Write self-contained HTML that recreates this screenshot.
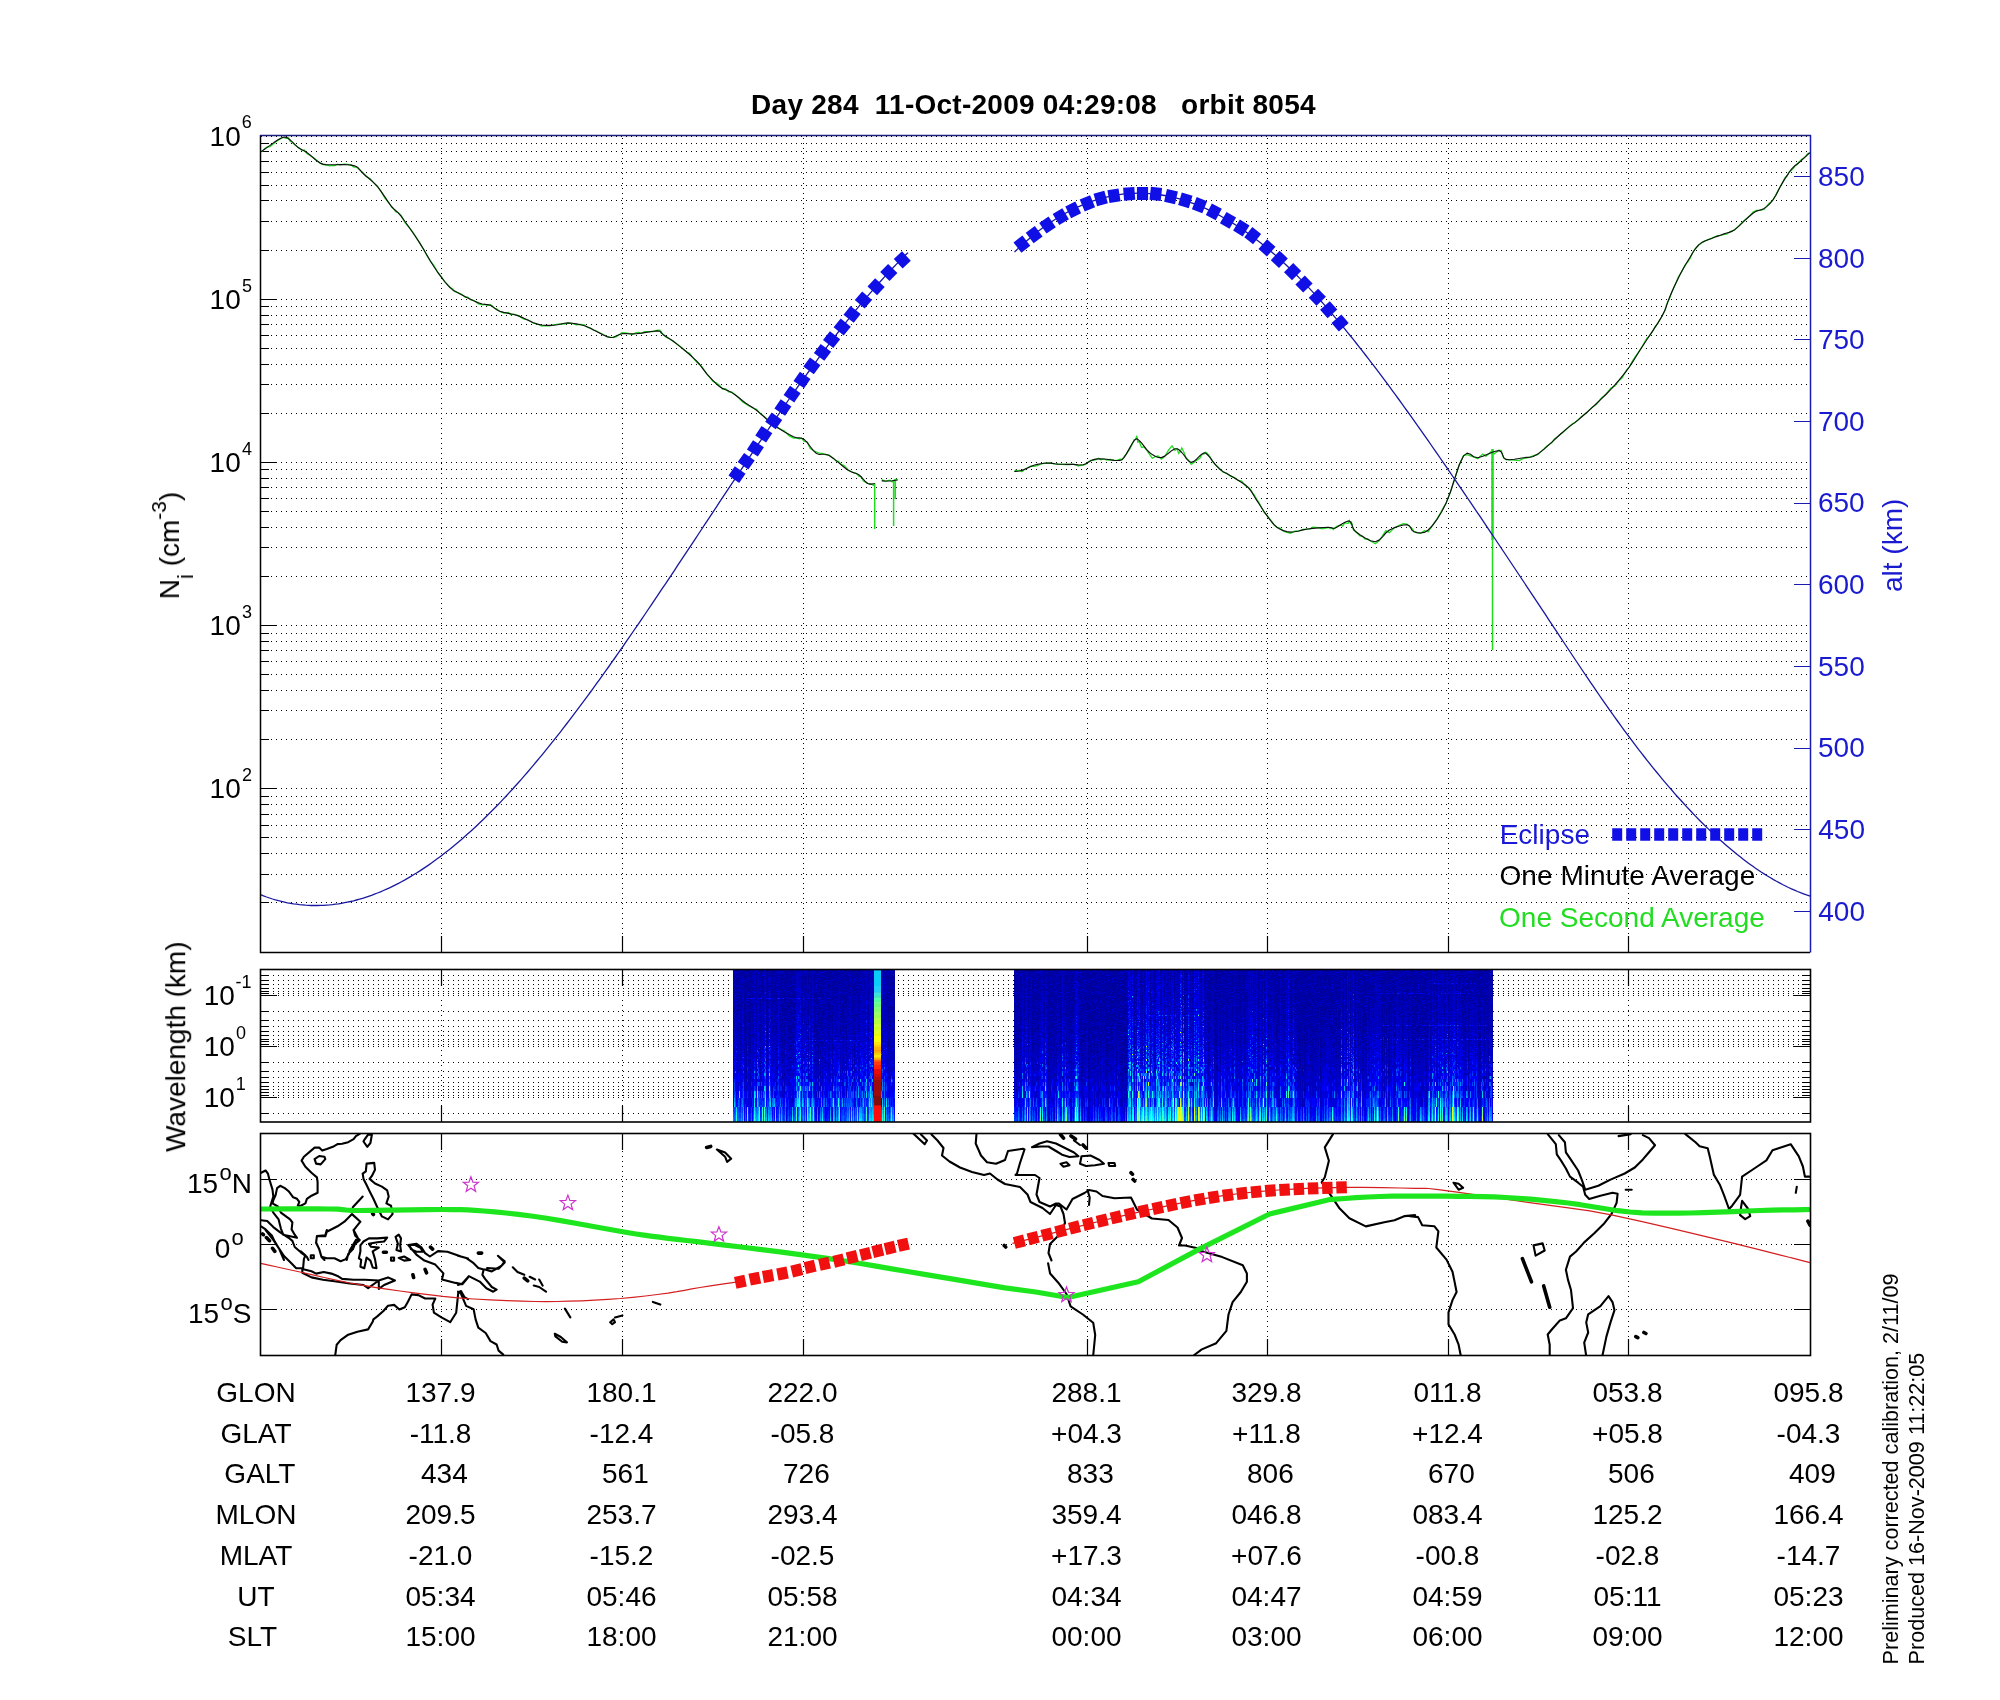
<!DOCTYPE html>
<html><head><meta charset="utf-8"><style>html,body{margin:0;padding:0;background:#fff;overflow:hidden}svg{display:block;will-change:transform}text{white-space:pre}</style></head>
<body><svg width="2000" height="1700" viewBox="0 0 2000 1700">
<rect width="2000" height="1700" fill="#fff"/>
<path d="M261 136.5H1810M261 143.5H1810M261 151.5H1810M261 161.5H1810M261 172.5H1810M261 185.5H1810M261 200.5H1810M261 221.5H1810M261 250.5H1810M261 299.5H1810M261 306.5H1810M261 315.5H1810M261 324.5H1810M261 335.5H1810M261 348.5H1810M261 364.5H1810M261 384.5H1810M261 413.5H1810M261 462.5H1810M261 469.5H1810M261 478.5H1810M261 487.5H1810M261 498.5H1810M261 511.5H1810M261 527.5H1810M261 547.5H1810M261 576.5H1810M261 625.5H1810M261 633.5H1810M261 641.5H1810M261 650.5H1810M261 661.5H1810M261 674.5H1810M261 690.5H1810M261 710.5H1810M261 739.5H1810M261 788.5H1810M261 796.5H1810M261 804.5H1810M261 814.5H1810M261 825.5H1810M261 837.5H1810M261 853.5H1810M261 874.5H1810M261 902.5H1810" stroke="#000" stroke-width="1" stroke-dasharray="1 4" fill="none"/>
<path d="M441.5 138V952M622.5 138V952M803.5 138V952M1087.5 138V952M1267.5 138V952M1448.5 138V952M1628.5 138V952" stroke="#000" stroke-width="1" stroke-dasharray="1 4" fill="none"/>
<path d="M261 902.5h8M261 874.5h8M261 853.5h8M261 837.5h8M261 825.5h8M261 814.5h8M261 804.5h8M261 796.5h8M261 788.5h16M261 739.5h8M261 710.5h8M261 690.5h8M261 674.5h8M261 661.5h8M261 650.5h8M261 641.5h8M261 633.5h8M261 625.5h16M261 576.5h8M261 547.5h8M261 527.5h8M261 511.5h8M261 498.5h8M261 487.5h8M261 478.5h8M261 469.5h8M261 462.5h16M261 413.5h8M261 384.5h8M261 364.5h8M261 348.5h8M261 335.5h8M261 324.5h8M261 315.5h8M261 306.5h8M261 299.5h16M261 250.5h8M261 221.5h8M261 200.5h8M261 185.5h8M261 172.5h8M261 161.5h8M261 151.5h8M261 143.5h8M261 135.5h16M441.5 952v-16M622.5 952v-16M803.5 952v-16M1087.5 952v-16M1267.5 952v-16M1448.5 952v-16M1628.5 952v-16" stroke="#000" stroke-width="1.2" fill="none"/>
<path d="M1810 911.5h-16M1810 829.5h-16M1810 748.5h-16M1810 666.5h-16M1810 584.5h-16M1810 503.5h-16M1810 421.5h-16M1810 339.5h-16M1810 258.5h-16M1810 176.5h-16" stroke="#1a1ab4" stroke-width="1.2" fill="none"/>
<polyline points="260.2,151.7 261.2,151.5 262.6,150.9 264.5,148.9 266.8,147 270,146.6 273.8,143.5 277.7,140.4 280.9,138.4 283.1,137.4 284.7,137.8 286.1,138.4 287.9,137.4 290.1,141.3 292.5,142.5 295,145 297.4,146.8 299.7,148.4 302,150.6 304.4,149.9 306.8,153.6 309.4,154.8 312.2,156.9 314.9,158.8 317.4,161.2 319.4,162.6 321,163.7 322.9,164.5 325.6,164.9 329.7,165.9 332.2,165.3 334.8,165.6 337.4,164.1 339.9,164.8 344.4,164.1 348,164.5 351,164.9 353.8,167.1 356.2,167 358.1,168.6 359.5,169.8 361.1,171.2 363.2,173 366.2,176.4 369.9,178.4 373.7,182.9 377.4,186.1 381,191.1 384.7,197.8 388.3,202 391.5,206.9 394,209.2 395.9,211.9 398,212.5 400.9,215.2 405,222.7 410,228.6 412.6,232 415.1,235.6 419.7,243.2 423.6,249.5 427,255.7 430.4,261.2 433.8,265.3 437.4,271.9 441.1,276.3 444.7,281.8 447.9,284.9 450.3,287.5 452.2,288.8 454.3,291.4 457.4,292.5 462.1,294.5 464.9,297.2 467.8,297.1 470.7,299.9 473.6,300.3 478.5,303.8 482.2,304.9 485.1,304.3 487.7,305.6 490.3,304.6 492.6,306.6 494.6,308.3 496.7,308.9 499.7,311.4 503.7,313.2 508.5,312.4 511,314.7 513.6,314.1 518.5,315.7 523.3,319 528.1,319.8 532.8,322.8 537.4,324 541.7,326.1 545.9,325.6 549.9,325.8 553.8,324.8 557.5,324.1 560.9,324.2 564.3,324 568,323.2 572.1,323.5 576.4,324.9 580.6,324.4 584.4,324.9 587.6,327.4 590.4,328.2 593.2,330 596.2,331 599.6,332.9 603.3,334.5 606.9,336.6 610.3,337.2 613.3,337.5 616.1,336.9 619,334.8 622,332.6 625.2,333 628.5,333.5 632.1,334.6 636.2,332.6 638.8,332.5 641.4,333.5 644.4,331.6 647.5,331.7 650.3,331.6 653.2,331.5 657.6,330.1 659.9,330.2 660.7,332.4 661.3,331.8 662.9,334.3 665.7,337 669.1,338.7 672.9,340.9 677,344.1 681.7,347.8 684.3,350 687,352.3 689.6,353.4 692.1,356.7 696.5,362 699.7,364.8 702.2,367.2 704.5,370.6 707,374.2 710,377.6 713.1,381.4 716.3,382.8 719.4,385.2 722.5,389.1 725.5,388.6 728.6,391.9 731.8,392.2 735.3,394.7 739,398 742.6,401.9 745.9,404 748.6,405.7 751,407 753.4,408.2 756.5,409.2 760.4,413.6 764.8,416.9 769.4,421.4 774.1,426 779,428.3 781.6,429.8 784.2,430.7 789.2,435.9 793.5,438 796.7,438.1 799.2,438.8 801.5,438.1 804.1,441.3 807.1,441.8 810.2,448.5 813.4,450.5 816.5,452 819.4,453.1 822.2,453.5 825.2,454.5 828.8,455 833.4,458.2 836,460.9 838.6,461.3 841.2,464.7 843.8,465.4 848.2,470 851.5,471.5 854.2,472.8 856.5,473.5 858.8,476.2 861.2,476.8 863.4,481.1 865.6,482.2 867.6,483.3 869.7,483.7 871.7,484.3 873.5,485.4 874.7,483.5" stroke="#22dd22" stroke-width="1.3" fill="none"/>
<polyline points="881.7,479.4 883.2,480.5 885.4,481.5 887.8,480.7 890,480.1 892.1,481.9 894.3,479.9 896.3,479.2 897.6,480" stroke="#22dd22" stroke-width="1.3" fill="none"/>
<polyline points="1014.4,471.6 1015.7,470.1 1017.5,471.1 1019.6,470.2 1022,471.6 1024.6,469.5 1027.6,467.7 1030.7,466.2 1033.9,466.4 1037.3,465.6 1040.8,464 1044.3,463.1 1047.5,463.1 1050.2,462.9 1052.5,463.7 1054.9,463.9 1057.7,464.1 1061.3,464.4 1065.3,464.5 1069.4,464.5 1073,464.1 1075.9,465 1078.4,466 1080.8,464.9 1083.2,465 1085.8,464.1 1088.3,461.7 1090.9,460.3 1093.4,460.3 1095.9,459.7 1098.3,458.3 1100.8,459.9 1103.6,459 1106.9,460 1110.6,459.5 1114.2,460.4 1117.2,460.4 1119.3,459.4 1120.8,459.2 1122.2,459.6 1124,456.8 1126.4,453.9 1129.2,449.9 1131.9,444.9 1134.2,439.6 1135.7,439.4 1136.8,435.8 1137.8,442.2 1139.3,441.5 1141.5,447.4 1144,446.8 1146.7,450.1 1149.5,454.4 1152.3,458.2 1155.2,456.6 1158.3,456 1161.4,459.2 1164.8,456.3 1168.5,450.2 1172,445.8 1175,450.3 1177.1,448.9 1178.7,453.4 1180.1,451.7 1181.8,448 1183.9,452.3 1186.2,458.3 1188.7,460.5 1191.2,464.3 1194,462.4 1197,460 1199.8,458.2 1202.2,454.1 1203.7,454 1204.7,453.4 1205.7,452.2 1207.3,453.4 1209.7,456.3 1212.6,461.6 1215.8,465.1 1219.2,468.2 1222.8,472 1226.7,473.4 1230.7,476.4 1234.5,477.7 1238.1,480.5 1241.7,481.2 1245.1,485.6 1248.1,487.3 1250.5,489.5 1252.6,493.1 1254.5,495.4 1256.6,499.2 1259,502.7 1261.6,507.7 1264.2,512.3 1266.8,515.1 1269.3,518.4 1271.7,521.3 1274.2,524.8 1277,527.6 1280.1,528.2 1283.4,531.2 1286.9,532.4 1290.6,533.2 1294.5,531.2 1298.7,531.2 1303,529.5 1307.6,529.1 1310.2,528.9 1312.8,527.2 1315.6,527.3 1318.4,527.6 1321.1,528.7 1323.8,528.7 1328,527.5 1330.6,528.6 1332,527.9 1333.2,529.6 1334.8,528 1337.2,526 1340,525.1 1342.7,525.9 1345,522.6 1346.7,523.4 1348.1,523.4 1349.3,520.6 1350.6,523.5 1351.6,522.4 1352.4,526.6 1353.6,530.3 1355.9,531.7 1359.9,536 1362.5,536.4 1365.1,539.1 1367.8,539 1370.5,541 1375.3,543.8 1379.1,540.8 1382.5,535.9 1385.8,530.6 1389.4,532.6 1393.8,528.3 1398.6,525.5 1403.3,523.6 1407,524.1 1409.3,526.3 1410.8,527.6 1412.1,528.8 1414.1,531.7 1417,532.7 1420.5,533.2 1424.3,530.6 1428.2,531.8 1432.4,525.3 1436.8,519.4 1441.4,511.2 1445.9,503.4 1450.4,492.1 1454.9,478.2 1459.3,464.6 1463.5,455.6 1467.1,454.7 1470.4,455.8 1473.7,456.9 1477.7,458.8 1480.3,456.2 1482.8,454.1 1485.8,456.1 1488.7,453.9 1491.5,451.2 1494.3,453.8 1498.8,450.3 1501.3,450.6 1502.6,455.3 1503.7,458.1 1505.9,459.6 1509.7,459.9 1514.3,460 1519.2,460.7 1523.6,458.4 1527,457.8 1530,457.2 1533.3,455.7 1537.7,454.7 1540.9,451.6 1544.1,448.7 1546.7,446.2 1549.3,444.3 1551.9,442.8 1554.5,438.7 1557.1,437.1 1559.6,434.7 1562.8,432.4 1565.9,429.8 1570,425.8 1572.7,423.6 1575.1,422.5 1578.2,419.8 1582.4,415.8 1587,412.6 1591.8,407.4 1596.5,404.3 1601.1,398.1 1605.8,394.6 1610.4,388.6 1614.7,385.9 1618.6,381.1 1622.3,377.5 1625.9,370.9 1629.3,366.8 1632.4,361.2 1635.3,356.7 1638.3,352.6 1642,346.8 1646.8,338.5 1649.6,335.7 1652.4,331.7 1655.1,326.6 1657.8,323.3 1662.1,316 1664.8,310.7 1666.4,305.3 1667.7,302.2 1669.4,298.8 1671.5,292.9 1673.8,287.8 1676.2,282.3 1678.5,276.8 1680.7,273.5 1682.9,269.4 1685.2,264.9 1687.6,262.1 1690.2,258.2 1692.9,252 1695.7,248.2 1698.6,245.2 1701.7,242.8 1704.8,241.2 1708.1,239.7 1711.3,238.7 1714.5,236.9 1717.8,235.7 1721,235.3 1724.1,234.3 1726.8,234.1 1729.2,232.3 1731.8,230.9 1735,229.8 1739.2,225.4 1744.1,220.6 1749.1,216.4 1753.3,211.9 1756.6,210.3 1759.3,210.3 1761.8,209.9 1764.2,209.2 1766.6,206.4 1768.9,203.5 1771.1,202.1 1773.3,199.4 1775.6,195.4 1777.8,191.1 1780.1,186.7 1782.4,183 1784.7,178.2 1787.1,176.1 1789.4,171.8 1791.5,170.2 1793.4,168.4 1795,165.5 1796.8,164.4 1798.8,162.2 1801.5,159.4 1804.8,157.3 1807.7,153.6 1809.8,152.8" stroke="#22dd22" stroke-width="1.3" fill="none"/>
<path d="M874.7 483V529M893.6 480V526M895.3 481V499M1492.5 449V650" stroke="#22dd22" stroke-width="1.5" fill="none"/>
<path d="M1492.5 449V540" stroke="#22dd22" stroke-width="2.4" fill="none"/>
<polyline points="260.2,152.4 261.2,151.6 262.6,150.6 264.5,149.2 266.8,147.6 270,145.4 273.8,142.6 277.7,140 280.9,138.2 283.1,137.3 284.7,137.1 286.1,137.4 287.9,138.2 290.1,139.8 292.5,142.2 295,144.7 297.4,146.9 299.7,148.4 302,149.7 304.4,150.9 306.8,152.4 309.4,154.5 312.2,156.9 314.9,159.2 317.4,161.1 319.4,162.4 321,163.4 322.9,164.1 325.6,164.6 329.7,164.8 334.8,164.7 339.9,164.5 344.4,164.6 348,164.8 351,165.1 353.8,165.6 356.2,166.5 358.1,167.8 359.5,169.3 361.1,171.2 363.2,173.5 366.2,176.2 369.9,179.2 373.7,182.6 377.4,186.5 381,191.3 384.7,196.7 388.3,202.1 391.5,206.5 394,209.2 395.9,210.8 398,212.6 400.9,215.9 405,221.5 410,228.5 415.1,236 419.7,242.9 423.6,249.2 427,255.2 430.4,261 433.8,266.5 437.4,271.8 441.1,276.9 444.7,281.5 447.9,285.3 450.3,287.8 452.2,289.4 454.3,290.7 457.4,292.4 462.1,295 467.8,297.9 473.6,300.8 478.5,302.9 482.2,304 485.1,304.4 487.7,304.6 490.3,305.3 492.6,306.6 494.6,308.1 496.7,309.7 499.7,311.2 503.7,312.4 508.5,313.4 513.6,314.5 518.5,315.9 523.3,317.9 528.1,320.2 532.8,322.5 537.4,324.1 541.7,325 545.9,325.4 549.9,325.4 553.8,325.3 557.5,324.8 560.9,324 564.3,323.2 568,322.9 572.1,323.2 576.4,323.9 580.6,324.8 584.4,325.8 587.6,327 590.4,328.3 593.2,329.7 596.2,331.2 599.6,332.9 603.3,334.9 606.9,336.6 610.3,337.5 613.3,337.2 616.1,336 619,334.7 622,333.8 625.2,333.6 628.5,333.8 632.1,333.9 636.2,333.8 641.4,333.1 647.5,332.1 653.2,331.2 657.6,330.9 659.9,331.2 660.7,331.9 661.3,332.9 662.9,334.4 665.7,336.2 669.1,338.4 672.9,341 677,344.1 681.7,347.9 687,352.3 692.1,356.8 696.5,360.9 699.7,364.5 702.2,367.8 704.5,370.9 707,374.1 710,377.4 713.1,380.7 716.3,383.9 719.4,386.5 722.5,388.4 725.5,389.7 728.6,390.9 731.8,392.6 735.3,395 739,397.8 742.6,400.7 745.9,403.2 748.6,405 751,406.5 753.4,408.1 756.5,410.3 760.4,413.6 764.8,417.5 769.4,421.6 774.1,425.3 779,428.6 784.2,431.8 789.2,434.6 793.5,436.8 796.7,437.8 799.2,437.9 801.5,438.2 804.1,439.4 807.1,442.4 810.2,446.5 813.4,450.6 816.5,453.5 819.4,454.5 822.2,454.3 825.2,454.2 828.8,455.3 833.4,458.4 838.6,462.6 843.8,467 848.2,470.3 851.5,472 854.2,472.9 856.5,473.5 858.8,474.7 861.2,476.8 863.4,479.4 865.6,481.8 867.6,483.5 869.7,484.1 871.7,484.1 873.5,483.7 874.7,483.5" stroke="#101010" stroke-width="1.15" fill="none" stroke-linejoin="round"/>
<polyline points="881.7,480.9 883.2,480.9 885.4,481 887.8,481 890,481 892.1,480.8 894.3,480.5 896.3,480.2 897.6,480" stroke="#101010" stroke-width="1.15" fill="none" stroke-linejoin="round"/>
<polyline points="1014.4,471.5 1015.7,471.4 1017.5,471.3 1019.6,471 1022,470.4 1024.6,469.3 1027.6,467.9 1030.7,466.5 1033.9,465.3 1037.3,464.4 1040.8,463.8 1044.3,463.3 1047.5,463 1050.2,463.1 1052.5,463.4 1054.9,463.8 1057.7,464.1 1061.3,464.2 1065.3,464.3 1069.4,464.3 1073,464.4 1075.9,464.6 1078.4,464.9 1080.8,465 1083.2,464.7 1085.8,463.7 1088.3,462.2 1090.9,460.7 1093.4,459.6 1095.9,459.1 1098.3,458.9 1100.8,458.9 1103.6,459 1106.9,459.3 1110.6,459.9 1114.2,460.4 1117.2,460.5 1119.3,460.4 1120.8,460.2 1122.2,459.4 1124,457.6 1126.4,453.9 1129.2,448.9 1131.9,444 1134.2,440.6 1135.7,439.1 1136.8,438.8 1137.8,439.4 1139.3,440.6 1141.5,442.9 1144,446.2 1146.7,449.7 1149.5,452.5 1152.3,454.6 1155.2,456.3 1158.3,457.5 1161.4,457.6 1164.8,456.1 1168.5,453.3 1172,450.4 1175,448.8 1177.1,448.7 1178.7,449.5 1180.1,450.8 1181.8,452.5 1183.9,455 1186.2,458.2 1188.7,461.1 1191.2,462.4 1194,461.4 1197,458.7 1199.8,455.8 1202.2,453.9 1203.7,453.1 1204.7,452.8 1205.7,453.2 1207.3,454.5 1209.7,457.2 1212.6,461.1 1215.8,465.2 1219.2,468.7 1222.8,471.4 1226.7,473.6 1230.7,475.8 1234.5,478 1238.1,480.3 1241.7,482.5 1245.1,484.8 1248.1,487.4 1250.5,490.3 1252.6,493.4 1254.5,496.7 1256.6,500.1 1259,503.8 1261.6,507.8 1264.2,511.8 1266.8,515.4 1269.3,518.8 1271.7,522 1274.2,524.9 1277,527.3 1280.1,529.2 1283.4,530.6 1286.9,531.6 1290.6,532.1 1294.5,531.8 1298.7,531 1303,529.9 1307.6,529 1312.8,528.4 1318.4,527.9 1323.8,527.5 1328,527.3 1330.6,527.5 1332,528 1333.2,528.4 1334.8,528.2 1337.2,527.1 1340,525.3 1342.7,523.5 1345,522.2 1346.7,521.5 1348.1,521.1 1349.3,521.1 1350.6,521.9 1351.6,523.7 1352.4,526.2 1353.6,529.1 1355.9,531.8 1359.9,534.8 1365.1,538.1 1370.5,540.7 1375.3,541.7 1379.1,540.1 1382.5,536.8 1385.8,533 1389.4,530 1393.8,527.9 1398.6,526.2 1403.3,525 1407,524.7 1409.3,525.8 1410.8,528 1412.1,530.4 1414.1,531.8 1417,532.6 1420.5,533 1424.3,532.4 1428.2,530 1432.4,525.6 1436.8,519.7 1441.4,512.3 1445.9,503.6 1450.4,492 1454.9,478 1459.3,464.8 1463.5,455.9 1467.1,453.1 1470.4,454.3 1473.7,456.7 1477.7,457.7 1482.8,456.2 1488.7,453.7 1494.3,451.5 1498.8,450.6 1501.3,451.9 1502.6,454.7 1503.7,457.6 1505.9,459.4 1509.7,459.8 1514.3,459.3 1519.2,458.5 1523.6,457.7 1527,457.4 1530,457.3 1533.3,456.5 1537.7,454.1 1544.1,449.1 1551.9,442.1 1559.6,435 1565.9,429.4 1570,426.1 1572.7,424.1 1575.1,422.4 1578.2,419.9 1582.4,416.3 1587,412.2 1591.8,407.9 1596.5,403.5 1601.1,399.1 1605.8,394.5 1610.4,389.8 1614.7,385.2 1618.6,380.7 1622.3,376.2 1625.9,371.7 1629.3,367 1632.4,362.4 1635.3,357.8 1638.3,352.8 1642,347 1646.8,339.7 1652.4,331.4 1657.8,323.1 1662.1,316 1664.8,310.6 1666.4,306.2 1667.7,302.1 1669.4,297.7 1671.5,292.7 1673.8,287.6 1676.2,282.5 1678.5,277.7 1680.7,273.3 1682.9,269.3 1685.2,265.3 1687.6,261.3 1690.2,257 1692.9,252.5 1695.7,248.3 1698.6,244.9 1701.7,242.6 1704.8,241 1708.1,239.7 1711.3,238.5 1714.5,237.2 1717.8,236.1 1721,235 1724.1,233.9 1726.8,233 1729.2,232.4 1731.8,231.4 1735,229.4 1739.2,225.9 1744.1,221.2 1749.1,216.5 1753.3,213 1756.6,211.1 1759.3,210.2 1761.8,209.6 1764.2,208.4 1766.6,206.6 1768.9,204.6 1771.1,202.2 1773.3,199.3 1775.6,195.7 1777.8,191.4 1780.1,187 1782.4,182.9 1784.7,179.1 1787.1,175.4 1789.4,172 1791.5,169.2 1793.4,167.2 1795,165.8 1796.8,164.5 1798.8,162.8 1801.5,160.3 1804.8,157.4 1807.7,154.7 1809.8,152.8" stroke="#101010" stroke-width="1.15" fill="none" stroke-linejoin="round"/>
<polyline points="260.5,894.7 263.5,895.9 266.5,897 269.5,898 272.5,899 275.5,899.9 278.5,900.7 281.5,901.4 284.5,902.1 287.5,902.8 290.5,903.3 293.5,903.8 296.5,904.2 299.5,904.6 302.5,904.9 305.5,905.2 308.5,905.3 311.5,905.5 314.5,905.5 317.5,905.5 320.5,905.4 323.5,905.3 326.5,905.1 329.5,904.9 332.5,904.6 335.5,904.2 338.5,903.8 341.5,903.3 344.5,902.7 347.5,902.1 350.5,901.5 353.5,900.8 356.5,900 359.5,899.2 362.5,898.3 365.5,897.3 368.5,896.3 371.5,895.3 374.5,894.1 377.5,893 380.5,891.8 383.5,890.5 386.5,889.2 389.5,887.8 392.5,886.3 395.5,884.8 398.5,883.3 401.5,881.7 404.5,880.1 407.5,878.4 410.5,876.6 413.5,874.8 416.5,873 419.5,871.1 422.5,869.1 425.5,867.1 428.5,865.1 431.5,863 434.5,860.8 437.5,858.6 440.5,856.4 443.5,854.1 446.5,851.8 449.5,849.4 452.5,847 455.5,844.5 458.5,842 461.5,839.4 464.5,836.8 467.5,834.1 470.5,831.4 473.5,828.7 476.5,825.9 479.5,823.1 482.5,820.2 485.5,817.3 488.5,814.3 491.5,811.3 494.5,808.3 497.5,805.2 500.5,802.1 503.5,798.9 506.5,795.7 509.5,792.4 512.5,789.2 515.5,785.8 518.5,782.5 521.5,779.1 524.5,775.6 527.5,772.2 530.5,768.7 533.5,765.1 536.5,761.5 539.5,757.9 542.5,754.3 545.5,750.6 548.5,746.9 551.5,743.2 554.5,739.4 557.5,735.6 560.5,731.8 563.5,727.9 566.5,724 569.5,720.1 572.5,716.2 575.5,712.2 578.5,708.2 581.5,704.2 584.5,700.1 587.5,696.1 590.5,692 593.5,687.9 596.5,683.7 599.5,679.6 602.5,675.4 605.5,671.2 608.5,667 611.5,662.7 614.5,658.5 617.5,654.2 620.5,649.9 623.5,645.6 626.5,641.2 629.5,636.9 632.5,632.5 635.5,628.2 638.5,623.8 641.5,619.4 644.5,615 647.5,610.5 650.5,606.1 653.5,601.6 656.5,597.2 659.5,592.7 662.5,588.2 665.5,583.8 668.5,579.3 671.5,574.8 674.5,570.3 677.5,565.7 680.5,561.2 683.5,556.7 686.5,552.2 689.5,547.6 692.5,543.1 695.5,538.6 698.5,534 701.5,529.5 704.5,524.9 707.5,520.4 710.5,515.8 713.5,511.3 716.5,506.8 719.5,502.2 722.5,497.7 725.5,493.2 728.5,488.6 731.5,484.1 734.5,479.6 737.5,475.1 740.5,470.6 743.5,466.1 746.5,461.6 749.5,457.1 752.5,452.6 755.5,448.2 758.5,443.7 761.5,439.3 764.5,434.9 767.5,430.5 770.5,426.1 773.5,421.7 776.5,417.3 779.5,413 782.5,408.6 785.5,404.3 788.5,400 791.5,395.7 794.5,391.5 797.5,387.2 800.5,383 803.5,378.8 806.5,374.7 809.5,370.5 812.5,366.4 815.5,362.3 818.5,358.2 821.5,354.2 824.5,350.2 827.5,346.2 830.5,342.2 833.5,338.3 836.5,334.4 839.5,330.5 842.5,326.7 845.5,322.9 848.5,319.1 851.5,315.4 854.5,311.7 857.5,308.1 860.5,304.4 863.5,300.9 866.5,297.3 869.5,293.8 872.5,290.3 875.5,286.9 878.5,283.5 881.5,280.2 884.5,276.9 887.5,273.6 890.5,270.4 893.5,267.2 896.5,264.1 899.5,261 902.5,258 905.5,255 908,252.6" stroke="#1818a0" stroke-width="1.3" fill="none"/>
<polyline points="1014.5,252 1017.5,249.1 1020.5,246.3 1023.5,243.6 1026.5,241 1029.5,238.4 1032.5,235.9 1035.5,233.5 1038.5,231.1 1041.5,228.8 1044.5,226.6 1047.5,224.5 1050.5,222.4 1053.5,220.5 1056.5,218.5 1059.5,216.7 1062.5,214.9 1065.5,213.2 1068.5,211.6 1071.5,210 1074.5,208.6 1077.5,207.1 1080.5,205.8 1083.5,204.5 1086.5,203.3 1089.5,202.2 1092.5,201.1 1095.5,200.1 1098.5,199.2 1101.5,198.3 1104.5,197.5 1107.5,196.8 1110.5,196.1 1113.5,195.6 1116.5,195 1119.5,194.6 1122.5,194.2 1125.5,193.9 1128.5,193.6 1131.5,193.4 1134.5,193.3 1137.5,193.2 1140.5,193.2 1143.5,193.3 1146.5,193.4 1149.5,193.6 1152.5,193.8 1155.5,194.1 1158.5,194.5 1161.5,195 1164.5,195.5 1167.5,196 1170.5,196.7 1173.5,197.4 1176.5,198.1 1179.5,198.9 1182.5,199.8 1185.5,200.7 1188.5,201.7 1191.5,202.8 1194.5,203.9 1197.5,205 1200.5,206.3 1203.5,207.6 1206.5,208.9 1209.5,210.3 1212.5,211.8 1215.5,213.3 1218.5,214.9 1221.5,216.5 1224.5,218.2 1227.5,219.9 1230.5,221.8 1233.5,223.6 1236.5,225.5 1239.5,227.5 1242.5,229.5 1245.5,231.6 1248.5,233.7 1251.5,235.9 1254.5,238.2 1257.5,240.5 1260.5,242.8 1263.5,245.2 1266.5,247.7 1269.5,250.2 1272.5,252.7 1275.5,255.3 1278.5,258 1281.5,260.7 1284.5,263.5 1287.5,266.3 1290.5,269.2 1293.5,272.1 1296.5,275 1299.5,278.1 1302.5,281.1 1305.5,284.2 1308.5,287.4 1311.5,290.6 1314.5,293.9 1317.5,297.2 1320.5,300.5 1323.5,303.9 1326.5,307.3 1329.5,310.8 1332.5,314.3 1335.5,317.8 1338.5,321.4 1341.5,325 1344.5,328.6 1347.5,332.3 1350.5,336 1353.5,339.7 1356.5,343.5 1359.5,347.3 1362.5,351.1 1365.5,355 1368.5,358.9 1371.5,362.8 1374.5,366.7 1377.5,370.7 1380.5,374.6 1383.5,378.6 1386.5,382.7 1389.5,386.7 1392.5,390.8 1395.5,394.9 1398.5,399 1401.5,403.2 1404.5,407.3 1407.5,411.5 1410.5,415.7 1413.5,419.9 1416.5,424.1 1419.5,428.4 1422.5,432.6 1425.5,436.9 1428.5,441.2 1431.5,445.5 1434.5,449.8 1437.5,454.2 1440.5,458.5 1443.5,462.9 1446.5,467.2 1449.5,471.6 1452.5,476 1455.5,480.4 1458.5,484.8 1461.5,489.2 1464.5,493.6 1467.5,498 1470.5,502.4 1473.5,506.9 1476.5,511.3 1479.5,515.7 1482.5,520.2 1485.5,524.6 1488.5,529.1 1491.5,533.6 1494.5,538 1497.5,542.5 1500.5,547 1503.5,551.5 1506.5,556 1509.5,560.5 1512.5,565 1515.5,569.5 1518.5,574 1521.5,578.5 1524.5,583 1527.5,587.6 1530.5,592.1 1533.5,596.6 1536.5,601.1 1539.5,605.7 1542.5,610.2 1545.5,614.7 1548.5,619.3 1551.5,623.8 1554.5,628.3 1557.5,632.9 1560.5,637.4 1563.5,642 1566.5,646.5 1569.5,651 1572.5,655.5 1575.5,660 1578.5,664.5 1581.5,669 1584.5,673.5 1587.5,677.9 1590.5,682.3 1593.5,686.7 1596.5,691.1 1599.5,695.5 1602.5,699.8 1605.5,704.1 1608.5,708.4 1611.5,712.6 1614.5,716.8 1617.5,721 1620.5,725.2 1623.5,729.3 1626.5,733.3 1629.5,737.4 1632.5,741.4 1635.5,745.3 1638.5,749.3 1641.5,753.1 1644.5,757 1647.5,760.8 1650.5,764.6 1653.5,768.3 1656.5,772 1659.5,775.7 1662.5,779.3 1665.5,782.8 1668.5,786.4 1671.5,789.8 1674.5,793.3 1677.5,796.7 1680.5,800 1683.5,803.3 1686.5,806.6 1689.5,809.8 1692.5,813 1695.5,816.1 1698.5,819.2 1701.5,822.2 1704.5,825.2 1707.5,828.1 1710.5,831 1713.5,833.9 1716.5,836.7 1719.5,839.4 1722.5,842.1 1725.5,844.7 1728.5,847.3 1731.5,849.8 1734.5,852.3 1737.5,854.8 1740.5,857.1 1743.5,859.4 1746.5,861.7 1749.5,863.9 1752.5,866.1 1755.5,868.2 1758.5,870.2 1761.5,872.2 1764.5,874.1 1767.5,876 1770.5,877.8 1773.5,879.6 1776.5,881.3 1779.5,882.9 1782.5,884.5 1785.5,886 1788.5,887.5 1791.5,888.9 1794.5,890.2 1797.5,891.5 1800.5,892.7 1803.5,893.8 1806.5,894.9 1809.5,895.9 1810,896.1" stroke="#1818a0" stroke-width="1.3" fill="none"/>
<path d="M728.5 475.5 734.8 466.3 745.5 473.7 739.2 482.9zM737.7 462 744.1 452.9 754.7 460.4 748.3 469.5zM746.9 449.5 753 440.2 763.9 447.3 757.8 456.6zM755.3 435.4 761.5 426 772.3 433.2 766.1 442.6zM765.2 421.7 771.7 412.6 782.2 420.1 775.7 429.2zM774.4 408.4 780.7 399.2 791.4 406.6 785.1 415.8zM783.6 395 790 385.8 800.6 393.2 794.2 402.4zM793.5 380.9 799.9 371.7 810.5 379.1 804.1 388.3zM803.3 366.4 810 357.4 820.5 365.2 813.8 374.2zM813.9 353 820.7 344 831.1 351.8 824.3 360.8zM823 340.1 829.9 331.3 840.2 339.3 833.3 348.1zM833.6 327.3 840.7 318.6 850.8 326.7 843.7 335.4zM843.5 314.7 850.5 305.9 860.7 313.9 853.7 322.7zM854.8 300.1 862.2 291.6 872 300.1 864.6 308.6zM867.5 286.4 875.1 278.2 884.7 287 877.1 295.2zM880.2 272 888.1 264 897.4 273 889.5 281zM893.8 259 902 251.3 910.8 260.8 902.6 268.5z" fill="#1010e6"/>
<path d="M1013.5 242.4 1022.4 235.5 1030.3 245.8 1021.4 252.7zM1025.8 232.7 1034.8 226 1042.6 236.5 1033.6 243.2zM1039.2 222.9 1048.5 216.6 1055.8 227.3 1046.5 233.6zM1052.7 213.9 1062.3 208.2 1068.9 219.3 1059.3 225zM1065.3 206.6 1075.3 201.6 1081.1 213.2 1071.1 218.2zM1079.7 199.4 1090.1 195.2 1095.1 207.2 1084.7 211.4zM1093.5 193.8 1104.3 190.7 1107.9 203.2 1097.1 206.3zM1107.4 190.2 1118.5 188.4 1120.6 201.2 1109.5 203zM1123.1 187.8 1134.3 186.9 1135.3 199.8 1124.1 200.7zM1136.9 187 1148.1 187 1148.1 200 1136.9 200zM1150.9 186.7 1162.1 187.9 1160.7 200.9 1149.5 199.7zM1167 189 1177.9 191.5 1175 204.2 1164.1 201.7zM1181.8 192.6 1192.5 195.8 1188.8 208.2 1178.1 205zM1196.7 197.1 1207.1 201.2 1202.3 213.3 1191.9 209.2zM1211.9 203.4 1221.8 208.7 1215.7 220.2 1205.8 214.9zM1226.5 212 1236.1 217.6 1229.5 228.8 1219.9 223.2zM1239.9 219.5 1249.5 225.4 1242.7 236.5 1233.1 230.6zM1252.3 227 1261.1 233.9 1253.1 244.2 1244.3 237.3zM1267.1 239.3 1275.5 246.8 1266.9 256.5 1258.5 249zM1279.6 250.7 1287.8 258.4 1279 267.9 1270.8 260.2zM1293.2 263.1 1301.2 271.1 1292 280.3 1284 272.3zM1304.8 275.5 1312.6 283.5 1303.2 292.5 1295.4 284.5zM1318.1 288.8 1325.9 296.8 1316.5 305.8 1308.7 297.8zM1329.8 301.2 1337.3 309.6 1327.6 318.2 1320.1 309.8zM1341.4 314.5 1348.7 323 1338.8 331.5 1331.5 323z" fill="#1010e6"/>
<path d="M1612.2 828.3 1622.2 828.3 1622.2 840.7 1612.2 840.7zM1626.2 828.3 1636.2 828.3 1636.2 840.7 1626.2 840.7zM1640.2 828.3 1650.2 828.3 1650.2 840.7 1640.2 840.7zM1654.2 828.3 1664.2 828.3 1664.2 840.7 1654.2 840.7zM1668.2 828.3 1678.2 828.3 1678.2 840.7 1668.2 840.7zM1682.2 828.3 1692.2 828.3 1692.2 840.7 1682.2 840.7zM1696.2 828.3 1706.2 828.3 1706.2 840.7 1696.2 840.7zM1710.2 828.3 1720.2 828.3 1720.2 840.7 1710.2 840.7zM1724.2 828.3 1734.2 828.3 1734.2 840.7 1724.2 840.7zM1738.2 828.3 1748.2 828.3 1748.2 840.7 1738.2 840.7zM1752.2 828.3 1762.2 828.3 1762.2 840.7 1752.2 840.7z" fill="#1010e6"/>
<path d="M260.5 135V952.5H1810" stroke="#000" stroke-width="1.5" fill="none"/>
<path d="M260 135.5H1811" stroke="#1c1c7c" stroke-width="1.6" fill="none"/>
<path d="M1810.5 135V952.5" stroke="#1a1ab4" stroke-width="1.5" fill="none"/>
<path d="M263 975.5H1810M263 980.5H1810M263 984.5H1810M263 988.5H1810M263 991.5H1810M263 993.5H1810M263 995.5H1810M263 1011.5H1810M263 1020.5H1810M263 1026.5H1810M263 1031.5H1810M263 1035.5H1810M263 1039.5H1810M263 1041.5H1810M263 1044.5H1810M263 1046.5H1810M263 1062.5H1810M263 1071.5H1810M263 1077.5H1810M263 1082.5H1810M263 1086.5H1810M263 1089.5H1810M263 1092.5H1810M263 1095.5H1810M263 1097.5H1810M263 1113.5H1810" stroke="#000" stroke-width="1" stroke-dasharray="1 4" fill="none"/>
<path d="M441.5 1000V1121M622.5 1000V1121M803.5 1000V1121M1087.5 1000V1121M1267.5 1000V1121M1448.5 1000V1121M1628.5 1000V1121" stroke="#000" stroke-width="1" stroke-dasharray="1 4" fill="none"/>
<path d="M261 975.5h8M1810 975.5h-8M261 980.5h8M1810 980.5h-8M261 984.5h8M1810 984.5h-8M261 988.5h8M1810 988.5h-8M261 991.5h8M1810 991.5h-8M261 993.5h8M1810 993.5h-8M261 995.5h16M1810 995.5h-16M261 1011.5h8M1810 1011.5h-8M261 1020.5h8M1810 1020.5h-8M261 1026.5h8M1810 1026.5h-8M261 1031.5h8M1810 1031.5h-8M261 1035.5h8M1810 1035.5h-8M261 1039.5h8M1810 1039.5h-8M261 1041.5h8M1810 1041.5h-8M261 1044.5h8M1810 1044.5h-8M261 1046.5h16M1810 1046.5h-16M261 1062.5h8M1810 1062.5h-8M261 1071.5h8M1810 1071.5h-8M261 1077.5h8M1810 1077.5h-8M261 1082.5h8M1810 1082.5h-8M261 1086.5h8M1810 1086.5h-8M261 1089.5h8M1810 1089.5h-8M261 1092.5h8M1810 1092.5h-8M261 1095.5h8M1810 1095.5h-8M261 1097.5h16M1810 1097.5h-16M261 1113.5h8M1810 1113.5h-8M441.5 970v16M441.5 1122v-16M622.5 970v16M622.5 1122v-16M803.5 970v16M803.5 1122v-16M1087.5 970v16M1087.5 1122v-16M1267.5 970v16M1267.5 1122v-16M1448.5 970v16M1448.5 1122v-16M1628.5 970v16M1628.5 1122v-16" stroke="#000" stroke-width="1.2" fill="none"/>
<defs><pattern id="sp" width="43" height="31" patternUnits="userSpaceOnUse"><rect width="43" height="31" fill="#00009f"/><path d="M6 0h1v1h-1zM11 0h1v1h-1zM16 0h1v1h-1zM21 0h1v1h-1zM23 0h1v1h-1zM25 0h1v1h-1zM26 0h1v1h-1zM0 1h1v1h-1zM1 1h1v1h-1zM2 1h1v1h-1zM5 1h1v1h-1zM14 1h1v1h-1zM16 1h1v1h-1zM19 1h1v1h-1zM23 1h1v1h-1zM24 1h1v1h-1zM25 1h1v1h-1zM27 1h1v1h-1zM35 1h1v1h-1zM39 1h1v1h-1zM41 1h1v1h-1zM7 2h1v1h-1zM8 2h1v1h-1zM9 2h1v1h-1zM12 2h1v1h-1zM13 2h1v1h-1zM22 2h1v1h-1zM24 2h1v1h-1zM27 2h1v1h-1zM32 2h1v1h-1zM34 2h1v1h-1zM4 3h1v1h-1zM11 3h1v1h-1zM31 3h1v1h-1zM8 4h1v1h-1zM15 4h1v1h-1zM24 4h1v1h-1zM25 4h1v1h-1zM31 4h1v1h-1zM34 4h1v1h-1zM35 4h1v1h-1zM37 4h1v1h-1zM38 4h1v1h-1zM39 4h1v1h-1zM3 5h1v1h-1zM7 5h1v1h-1zM10 5h1v1h-1zM12 5h1v1h-1zM22 5h1v1h-1zM30 5h1v1h-1zM31 5h1v1h-1zM34 5h1v1h-1zM12 6h1v1h-1zM18 6h1v1h-1zM25 6h1v1h-1zM33 6h1v1h-1zM1 7h1v1h-1zM7 7h1v1h-1zM18 7h1v1h-1zM21 7h1v1h-1zM28 7h1v1h-1zM33 7h1v1h-1zM36 7h1v1h-1zM41 7h1v1h-1zM3 8h1v1h-1zM9 8h1v1h-1zM12 8h1v1h-1zM15 8h1v1h-1zM17 8h1v1h-1zM18 8h1v1h-1zM20 8h1v1h-1zM21 8h1v1h-1zM25 8h1v1h-1zM32 8h1v1h-1zM34 8h1v1h-1zM2 9h1v1h-1zM6 9h1v1h-1zM9 9h1v1h-1zM11 9h1v1h-1zM12 9h1v1h-1zM19 9h1v1h-1zM21 9h1v1h-1zM22 9h1v1h-1zM26 9h1v1h-1zM30 9h1v1h-1zM38 9h1v1h-1zM6 10h1v1h-1zM7 10h1v1h-1zM9 10h1v1h-1zM13 10h1v1h-1zM19 10h1v1h-1zM20 10h1v1h-1zM21 10h1v1h-1zM25 10h1v1h-1zM28 10h1v1h-1zM32 10h1v1h-1zM40 10h1v1h-1zM2 11h1v1h-1zM4 11h1v1h-1zM6 11h1v1h-1zM15 11h1v1h-1zM22 11h1v1h-1zM23 11h1v1h-1zM26 11h1v1h-1zM31 11h1v1h-1zM32 11h1v1h-1zM36 11h1v1h-1zM38 11h1v1h-1zM40 11h1v1h-1zM1 12h1v1h-1zM2 12h1v1h-1zM4 12h1v1h-1zM8 12h1v1h-1zM10 12h1v1h-1zM16 12h1v1h-1zM28 12h1v1h-1zM30 12h1v1h-1zM34 12h1v1h-1zM35 12h1v1h-1zM37 12h1v1h-1zM41 12h1v1h-1zM0 13h1v1h-1zM1 13h1v1h-1zM4 13h1v1h-1zM22 13h1v1h-1zM23 13h1v1h-1zM24 13h1v1h-1zM28 13h1v1h-1zM31 13h1v1h-1zM32 13h1v1h-1zM33 13h1v1h-1zM42 13h1v1h-1zM3 14h1v1h-1zM5 14h1v1h-1zM10 14h1v1h-1zM21 14h1v1h-1zM24 14h1v1h-1zM26 14h1v1h-1zM2 15h1v1h-1zM5 15h1v1h-1zM6 15h1v1h-1zM7 15h1v1h-1zM10 15h1v1h-1zM18 15h1v1h-1zM21 15h1v1h-1zM24 15h1v1h-1zM42 15h1v1h-1zM0 16h1v1h-1zM9 16h1v1h-1zM25 16h1v1h-1zM27 16h1v1h-1zM33 16h1v1h-1zM1 17h1v1h-1zM5 17h1v1h-1zM18 17h1v1h-1zM19 17h1v1h-1zM20 17h1v1h-1zM23 17h1v1h-1zM24 17h1v1h-1zM29 17h1v1h-1zM41 17h1v1h-1zM42 17h1v1h-1zM0 18h1v1h-1zM1 18h1v1h-1zM2 18h1v1h-1zM4 18h1v1h-1zM14 18h1v1h-1zM15 18h1v1h-1zM16 18h1v1h-1zM22 18h1v1h-1zM26 18h1v1h-1zM33 18h1v1h-1zM37 18h1v1h-1zM9 19h1v1h-1zM13 19h1v1h-1zM15 19h1v1h-1zM21 19h1v1h-1zM24 19h1v1h-1zM27 19h1v1h-1zM32 19h1v1h-1zM37 19h1v1h-1zM42 19h1v1h-1zM7 20h1v1h-1zM8 20h1v1h-1zM18 20h1v1h-1zM29 20h1v1h-1zM30 20h1v1h-1zM32 20h1v1h-1zM36 20h1v1h-1zM37 20h1v1h-1zM41 20h1v1h-1zM2 21h1v1h-1zM3 21h1v1h-1zM9 21h1v1h-1zM13 21h1v1h-1zM14 21h1v1h-1zM26 21h1v1h-1zM29 21h1v1h-1zM35 21h1v1h-1zM37 21h1v1h-1zM40 21h1v1h-1zM9 22h1v1h-1zM11 22h1v1h-1zM20 22h1v1h-1zM26 22h1v1h-1zM27 22h1v1h-1zM29 22h1v1h-1zM2 23h1v1h-1zM3 23h1v1h-1zM4 23h1v1h-1zM7 23h1v1h-1zM8 23h1v1h-1zM12 23h1v1h-1zM14 23h1v1h-1zM20 23h1v1h-1zM21 23h1v1h-1zM23 23h1v1h-1zM24 23h1v1h-1zM29 23h1v1h-1zM32 23h1v1h-1zM36 23h1v1h-1zM41 23h1v1h-1zM3 24h1v1h-1zM5 24h1v1h-1zM9 24h1v1h-1zM10 24h1v1h-1zM16 24h1v1h-1zM27 24h1v1h-1zM35 24h1v1h-1zM38 24h1v1h-1zM42 24h1v1h-1zM7 25h1v1h-1zM8 25h1v1h-1zM12 25h1v1h-1zM14 25h1v1h-1zM19 25h1v1h-1zM22 25h1v1h-1zM25 25h1v1h-1zM30 25h1v1h-1zM32 25h1v1h-1zM34 25h1v1h-1zM8 26h1v1h-1zM9 26h1v1h-1zM22 26h1v1h-1zM26 26h1v1h-1zM28 26h1v1h-1zM29 26h1v1h-1zM30 26h1v1h-1zM34 26h1v1h-1zM36 26h1v1h-1zM40 26h1v1h-1zM42 26h1v1h-1zM10 27h1v1h-1zM14 27h1v1h-1zM18 27h1v1h-1zM32 27h1v1h-1zM34 27h1v1h-1zM38 27h1v1h-1zM41 27h1v1h-1zM9 28h1v1h-1zM22 28h1v1h-1zM25 28h1v1h-1zM26 28h1v1h-1zM27 28h1v1h-1zM29 28h1v1h-1zM35 28h1v1h-1zM1 29h1v1h-1zM5 29h1v1h-1zM7 29h1v1h-1zM9 29h1v1h-1zM11 29h1v1h-1zM16 29h1v1h-1zM24 29h1v1h-1zM40 29h1v1h-1zM2 30h1v1h-1zM6 30h1v1h-1zM9 30h1v1h-1zM11 30h1v1h-1zM12 30h1v1h-1zM14 30h1v1h-1zM15 30h1v1h-1zM21 30h1v1h-1zM22 30h1v1h-1zM23 30h1v1h-1zM24 30h1v1h-1zM33 30h1v1h-1zM40 30h1v1h-1z" fill="#0000bf"/><path d="M17 0h1v1h-1zM28 0h1v1h-1zM29 0h1v1h-1zM36 0h1v1h-1zM17 2h1v1h-1zM28 4h1v1h-1zM33 4h1v1h-1zM1 5h1v1h-1zM39 5h1v1h-1zM37 7h1v1h-1zM5 8h1v1h-1zM3 9h1v1h-1zM14 9h1v1h-1zM25 9h1v1h-1zM33 9h1v1h-1zM8 10h1v1h-1zM30 10h1v1h-1zM3 11h1v1h-1zM5 11h1v1h-1zM15 12h1v1h-1zM27 12h1v1h-1zM38 13h1v1h-1zM31 14h1v1h-1zM33 14h1v1h-1zM18 16h1v1h-1zM21 16h1v1h-1zM39 16h1v1h-1zM4 17h1v1h-1zM37 17h1v1h-1zM17 18h1v1h-1zM11 19h1v1h-1zM33 19h1v1h-1zM23 20h1v1h-1zM42 20h1v1h-1zM24 22h1v1h-1zM18 23h1v1h-1zM42 23h1v1h-1zM2 24h1v1h-1zM21 25h1v1h-1zM42 25h1v1h-1zM23 26h1v1h-1zM42 27h1v1h-1zM2 28h1v1h-1zM7 28h1v1h-1zM4 29h1v1h-1zM10 29h1v1h-1zM20 29h1v1h-1zM37 30h1v1h-1zM42 30h1v1h-1z" fill="#0000df"/></pattern></defs><g shape-rendering="crispEdges"><rect x="733" y="970" width="162" height="152" fill="url(#sp)"/><rect x="1014" y="970" width="479" height="152" fill="url(#sp)"/>
<g transform="translate(0.5 0)">
<path stroke="#0000bf" d="M733 1054v1m0 2v1m0 2v12m0 4v7m0 3v7M734 981v1m0 12v1m0 1v1m0 3v1m0 2v4m0 4v1m0 2v3m0 1v1m0 2v2m0 1v1m0 1v1m0 1v7m0 1v7m0 1v1m0 1v4m0 1v1m0 1v1m0 2v1M735 982v1m0 4v1m0 1v3m0 3v1m0 3v2m0 3v1m0 1v1m0 5v4m0 1v3m0 1v2m0 1v9m0 2v1m0 1v1m0 1v1m0 2v2m0 1v3m0 1v1m0 2v1m0 1v1m0 1v1m0 4v1M736 986v1m0 7v1m0 2v2m0 5v1m0 1v3m0 2v2m0 2v6m0 1v12m0 1v5m0 1v1m0 1v2m0 1v1m0 1v2m0 2v1m0 4v1m0 1v2m0 1v2M737 1022v1m0 11v1m0 1v2m0 1v1m0 1v3m0 2v1m0 2v16m0 2v6m0 6v3M738 1011v1m0 2v1m0 1v1m0 2v1m0 2v1m0 1v1m0 1v1m0 5v2m0 3v8m0 2v10m0 1v4m0 5v6m0 9v2M739 974v1m0 8v1m0 7v4m0 3v1m0 1v1m0 6v1m0 3v1m0 2v3m0 1v3m0 1v1m0 2v1m0 1v15m0 1v6m0 1v2m0 2v1m0 1v1m0 16v3M740 1036v1m0 7v2m0 5v1m0 5v1m0 1v2m0 1v5m0 2v4m0 9v1M741 1004v1m0 9v1m0 4v1m0 4v2m0 2v2m0 2v4m0 2v1m0 1v3m0 1v4m0 2v1m0 1v1m0 1v1m0 1v1m0 1v3m0 1v2m0 5v2m0 2v3M742 975v2m0 1v2m0 1v1m0 4v2m0 2v4m0 1v1m0 1v1m0 1v2m0 3v2m0 1v5m0 1v3m0 1v2m0 1v3m0 2v1m0 1v4m0 1v1m0 1v2m0 1v2m0 4v3m0 2v2m0 2v1m0 3v1M743 976v1m0 2v1m0 4v1m0 1v4m0 1v3m0 1v9m0 2v5m0 1v5m0 2v6m0 2v4m0 5v1m0 2v2m0 1v1m0 2v2m0 5v1m0 2v2M744 1035v1m0 1v1m0 3v2m0 1v2m0 1v2m0 1v1m0 2v1m0 1v1m0 1v15m0 1v18M745 1017v1m0 8v1m0 4v1m0 5v3m0 2v1m0 1v1m0 2v7m0 1v6m0 1v14m0 6v4M746 1056v3m0 2v1m0 5v2m0 3v4m0 3v3m0 4v5M747 974v1m0 2v3m0 2v3m0 2v4m0 2v2m0 1v1m0 1v5m0 2v6m0 1v8m0 1v2m0 2v6m0 1v5m0 2v1m0 1v2m0 1v1m0 3v1m0 1v2m0 2v2m0 9v2m0 9v1m0 5v2M748 1027v1m0 2v3m0 3v1m0 2v1m0 1v1m0 1v1m0 2v3m0 1v7m0 2v8m0 2v2m0 2v3m0 3v7M749 1036v1m0 7v1m0 11v3m0 2v4m0 2v9m0 3v7m0 5v4M750 1053v6m0 6v4m0 2v5m0 3v19M751 986v1m0 2v1m0 5v1m0 5v1m0 4v2m0 2v2m0 6v3m0 1v18m0 2v2m0 3v4m0 1v2m0 2v2m0 40v9M752 1017v1m0 10v1m0 4v1m0 6v1m0 1v1m0 2v1m0 1v12m0 2v3m0 1v4m0 2v2m0 6v3M753 1043v1m0 2v2m0 3v3m0 1v13m0 1v2m0 2v3m0 10v5M754 970v2m0 1v5m0 1v2m0 1v3m0 1v2m0 1v1m0 1v1m0 1v2m0 1v2m0 1v12m0 1v2m0 1v2m0 2v3m0 1v2m0 1v1m0 1v1m0 2v1m0 1v6m0 2v1m0 10v2m0 2v1M755 1001v2m0 2v1m0 2v1m0 3v2m0 1v8m0 1v1m0 1v14m0 1v8m0 1v1m0 2v3m0 1v1m0 4v3m0 8v2m0 7v2M756 1034v1m0 2v1m0 1v1m0 1v3m0 2v8m0 4v1m0 2v1m0 2v18M757 970v1m0 1v1m0 3v1m0 1v5m0 1v7m0 3v10m0 1v1m0 1v1m0 1v5m0 1v5m0 1v1m0 1v1m0 1v1m0 1v1m0 1v1m0 3v1m0 13v1m0 13v1M758 970v1m0 1v1m0 2v2m0 1v5m0 1v2m0 3v3m0 1v1m0 3v1m0 1v1m0 1v6m0 2v5m0 1v6m0 2v2m0 1v1m0 1v4m0 3v1m0 1v2m0 1v1m0 2v1m0 1v1m0 1v1m0 1v2M759 986v1m0 13v2m0 3v1m0 1v1m0 3v1m0 2v1m0 1v1m0 1v5m0 2v4m0 1v5m0 1v5m0 1v2m0 1v1m0 1v1m0 1v2m0 1v2m0 1v1m0 3v6m0 4v4M760 1054v1m0 2v1m0 1v2m0 3v1m0 2v2m0 7v15M761 983v2m0 4v1m0 1v1m0 3v1m0 3v1m0 1v1m0 1v2m0 1v9m0 2v1m0 1v6m0 2v7m0 1v6m0 1v4m0 1v2m0 1v3m0 2v1m0 5v1M762 993v1m0 1v1m0 1v1m0 3v2m0 2v1m0 1v3m0 1v8m0 1v14m0 1v2m0 1v12m0 2v2m0 3v1M763 1035v1m0 5v2m0 1v5m0 3v3m0 1v9m0 2v12m0 7v5M764 971v1m0 1v2m0 2v1m0 3v6m0 1v1m0 1v5m0 1v4m0 1v6m0 1v9m0 1v4m0 1v1m0 1v1m0 2v2m0 1v3m0 3v1m0 7v1M765 970v2m0 1v1m0 3v3m0 4v1m0 1v3m0 2v1m0 4v5m0 2v1m0 2v2m0 1v1m0 10v1m0 1v1M766 1029v1m0 8v2m0 3v1m0 3v1m0 2v9m0 2v18m0 7v5M767 1038v2m0 3v1m0 1v2m0 1v2m0 1v4m0 2v1m0 1v12m0 2v4M768 984v1m0 3v2m0 4v2m0 5v1m0 2v1m0 3v1m0 1v1m0 3v5m0 1v1m0 1v2m0 1v2m0 1v2m0 1v1m0 1v7m0 1v3m0 1v2m0 3v1m0 2v1m0 1v1m0 2v3m0 1v2m0 22v1M769 970v6m0 3v2m0 1v4m0 1v4m0 3v4m0 2v1m0 2v1m0 3v1m0 1v1m0 8v2m0 1v1m0 4v1m0 5v1m0 6v1M770 976v6m0 1v3m0 1v2m0 1v8m0 1v1m0 1v3m0 1v7m0 1v2m0 1v4m0 1v2m0 1v1m0 1v2m0 3v1m0 1v1m0 2v2m0 6v2m0 8v1M771 1031v1m0 2v1m0 8v1m0 2v1m0 1v1m0 3v1m0 2v7m0 2v9m0 3v15m0 7v6M772 1025v1m0 1v1m0 4v1m0 1v2m0 1v13m0 1v1m0 1v14m0 2v2m0 15v5M773 996v1m0 8v1m0 1v1m0 1v2m0 1v5m0 2v1m0 1v1m0 1v2m0 1v1m0 1v1m0 1v5m0 1v3m0 1v7m0 1v2m0 1v13m0 3v2m0 10v1M774 999v1m0 2v1m0 3v2m0 1v1m0 3v1m0 1v6m0 1v3m0 2v1m0 1v2m0 1v7m0 1v13m0 1v1m0 1v2m0 1v2m0 4v1m0 5v2m0 6v2M775 1021v1m0 8v1m0 2v1m0 1v3m0 2v2m0 1v1m0 1v4m0 3v2m0 1v9m0 1v6m0 2v6M776 1036v2m0 1v1m0 1v1m0 1v1m0 8v1m0 2v12m0 2v10m0 3v7M777 1000v1m0 12v1m0 7v1m0 3v5m0 4v12m0 1v5m0 1v2m0 1v2m0 1v5m0 1v8M778 970v4m0 2v1m0 1v8m0 1v1m0 1v2m0 1v1m0 1v4m0 2v6m0 1v1m0 1v3m0 1v2m0 1v1m0 2v2m0 1v1m0 4v1m0 3v3m0 1v1m0 2v1m0 6v1m0 18v1M779 1010v1m0 4v1m0 3v1m0 10v1m0 1v3m0 1v1m0 2v1m0 2v4m0 1v2m0 1v17m0 2v4m0 6v2M780 1009v1m0 1v2m0 4v1m0 10v2m0 1v4m0 2v2m0 1v1m0 2v1m0 1v2m0 1v2m0 1v10m0 1v2m0 1v2m0 9v2m0 1v1m0 11v2M781 1004v1m0 5v1m0 1v5m0 8v3m0 2v4m0 2v2m0 1v1m0 1v17m0 4v3m0 6v2M782 1050v2m0 11v1m0 1v11m0 3v1m0 2v8m0 1v7M783 1016v2m0 2v1m0 3v2m0 3v2m0 2v6m0 1v2m0 1v4m0 1v1m0 2v5m0 1v10m0 2v3m0 4v3M784 1045v1m0 1v1m0 5v2m0 2v10m0 1v5m0 3v17M785 1004v1m0 8v1m0 3v1m0 3v1m0 3v1m0 1v6m0 1v1m0 1v9m0 1v3m0 1v1m0 3v3m0 1v1m0 5v3m0 9v3M786 994v1m0 12v1m0 4v2m0 2v1m0 4v4m0 1v5m0 1v9m0 1v5m0 1v5m0 1v3m0 1v1m0 6v2m0 2v4m0 3v3M787 1029v1m0 5v3m0 1v1m0 1v2m0 4v4m0 2v5m0 3v15m0 3v3M788 1015v1m0 23v2m0 1v1m0 1v3m0 3v3m0 1v3m0 2v8m0 2v7m0 3v7M789 1066v1m0 6v6m0 1v2m0 8v1m0 7v9M790 1040v1m0 3v1m0 5v3m0 1v3m0 1v1m0 3v7m0 4v6m0 19v1M791 1018v1m0 16v2m0 1v1m0 1v2m0 2v1m0 2v2m0 3v1m0 1v4m0 1v8m0 2v7m0 6v3M792 1020v3m0 4v1m0 3v1m0 1v1m0 1v1m0 3v1m0 3v2m0 1v3m0 1v15m0 6v5m0 22v5M793 1057v1m0 9v15m0 2v17M794 1001v1m0 21v1m0 1v1m0 2v4m0 2v3m0 1v1m0 1v1m0 1v2m0 1v6m0 1v3m0 2v8m0 4v2M795 1021v1m0 2v1m0 1v1m0 5v5m0 2v1m0 1v8m0 2v3m0 1v10m0 2v2m0 22v2M796 972v1m0 1v6m0 1v6m0 1v1m0 2v7m0 1v1m0 1v3m0 1v1m0 2v1m0 1v3m0 1v2m0 1v1m0 1v1m0 1v1m0 1v2m0 3v1m0 2v1m0 2v1M797 970v1m0 1v2m0 1v2m0 2v1m0 1v5m0 1v4m0 1v3m0 1v1m0 2v2m0 2v3m0 1v1m0 1v1m0 1v1m0 3v2m0 1v3m0 2v1m0 1v1m0 5v1m0 4v1m0 1v1m0 16v1m0 20v3M798 970v5m0 1v11m0 3v1m0 1v4m0 1v1m0 2v1m0 1v6m0 1v2m0 2v1m0 7v2m0 5v1M799 970v1m0 1v1m0 1v3m0 1v10m0 1v2m0 1v2m0 2v2m0 2v5m0 1v4m0 2v7m0 1v3m0 5v1m0 2v2m0 1v1m0 2v1m0 5v1m0 2v1m0 3v1M800 970v4m0 3v12m0 2v1m0 1v5m0 1v1m0 1v2m0 1v2m0 2v2m0 4v1m0 1v1m0 2v1m0 9v3m0 1v1m0 1v1m0 5v1m0 12v1M801 1001v1m0 16v1m0 2v1m0 1v3m0 1v2m0 3v2m0 2v2m0 1v1m0 1v2m0 1v1m0 2v10m0 1v11m0 13v4M802 991v1m0 13v1m0 1v1m0 4v1m0 3v1m0 1v2m0 3v3m0 1v3m0 1v2m0 1v1m0 1v10m0 1v2m0 1v1m0 2v5m0 1v2m0 1v3m0 2v2m0 7v3M803 972v1m0 1v3m0 1v5m0 1v2m0 1v1m0 2v8m0 2v17m0 1v1m0 3v1m0 1v1m0 1v1m0 1v1m0 1v1m0 3v1m0 1v2m0 11v1m0 2v1m0 5v1M804 972v1m0 18v1m0 1v1m0 1v9m0 1v1m0 1v1m0 2v2m0 1v2m0 1v6m0 1v8m0 1v5m0 1v3m0 3v1m0 1v2m0 5v1m0 3v2M805 973v1m0 6v1m0 3v1m0 1v1m0 2v5m0 1v3m0 1v2m0 1v1m0 1v1m0 1v3m0 1v16m0 1v1m0 1v4m0 1v3m0 2v2m0 4v1m0 6v1M806 973v1m0 10v1m0 1v1m0 6v1m0 1v1m0 4v2m0 3v2m0 1v1m0 1v1m0 1v12m0 1v8m0 2v5m0 2v1m0 1v3m0 2v3m0 1v1m0 1v3m0 1v2M807 972v1m0 1v1m0 1v4m0 2v4m0 1v1m0 1v1m0 1v2m0 1v2m0 1v8m0 1v2m0 2v7m0 2v2m0 1v1m0 1v1m0 3v1m0 4v2m0 1v2m0 3v1m0 13v1M808 1008v1m0 6v2m0 6v1m0 2v2m0 1v2m0 1v1m0 1v1m0 2v1m0 2v5m0 1v15m0 1v9m0 2v6M809 970v2m0 2v1m0 2v2m0 1v5m0 1v5m0 2v3m0 3v7m0 1v1m0 1v1m0 1v5m0 11v1m0 16v1m0 1v1M810 995v1m0 3v1m0 1v3m0 1v1m0 1v1m0 1v2m0 2v3m0 1v1m0 1v4m0 1v12m0 2v2m0 2v3m0 1v3m0 1v1m0 1v6m0 3v1m0 17v3M811 1033v1m0 7v1m0 1v2m0 2v12m0 2v1m0 2v18M812 970v4m0 1v2m0 1v2m0 1v17m0 1v4m0 3v4m0 1v2m0 2v3m0 3v3m0 1v3m0 2v2m0 5v1m0 12v1M813 989v2m0 8v1m0 3v1m0 2v2m0 1v1m0 1v1m0 2v3m0 4v2m0 1v1m0 1v1m0 2v5m0 1v3m0 1v2m0 1v3m0 1v4m0 8v3m0 15v2M814 1037v2m0 1v1m0 2v2m0 3v9m0 4v18m0 3v8M815 1056v3m0 2v3m0 3v24m0 7v8M816 1028v1m0 14v1m0 6v1m0 2v1m0 1v6m0 1v2m0 1v13m0 1v3m0 9v6M817 1018v1m0 1v1m0 3v7m0 1v1m0 3v1m0 1v1m0 2v2m0 1v1m0 1v1m0 1v16m0 3v4M818 1067v6m0 1v2m0 1v14m0 2v5M819 977v1m0 11v1m0 4v1m0 2v1m0 3v1m0 3v1m0 4v2m0 1v3m0 1v1m0 1v2m0 2v1m0 3v9m0 2v2m0 1v2m0 1v5m0 2v3m0 3v1M820 1046v1m0 1v2m0 2v1m0 1v1m0 1v1m0 1v7m0 1v5m0 2v6m0 3v9M821 997v1m0 4v1m0 4v1m0 3v2m0 5v4m0 1v5m0 2v5m0 1v3m0 2v5m0 1v3m0 1v6m0 1v1m0 2v8M822 1024v1m0 2v1m0 2v1m0 4v1m0 2v2m0 5v1m0 1v1m0 1v5m0 1v2m0 2v8m0 4v11m0 4v2m0 3v5M823 1007v3m0 8v1m0 3v1m0 1v4m0 1v1m0 1v4m0 1v4m0 1v6m0 1v1m0 1v6m0 1v7m0 1v2m0 2v2M824 980v1m0 12v2m0 1v1m0 4v3m0 3v1m0 1v1m0 6v2m0 1v1m0 1v2m0 1v2m0 1v13m0 1v6m0 1v8m0 2v6m0 1v2M825 1071v2m0 3v6m0 3v6m0 7v5m0 4v4M826 1006v2m0 2v3m0 1v2m0 2v1m0 2v6m0 1v7m0 1v1m0 1v1m0 3v8m0 1v1m0 1v1m0 3v1m0 3v3m0 1v2m0 2v2m0 5v3M827 1021v1m0 5v2m0 4v1m0 5v1m0 2v2m0 2v4m0 1v11m0 2v12m0 3v3m0 4v3M828 1030v1m0 6v1m0 1v2m0 2v3m0 4v5m0 1v8m0 1v11m0 3v3M829 1064v3m0 4v8m0 3v9m0 7v12M830 988v1m0 3v2m0 1v1m0 2v1m0 4v1m0 8v1m0 6v1m0 3v2m0 1v1m0 1v6m0 1v3m0 1v1m0 1v6m0 1v4m0 1v1m0 1v2m0 2v2m0 1v2m0 9v3M831 970v1m0 7v1m0 3v2m0 4v3m0 3v2m0 2v4m0 2v4m0 1v1m0 3v3m0 4v1m0 1v9m0 1v1m0 1v4m0 1v4m0 1v1m0 2v2m0 1v1m0 3v1m0 3v1m0 5v2m0 3v2M832 1037v1m0 4v2m0 5v2m0 1v2m0 1v2m0 1v5m0 1v7m0 2v6m0 3v6M833 975v1m0 7v1m0 2v1m0 6v2m0 1v1m0 1v2m0 2v2m0 1v3m0 1v1m0 1v2m0 2v1m0 1v2m0 2v13m0 1v1m0 3v1m0 1v1m0 1v2m0 1v4m0 1v1m0 3v1m0 2v2m0 1v3m0 1v2m0 4v2M834 985v2m0 2v1m0 1v2m0 1v2m0 4v2m0 1v3m0 1v4m0 2v2m0 1v9m0 1v4m0 1v3m0 1v1m0 2v2m0 1v1m0 4v4M835 1031v1m0 6v1m0 2v8m0 1v17m0 2v13M836 994v2m0 2v2m0 1v3m0 1v1m0 1v1m0 1v1m0 1v3m0 1v1m0 2v2m0 1v7m0 3v4m0 1v2m0 1v1m0 1v2m0 2v2m0 1v1m0 1v6m0 2v1m0 2v1m0 11v3M837 983v1m0 5v1m0 5v3m0 1v1m0 1v2m0 1v2m0 6v1m0 1v1m0 1v1m0 1v11m0 1v5m0 1v4m0 1v1m0 1v2m0 3v1m0 2v1m0 2v2m0 1v2m0 3v2M838 984v1m0 1v1m0 5v3m0 2v1m0 2v2m0 2v4m0 1v9m0 2v2m0 1v3m0 1v8m0 2v3m0 1v2m0 2v1m0 1v2m0 2v1m0 3v4M839 972v1m0 4v3m0 4v2m0 1v4m0 1v8m0 1v10m0 1v12m0 1v2m0 1v5m0 1v3m0 3v3m0 4v1M840 1035v2m0 1v2m0 1v1m0 2v2m0 1v1m0 2v29m0 3v1M841 988v4m0 3v2m0 2v2m0 1v1m0 1v1m0 1v2m0 3v2m0 1v2m0 2v3m0 1v5m0 1v5m0 1v3m0 1v2m0 1v1m0 1v4m0 1v2m0 1v1m0 1v1m0 1v1M842 1019v1m0 8v1m0 4v4m0 2v2m0 1v10m0 1v20m0 6v1m0 2v4M843 1022v1m0 1v1m0 17v2m0 1v6m0 1v3m0 1v9m0 2v2m0 4v3M844 1010v1m0 3v1m0 1v1m0 6v1m0 1v2m0 2v1m0 1v3m0 4v14m0 1v4m0 1v1m0 2v3m0 3v2M845 978v1m0 1v3m0 2v1m0 1v1m0 1v2m0 1v2m0 1v2m0 2v2m0 1v1m0 1v9m0 1v13m0 4v2m0 1v1m0 1v1m0 1v3m0 2v3m0 3v1m0 5v2m0 5v2m0 5v2M846 1042v1m0 1v1m0 3v1m0 4v2m0 1v11m0 1v11m0 3v2m0 2v12M847 972v2m0 1v1m0 4v1m0 3v2m0 3v2m0 2v1m0 2v3m0 2v4m0 3v2m0 1v5m0 1v2m0 1v6m0 1v2m0 1v2m0 2v6m0 2v2m0 1v1m0 1v2m0 1v2m0 4v3m0 2v1M848 982v1m0 7v1m0 1v1m0 2v1m0 1v1m0 1v1m0 1v1m0 1v1m0 1v2m0 3v4m0 2v4m0 1v2m0 2v6m0 1v3m0 1v2m0 1v1m0 1v9m0 1v2m0 2v2m0 1v1m0 5v1M849 974v1m0 1v1m0 1v2m0 1v1m0 4v2m0 1v3m0 1v2m0 1v2m0 3v1m0 1v1m0 1v10m0 1v1m0 1v14m0 1v2m0 2v3m0 3v2m0 3v2m0 1v1m0 1v2m0 1v1m0 12v1M850 975v1m0 2v1m0 3v1m0 8v1m0 2v1m0 2v5m0 1v4m0 2v1m0 1v5m0 1v2m0 1v3m0 1v11m0 1v4m0 1v1m0 1v2m0 4v1m0 2v2m0 1v1m0 2v1M851 970v1m0 7v1m0 1v1m0 3v1m0 1v9m0 1v13m0 1v2m0 1v5m0 1v16m0 1v1m0 2v1m0 4v1m0 1v1m0 3v1M852 1007v1m0 5v2m0 3v4m0 1v4m0 4v2m0 3v4m0 1v3m0 1v13m0 1v12m0 2v3m0 6v5M853 974v1m0 3v1m0 1v1m0 2v1m0 3v4m0 2v1m0 1v1m0 1v7m0 2v2m0 1v2m0 1v3m0 1v9m0 1v3m0 1v2m0 1v2m0 1v3m0 1v1m0 2v2m0 2v4m0 13v1m0 6v2M854 1036v1m0 11v1m0 3v3m0 3v4m0 2v1m0 2v2m0 2v2m0 3v6M855 982v1m0 3v1m0 5v1m0 2v2m0 5v1m0 2v5m0 2v4m0 1v8m0 1v1m0 1v13m0 2v1m0 1v1m0 1v2m0 1v1m0 1v1m0 1v2M856 971v1m0 8v1m0 2v2m0 1v2m0 5v9m0 1v4m0 1v6m0 2v18m0 3v1m0 2v2m0 4v2m0 2v2m0 2v1m0 2v2M857 984v1m0 1v1m0 12v1m0 1v1m0 2v1m0 1v2m0 1v2m0 1v3m0 1v3m0 1v1m0 1v6m0 1v3m0 1v5m0 1v3m0 1v2m0 1v5m0 1v1m0 1v2m0 2v1m0 20v3M858 1004v1m0 14v1m0 1v1m0 1v1m0 3v1m0 4v8m0 2v2m0 1v19m0 1v2m0 2v2m0 2v1m0 2v3M859 1018v1m0 5v1m0 7v1m0 1v1m0 1v1m0 2v1m0 1v5m0 1v1m0 1v5m0 2v9m0 6v2m0 3v3m0 3v4m0 12v2M860 974v2m0 4v1m0 3v1m0 6v2m0 2v5m0 2v1m0 1v19m0 1v4m0 1v3m0 1v1m0 2v7m0 2v2m0 1v1m0 12v1m0 5v2M861 970v1m0 5v1m0 3v1m0 5v1m0 7v2m0 5v1m0 1v6m0 2v1m0 2v1m0 1v2m0 1v8m0 1v5m0 1v2m0 4v1m0 1v2m0 5v1m0 1v4m0 1v1m0 5v2M862 971v1m0 6v1m0 1v2m0 2v1m0 1v4m0 1v1m0 1v11m0 1v2m0 1v1m0 1v7m0 1v7m0 1v4m0 1v1m0 2v1m0 1v1m0 4v2m0 5v1M863 983v1m0 2v1m0 1v2m0 1v2m0 3v1m0 1v2m0 2v4m0 1v1m0 2v1m0 3v4m0 1v10m0 1v8m0 1v6m0 1v5m0 7v6m0 9v3M864 970v1m0 2v1m0 8v1m0 5v1m0 1v3m0 2v3m0 1v7m0 2v2m0 1v1m0 1v6m0 1v1m0 1v3m0 1v13m0 1v2m0 1v1m0 1v3m0 3v1m0 2v2m0 1v1M865 986v1m0 1v1m0 4v2m0 1v1m0 3v2m0 1v1m0 3v13m0 1v2m0 3v7m0 2v12m0 2v6m0 9v1M866 970v18m0 1v11m0 4v1m0 2v2m0 2v6m0 1v2m0 5v2m0 1v2m0 7v1m0 11v1M867 1036v1m0 6v2m0 1v1m0 5v4m0 1v2m0 2v8m0 2v11M868 1024v1m0 9v1m0 1v1m0 4v4m0 1v16m0 2v3m0 2v2m0 5v3M869 970v2m0 1v4m0 2v9m0 2v2m0 1v3m0 1v5m0 2v3m0 3v1m0 1v6m0 1v1m0 2v2m0 1v1m0 1v3m0 1v1m0 2v1m0 5v2M870 970v1m0 1v2m0 1v3m0 1v2m0 1v1m0 1v3m0 1v8m0 1v10m0 1v1m0 1v6m0 2v1m0 4v1m0 1v1m0 4v1m0 5v1M871 970v4m0 1v1m0 1v8m0 1v5m0 1v1m0 2v3m0 3v2m0 3v2m0 1v1m0 2v2m0 2v1m0 2v1m0 3v1m0 7v1m0 19v1M872 971v1m0 1v7m0 1v3m0 1v10m0 1v1m0 1v1m0 1v2m0 1v2m0 1v1m0 1v3m0 1v3m0 1v3m0 3v1m0 2v3m0 3v3m0 5v1m0 12v1m0 1v1M873 975v1m0 6v1m0 4v1m0 5v2m0 1v1m0 1v1m0 2v1m0 1v1m0 2v2m0 1v11m0 1v2m0 1v2m0 1v2m0 1v4m0 1v5m0 1v1m0 3v3m0 2v1m0 1v2m0 1v1m0 1v1m0 11v2M881 972v1m0 2v1m0 1v2m0 3v2m0 1v1m0 1v6m0 2v2m0 1v5m0 1v9m0 1v4m0 1v1m0 1v4m0 1v3m0 1v1m0 2v1m0 2v2m0 1v1m0 1v1m0 4v2m0 2v2m0 4v1m0 14v2M882 973v1m0 1v1m0 2v4m0 1v1m0 3v3m0 1v6m0 1v1m0 1v11m0 2v9m0 1v4m0 1v1m0 2v1m0 1v1m0 1v3m0 2v4m0 4v1M883 1036v1m0 3v3m0 1v1m0 2v1m0 1v4m0 2v6m0 1v24M884 971v1m0 6v1m0 1v3m0 1v4m0 1v5m0 1v1m0 2v1m0 1v1m0 1v1m0 2v14m0 1v2m0 1v5m0 1v5m0 3v2m0 1v3m0 2v1m0 4v1m0 3v1M885 1058v3m0 10v10m0 1v4m0 5v7M886 982v2m0 1v2m0 1v1m0 2v2m0 6v1m0 1v1m0 4v5m0 1v10m0 1v2m0 1v3m0 1v2m0 1v1m0 3v2m0 2v3m0 1v1m0 4v1m0 1v1m0 2v1m0 2v3m0 1v2m0 5v2M887 1023v1m0 9v3m0 1v7m0 3v1m0 1v9m0 1v8m0 2v4m0 6v6M888 1031v1m0 5v1m0 4v1m0 6v4m0 1v10m0 1v8m0 3v3M889 1029v1m0 3v1m0 10v5m0 1v1m0 1v27m0 3v12M890 999v1m0 3v1m0 4v1m0 4v3m0 3v1m0 4v1m0 2v1m0 2v3m0 2v1m0 2v3m0 1v3m0 1v1m0 1v14m0 3v2m0 2v3m0 1v5M891 1003v1m0 3v2m0 6v1m0 3v1m0 2v3m0 1v5m0 1v2m0 1v5m0 1v3m0 1v4m0 1v6m0 1v4m0 1v7m0 17v3M892 1021v4m0 1v1m0 4v5m0 1v6m0 1v6m0 1v10m0 1v2m0 3v4M893 1014v1m0 27v1m0 1v1m0 1v2m0 1v1m0 1v10m0 1v3m0 2v6m0 3v6M894 1013v1m0 14v1m0 3v1m0 2v1m0 1v2m0 1v2m0 1v8m0 1v4m0 2v13m0 5v3M1014 1029v1m0 10v1m0 3v17m0 1v2m0 1v4m0 2v5m0 3v3m0 4v5M1015 1039v1m0 8v1m0 1v1m0 3v1m0 2v4m0 1v7m0 2v6m0 2v7m0 12v9M1016 1045v1m0 5v1m0 9v1m0 3v2m0 2v2m0 2v9m0 9v7M1017 1020v1m0 6v1m0 13v1m0 2v1m0 2v35m0 9v2M1018 1001v1m0 20v1m0 3v1m0 5v1m0 4v1m0 5v1m0 2v2m0 2v1m0 2v1m0 1v4m0 2v1m0 2v7m0 2v6m0 7v2m0 10v1M1019 1035v2m0 2v1m0 2v3m0 1v36m0 4v5M1020 1036v1m0 13v1m0 2v2m0 4v5m0 1v2m0 2v17M1021 1055v1m0 1v4m0 1v2m0 1v21M1022 970v1m0 2v1m0 1v3m0 1v5m0 2v10m0 2v2m0 1v6m0 1v6m0 1v7m0 2v1m0 4v3m0 3v1m0 5v1m0 12v1m0 2v1M1023 1046v1m0 4v6m0 1v33m0 16v1M1024 1020v1m0 1v2m0 8v1m0 1v3m0 1v8m0 1v4m0 1v2m0 1v6m0 1v2m0 1v14m0 12v7M1025 971v1m0 2v3m0 4v4m0 3v17m0 1v10m0 1v7m0 2v2m0 3v3m0 3v1m0 3v1m0 4v1m0 7v1M1026 972v1m0 3v2m0 3v5m0 1v16m0 1v1m0 1v9m0 1v6m0 1v3m0 3v2m0 3v1m0 3v3m0 1v1m0 3v1m0 2v3m0 10v2m0 5v2m0 8v1M1027 971v3m0 1v6m0 2v4m0 1v2m0 2v1m0 1v5m0 1v3m0 1v1m0 1v5m0 1v3m0 1v4m0 3v1m0 1v2m0 1v4m0 2v3m0 1v1m0 2v1m0 4v3m0 3v2m0 2v1M1028 1012v1m0 15v1m0 7v1m0 2v2m0 2v1m0 2v3m0 1v1m0 1v10m0 2v1m0 2v19M1029 978v1m0 2v1m0 2v1m0 6v1m0 4v4m0 3v1m0 1v2m0 2v5m0 1v4m0 2v5m0 1v4m0 1v1m0 1v13m0 6v2M1030 973v2m0 2v1m0 1v1m0 1v1m0 7v1m0 1v3m0 1v3m0 1v6m0 2v21m0 1v3m0 1v3m0 1v2m0 3v1m0 1v1m0 1v1m0 2v2m0 2v1m0 2v2M1031 1062v2m0 1v4m0 4v6m0 6v13M1032 1053v2m0 1v2m0 3v4m0 2v19M1033 1017v1m0 9v1m0 10v1m0 6v2m0 1v1m0 1v2m0 1v12m0 2v4m0 2v1m0 4v3m0 1v9M1034 1003v1m0 20v1m0 1v2m0 4v1m0 3v2m0 1v1m0 1v2m0 1v4m0 1v16m0 2v6m0 6v7M1035 1019v1m0 6v1m0 4v2m0 2v3m0 2v1m0 1v6m0 1v2m0 2v3m0 1v10m0 2v4m0 3v3M1036 1016v1m0 1v1m0 2v1m0 1v2m0 1v1m0 2v2m0 1v10m0 3v14m0 6v6m0 5v6m0 9v7M1037 1019v1m0 1v1m0 12v5m0 3v3m0 1v4m0 2v10m0 2v5m0 2v8M1038 1040v1m0 6v1m0 1v1m0 1v3m0 1v1m0 1v14m0 5v10M1039 1013v1m0 4v1m0 2v2m0 2v1m0 1v1m0 1v12m0 1v3m0 1v7m0 1v2m0 3v2m0 3v3M1040 970v1m0 4v1m0 4v1m0 1v1m0 1v1m0 2v2m0 3v2m0 2v2m0 2v5m0 2v4m0 1v1m0 1v2m0 1v3m0 1v6m0 1v5m0 2v5m0 1v5m0 1v1m0 6v3m0 5v1m0 13v3M1041 979v1m0 9v1m0 5v1m0 3v2m0 1v2m0 1v1m0 1v4m0 2v1m0 1v1m0 2v2m0 1v6m0 1v4m0 1v5m0 2v2m0 1v3m0 2v3m0 5v2m0 3v1m0 7v2M1042 970v7m0 1v5m0 1v1m0 2v2m0 1v3m0 1v4m0 1v6m0 3v1m0 1v4m0 1v2m0 2v3m0 3v1m0 1v2m0 3v3m0 1v2m0 3v1M1043 1023v1m0 1v1m0 2v2m0 6v1m0 2v6m0 1v16m0 3v4m0 4v6M1044 1015v1m0 2v1m0 7v1m0 1v3m0 5v1m0 1v7m0 1v2m0 1v4m0 1v19m0 9v3M1045 970v7m0 1v18m0 1v2m0 1v2m0 1v4m0 1v1m0 1v3m0 1v1m0 1v1m0 5v2m0 6v2m0 4v1m0 21v1M1046 970v1m0 1v1m0 5v1m0 2v1m0 3v1m0 1v1m0 3v10m0 1v1m0 1v1m0 1v1m0 1v5m0 1v7m0 1v2m0 1v6m0 1v2m0 4v1m0 9v1m0 3v1m0 9v2M1047 1046v7m0 1v2m0 2v1m0 3v3m0 2v25M1048 1074v2m0 6v22m0 3v15M1049 1022v1m0 5v1m0 11v1m0 4v1m0 3v5m0 1v1m0 1v6m0 1v27M1050 1047v1m0 2v1m0 1v1m0 5v40M1051 1026v1m0 2v2m0 4v1m0 1v1m0 5v2m0 3v4m0 2v4m0 1v6m0 2v6m0 3v4m0 27v10M1052 1028v2m0 3v1m0 3v2m0 2v1m0 3v1m0 2v1m0 2v28m0 19v2M1053 1036v1m0 6v1m0 4v1m0 1v1m0 3v8m0 2v1m0 2v2m0 2v2m0 3v10m0 5v16M1054 1048v1m0 2v3m0 2v1m0 4v1m0 3v6m0 5v15m0 16v13M1055 1022v1m0 4v2m0 2v1m0 1v2m0 1v3m0 1v11m0 2v6m0 2v6m0 4v3m0 12v1M1056 1030v1m0 4v1m0 3v1m0 1v1m0 4v1m0 6v1m0 1v1m0 2v1m0 2v1m0 2v18m0 4v3M1057 986v1m0 10v1m0 3v4m0 1v4m0 1v5m0 1v17m0 1v4m0 1v4m0 1v2m0 1v4m0 2v2m0 2v1m0 5v1M1058 996v2m0 7v1m0 1v1m0 1v1m0 2v1m0 1v2m0 3v1m0 1v1m0 1v2m0 1v5m0 1v3m0 1v9m0 1v4m0 2v4m0 1v2m0 2v1M1059 1025v2m0 3v1m0 2v1m0 8v2m0 1v1m0 1v2m0 1v1m0 2v9m0 3v6m0 2v4m0 2v3m0 4v5M1060 1045v1m0 1v1m0 1v1m0 1v1m0 2v1m0 2v1m0 1v2m0 1v11m0 3v10M1061 1049v1m0 3v1m0 1v3m0 3v10m0 2v6M1062 970v13m0 1v2m0 1v6m0 1v8m0 1v3m0 1v4m0 2v5m0 1v2m0 2v1m0 2v1m0 5v1m0 2v1m0 4v2m0 34v3M1063 1047v1m0 1v1m0 5v4m0 3v8m0 1v2m0 2v11m0 5v4M1064 1008v2m0 5v4m0 2v6m0 2v5m0 1v2m0 1v2m0 1v4m0 1v1m0 1v2m0 1v1m0 1v1m0 1v4m0 6v3m0 11v3M1065 971v1m0 1v3m0 2v3m0 1v1m0 1v1m0 1v1m0 1v3m0 1v3m0 1v5m0 1v5m0 1v1m0 1v6m0 1v9m0 2v2m0 1v1m0 5v1m0 1v3m0 6v1m0 8v1M1066 992v1m0 29v1m0 4v1m0 2v1m0 1v1m0 1v1m0 1v1m0 2v2m0 1v3m0 1v1m0 2v7m0 1v2m0 2v4m0 2v2m0 7v3m0 7v5M1067 981v1m0 7v2m0 1v2m0 2v1m0 2v1m0 1v2m0 1v1m0 2v1m0 2v1m0 1v1m0 2v3m0 1v3m0 1v15m0 1v4m0 1v5m0 1v3m0 3v1m0 2v2m0 1v2m0 1v4M1068 1006v1m0 3v1m0 4v1m0 1v1m0 5v1m0 1v1m0 1v2m0 1v2m0 1v3m0 1v1m0 2v3m0 1v3m0 1v4m0 1v1m0 1v1m0 1v7m0 3v1m0 8v3M1069 1024v1m0 10v1m0 1v3m0 3v2m0 1v1m0 1v1m0 1v5m0 1v11m0 4v8m0 3v9M1070 1037v2m0 3v1m0 1v1m0 7v1m0 1v3m0 1v4m0 2v3m0 2v10m0 3v9m0 7v5m0 4v1M1071 1076v6m0 4v5m0 7v16M1072 1021v1m0 2v5m0 1v1m0 4v4m0 1v1m0 1v2m0 1v1m0 2v1m0 1v6m0 2v3m0 1v7m0 2v2m0 3v3m0 3v4M1073 1048v1m0 3v1m0 1v3m0 1v4m0 3v2m0 2v4m0 3v4m0 2v4m0 5v11M1074 991v1m0 3v1m0 1v1m0 1v1m0 6v1m0 1v1m0 3v2m0 1v1m0 1v1m0 1v1m0 1v13m0 2v2m0 1v2m0 1v1m0 2v1m0 1v2m0 1v1m0 1v2m0 7v3m0 1v2M1075 970v1m0 2v3m0 1v2m0 2v2m0 1v5m0 1v3m0 1v3m0 2v4m0 1v7m0 1v3m0 1v2m0 1v3m0 1v2m0 1v3m0 3v3m0 3v1m0 3v4m0 3v1M1076 970v1m0 3v7m0 2v1m0 1v4m0 1v1m0 2v1m0 2v2m0 1v5m0 7v3m0 4v1m0 11v1m0 2v1m0 11v1M1077 970v1m0 1v1m0 1v3m0 1v3m0 1v9m0 1v11m0 4v1m0 1v1m0 5v2m0 4v1m0 5v1m0 1v1m0 3v1m0 1v1m0 1v1m0 5v1m0 6v1m0 8v2M1078 983v5m0 1v2m0 1v1m0 1v7m0 1v1m0 1v13m0 2v4m0 1v2m0 1v1m0 1v4m0 1v3m0 2v3m0 1v1m0 9v2m0 9v1M1079 1073v3m0 3v19M1080 1040v1m0 4v1m0 4v1m0 1v1m0 1v1m0 1v6m0 2v1m0 2v15m0 9v3M1081 1069v2m0 5v6m0 3v22M1082 1082v26M1083 1044v1m0 11v3m0 5v12m0 3v21M1084 1039v1m0 5v1m0 6v2m0 1v2m0 2v5m0 1v13m0 1v7M1085 1031v1m0 3v1m0 3v1m0 2v1m0 2v1m0 1v5m0 4v2m0 1v3m0 2v10m0 2v6m0 4v7M1086 1016v1m0 2v1m0 10v1m0 2v1m0 1v3m0 1v3m0 1v2m0 1v15m0 1v7m0 2v2m0 3v3M1087 1015v1m0 5v1m0 5v1m0 1v3m0 2v1m0 1v2m0 1v2m0 1v1m0 1v7m0 1v2m0 2v6m0 3v2m0 9v3m0 28v10M1088 1079v3m0 4v33M1089 1074v2m0 3v3m0 9v10m0 6v7M1090 1037v1m0 1v1m0 2v1m0 5v1m0 4v1m0 2v2m0 1v20m0 7v5m0 7v4M1091 1058v1m0 8v28M1092 1033v1m0 8v1m0 2v4m0 4v1m0 1v1m0 1v1m0 1v3m0 2v3m0 2v9m0 4v4M1093 1048v1m0 1v1m0 5v2m0 3v1m0 2v1m0 2v4m0 5v10M1094 1056v2m0 4v2m0 5v16m0 1v4m0 1v16M1095 1031v2m0 1v1m0 2v1m0 1v1m0 2v6m0 1v6m0 1v17m0 6v3m0 4v5M1096 1024v1m0 9v1m0 2v1m0 2v2m0 4v1m0 1v1m0 1v1m0 2v1m0 2v5m0 8v13m0 9v7M1097 1065v2m0 9v38M1098 1065v2m0 1v14m0 4v21M1099 1022v1m0 1v1m0 1v1m0 3v1m0 5v4m0 1v4m0 2v12m0 2v4m0 2v6m0 13v5M1100 1061v1m0 4v1m0 10v17m0 4v7M1101 1005v1m0 16v1m0 12v1m0 4v2m0 1v1m0 4v5m0 1v2m0 1v1m0 1v8m0 2v2m0 5v3m0 19v9M1102 1012v1m0 5v1m0 3v1m0 5v1m0 3v1m0 2v1m0 1v1m0 2v3m0 1v9m0 1v5m0 6v4m0 2v2m0 6v3m0 9v7M1103 1061v1m0 11v19m0 6v17M1104 1024v1m0 6v2m0 6v1m0 1v1m0 1v4m0 1v2m0 1v10m0 1v18m0 2v3M1105 1036v1m0 6v2m0 1v1m0 1v1m0 2v2m0 2v6m0 1v9m0 2v9M1106 1076v6m0 4v17M1107 1054v3m0 1v1m0 5v1m0 4v29M1108 1061v1m0 7v2m0 2v3m0 1v30M1109 1025v1m0 6v1m0 2v2m0 1v3m0 1v3m0 1v1m0 1v2m0 1v3m0 1v16m0 15v5M1110 1035v1m0 2v1m0 3v3m0 7v1m0 1v4m0 1v8m0 1v1m0 2v5m0 6v1m0 8v4M1111 1041v1m0 15v2m0 3v5m0 2v22M1112 1042v2m0 6v1m0 1v1m0 3v1m0 2v26m0 6v2M1113 1053v1m0 2v2m0 4v5m0 3v35M1114 995v1m0 15v1m0 6v1m0 4v4m0 3v16m0 1v8m0 1v5m0 3v5m0 2v2M1115 1026v2m0 4v2m0 2v3m0 2v2m0 1v2m0 2v4m0 1v5m0 1v2m0 1v16m0 1v3m0 4v5M1116 1063v1m0 3v2m0 2v2m0 7v16m0 2v15M1117 1036v3m0 2v1m0 3v1m0 3v10m0 3v2m0 1v6m0 20v7M1118 1012v1m0 6v1m0 1v1m0 6v1m0 2v2m0 1v1m0 1v1m0 1v2m0 1v4m0 1v6m0 1v1m0 1v5m0 1v3m0 7v8m0 7v5M1119 1050v1m0 1v3m0 1v2m0 3v1m0 3v4m0 4v9m0 4v3M1120 1056v1m0 2v2m0 6v6m0 3v14m0 1v1m0 6v9M1121 1079v30M1122 1087v19M1123 1032v1m0 3v1m0 3v1m0 4v1m0 1v1m0 1v1m0 1v1m0 1v11m0 1v16m0 1v4M1124 1073v30m0 4v8M1125 1048v1m0 7v1m0 2v2m0 1v2m0 1v2m0 2v2m0 2v9m0 4v10M1126 1079v7m0 5v11m0 5v3M1127 990v1m0 9v1m0 10v1m0 2v2m0 4v4m0 2v1m0 1v4m0 1v5m0 2v2m0 1v3m0 1v6m0 1v6m0 2v2m0 1v4M1128 970v2m0 2v3m0 1v3m0 6v2m0 3v2m0 4v2m0 21v1m0 1v1M1129 970v2m0 1v4m0 1v3m0 7v1m0 1v2m0 1v2m0 1v1m0 1v1m0 3v1m0 5v1m0 9v1m0 15v1m0 3v1M1130 971v5m0 6v1m0 1v1m0 1v1m0 1v2m0 9v1m0 3v1m0 4v1m0 40v1M1131 1049v1m0 1v3m0 2v1m0 1v18m0 2v1m0 3v4M1132 971v3m0 4v1m0 3v1m0 2v1m0 1v1m0 3v1m0 6v1m0 6v2M1133 971v2m0 2v3m0 1v2m0 1v2m0 1v9m0 3v3m0 1v6m0 1v2m0 1v4m0 1v7m0 1v1m0 2v1m0 4v1m0 2v1m0 1v1M1134 1024v2m0 22v2m0 2v3m0 1v13m0 2v1m0 7v12M1135 972v1m0 1v11m0 1v6m0 1v4m0 1v2m0 1v3m0 1v2m0 1v3m0 1v1m0 2v2m0 1v1m0 3v1m0 4v1m0 3v1m0 5v1m0 4v1m0 3v3m0 10v2M1136 985v1m0 1v1m0 5v1m0 3v2m0 1v2m0 1v5m0 1v3m0 1v3m0 1v2m0 2v12m0 1v2m0 1v4m0 1v1m0 4v1m0 2v2m0 1v1m0 2v2m0 4v2m0 5v2M1137 971v1m0 5v1m0 1v1m0 1v1m0 5v2m0 10v1M1138 972v2m0 2v1m0 2v1m0 2v1m0 1v1m0 1v3m0 1v1m0 2v1m0 2v1m0 3v1m0 2v1m0 1v1m0 14v1m0 1v1M1139 972v2m0 1v2m0 1v5m0 4v1m0 2v2m0 5v1m0 13v1m0 10v1M1140 983v1m0 2v1m0 3v1m0 6v1m0 2v6m0 1v7m0 1v4m0 1v1m0 1v2m0 1v3m0 1v2m0 1v3m0 2v2m0 1v1m0 1v2m0 1v1m0 3v5m0 5v2m0 1v2m0 1v2M1141 983v1m0 5v1m0 4v1m0 4v4m0 3v6m0 1v2m0 1v7m0 1v5m0 1v4m0 1v2m0 3v1m0 2v1m0 3v1m0 6v2m0 3v2M1142 994v1m0 1v1m0 6v1m0 6v3m0 2v8m0 1v1m0 1v2m0 1v10m0 1v10m0 1v8m0 5v1m0 11v1m0 2v3M1143 970v2m0 2v2m0 1v10m0 3v1m0 1v4m0 1v1m0 3v1m0 1v2m0 14v1m0 14v1M1144 973v1m0 8v1m0 6v1m0 2v1m0 1v1m0 1v5m0 1v1m0 1v7m0 1v3m0 1v7m0 1v5m0 1v7m0 1v2m0 6v2m0 2v5m0 10v2M1145 970v5m0 1v19m0 1v3m0 2v4m0 1v1m0 2v1m0 2v1m0 2v4m0 1v2m0 1v1m0 2v2m0 3v1m0 2v1M1146 970v2M1147 987v1m0 4v1m0 4v1m0 10v2m0 2v8m0 1v1m0 1v3m0 1v11m0 1v2m0 1v1m0 2v2m0 4v2m0 1v2m0 2v3m0 3v1M1148 970v2m0 3v1m0 1v4m0 6v1m0 4v2m0 1v2m0 16v1M1149 970v2m0 3v2m0 1v5m0 1v4m0 1v2m0 2v3m0 4v2m0 11v1m0 4v1m0 1v1M1150 1012v1m0 3v1m0 10v1m0 1v2m0 1v1m0 1v9m0 1v11m0 1v11m0 2v7M1151 970v4m0 1v10m0 1v5m0 2v2m0 2v4m0 1v9m0 4v1m0 1v2m0 7v1m0 1v1m0 1v1m0 5v2M1152 972v8m0 1v9m0 7v2m0 1v2m0 3v3m0 4v3m0 39v1M1153 978v1m0 6v1m0 4v1m0 1v1m0 1v1m0 2v3m0 1v6m0 1v2m0 1v1m0 1v2m0 1v9m0 1v6m0 1v2m0 1v2m0 2v3m0 1v3m0 1v1m0 1v1m0 2v2m0 2v1M1154 994v1m0 9v1m0 1v1m0 4v2m0 1v1m0 1v2m0 1v1m0 1v1m0 2v1m0 1v3m0 2v4m0 1v1m0 1v7m0 1v5m0 1v3m0 1v6m0 2v1m0 2v6m0 3v3M1155 1034v1m0 7v1m0 4v4m0 2v2m0 1v3m0 5v1m0 1v13M1156 971v9m0 3v3m0 1v1m0 2v6m0 4v1m0 3v1m0 1v1m0 4v1m0 2v1m0 5v3m0 3v1M1157 970v8m0 1v3m0 1v1m0 1v6m0 4v2m0 1v1m0 1v2m0 1v1m0 2v1m0 6v2m0 2v1m0 1v2m0 4v2m0 34v1M1158 970v1m0 2v2m0 4v2m0 1v3m0 4v1m0 7v1m0 6v1m0 5v1m0 9v1m0 1v1m0 11v1M1159 971v1m0 3v1m0 2v1m0 2v1m0 1v2m0 2v1m0 2v2m0 4v1m0 1v1m0 3v1m0 13v2M1160 985v1m0 3v1m0 1v2m0 1v2m0 1v2m0 5v11m0 2v21m0 4v4m0 1v1m0 1v1m0 2v1m0 3v2m0 4v2M1161 1002v1m0 3v2m0 3v1m0 3v1m0 1v1m0 1v2m0 2v1m0 1v2m0 1v13m0 1v2m0 1v6m0 5v2m0 1v2m0 3v1m0 6v2m0 6v3M1162 970v4m0 1v2m0 1v1m0 1v1m0 1v1m0 1v1m0 6v1m0 3v1m0 7v1M1163 971v10m0 2v1m0 1v1m0 2v5m0 1v1m0 2v7m0 1v9m0 1v2m0 5v1m0 17v1M1164 998v2m0 8v1m0 2v1m0 2v1m0 5v6m0 1v2m0 1v1m0 1v5m0 1v9m0 1v3m0 3v2m0 1v2m0 2v3M1165 970v19m0 1v1m0 1v2m0 2v2m0 3v2m0 2v1m0 2v1m0 3v1m0 8v1m0 5v1m0 26v1M1166 970v5m0 1v2m0 1v2m0 1v2m0 1v2m0 1v3m0 1v3m0 1v5m0 2v1m0 1v3m0 12v1m0 4v2m0 2v1m0 15v1m0 1v1M1167 978v2m0 10v1m0 12v2m0 2v2m0 3v2m0 2v15m0 1v3m0 1v1m0 1v2m0 1v4m0 1v5m0 1v3m0 1v1m0 1v1m0 3v2m0 5v2M1168 977v1m0 4v1m0 2v2m0 2v1m0 1v1m0 3v8m0 1v2m0 2v2m0 1v4m0 1v2m0 1v12m0 1v2m0 1v1m0 2v1m0 1v4m0 1v1m0 2v2m0 1v1m0 1v3m0 1v1m0 3v3M1169 970v4m0 1v2m0 2v2m0 2v4m0 1v1m0 1v1m0 1v1m0 1v5m0 2v3m0 1v4m0 1v2m0 3v1m0 1v4m0 1v2m0 3v3m0 4v2m0 2v3m0 2v1M1170 970v1m0 1v1m0 1v1m0 9v1m0 1v1m0 2v3m0 2v1m0 1v8m0 2v4m0 1v4m0 1v16m0 2v1m0 1v1m0 1v5m0 1v1m0 4v2m0 6v1m0 3v1m0 2v1M1171 971v3m0 1v1m0 1v3m0 1v1m0 1v1m0 2v1m0 1v1m0 2v1m0 2v1m0 1v2m0 1v1m0 1v3m0 10v1m0 1v1m0 3v1M1172 970v3m0 2v1m0 1v4m0 1v1m0 2v1m0 3v1m0 1v1m0 2v2m0 1v1M1173 971v1m0 1v2m0 1v1m0 1v2m0 2v1m0 1v2m0 1v4m0 5v1m0 10v1m0 1v1m0 3v1M1174 997v1m0 2v1m0 8v1m0 6v1m0 1v4m0 1v4m0 2v4m0 1v5m0 1v5m0 1v2m0 1v2m0 3v5m0 6v4m0 4v3M1175 970v3m0 2v3m0 1v3m0 1v6m0 1v1m0 1v1m0 1v3m0 1v2m0 3v5m0 5v1m0 6v1m0 13v1M1176 971v2m0 2v4m0 3v2m0 1v9m0 2v1m0 2v5m0 1v9m0 1v4m0 1v2m0 3v1m0 11v1m0 3v1M1177 975v1m0 9v2m0 5v1m0 3v2m0 4v2m0 2v3m0 1v3m0 1v7m0 1v5m0 1v1m0 1v1m0 1v5m0 2v2m0 1v1m0 1v2m0 6v1m0 4v1m0 7v2M1178 970v2m0 1v1m0 1v3m0 1v1m0 1v3m0 2v2m0 2v3m0 1v9m0 2v3m0 1v2m0 1v1m0 1v7m0 2v2m0 2v1m0 1v1m0 16v1m0 3v1m0 3v1m0 14v2M1179 974v1m0 2v1m0 3v2m0 1v1m0 1v1m0 1v1m0 1v1m0 2v2m0 1v3m0 1v2m0 1v2m0 2v4m0 2v3m0 1v9m0 1v3m0 2v3m0 5v1m0 2v2m0 1v2m0 8v1m0 4v1M1180 971v2m0 24v1M1181 973v2m0 2v1m0 4v1M1182 994v1m0 11v1m0 9v2m0 1v1m0 1v3m0 3v1m0 1v2m0 1v7m0 1v6m0 1v10m0 2v8m0 9v3M1183 971v2m0 4v2m0 3v1m0 8v1m0 16v1M1184 1026v1m0 9v1m0 2v1m0 2v3m0 2v10m0 2v6m0 2v9m0 3v3M1185 998v1m0 7v1m0 7v1m0 1v1m0 2v4m0 4v2m0 1v5m0 1v7m0 1v7m0 1v3m0 4v2M1186 970v1m0 14v1m0 5v1m0 1v1m0 2v1m0 1v1m0 4v5m0 1v3m0 2v1m0 2v1m0 1v12m0 1v1m0 1v1m0 1v2m0 1v2m0 1v3m0 1v1m0 5v2m0 5v3m0 11v3M1187 1013v1m0 21v2m0 3v2m0 2v2m0 1v6m0 1v13m0 2v2m0 5v10M1188 971v1m0 1v2m0 2v1m0 2v1m0 4v1m0 4v1m0 2v1m0 5v1m0 8v1M1189 970v1m0 2v13m0 2v1m0 3v1m0 1v19m0 3v1m0 1v3m0 1v1m0 1v1m0 2v1m0 5v1m0 5v1m0 2v1m0 3v1M1190 986v1m0 4v1m0 4v2m0 1v1m0 3v1m0 1v2m0 1v3m0 3v1m0 1v1m0 1v1m0 1v7m0 2v6m0 1v2m0 1v1m0 1v1m0 1v2m0 14v2m0 10v2m0 9v4M1191 970v1m0 1v10m0 1v5m0 1v3m0 1v3m0 2v3m0 1v1m0 3v4m0 1v4m0 2v1m0 1v1m0 1v1m0 2v2m0 2v4m0 21v1M1192 982v1m0 2v2m0 2v4m0 2v1m0 4v1m0 4v3m0 1v6m0 1v3m0 1v5m0 3v11m0 3v1m0 1v5m0 15v1m0 17v3M1193 1047v1m0 1v1m0 5v2m0 1v11m0 1v12m0 4v12M1194 971v1m0 4v2m0 8v1m0 1v1m0 4v1m0 2v1m0 8v1m0 5v1m0 23v1M1195 981v1m0 4v1m0 2v2m0 1v1m0 4v5m0 1v3m0 1v1m0 1v1m0 2v1m0 2v2m0 2v9m0 1v2m0 1v3m0 2v1m0 1v1m0 1v4m0 1v3m0 16v2M1196 970v2m0 1v5m0 1v1m0 1v1m0 1v1m0 2v2m0 2v3m0 1v1m0 6v1m0 1v2m0 3v1M1197 989v1m0 9v2m0 2v1m0 1v1m0 1v3m0 1v3m0 1v2m0 2v1m0 1v4m0 1v5m0 2v4m0 1v12m0 1v1m0 5v1m0 6v1m0 4v2m0 2v3M1198 970v1m0 3v1m0 1v1m0 6v1m0 2v1m0 3v1m0 7v1m0 2v1m0 6v1M1199 971v4m0 3v1m0 1v1m0 1v5m0 1v3m0 1v1m0 1v1m0 1v1m0 1v1m0 1v2m0 1v3m0 1v7m0 1v7m0 2v1m0 1v1m0 2v1m0 1v4m0 4v3m0 1v2m0 1v1m0 4v4M1200 972v1m0 10v4m0 1v11m0 1v12m0 1v1m0 2v10m0 1v1m0 3v1m0 1v3m0 1v3m0 1v1m0 2v3m0 3v1m0 4v1m0 1v1M1201 971v1m0 3v1m0 1v2m0 2v5m0 2v1m0 2v1m0 1v2m0 1v2m0 1v5m0 2v9m0 1v2m0 1v1m0 1v4m0 2v5m0 3v1m0 1v1m0 1v2m0 2v2m0 4v2m0 5v2m0 1v2M1202 971v1m0 2v2m0 2v4m0 1v1m0 1v2m0 2v2m0 1v2m0 2v2m0 2v2m0 1v1m0 4v1m0 7v1m0 5v1m0 2v1m0 2v1M1203 971v3m0 1v2m0 2v1m0 1v2m0 4v2m0 1v1m0 2v1m0 1v1m0 2v1m0 5v1m0 3v1m0 12v2m0 9v1M1204 985v1m0 4v4m0 1v1m0 1v1m0 1v2m0 4v2m0 2v1m0 2v4m0 2v1m0 3v12m0 1v4m0 1v3m0 1v7m0 1v1m0 2v1m0 1v1m0 15v1m0 2v3M1205 1003v1m0 14v1m0 1v1m0 2v3m0 2v2m0 3v10m0 1v3m0 1v2m0 1v5m0 1v1m0 1v5m0 1v1m0 1v4m0 5v3M1206 976v1m0 1v1m0 2v2m0 3v1m0 1v1m0 2v3m0 1v2m0 1v6m0 1v3m0 1v2m0 1v1m0 1v11m0 1v2m0 1v2m0 1v2m0 1v3m0 2v1m0 2v2m0 3v1m0 1v1m0 10v3m0 7v2M1207 1029v1m0 14v1m0 1v1m0 1v2m0 1v1m0 2v8m0 2v3m0 2v2m0 2v7m0 6v1M1208 1061v1m0 3v8m0 3v6m0 4v3m0 2v13M1209 1002v1m0 14v1m0 4v2m0 2v1m0 2v1m0 1v3m0 1v5m0 1v6m0 3v6m0 1v10m0 2v4m0 3v3M1210 992v1m0 14v3m0 4v2m0 1v1m0 1v3m0 4v1m0 2v3m0 1v5m0 1v6m0 1v4m0 1v1m0 2v1m0 2v4m0 1v1m0 1v1m0 11v3M1211 971v1m0 3v1m0 1v1m0 1v1m0 2v4m0 2v2m0 1v11m0 1v2m0 1v14m0 1v2m0 1v1m0 2v3m0 1v2m0 1v1m0 1v3m0 2v1m0 1v1m0 4v1m0 3v1m0 2v1m0 9v1M1212 975v1m0 5v1m0 5v1m0 1v1m0 2v1m0 1v1m0 1v2m0 1v1m0 3v3m0 1v1m0 1v3m0 1v4m0 1v2m0 1v5m0 1v6m0 2v7m0 1v2m0 2v2m0 3v1m0 1v1m0 4v2m0 8v2M1213 970v1m0 2v7m0 1v1m0 3v3m0 1v4m0 1v3m0 1v1m0 1v8m0 1v1m0 1v3m0 1v3m0 1v8m0 4v1m0 5v1m0 1v5m0 1v1m0 3v1m0 2v2m0 4v1M1214 1069v4m0 3v3m0 1v16m0 2v9M1215 1046v1m0 3v1m0 2v1m0 3v4m0 1v10m0 1v13m0 5v7M1216 1061v1m0 9v41M1217 1062v2m0 9v3m0 3v19M1218 973v1m0 14v1m0 1v1m0 2v1m0 3v1m0 1v4m0 1v2m0 1v1m0 1v6m0 1v6m0 1v3m0 1v6m0 2v4m0 1v7m0 3v1m0 1v3m0 2v2m0 6v1m0 3v2M1219 1053v2m0 4v2m0 3v5m0 2v7m0 1v12M1220 1064v7m0 2v18m0 7v1M1221 971v1m0 5v2m0 3v1m0 2v1m0 1v2m0 2v1m0 1v8m0 2v2m0 1v19m0 1v3m0 1v1m0 1v2m0 1v3m0 4v4m0 1v1m0 3v3m0 1v1M1222 994v1m0 18v1m0 1v2m0 1v1m0 1v1m0 1v1m0 7v1m0 1v2m0 1v1m0 1v4m0 2v11m0 3v2m0 2v1m0 2v1M1223 1037v1m0 3v1m0 6v2m0 2v1m0 2v1m0 2v1m0 1v13m0 3v3m0 3v5M1224 972v1m0 14v1m0 5v2m0 1v3m0 3v2m0 2v6m0 2v8m0 1v1m0 2v10m0 1v3m0 1v4m0 1v4m0 8v3m0 1v2M1225 1008v1m0 1v1m0 2v1m0 6v1m0 1v2m0 1v4m0 2v5m0 1v5m0 1v3m0 1v11m0 1v2m0 1v5m0 2v4M1226 1022v1m0 2v1m0 5v1m0 1v1m0 1v2m0 1v8m0 1v3m0 1v8m0 3v2m0 3v3m0 6v3m0 7v5M1227 1043v1m0 12v1m0 2v2m0 1v2m0 3v2m0 2v5m0 3v10M1228 992v1m0 6v1m0 12v1m0 6v3m0 3v1m0 4v5m0 1v5m0 1v2m0 1v14m0 2v1m0 3v5m0 1v1m0 1v2M1229 979v2m0 6v1m0 4v1m0 3v2m0 2v1m0 1v1m0 4v1m0 3v1m0 1v1m0 2v6m0 3v10m0 1v1m0 1v3m0 1v3m0 2v2m0 2v1m0 4v1m0 5v3m0 2v2m0 2v2M1230 971v1m0 10v1m0 1v1m0 2v1m0 2v1m0 5v1m0 2v1m0 4v11m0 1v3m0 2v18m0 1v5m0 1v1m0 2v1m0 6v1m0 4v1M1231 982v1m0 6v1m0 6v1m0 2v3m0 3v3m0 6v3m0 3v19m0 1v2m0 1v4m0 1v1m0 1v1m0 2v1m0 1v2m0 1v1m0 3v2m0 15v1M1232 1022v1m0 2v1m0 13v1m0 3v1m0 2v2m0 1v4m0 1v2m0 1v8m0 2v2m0 4v9m0 4v5M1233 973v1m0 1v1m0 7v1m0 3v6m0 8v1m0 1v3m0 1v1m0 1v4m0 1v13m0 1v7m0 2v5m0 1v2m0 2v1m0 2v1m0 1v3m0 18v9M1234 970v2m0 1v2m0 2v3m0 4v1m0 1v6m0 1v4m0 1v18m0 1v6m0 1v1m0 1v3m0 1v1m0 3v2m0 1v1m0 4v1m0 2v1m0 12v1M1235 1021v1m0 3v7m0 4v3m0 3v2m0 1v1m0 1v6m0 1v1m0 1v10m0 3v6M1236 1035v1m0 1v1m0 3v1m0 2v1m0 1v1m0 1v1m0 1v2m0 1v1m0 2v9m0 2v12m0 12v2m0 5v1M1237 1045v1m0 1v1m0 1v1m0 5v4m0 5v3m0 2v10m0 3v14m0 2v9M1238 986v1m0 4v1m0 6v1m0 6v2m0 2v2m0 4v2m0 1v2m0 1v13m0 1v11m0 1v1m0 1v1m0 1v1m0 2v1m0 1v6m0 2v1m0 4v2m0 2v5m0 4v4M1239 1053v2m0 7v2m0 1v2m0 2v4m0 3v6m0 4v5m0 7v9M1240 1022v1m0 2v1m0 3v2m0 2v1m0 3v1m0 1v1m0 7v2m0 2v2m0 2v1m0 1v5m0 1v6m0 2v2m0 3v6M1241 1069v38M1242 993v1m0 1v1m0 1v2m0 2v2m0 1v5m0 1v8m0 1v2m0 1v3m0 1v2m0 1v5m0 1v5m0 1v4m0 1v3m0 2v1m0 3v1m0 3v2m0 1v3M1243 991v1m0 3v1m0 1v1m0 5v1m0 3v1m0 2v1m0 5v5m0 4v1m0 2v5m0 1v15m0 1v1m0 1v1m0 3v3m0 3v2m0 5v2M1244 1045v1m0 2v1m0 2v1m0 3v1m0 3v2m0 1v17m0 3v9M1245 1011v1m0 16v2m0 3v2m0 1v1m0 1v1m0 1v2m0 1v6m0 2v13m0 1v4m0 4v2m0 4v2M1246 983v1m0 11v1m0 6v1m0 1v1m0 3v8m0 2v10m0 1v12m0 1v4m0 1v2m0 3v3m0 1v1m0 2v2m0 1v2m0 5v2M1247 1013v1m0 2v1m0 12v1m0 1v3m0 3v9m0 1v5m0 2v2m0 1v1m0 1v2m0 1v2m0 1v4m0 2v2M1248 971v5m0 1v2m0 1v3m0 1v12m0 1v2m0 1v8m0 1v3m0 1v8m0 1v2m0 1v1m0 1v1m0 2v1m0 2v2m0 1v1m0 1v2m0 1v2m0 1v1m0 12v1m0 21v3M1249 973v1m0 2v1m0 6v1m0 5v1m0 1v1m0 5v8m0 1v1m0 2v1m0 2v1m0 1v6m0 1v2m0 1v2m0 2v10m0 1v1m0 1v3m0 1v1m0 1v2m0 1v1m0 1v1m0 2v1m0 3v2M1250 970v3m0 1v4m0 1v6m0 1v7m0 1v2m0 1v1m0 1v4m0 1v6m0 1v1m0 2v1m0 11v1m0 3v2m0 2v1M1251 1002v2m0 2v1m0 1v1m0 1v3m0 2v1m0 1v2m0 1v2m0 2v9m0 1v12m0 3v1m0 1v4m0 2v1m0 6v1m0 14v3M1252 970v1m0 1v3m0 1v5m0 1v9m0 1v4m0 1v2m0 1v2m0 1v3m0 1v1m0 1v2m0 1v3m0 2v1m0 1v1m0 1v1m0 21v1m0 14v1M1253 1028v1m0 7v1m0 2v2m0 5v1m0 1v1m0 1v2m0 1v8m0 1v7m0 2v8m0 3v1m0 3v2M1254 974v2m0 1v5m0 3v3m0 2v1m0 1v1m0 1v2m0 1v2m0 1v1m0 2v20m0 2v1m0 1v5m0 2v2m0 2v1m0 1v1m0 1v1m0 5v5m0 1v3M1255 1032v1m0 3v1m0 2v1m0 2v3m0 1v4m0 1v10m0 1v11m0 3v6M1256 970v7m0 1v3m0 2v1m0 1v9m0 1v1m0 2v8m0 1v2m0 2v1m0 1v1m0 1v1m0 2v1m0 10v2m0 3v2m0 8v1M1257 1021v2m0 8v5m0 3v3m0 1v9m0 1v8m0 1v3m0 2v2m0 7v3m0 7v4M1258 1044v1m0 3v2m0 1v2m0 2v2m0 2v27M1259 993v1m0 7v1m0 6v1m0 2v1m0 1v6m0 1v1m0 1v1m0 1v1m0 2v1m0 1v4m0 1v1m0 1v12m0 1v1m0 1v2m0 1v1m0 2v2m0 5v3m0 2v2m0 2v3M1260 971v4m0 1v4m0 1v5m0 1v4m0 2v11m0 1v2m0 3v1m0 2v7m0 3v1m0 1v1m0 4v1m0 2v1m0 12v1m0 10v1M1261 1009v1m0 2v1m0 6v1m0 1v3m0 2v3m0 1v2m0 1v3m0 2v1m0 1v3m0 1v4m0 1v2m0 1v5m0 4v1m0 14v2M1262 1017v1m0 1v2m0 1v1m0 1v1m0 1v1m0 1v2m0 1v1m0 2v4m0 3v2m0 1v2m0 1v11m0 1v6M1263 971v3m0 1v9m0 1v2m0 3v1m0 2v1m0 5v2m0 3v1m0 3v2m0 7v1m0 5v1m0 12v1m0 11v1m0 13v2M1264 994v1m0 3v2m0 5v2m0 1v3m0 1v2m0 1v2m0 1v3m0 2v1m0 2v1m0 1v2m0 1v3m0 1v2m0 1v1m0 1v9m0 1v4m0 1v4m0 5v1m0 4v4M1265 974v1m0 3v2m0 7v1m0 2v4m0 5v1m0 1v8m0 1v5m0 1v1m0 1v1m0 1v4m0 1v4m0 1v3m0 1v1m0 2v10m0 1v1m0 1v1M1266 971v3m0 2v3m0 1v2m0 2v1m0 3v1m0 2v1m0 2v1m0 10v1m0 1v2m0 2v1m0 39v1M1267 976v1m0 9v1m0 23v1m0 1v3m0 1v1m0 4v3m0 2v1m0 1v1m0 2v3m0 2v5m0 1v14m0 1v1m0 1v2m0 1v9m0 5v3m0 7v3M1268 1046v1m0 2v1m0 5v6m0 2v1m0 1v2m0 3v12m0 1v15M1269 976v1m0 14v1m0 1v3m0 5v1m0 2v3m0 2v4m0 2v24m0 1v1m0 3v2m0 1v4m0 1v1m0 3v2m0 1v2m0 1v3m0 2v6M1270 998v1m0 2v3m0 6v1m0 2v3m0 1v4m0 1v1m0 1v1m0 3v23m0 1v1m0 1v2m0 2v4m0 5v3M1271 1019v1m0 12v2m0 3v1m0 2v1m0 1v1m0 1v3m0 1v1m0 1v1m0 2v20m0 3v9M1272 977v1m0 3v1m0 5v3m0 1v4m0 2v1m0 2v2m0 1v8m0 1v11m0 1v4m0 2v1m0 6v3m0 1v1m0 1v2m0 1v1m0 1v1m0 1v3m0 5v1m0 8v2M1273 978v1m0 8v1m0 5v2m0 1v2m0 1v2m0 7v1m0 2v3m0 1v5m0 1v10m0 2v6m0 1v5m0 2v1m0 3v1m0 4v1m0 4v3M1274 994v1m0 24v2m0 1v1m0 3v2m0 1v1m0 1v1m0 3v1m0 1v15m0 1v2m0 1v9m0 4v2M1275 979v1m0 2v1m0 9v1m0 5v1m0 1v2m0 2v4m0 1v22m0 1v8m0 1v2m0 2v1m0 1v6m0 2v1m0 1v2m0 6v2m0 4v2m0 3v3M1276 1041v1m0 2v4m0 2v1m0 1v4m0 1v19m0 10v9M1277 1049v2m0 8v3m0 2v1m0 2v2m0 3v1m0 3v3m0 3v4m0 5v7M1278 1019v1m0 6v2m0 1v1m0 3v1m0 1v1m0 3v1m0 1v1m0 2v6m0 1v3m0 1v7m0 2v1m0 2v4m0 8v12m0 7v9M1279 1054v1m0 3v3m0 1v3m0 4v24m0 5v9M1280 972v1m0 4v1m0 2v8m0 1v1m0 1v3m0 2v3m0 1v4m0 1v9m0 1v1m0 1v9m0 1v3m0 2v1m0 1v2m0 2v1m0 1v1m0 1v1m0 1v1m0 1v1m0 3v4m0 1v1m0 1v2m0 2v3M1281 1030v1m0 4v1m0 1v2m0 2v1m0 3v1m0 2v2m0 1v2m0 1v10m0 3v2m0 2v8m0 3v4m0 5v15M1282 1010v1m0 7v1m0 3v1m0 1v1m0 1v3m0 1v11m0 1v1m0 1v2m0 2v2m0 1v5m0 1v2m0 3v3m0 4v4M1283 1044v1m0 14v2m0 3v1m0 4v10m0 3v4M1284 1020v1m0 8v1m0 3v1m0 3v1m0 1v4m0 1v2m0 1v3m0 1v4m0 2v2m0 2v3m0 1v2m0 2v7m0 3v3M1285 1017v1m0 1v1m0 1v1m0 2v1m0 1v3m0 1v2m0 1v1m0 1v8m0 1v3m0 1v8m0 1v7M1286 971v1m0 1v7m0 2v8m0 1v5m0 1v9m0 1v4m0 1v1m0 1v1m0 1v4m0 1v6m0 2v2m0 2v1m0 5v1m0 2v2m0 6v2m0 15v2M1287 1048v6m0 1v1m0 1v5m0 3v6m0 2v3m0 3v12M1288 972v8m0 3v3m0 3v3m0 1v2m0 1v2m0 1v2m0 3v2m0 1v1m0 5v1m0 1v1m0 1v1m0 3v1m0 10v1m0 10v1M1289 975v1m0 7v1m0 2v2m0 3v3m0 1v2m0 1v2m0 1v4m0 2v6m0 1v7m0 1v3m0 2v4m0 1v3m0 1v3m0 1v4m0 2v2m0 11v2m0 4v2M1290 992v1m0 8v1m0 3v1m0 4v1m0 3v1m0 1v1m0 2v1m0 1v1m0 1v3m0 1v4m0 5v8m0 1v6m0 1v4m0 3v2m0 3v1M1291 1008v1m0 3v1m0 6v1m0 2v1m0 2v2m0 1v3m0 2v2m0 2v3m0 2v1m0 1v6m0 1v10m0 3v5m0 4v9M1292 973v1m0 9v1m0 7v2m0 3v1m0 2v1m0 1v4m0 2v3m0 2v5m0 1v6m0 1v2m0 1v1m0 1v9m0 2v1m0 5v3m0 1v1m0 2v1m0 1v1m0 2v2m0 1v2M1293 970v8m0 1v1m0 1v16m0 1v1m0 1v2m0 1v5m0 1v2m0 1v1m0 5v1m0 4v2m0 8v1m0 5v1M1294 971v1m0 20v1m0 12v1m0 2v2m0 2v1m0 4v5m0 1v12m0 1v11m0 1v4m0 2v2m0 1v4m0 1v2m0 1v2m0 15v3M1295 1006v1m0 6v3m0 1v2m0 2v1m0 3v2m0 1v1m0 1v4m0 1v2m0 1v2m0 1v4m0 1v2m0 1v10m0 3v5m0 4v2m0 3v4m0 2v8M1296 991v1m0 8v1m0 7v1m0 1v1m0 1v2m0 1v4m0 1v1m0 1v4m0 3v2m0 1v1m0 1v1m0 1v7m0 1v2m0 3v7m0 3v6m0 2v2m0 2v2m0 3v6M1297 1045v1m0 1v2m0 1v3m0 2v9m0 1v11m0 3v12m0 7v2M1298 1044v1m0 5v1m0 6v2m0 2v3m0 1v2m0 2v2m0 5v15M1299 1067v2m0 2v2m0 6v15m0 4v9M1300 1056v1m0 12v13m0 4v21M1301 1015v1m0 1v1m0 1v1m0 1v1m0 3v4m0 1v1m0 2v6m0 1v9m0 2v5m0 1v2m0 12v2m0 3v3M1302 1052v1m0 11v1m0 11v3m0 5v23M1303 1004v1m0 8v1m0 6v1m0 1v1m0 1v1m0 1v2m0 2v2m0 2v5m0 1v1m0 2v2m0 1v9m0 1v1m0 1v3m0 1v2m0 3v2m0 2v8M1304 1057v1m0 4v2m0 3v2m0 2v15m0 5v5m0 2v9M1305 1046v2m0 8v1m0 1v1m0 1v1m0 3v32M1306 1030v1m0 7v1m0 9v2m0 3v11m0 1v14m0 3v5M1307 1047v1m0 2v1m0 2v1m0 2v23m0 3v16M1308 1008v1m0 7v1m0 5v2m0 2v4m0 1v2m0 1v7m0 2v3m0 1v9m0 1v1m0 6v7m0 5v3m0 3v4M1309 1037v1m0 2v4m0 1v3m0 2v26m0 3v15M1310 1050v1m0 3v1m0 6v4m0 2v31m0 9v3M1311 1043v1m0 1v1m0 1v1m0 1v1m0 3v2m0 2v7m0 1v2m0 2v10m0 3v4M1312 1048v1m0 9v1m0 2v4m0 6v25M1313 1071v5m0 1v21M1314 1035v1m0 6v2m0 2v2m0 10v18m0 3v9M1315 1064v3m0 2v2m0 1v7m0 3v16M1316 1037v1m0 3v1m0 1v1m0 1v1m0 3v2m0 1v1m0 1v2m0 1v1m0 1v2m0 1v5m0 2v13m0 4v5M1317 1017v3m0 2v2m0 1v1m0 3v3m0 1v3m0 3v6m0 1v2m0 1v2m0 1v2m0 1v2m0 1v7m0 2v6M1318 1025v1m0 2v1m0 4v1m0 6v1m0 5v2m0 2v1m0 1v2m0 3v4m0 1v2m0 1v11m0 3v12M1319 981v1m0 1v1m0 2v1m0 4v1m0 5v1m0 7v2m0 1v1m0 1v2m0 2v1m0 1v3m0 3v1m0 1v1m0 2v4m0 3v9m0 1v1m0 2v2m0 1v2m0 1v2m0 2v8M1320 1079v5m0 2v22M1321 1061v4m0 2v4m0 2v16m0 2v15M1322 1031v2m0 2v2m0 2v2m0 2v1m0 2v1m0 2v6m0 1v13m0 2v2m0 3v3M1323 1040v1m0 7v1m0 4v1m0 1v2m0 1v1m0 5v3m0 2v25m0 4v9M1324 1026v1m0 1v1m0 1v2m0 1v1m0 1v2m0 1v4m0 4v3m0 1v2m0 3v4m0 2v5m0 1v2M1325 1056v1m0 4v1m0 5v2m0 4v9m0 4v21M1326 984v1m0 1v2m0 4v1m0 3v2m0 6v1m0 1v1m0 5v1m0 1v3m0 1v2m0 2v1m0 1v1m0 2v1m0 1v10m0 1v2m0 1v1m0 1v7m0 3v2m0 1v6m0 5v2m0 20v1M1327 1017v1m0 11v2m0 3v1m0 1v2m0 2v1m0 2v2m0 1v1m0 1v6m0 1v12m0 2v11m0 2v1M1328 1009v1m0 5v1m0 4v1m0 1v1m0 2v1m0 1v10m0 1v3m0 1v6m0 1v2m0 1v1m0 1v4m0 1v8m0 4v2m0 3v6M1329 1038v1m0 7v1m0 3v2m0 2v7m0 3v26m0 1v7M1330 1019v1m0 3v1m0 7v1m0 3v1m0 2v1m0 1v9m0 1v1m0 1v3m0 1v1m0 1v13m0 2v3m0 3v1m0 2v7m0 2v11M1331 1041v1m0 4v1m0 1v2m0 9v2m0 1v3m0 4v2m0 2v3m0 3v13m0 6v2M1332 1022v3m0 1v1m0 3v1m0 3v1m0 2v7m0 3v1m0 1v1m0 1v13m0 1v2m0 6v9M1333 1049v2m0 3v1m0 2v12m0 2v29M1334 1016v1m0 3v2m0 4v1m0 5v1m0 6v1m0 2v1m0 2v1m0 2v3m0 2v1m0 1v14m0 2v2m0 3v3M1335 1011v1m0 16v1m0 1v1m0 1v3m0 3v3m0 4v2m0 1v21m0 2v8m0 3v9M1336 1050v1m0 2v1m0 5v2m0 6v2m0 2v27M1337 1005v1m0 2v1m0 2v1m0 1v4m0 1v6m0 1v2m0 2v1m0 2v1m0 2v5m0 2v1m0 1v10m0 1v5m0 1v6m0 15v9M1338 1035v1m0 10v1m0 2v3m0 3v1m0 2v3m0 1v2m0 1v14m0 3v4M1339 1030v1m0 3v1m0 5v2m0 1v1m0 5v2m0 1v1m0 2v31M1340 1005v1m0 2v1m0 9v1m0 9v2m0 1v2m0 3v1m0 1v1m0 1v3m0 1v1m0 1v3m0 1v1m0 1v17m0 2v2m0 3v6M1341 970v11m0 2v4m0 1v1m0 1v5m0 1v3m0 1v1m0 1v2m0 2v3m0 2v1m0 5v1m0 1v1m0 1v2m0 3v1M1342 1016v1m0 10v2m0 1v1m0 1v1m0 1v1m0 1v10m0 1v5m0 1v12m0 4v7M1343 1032v1m0 5v1m0 3v3m0 2v4m0 1v4m0 1v10m0 2v13m0 9v2M1344 970v2m0 2v1m0 3v2m0 1v2m0 2v6m0 3v6m0 1v2m0 1v17m0 1v1m0 2v1m0 1v1m0 2v1m0 1v1m0 1v1m0 2v1m0 1v1m0 2v3m0 2v1m0 10v1M1345 1022v2m0 4v2m0 1v1m0 1v3m0 2v3m0 1v3m0 1v3m0 1v2m0 1v6m0 2v3m0 1v14M1346 1027v2m0 2v2m0 1v4m0 4v5m0 3v6m0 1v1m0 4v5m0 2v2m0 15v5M1347 970v2m0 1v2m0 5v2m0 3v1m0 1v3m0 1v2m0 2v2m0 1v2m0 5v1m0 7v1m0 2v1m0 7v1m0 1v1M1348 970v2m0 3v2m0 4v1m0 2v1m0 2v1m0 4v2m0 1v1m0 2v3m0 1v1m0 1v2m0 1v1m0 1v1m0 1v3m0 1v1m0 1v3m0 1v3m0 1v9m0 1v1m0 2v5m0 2v3m0 4v1m0 3v2m0 4v2m0 7v1M1349 970v1m0 2v2m0 1v2m0 1v1m0 1v3m0 1v1m0 1v3m0 1v4m0 1v3m0 1v1m0 9v2m0 5v1m0 4v2m0 26v1M1350 1028v1m0 5v1m0 1v4m0 1v1m0 7v5m0 1v10m0 4v7m0 6v4M1351 970v1m0 1v8m0 1v3m0 1v1m0 1v2m0 1v7m0 1v3m0 2v1m0 1v6m0 3v1m0 2v1m0 1v2m0 3v1m0 9v1M1352 972v9m0 1v2m0 1v2m0 2v3m0 1v1m0 1v17m0 1v11m0 3v3m0 1v3m0 1v1m0 3v3m0 9v1m0 5v1M1353 970v11m0 1v1m0 1v1m0 1v3m0 3v2m0 4v1m0 3v1m0 5v1m0 1v2m0 4v1m0 8v1m0 3v1m0 2v1m0 16v1M1354 1053v1m0 1v2m0 2v3m0 1v2m0 2v6m0 3v6M1355 1052v2m0 2v1m0 1v3m0 4v19m0 2v5M1356 973v1m0 12v1m0 2v1m0 2v2m0 1v3m0 3v1m0 4v1m0 1v1m0 1v11m0 1v3m0 1v2m0 1v6m0 1v1m0 3v2m0 4v2m0 1v1m0 4v1m0 1v1m0 2v2M1357 977v1m0 1v1m0 10v1m0 1v1m0 5v7m0 2v1m0 1v3m0 4v3m0 1v2m0 1v2m0 1v6m0 1v1m0 1v5m0 1v2m0 1v2m0 5v3m0 2v2m0 3v1M1358 1049v1m0 1v1m0 2v1m0 7v5m0 2v10m0 3v16M1359 976v1m0 9v2m0 3v1m0 3v1m0 2v6m0 1v1m0 2v1m0 1v9m0 1v1m0 1v8m0 2v6m0 1v1m0 3v3m0 2v2m0 6v2m0 1v1m0 1v3m0 12v2M1360 998v1m0 9v1m0 1v1m0 3v1m0 1v1m0 12v1m0 2v1m0 1v1m0 2v6m0 2v6m0 2v14m0 2v4m0 6v3M1361 980v4m0 1v1m0 2v1m0 4v4m0 2v1m0 1v1m0 2v1m0 1v2m0 1v6m0 1v4m0 1v3m0 1v3m0 1v3m0 1v9m0 1v3m0 1v2m0 2v1m0 4v1m0 2v2m0 4v2m0 2v2M1362 1056v1m0 4v1m0 2v1m0 1v1m0 6v3m0 2v13m0 7v9M1363 1043v1m0 7v1m0 1v1m0 2v6m0 2v3m0 2v2m0 2v12m0 1v5M1364 1034v2m0 3v1m0 3v5m0 1v8m0 1v21m0 7v2m0 3v7M1365 1051v1m0 1v1m0 1v1m0 2v3m0 1v3m0 2v4m0 2v20m0 5v13M1366 1046v1m0 4v1m0 3v2m0 7v3m0 2v2m0 2v13M1367 971v3m0 2v1m0 5v1m0 5v2m0 2v3m0 1v5m0 1v3m0 1v3m0 2v17m0 1v4m0 1v3m0 1v2m0 1v5m0 4v4m0 4v1m0 27v5M1368 1013v1m0 8v3m0 1v1m0 2v2m0 1v11m0 1v4m0 1v2m0 2v3m0 1v4m0 3v1m0 2v4m0 2v3M1369 1018v2m0 2v2m0 1v1m0 1v2m0 1v1m0 1v1m0 1v1m0 1v2m0 1v1m0 1v9m0 1v3m0 1v14m0 2v2m0 6v3M1370 975v2m0 3v1m0 2v1m0 6v1m0 2v1m0 2v2m0 1v2m0 1v3m0 1v4m0 1v3m0 1v2m0 1v18m0 2v2m0 1v2m0 2v1m0 1v3m0 5v3m0 4v1m0 2v2m0 2v1M1371 1053v1m0 4v7m0 4v2m0 2v7m0 2v9m0 16v7M1372 978v1m0 2v1m0 2v1m0 6v1m0 5v2m0 2v1m0 7v2m0 1v2m0 1v1m0 1v12m0 1v1m0 1v1m0 2v1m0 1v1m0 1v3m0 7v6m0 2v1m0 1v2m0 1v2m0 1v2m0 6v2m0 1v2M1373 1015v1m0 12v2m0 7v3m0 1v1m0 1v4m0 1v5m0 1v1m0 2v5m0 2v10M1374 977v1m0 2v2m0 1v1m0 5v2m0 2v1m0 1v1m0 2v2m0 1v1m0 1v6m0 1v7m0 1v3m0 1v11m0 2v4m0 1v3m0 1v3m0 1v1m0 6v1M1375 970v1m0 1v1m0 23v1m0 5v1m0 1v1m0 1v1m0 3v1m0 1v1m0 2v1m0 1v1m0 1v1m0 2v2m0 1v2m0 1v6m0 1v1m0 1v4m0 1v2m0 4v2m0 1v3m0 1v1m0 2v3m0 3v1m0 6v2M1376 973v1m0 2v1m0 2v1m0 1v1m0 1v1m0 1v3m0 1v4m0 2v6m0 1v2m0 1v10m0 1v1m0 1v5m0 1v10m0 1v1m0 1v2m0 2v1m0 1v1m0 3v2m0 1v1m0 8v3m0 24v5M1377 985v1m0 1v1m0 2v4m0 2v1m0 2v12m0 2v21m0 1v2m0 1v13m0 6v1m0 7v4M1378 971v1m0 2v1m0 4v2m0 1v1m0 3v1m0 3v2m0 1v12m0 1v1m0 1v19m0 2v4m0 2v4m0 7v1m0 1v1m0 2v1m0 6v1M1379 1054v1m0 6v1m0 2v1m0 4v4m0 3v3m0 3v1m0 3v5m0 7v1M1380 976v1m0 2v1m0 5v2m0 1v4m0 2v4m0 1v11m0 1v17m0 1v4m0 1v5m0 1v1m0 1v1m0 2v3m0 2v1m0 1v2m0 28v1M1381 1019v1m0 5v1m0 5v1m0 1v2m0 1v1m0 1v1m0 2v1m0 1v6m0 1v1m0 1v15m0 2v4m0 3v3m0 12v1M1382 1064v1m0 2v4m0 1v26M1383 987v1m0 13v1m0 2v1m0 2v6m0 2v4m0 1v1m0 2v2m0 1v1m0 1v3m0 1v1m0 3v1m0 1v1m0 2v1m0 1v4m0 2v3m0 2v1m0 1v1m0 1v3M1384 1049v1m0 1v1m0 4v18m0 2v9m0 1v11M1385 977v1m0 4v1m0 6v2m0 2v2m0 2v1m0 3v9m0 1v4m0 1v4m0 1v1m0 1v4m0 1v1m0 1v4m0 1v1m0 1v3m0 1v3m0 8v1m0 3v2m0 3v2m0 1v1M1386 1028v1m0 7v1m0 3v1m0 2v2m0 3v2m0 1v2m0 2v1m0 1v2m0 2v25m0 12v9M1387 971v1m0 3v3m0 1v1m0 1v2m0 2v1m0 1v2m0 1v1m0 1v27m0 1v1m0 1v1m0 1v1m0 1v6m0 1v6m0 5v1m0 5v3M1388 1052v1m0 5v1m0 3v2m0 3v2m0 7v9m0 6v15M1389 1055v1m0 8v3m0 1v3m0 2v25M1390 995v1m0 27v1m0 3v3m0 3v8m0 1v1m0 1v3m0 1v1m0 1v7m0 1v8m0 3v13M1391 1058v1m0 17v22M1392 983v1m0 1v1m0 5v1m0 1v1m0 6v1m0 2v4m0 1v1m0 1v1m0 2v8m0 1v3m0 1v7m0 1v2m0 1v2m0 2v1m0 1v2m0 4v1m0 1v2m0 1v1m0 1v2m0 7v3M1393 1051v1m0 7v2m0 18v7m0 5v8M1394 1057v1m0 1v3m0 3v4m0 3v26M1395 1036v1m0 8v1m0 2v1m0 1v3m0 2v3m0 1v14m0 3v3m0 3v2m0 2v5m0 16v9M1396 977v1m0 4v1m0 3v1m0 3v1m0 3v1m0 2v7m0 2v2m0 1v7m0 1v8m0 1v14m0 1v1m0 1v3m0 1v1m0 5v1m0 1v2m0 8v3M1397 971v1m0 5v3m0 1v1m0 4v3m0 5v20m0 5v6m0 1v2m0 1v1m0 1v1m0 1v1m0 1v4m0 1v1m0 1v2m0 2v1m0 3v2m0 2v1m0 3v1m0 2v1M1398 977v1m0 2v1m0 1v1m0 5v1m0 3v1m0 4v1m0 2v2m0 3v2m0 1v3m0 1v2m0 1v9m0 2v1m0 1v5m0 1v3m0 1v1m0 2v2m0 1v2m0 1v1m0 3v1m0 2v1m0 3v4M1399 1009v1m0 7v1m0 8v1m0 2v2m0 2v2m0 1v3m0 1v2m0 1v4m0 2v5m0 1v2m0 1v3m0 3v15m0 3v2m0 2v5M1400 987v2m0 3v1m0 3v2m0 3v1m0 1v1m0 2v1m0 1v1m0 1v1m0 4v1m0 2v7m0 1v3m0 2v7m0 1v5m0 2v1m0 1v2m0 2v1m0 1v1m0 9v1m0 4v2M1401 996v1m0 8v1m0 1v1m0 3v1m0 1v1m0 1v4m0 1v2m0 1v3m0 1v11m0 1v2m0 2v7m0 1v2m0 1v2m0 1v2m0 2v1m0 2v3m0 2v2m0 5v6M1402 1037v1m0 2v1m0 5v2m0 1v12m0 1v2m0 1v14m0 3v3m0 1v12M1403 1039v1m0 4v1m0 4v1m0 1v4m0 1v1m0 4v21m0 9v7M1404 976v1m0 3v2m0 7v1m0 5v2m0 1v2m0 1v2m0 2v5m0 1v4m0 1v9m0 1v7m0 1v5m0 1v8m0 1v2m0 3v2m0 2v1M1405 1035v1m0 7v1m0 5v1m0 1v1m0 3v3m0 5v19M1406 986v1m0 8v1m0 6v7m0 1v6m0 2v3m0 1v3m0 1v3m0 1v5m0 1v5m0 2v4m0 2v6m0 1v2m0 13v2M1407 1010v1m0 6v1m0 1v3m0 4v1m0 1v1m0 2v1m0 1v1m0 3v1m0 4v4m0 2v4m0 2v7m0 1v7m0 7v2m0 1v6M1408 1061v1m0 7v4m0 3v23m0 8v11M1409 1045v2m0 2v1m0 2v1m0 1v10m0 1v4m0 2v5m0 3v7M1410 975v1m0 3v1m0 6v1m0 2v1m0 1v2m0 1v1m0 3v1m0 1v3m0 1v1m0 1v4m0 1v3m0 2v9m0 1v13m0 1v3m0 1v3m0 2v2m0 1v1m0 2v1M1411 1057v1m0 6v1m0 2v6m0 6v22M1412 1079v28M1413 1057v4m0 3v1m0 2v2m0 2v31m0 5v13M1414 1028v1m0 1v2m0 2v1m0 5v2m0 1v2m0 1v2m0 1v3m0 1v2m0 1v5m0 1v3m0 2v9m0 3v3m0 9v1M1415 1061v1m0 5v2m0 2v5m0 6v14m0 2v12M1416 1032v2m0 3v2m0 4v1m0 2v1m0 1v1m0 1v1m0 2v3m0 3v2m0 1v7m0 2v2m0 6v1M1417 1043v1m0 6v2m0 1v1m0 2v2m0 1v5m0 1v6m0 2v1m0 2v5m0 1v9M1418 1046v1m0 3v1m0 7v3m0 3v11m0 1v6m0 9v6m0 10v3M1419 1037v1m0 4v1m0 4v1m0 1v1m0 2v2m0 3v2m0 5v34M1420 1025v1m0 6v1m0 2v1m0 1v1m0 1v2m0 1v6m0 3v31m0 4v3m0 2v10M1421 1046v1m0 2v1m0 7v1m0 1v3m0 2v12m0 3v28M1422 1044v2m0 2v1m0 1v1m0 1v1m0 2v1m0 1v1m0 1v6m0 2v8m0 4v12m0 7v7M1423 1028v4m0 1v1m0 1v2m0 5v25m0 2v2m0 11v7M1424 995v1m0 14v1m0 9v1m0 3v1m0 9v1m0 2v2m0 1v1m0 1v2m0 4v1m0 1v3m0 2v16m0 5v3m0 7v6M1425 1059v2m0 3v3m0 2v2m0 2v6m0 3v17M1426 1057v1m0 13v5m0 3v12m0 4v12M1427 1024v1m0 1v1m0 3v1m0 2v1m0 7v1m0 3v4m0 2v8m0 2v18m0 3v3m0 1v5M1428 1013v1m0 3v2m0 1v2m0 6v1m0 1v3m0 1v3m0 1v1m0 1v1m0 1v4m0 1v9m0 2v3m0 3v7M1429 970v1m0 1v3m0 2v2m0 1v3m0 1v7m0 1v1m0 1v1m0 1v3m0 1v7m0 1v14m0 1v1m0 4v1m0 1v1m0 1v1m0 8v1m0 3v1m0 10v1M1430 1041v3m0 1v1m0 3v1m0 1v1m0 3v2m0 4v1m0 2v1m0 2v4m0 2v13m0 5v4M1431 1009v1m0 20v3m0 1v4m0 3v6m0 1v4m0 1v6m0 3v12m0 5v7M1432 970v4m0 1v10m0 1v2m0 2v3m0 1v6m0 1v3m0 2v5m0 1v6m0 1v1m0 1v4m0 1v2m0 1v2m0 1v4m0 16v1M1433 972v1m0 2v1m0 8v1m0 1v2m0 1v1m0 1v2m0 2v1m0 2v2m0 1v3m0 1v1m0 3v9m0 1v2m0 1v3m0 1v5m0 2v1m0 1v1m0 1v2m0 2v3m0 3v1m0 3v3m0 1v1M1434 1010v1m0 4v1m0 3v3m0 4v4m0 1v1m0 2v5m0 3v1m0 2v7m0 1v1m0 1v3m0 3v4m0 4v2M1435 970v3m0 1v1m0 1v7m0 1v1m0 1v7m0 1v14m0 1v1m0 1v1m0 1v1m0 1v1m0 1v1m0 1v4m0 1v1m0 1v1m0 2v1m0 2v1m0 4v1M1436 1009v1m0 6v1m0 9v3m0 2v10m0 1v9m0 1v7m0 3v2m0 1v6m0 2v3m0 6v4M1437 1057v1m0 1v10m0 2v2m0 3v11m0 4v3M1438 970v1m0 2v3m0 1v2m0 1v3m0 1v11m0 3v1m0 2v5m0 1v10m0 1v5m0 3v3m0 6v1m0 2v3m0 2v2m0 6v1m0 13v2M1439 1054v1m0 10v2m0 4v8m0 3v11m0 5v2m0 7v7M1440 974v1m0 1v1m0 2v1m0 6v1m0 4v1m0 3v4m0 1v5m0 1v8m0 1v10m0 1v7m0 1v3m0 1v1m0 1v1m0 2v1m0 1v3m0 1v1m0 5v1m0 1v1m0 13v2M1441 994v1m0 2v1m0 3v1m0 1v1m0 1v1m0 5v2m0 2v1m0 1v1m0 2v3m0 1v2m0 1v7m0 1v4m0 2v1m0 1v3m0 1v1m0 1v7m0 6v2m0 1v2m0 12v7M1442 970v1m0 3v14m0 1v1m0 2v9m0 1v7m0 1v2m0 1v2m0 1v1m0 2v2m0 2v1m0 9v1m0 8v1M1443 970v1m0 1v2m0 2v1m0 2v1m0 2v1m0 5v2m0 4v3m0 2v1m0 6v1m0 1v1m0 1v3m0 1v7m0 2v2m0 1v6m0 1v4m0 1v1m0 2v2m0 3v3m0 5v1m0 4v2m0 30v1M1444 1018v1m0 1v1m0 2v2m0 1v1m0 5v1m0 2v2m0 1v1m0 2v2m0 1v1m0 1v1m0 1v4m0 1v3m0 1v5m0 2v9m0 6v3M1445 977v1m0 4v1m0 2v1m0 2v2m0 1v1m0 2v3m0 1v2m0 2v1m0 1v1m0 1v4m0 1v1m0 1v1m0 2v3m0 1v1m0 1v9m0 1v2m0 2v1m0 1v1m0 4v1m0 1v2m0 2v1m0 2v1m0 8v2m0 8v2M1446 971v1m0 1v1m0 1v1m0 1v2m0 2v6m0 2v3m0 1v3m0 1v1m0 1v2m0 3v6m0 1v1m0 1v5m0 1v3m0 1v2m0 1v2m0 4v1m0 1v3m0 1v1m0 2v1m0 5v1m0 4v1m0 6v2M1447 970v1m0 1v9m0 1v1m0 1v6m0 1v2m0 1v7m0 1v4m0 3v1m0 3v1m0 1v2m0 1v1m0 1v1m0 5v1m0 1v3m0 20v1M1448 1050v1m0 7v1m0 2v1m0 3v21m0 5v5M1449 979v1m0 12v1m0 1v1m0 4v1m0 3v1m0 1v4m0 1v1m0 1v5m0 2v6m0 1v13m0 1v1m0 1v1m0 1v1m0 1v2m0 3v1m0 2v5m0 10v2M1450 970v1m0 3v1m0 2v1m0 2v2m0 2v1m0 1v3m0 1v4m0 1v2m0 1v1m0 1v1m0 1v3m0 1v2m0 1v2m0 1v2m0 1v7m0 1v1m0 2v2m0 2v2m0 2v3m0 1v3m0 8v2m0 6v1M1451 1001v1m0 9v1m0 7v1m0 3v1m0 5v4m0 1v2m0 2v3m0 1v1m0 2v3m0 1v4m0 1v4m0 4v2m0 1v4m0 22v1M1452 972v1m0 6v2m0 1v1m0 1v2m0 3v6m0 1v3m0 2v5m0 1v2m0 2v11m0 1v1m0 1v2m0 1v2m0 1v2m0 1v3m0 4v2m0 2v1m0 4v2m0 6v1M1453 970v2m0 1v3m0 1v2m0 1v3m0 1v6m0 1v4m0 3v5m0 1v4m0 1v1m0 1v7m0 1v1m0 3v1m0 2v2m0 3v2m0 4v1m0 10v1m0 7v1M1454 971v1m0 2v5m0 1v2m0 1v8m0 1v1m0 1v4m0 1v1m0 1v11m0 1v2m0 1v2m0 1v2m0 2v1m0 6v1m0 6v1m0 2v1m0 3v1M1455 976v1m0 5v1m0 5v1m0 6v1m0 2v5m0 1v1m0 1v8m0 1v5m0 1v4m0 2v12m0 1v3m0 1v1m0 3v2m0 2v1m0 11v1m0 2v2M1456 1005v1m0 9v2m0 1v1m0 7v1m0 4v2m0 2v3m0 1v1m0 1v3m0 1v10m0 1v15m0 5v2M1457 970v10m0 1v2m0 1v9m0 1v2m0 2v4m0 2v1m0 1v1m0 1v1m0 2v2m0 1v3m0 4v1m0 2v1m0 14v2M1458 970v4m0 2v2m0 3v1m0 2v2m0 1v3m0 1v2m0 1v6m0 2v7m0 1v3m0 1v9m0 1v1m0 1v3m0 1v1m0 2v1m0 2v1m0 3v1m0 2v1m0 4v1m0 3v1M1459 1006v1m0 19v1m0 3v1m0 2v12m0 1v1m0 2v2m0 1v3m0 1v1m0 1v3m0 1v3m0 2v6m0 3v3m0 19v9M1460 974v1m0 3v1m0 4v2m0 1v2m0 3v2m0 1v2m0 2v3m0 2v6m0 1v13m0 1v1m0 1v6m0 1v11m0 2v2m0 3v1m0 2v1M1461 1018v1m0 1v1m0 1v1m0 1v1m0 2v2m0 2v1m0 3v1m0 2v1m0 2v6m0 1v1m0 1v6m0 1v2m0 2v8m0 2v2m0 3v1m0 2v3M1462 996v1m0 2v1m0 5v1m0 1v1m0 11v2m0 1v2m0 1v1m0 1v1m0 1v3m0 1v1m0 1v4m0 3v2m0 1v1m0 1v3m0 6v5m0 6v2M1463 1050v1m0 4v3m0 1v17m0 3v11m0 1v7M1464 1026v1m0 7v1m0 3v1m0 1v1m0 1v3m0 2v4m0 2v14m0 2v8M1465 1052v1m0 11v5m0 2v2m0 3v3m0 3v4m0 3v18M1466 996v2m0 1v1m0 6v3m0 5v1m0 4v1m0 3v2m0 1v2m0 1v1m0 2v1m0 1v4m0 2v2m0 1v9m0 1v5m0 1v3m0 3v1m0 1v2m0 4v2m0 11v5M1467 973v1m0 3v1m0 1v1m0 3v1m0 1v1m0 3v3m0 1v2m0 1v1m0 2v14m0 1v4m0 1v6m0 2v1m0 1v4m0 1v4m0 2v1m0 4v1m0 4v2m0 1v1m0 2v1m0 7v1M1468 1046v1m0 17v1m0 4v4m0 1v2m0 3v16M1469 977v1m0 8v1m0 2v2m0 3v1m0 1v1m0 8v3m0 2v3m0 4v3m0 1v4m0 2v5m0 1v9m0 1v4m0 1v1m0 1v1m0 2v3m0 1v1m0 1v3m0 2v3m0 2v4M1470 972v1m0 2v1m0 4v1m0 1v1m0 1v1m0 4v2m0 3v1m0 4v1m0 2v1m0 1v5m0 2v6m0 2v3m0 1v2m0 1v7m0 1v5m0 2v1m0 1v4m0 2v1m0 1v2m0 2v1m0 3v2m0 3v1M1471 1076v7m0 3v8m0 4v6M1472 971v2m0 3v1m0 12v1m0 1v2m0 1v1m0 1v4m0 1v2m0 1v21m0 1v6m0 4v2m0 2v1m0 1v1m0 1v5m0 2v1m0 3v1m0 2v1M1473 1005v1m0 1v1m0 6v1m0 2v1m0 4v5m0 3v2m0 1v6m0 1v3m0 1v1m0 1v2m0 1v1m0 1v2m0 2v3m0 1v12M1474 973v1m0 10v1m0 2v2m0 4v1m0 2v1m0 2v1m0 4v1m0 1v2m0 1v5m0 3v12m0 1v4m0 1v4m0 1v4m0 1v1m0 1v1m0 2v2m0 1v4m0 8v2m0 6v3M1475 1052v1m0 2v1m0 6v2m0 1v2m0 4v33M1476 972v1m0 4v1m0 4v1m0 7v1m0 2v1m0 2v1m0 1v8m0 1v2m0 1v17m0 1v6m0 2v6m0 1v2m0 2v1m0 3v1m0 1v1m0 1v1m0 2v1M1477 1001v1m0 2v2m0 4v1m0 1v1m0 3v2m0 2v2m0 1v2m0 1v3m0 1v5m0 1v3m0 1v3m0 1v1m0 1v6m0 1v3m0 2v1m0 5v1m0 2v2m0 4v3M1478 1030v1m0 17v1m0 1v1m0 1v1m0 2v1m0 2v1m0 3v2m0 1v31m0 2v9M1479 1050v1m0 3v1m0 6v1m0 5v2m0 2v9m0 6v5M1480 1062v2m0 3v2m0 4v40M1481 995v1m0 1v2m0 1v1m0 1v2m0 4v3m0 3v1m0 2v4m0 1v3m0 1v12m0 2v3m0 2v3m0 1v1m0 1v3m0 1v2m0 1v1m0 12v2M1482 993v1m0 4v1m0 2v1m0 1v3m0 1v4m0 1v2m0 2v2m0 1v3m0 1v14m0 1v2m0 1v5m0 1v1m0 1v2m0 5v1m0 4v1m0 14v3M1483 1033v1m0 3v1m0 7v1m0 4v2m0 2v1m0 1v1m0 1v6m0 1v4m0 2v11m0 4v4M1484 1057v1m0 1v2m0 3v9m0 6v19m0 9v1M1485 977v2m0 3v2m0 3v2m0 5v1m0 1v2m0 1v2m0 2v6m0 1v8m0 1v3m0 1v2m0 1v5m0 1v2m0 1v1m0 1v2m0 2v4m0 1v1m0 1v2m0 1v1m0 1v1m0 5v2m0 1v2m0 12v3M1486 1020v2m0 4v2m0 2v2m0 2v24m0 1v3m0 2v3m0 4v8M1487 1010v1m0 4v1m0 2v2m0 1v3m0 1v22m0 1v3m0 1v1m0 1v1m0 1v2m0 3v1m0 3v2M1488 1057v2m0 5v3m0 2v2m0 3v16m0 1v12M1489 972v1m0 6v1m0 1v1m0 1v6m0 1v2m0 2v2m0 1v4m0 1v3m0 1v6m0 1v4m0 1v2m0 1v9m0 1v2m0 2v1m0 1v2m0 1v1m0 1v1m0 5v8m0 11v2m0 4v3M1490 974v2m0 1v1m0 4v1m0 1v2m0 1v2m0 1v5m0 1v1m0 1v4m0 1v2m0 1v3m0 1v1m0 1v14m0 1v11m0 1v1m0 1v1m0 1v1m0 1v2m0 2v1m0 8v6M1491 981v1m0 1v3m0 3v1m0 4v4m0 2v4m0 1v1m0 1v2m0 1v7m0 3v2m0 1v4m0 1v12m0 1v2m0 1v4m0 4v1m0 11v1M1492 1035v1m0 13v2m0 2v1m0 1v1m0 1v1m0 1v3m0 1v1m0 2v13m0 3v6"/>
<path stroke="#0000df" d="M733 1072v1m0 10v3m0 7v14M734 1043v1m0 6v1m0 1v1m0 1v1m0 2v4m0 4v6m0 2v6M735 1020v1m0 2v1m0 16v2m0 2v1m0 3v1m0 1v2m0 1v1m0 4v3m0 1v2m0 3v2m0 4v2m0 7v9M736 1040v1m0 1v1m0 2v1m0 4v1m0 3v3m0 1v1m0 5v15m0 3v18M737 1045v1m0 27v6m0 3v4M738 1036v1m0 20v1m0 4v5m0 17v7M739 1042v1m0 6v1m0 2v2m0 1v1m0 1v14m0 8v3M740 1061v1m0 5v2m0 4v9m0 1v3m0 12v5M741 1043v1m0 7v1m0 1v1m0 1v1m0 1v1m0 3v1m0 2v1m0 2v2m0 10v7M742 998v1m0 13v1m0 3v1m0 2v1m0 3v2m0 1v1m0 4v1m0 1v1m0 2v1m0 2v4m0 3v2m0 2v2m0 2v1m0 3v3m0 4v2m0 2v7m0 3v3M743 1004v2m0 11v2m0 7v1m0 4v5m0 1v2m0 2v1m0 2v1m0 2v4m0 2v1m0 5v3M744 1072v1m0 25v6m0 3v6M745 1054v1m0 6v1m0 14v6m0 4v12M746 998v1m0 83v4m0 5v17M747 1003v1m0 7v1m0 19v1m0 8v1m0 2v1m0 1v1m0 1v1m0 4v1m0 3v1m0 2v2m0 1v2m0 7v2m0 4v2m0 5v7M748 998v1m0 58v2m0 8v2m0 2v2m0 3v3m0 7v21M749 1076v3m0 7v5m0 4v19M750 1098v9M751 1040v1m0 3v3m0 4v1m0 2v2m0 2v1m0 3v4m0 1v6m0 3v3M752 1059v2m0 3v1m0 4v2m0 2v3m0 6v16m0 9v5M753 998v1m0 69v1m0 2v2m0 3v6m0 9v16M754 992v1m0 18v1m0 5v2m0 6v1m0 3v2m0 1v1m0 6v2m0 2v9m0 2v1m0 2v2m0 2v1m0 5v2M755 1040v1m0 8v1m0 1v2m0 3v1m0 1v4m0 5v2m0 6v7m0 2v2m0 12v2M756 1062v2m0 18v2m0 2v5M757 975v1m0 15v1m0 12v1m0 1v1m0 1v1m0 5v1m0 5v1m0 1v1m0 1v1m0 1v1m0 3v2m0 2v2m0 3v1m0 1v1m0 2v3m0 2v1m0 2v2m0 1v1m0 13v2M758 1007v1m0 13v2m0 2v1m0 1v1m0 4v2m0 5v1m0 2v1m0 3v1m0 1v1m0 2v1m0 2v1m0 1v11m0 19v5M759 1041v1m0 2v1m0 1v1m0 4v1m0 2v1m0 1v1m0 1v1m0 6v2m0 6v1m0 5v3M760 1091v7M761 1034v1m0 6v1m0 4v1m0 2v1m0 3v2m0 1v3m0 3v1m0 2v4m0 2v4m0 1v5M762 1050v1m0 3v1m0 1v1m0 2v2m0 1v1m0 1v5m0 2v2m0 6v3m0 4v5M763 1055v1m0 9v2m0 12v7M764 1007v1m0 14v1m0 1v1m0 1v2m0 6v3m0 1v1m0 1v5m0 4v1m0 5v2m0 2v3m0 7v2M765 972v1m0 1v2m0 4v4m0 10v2m0 5v1m0 2v1m0 3v1m0 2v3m0 2v2m0 5v1m0 5v1m0 5v3m0 2v2m0 12v1M766 1079v7m0 5v1M767 1071v2m0 4v12m0 2v5M768 1030v1m0 1v1m0 7v1m0 3v1m0 3v2m0 1v2m0 1v1m0 1v2m0 3v1m0 2v1m0 2v1m0 3v1m0 7v2m0 6v4M769 976v3m0 2v1m0 4v1m0 4v2m0 6v1m0 1v2m0 1v1m0 1v1m0 1v1m0 3v4m0 1v1m0 2v1m0 2v1m0 1v1m0 1v1m0 3v1m0 2v1m0 5v1m0 1v1m0 2v1m0 1v2m0 15v1M770 1012v1m0 2v1m0 7v1m0 1v1m0 2v3m0 3v2m0 2v6m0 3v1m0 1v1m0 1v3m0 5v3m0 3v2m0 6v6M771 1073v1m0 17v4m0 9v3M772 998v1m0 53v1m0 14v2m0 2v2m0 6v3m0 9v3M773 998v1m0 48v1m0 2v1m0 13v3m0 2v1m0 1v2m0 3v3m0 1v6M774 1053v1m0 1v1m0 2v1m0 2v4m0 1v5m0 2v6m0 2v1m0 9v7M775 1049v1m0 21v2m0 6v3m0 9v4M776 1079v3m0 7v2m0 16v1M777 1046v1m0 5v1m0 2v1m0 2v1m0 5v1m0 8v6m0 3v2M778 991v1m0 1v1m0 5v1m0 6v1m0 1v1m0 3v1m0 4v2m0 2v1m0 1v4m0 1v3m0 5v2m0 1v4m0 1v1m0 1v1m0 1v1m0 5v1m0 2v4m0 4v2m0 6v1M779 1067v2m0 7v3m0 2v1m0 4v5M780 1042v1m0 7v1m0 13v1m0 4v7m0 2v1m0 1v4m0 9v5M781 1035v1m0 22v4m0 5v4m0 8v6M782 998v1m0 81v2m0 8v1M783 1050v1m0 5v1m0 10v2m0 3v4m0 3v3m0 4v3m0 2v16M784 1093v5M785 1045v1m0 3v1m0 2v2m0 5v5m0 5v7m0 3v3M786 1047v1m0 5v1m0 3v1m0 1v2m0 1v3m0 2v2m0 4v3m0 3v7m0 21v15M787 1076v3m0 3v4m0 12v7M788 1053v1m0 13v2m0 7v3m0 12v7M789 1091v7m0 9v2M790 1043v1m0 15v2m0 10v2m0 9v16m0 1v8M791 1067v2m0 7v3m0 6v6m0 7v7M792 1069v2m0 5v6m0 4v12m0 5v4M793 1101v7M794 998v1m0 40v1m0 11v1m0 3v2m0 8v4m0 2v5m0 6v1M795 1049v1m0 15v2m0 4v11m0 11v5M796 973v1m0 15v2m0 9v1m0 3v1m0 1v2m0 1v1m0 3v1m0 2v1m0 1v1m0 1v1m0 1v1m0 2v1m0 3v2m0 1v2m0 1v1m0 1v3m0 6v1m0 3v2m0 6v1m0 3v2M797 977v2m0 1v1m0 5v1m0 4v1m0 3v1m0 1v2m0 3v1m0 3v1m0 1v1m0 1v1m0 1v3m0 6v1m0 2v1m0 1v1m0 2v2m0 9v2m0 2v1m0 1v1m0 4v1m0 1v1m0 3v1M798 987v3m0 1v1m0 4v1m0 2v1m0 1v1m0 6v1m0 2v2m0 1v1m0 1v1m0 1v1m0 4v3m0 5v2m0 1v4m0 1v1m0 1v1m0 1v4m0 2v1m0 1v2m0 3v1m0 5v1M799 991v1m0 3v1m0 3v1m0 5v1m0 4v2m0 7v1m0 4v4m0 7v2m0 2v1m0 1v1m0 5v1m0 6v1m0 10v2M800 975v1m0 13v2m0 1v1m0 5v1m0 4v1m0 3v1m0 3v1m0 1v1m0 1v1m0 1v2m0 2v6m0 12v1m0 3v1m0 3v2m0 2v2m0 4v1m0 9v2M801 1043v1m0 1v1m0 23v13m0 9v5M802 1046v1m0 4v2m0 8v1m0 3v2m0 2v4m0 6v3M803 999v1m0 17v1m0 1v2m0 4v1m0 1v1m0 1v1m0 1v2m0 2v1m0 2v2m0 1v4m0 1v1m0 1v1m0 1v2m0 2v4m0 6v3m0 4v2M804 1031v1m0 5v1m0 3v3m0 1v1m0 3v1m0 1v1m0 2v3m0 2v2m0 3v1m0 2v2m0 2v2m0 6v3M805 1009v1m0 16v1m0 6v1m0 3v1m0 3v3m0 2v2m0 2v1m0 2v2m0 1v1m0 4v1m0 2v3m0 6v3m0 6v4M806 998v1m0 34v2m0 6v1m0 5v2m0 3v1m0 9v5m0 2v4m0 3v2M807 986v1m0 3v1m0 14v1m0 3v1m0 7v2m0 2v1m0 3v3m0 1v1m0 1v2m0 2v1m0 2v1m0 3v1m0 2v2m0 3v2m0 1v1m0 3v1m0 6v1m0 4v2M808 1061v1m0 9v2m0 6v3m0 9v6M809 972v1m0 6v1m0 5v1m0 5v2m0 3v2m0 10v1m0 1v1m0 5v1m0 1v2m0 1v5m0 3v1m0 1v1m0 2v1m0 1v2m0 1v1m0 3v1m0 3v3m0 23v6m0 12v1M810 1037v1m0 7v1m0 3v1m0 1v1m0 6v1m0 3v3m0 2v2m0 2v5M811 1082v16M812 1003v3m0 4v1m0 2v2m0 3v2m0 8v2m0 2v2m0 1v2m0 2v1m0 1v2m0 1v1m0 3v2m0 2v3m0 16v2M813 1025v1m0 1v2m0 9v1m0 2v1m0 3v1m0 4v4m0 1v3m0 3v1m0 2v7m0 2v3m0 2v3M814 1058v1m0 31v8M815 1091v2m0 13v5M816 1078v1m0 3v4m0 11v5m0 5v8M817 998v1m0 65v3m0 4v8m0 3v9m0 7v1M818 1107v14M819 1012v1m0 24v1m0 5v1m0 5v2m0 4v2m0 1v1m0 2v1m0 2v3m0 2v7m0 3v3m0 4v5m0 7v9M820 998v1m0 80v3M821 998v1m0 40v1m0 6v1m0 3v1m0 6v1m0 1v2m0 8v4m0 3v10M822 1040v1m0 13v1m0 14v2m0 11v4m0 2v3m0 5v2M823 998v1m0 48v1m0 8v1m0 7v1m0 2v2m0 2v8m0 3v1M824 1056v2m0 6v1m0 2v4m0 2v3m0 6v1M825 1091v7m0 5v4m0 4v11M826 998v1m0 36v1m0 5v1m0 8v1m0 1v1m0 1v3m0 2v2m0 3v1m0 2v2m0 13v3m0 1v11M827 1082v4m0 3v6m0 3v3M828 1076v3m0 3v4M829 1091v7m0 12v12M830 1034v1m0 5v1m0 6v1m0 6v1m0 3v1m0 2v1m0 2v6m0 1v2m0 3v6m0 4v5M831 1002v1m0 28v1m0 1v1m0 4v1m0 4v1m0 1v2m0 2v1m0 1v3m0 1v3m0 8v1M832 1063v1m0 7v2m0 6v3m0 6v10m0 9v13M833 1016v1m0 19v2m0 2v1m0 1v1m0 2v1m0 4v1m0 2v2m0 1v1m0 3v1m0 8v2m0 2v3m0 3v3M834 1030v1m0 3v1m0 2v1m0 4v4m0 4v2m0 1v4m0 1v3m0 1v2m0 1v2m0 2v7M835 1067v2m0 13v4m0 5v7m0 9v1M836 1038v1m0 1v1m0 2v2m0 2v1m0 1v1m0 6v2m0 1v2m0 3v5m0 2v2M837 1029v1m0 12v1m0 2v2m0 2v2m0 2v1m0 5v3m0 2v2m0 1v6M838 1022v1m0 12v1m0 4v1m0 2v2m0 1v1m0 3v1m0 2v2m0 4v1m0 1v1m0 14v1M839 1011v1m0 12v1m0 2v1m0 5v1m0 3v3m0 4v1m0 1v1m0 1v2m0 2v2m0 2v2m0 18v3M840 1079v3m0 1v3m0 5v6m0 1v2m0 7v5M841 1009v1m0 17v1m0 9v1m0 4v1m0 4v1m0 2v1m0 1v1m0 1v1m0 1v9m0 2v2m0 4v6m0 3v4M842 1052v1m0 23v3m0 1v2m0 4v11M843 1055v1m0 9v2m0 2v2m0 5v5m0 1v13m0 3v5M844 1052v1m0 6v2m0 3v3m0 2v7m0 10v1m0 4v4M845 1013v1m0 13v1m0 1v2m0 2v1m0 7v2m0 3v3m0 1v2m0 1v2m0 3v4m0 5v2m0 7v3M846 1079v3m0 2v2M847 1006v2m0 2v1m0 5v1m0 2v1m0 6v1m0 5v2m0 6v1m0 5v1m0 2v1m0 2v3m0 4v2m0 1v3m0 2v2m0 13v4M848 1008v1m0 26v1m0 2v1m0 1v1m0 12v2m0 2v1m0 1v3m0 3v4M849 998v1m0 18v1m0 14v1m0 2v2m0 3v3m0 3v1m0 8v1m0 1v2m0 11v6m0 3v3M850 988v1m0 30v1m0 15v1m0 6v1m0 3v3m0 1v2m0 2v1m0 1v2m0 1v2m0 4v2m0 2v2m0 5v3M851 1012v1m0 5v1m0 16v1m0 1v2m0 2v3m0 1v1m0 1v1m0 1v1m0 1v4m0 1v1m0 1v1m0 5v1m0 2v2M852 1044v1m0 13v1m0 12v2m0 3v3m0 8v4M853 1011v1m0 3v1m0 9v1m0 3v1m0 2v1m0 2v1m0 3v1m0 1v1m0 3v2m0 5v2m0 1v3m0 1v2m0 4v2m0 6v3M854 1065v2m0 6v3m0 6v25M855 1016v1m0 8v1m0 15v2m0 1v1m0 4v1m0 3v1m0 2v5m0 1v3m0 4v4m0 13v4M856 1034v3m0 1v2m0 3v2m0 7v1m0 2v1m0 3v5m0 3v6m0 3v3M857 1021v1m0 10v1m0 5v1m0 3v1m0 2v1m0 5v1m0 4v2m0 4v5m0 4v5m0 10v2M858 1064v1m0 2v2m0 2v2m0 1v2m0 3v3M859 1030v1m0 9v1m0 5v1m0 7v2m0 9v6m0 2v3m0 3v3m0 18v7M860 1023v1m0 4v1m0 3v1m0 1v1m0 8v1m0 3v1m0 1v2m0 1v1m0 2v6m0 3v1m0 17v4M861 1015v1m0 11v1m0 5v1m0 2v4m0 1v1m0 2v5m0 1v1m0 6v1m0 3v1m0 5v1m0 1v2m0 15v5M862 1009v1m0 7v1m0 7v1m0 4v1m0 1v2m0 1v1m0 1v4m0 2v2m0 1v2m0 1v6m0 1v2m0 11v2m0 15v5M863 1038v1m0 6v1m0 6v3m0 1v2m0 6v1m0 2v2m0 2v2m0 3v6M864 1021v1m0 3v1m0 13v1m0 2v1m0 1v1m0 3v2m0 2v2m0 2v1m0 1v2m0 1v6m0 4v5M865 1033v2m0 12v2m0 6v2m0 1v3m0 1v2m0 1v11m0 15v7M866 988v1m0 11v3m0 2v2m0 2v1m0 7v1m0 5v1m0 6v1m0 3v1m0 1v1m0 1v4m0 2v2m0 1v1m0 2v1m0 1v2m0 2v2m0 1v3M867 1059v2m0 21v16M868 1062v2m0 3v2m0 4v3m0 6v4M869 996v1m0 5v2m0 3v3m0 1v1m0 6v1m0 1v2m0 2v1m0 10v1m0 3v1m0 3v1m0 1v5m0 2v1m0 2v4m0 14v3M870 983v1m0 12v1m0 10v1m0 1v1m0 6v2m0 2v1m0 1v1m0 1v1m0 2v3m0 1v1m0 1v1m0 3v2m0 1v1m0 2v1m0 1v1m0 2v1m0 1v1m0 4v3m0 3v1m0 5v4M871 976v1m0 8v1m0 5v1m0 2v1m0 3v3m0 2v1m0 1v1m0 2v1m0 1v2m0 2v2m0 1v2m0 1v2m0 2v2m0 4v1m0 4v2m0 2v2m0 3v1m0 1v1m0 1v2m0 5v1m0 1v1m0 9v2M872 997v1m0 1v1m0 2v1m0 2v1m0 1v1m0 3v1m0 3v1m0 3v3m0 1v2m0 4v2m0 5v3m0 1v7m0 1v3m0 2v1m0 1v2m0 1v1m0 10v2m0 15v5M873 1020v1m0 5v1m0 7v1m0 5v1m0 1v3m0 3v2m0 1v1m0 2v1m0 3v3m0 6v2m0 4v1m0 2v1m0 9v12M881 993v1m0 24v1m0 1v1m0 4v1m0 3v1m0 2v1m0 1v2m0 4v1m0 2v3m0 2v2m0 3v1m0 1v1m0 1v2m0 2v3m0 1v2m0 6v6m0 19v6M882 1011v1m0 15v1m0 2v1m0 1v1m0 1v1m0 3v2m0 5v3m0 1v4m0 1v2m0 1v2m0 2v3m0 1v2M884 1022v1m0 11v3m0 2v1m0 4v1m0 1v3m0 3v1m0 2v2m0 1v4m0 9v2M885 1081v1m0 4v5m0 7v5m0 4v3M886 1025v1m0 3v1m0 2v1m0 1v3m0 2v1m0 4v1m0 1v2m0 1v1m0 1v1m0 1v1m0 2v2m0 3v1m0 2v4m0 3v2m0 6v3M887 1073v6m0 6v13M888 1073v3m0 3v2m0 1v16M889 1079v3m0 12v11M890 1062v3m0 2v2m0 3v1m0 5v4m0 4v4M891 1040v1m0 8v1m0 6v1m0 4v1m0 7v7m0 13v5m0 4v2M892 1050v1m0 13v3m0 4v8m0 3v11M893 1065v2m0 6v3m0 6v18M894 1079v9m0 10v3M1014 1069v2m0 11v4m0 5v2m0 5v9M1015 1069v2m0 6v2m0 12v7M1017 1082v9m0 2v5M1018 1051v1m0 10v2m0 7v2m0 6v5m0 4v3m0 8v8M1019 1091v1m0 6v6M1020 1086v2m0 3v23M1021 1086v7m0 5v7m0 2v1M1022 996v1m0 3v1m0 6v1m0 6v1m0 7v2m0 2v3m0 4v2m0 1v2m0 1v2m0 5v6m0 4v1m0 1v4m0 2v1m0 4v2m0 8v1M1023 1091v14m0 3v14M1024 1054v1m0 6v1m0 2v1m0 14v3m0 4v5M1025 1005v1m0 10v1m0 7v2m0 3v2m0 3v3m0 1v2m0 2v1m0 1v2m0 1v2m0 1v3m0 2v2M1026 1003v1m0 11v1m0 6v1m0 3v1m0 1v1m0 2v3m0 2v2m0 3v1m0 1v3m0 1v2m0 3v9m0 12v1m0 2v3m0 1v2M1027 999v1m0 5v1m0 9v1m0 4v3m0 9v2m0 3v1m0 2v1m0 1v1m0 2v1m0 3v1m0 1v1m0 2v1m0 2v1m0 9v2M1028 1098v4m0 5v6M1029 1026v1m0 4v1m0 1v1m0 13v1m0 3v2m0 2v3m0 1v5m0 3v2m0 4v6M1030 1005v1m0 26v1m0 3v1m0 2v2m0 4v1m0 1v2m0 2v2m0 1v2m0 2v4m0 3v2m0 9v2m0 1v4M1031 1098v15M1032 1086v20M1033 1065v2m0 4v2m0 1v2m0 5v1M1034 1065v2m0 9v3m0 12v14M1035 1048v1m0 2v1m0 15v2m0 10v7m0 5v6M1036 1042v1m0 16v5m0 7v5m0 10v5m0 16v9M1037 1051v1m0 17v2m0 8v3m0 4v5M1038 1071v5m0 10v3m0 2v13m0 3v10M1039 1041v1m0 3v1m0 7v1m0 2v3m0 3v2m0 3v4m0 5v6m0 4v1m0 11v9M1040 1005v1m0 21v1m0 5v1m0 6v1m0 5v1m0 1v3m0 2v1m0 5v2m0 2v1m0 1v2m0 4v2M1041 1032v1m0 5v2m0 6v2m0 3v5m0 3v2m0 1v5m0 19v5M1042 993v1m0 4v1m0 6v3m0 1v1m0 4v1m0 2v2m0 4v2m0 1v1m0 2v3m0 3v1m0 3v1m0 2v3m0 1v3m0 1v1m0 3v2m0 6v2m0 3v4m0 8v3M1043 1062v3m0 4v4m0 6v3m0 4v12M1044 1073v7m0 5v1M1045 999v1m0 2v1m0 4v1m0 1v1m0 3v1m0 1v1m0 1v5m0 2v3m0 2v1m0 2v1m0 1v2m0 1v3m0 7v1m0 5v2m0 18v3M1046 1021v1m0 9v1m0 2v4m0 2v8m0 2v2m0 3v1m0 2v3M1047 1092v13M1048 1104v3M1049 1063v1m0 27v30M1050 1098v5M1051 1058v1m0 14v3m0 4v2m0 9v1m0 6v6m0 13v5M1052 1047v1m0 38v5m0 9v7M1053 1069v2m0 2v3m0 10v5m0 16v3M1054 1071v2m0 18v14m0 15v2M1055 1052v1m0 6v2m0 6v4m0 3v12m0 1v4M1056 1089v17m0 1v1M1057 1034v1m0 12v1m0 4v2m0 2v2m0 3v3m0 1v8m0 6v7M1058 1035v1m0 9v1m0 5v1m0 4v1m0 2v2m0 1v8m0 1v5M1059 1051v1m0 10v3m0 6v2m0 4v2m0 3v4m0 12v2M1060 1073v3m0 15v1m0 6v2M1061 1071v2m0 9v16M1062 986v1m0 6v1m0 8v1m0 3v1m0 4v2m0 5v1m0 3v1m0 1v2m0 1v5m0 1v2m0 1v2m0 1v1m0 2v1m0 3v1m0 1v5m0 12v2M1063 1070v1m0 15v5m0 4v12M1064 1047v1m0 2v1m0 1v1m0 1v1m0 4v6m0 3v3m0 2v2m0 7v4M1065 1007v1m0 1v1m0 6v1m0 9v2m0 2v1m0 2v4m0 1v1m0 6v2m0 3v2m0 3v1m0 6v2m0 9v3M1066 1056v1m0 2v2m0 4v2m0 2v7m0 3v7m0 12v6M1067 1038v1m0 4v1m0 5v1m0 3v2m0 2v2m0 2v1m0 7v2m0 2v3M1068 1052v1m0 1v1m0 1v1m0 7v3m0 1v1m0 2v5M1069 1067v4M1070 1079v3m0 9v7m0 5v4m0 1v14M1071 1091v7m0 16v8M1072 1056v2m0 3v1m0 7v2m0 2v3m0 3v3m0 4v7M1073 1073v3m0 4v2m0 4v5m0 11v16M1074 1035v1m0 2v1m0 2v1m0 1v2m0 1v1m0 2v1m0 1v1m0 2v7m0 6v2m0 4v6M1075 997v2m0 4v1m0 7v1m0 3v1m0 2v1m0 3v1m0 2v1m0 3v2m0 5v2m0 1v3m0 4v3m0 1v3m0 4v1m0 6v1m0 8v1m0 5v7M1076 971v3m0 7v2m0 1v1m0 6v2m0 1v2m0 8v7m0 3v2m0 1v1m0 2v1m0 1v1m0 2v1m0 2v1m0 2v1m0 2v1m0 1v1m0 2v1m0 2v1m0 1v1m0 7v1m0 5v1m0 3v2M1077 991v1m0 11v4m0 1v1m0 1v5m0 2v4m0 1v4m0 2v1m0 1v2m0 2v1m0 1v1m0 3v3m0 2v1m0 1v3m0 1v5m0 2v1m0 3v2M1078 1017v2m0 7v1m0 1v1m0 4v1m0 3v2m0 3v1m0 2v2m0 1v2m0 2v1m0 2v3m0 1v3m0 14v6M1079 1107v11M1080 1082v9m0 3v4M1081 1107v1M1082 1108v12M1083 1100v7M1084 1078v1m0 12v23M1085 1054v1m0 19v2m0 6v4m0 7v5M1086 1031v1m0 29v1m0 7v2m0 2v3m0 10v1m0 4v7M1087 1055v1m0 8v1m0 2v2m0 2v5m0 6v4m0 5v7m0 19v5M1088 1119v3M1089 1101v6m0 7v8M1090 1079v7m0 5v7m0 4v6M1091 1095v7m0 5v13M1092 1078v4m0 9v18M1093 1086v5M1094 1085v1m0 4v1m0 16v8M1095 1055v1m0 17v6m0 3v4m0 12v3M1096 1064v1m0 2v2m0 13v5M1097 1114v8M1099 1059v2m0 4v2m0 6v9m0 9v5m0 11v9M1100 1094v4m0 7v2M1101 1047v1m0 23v5m0 3v3M1102 1053v1m0 5v6m0 4v2m0 2v6m0 3v4M1103 1092v6m0 17v7M1104 1080v2m0 3v4m0 2v7m0 9v5M1105 1071v2m0 9v16M1106 1103v4M1107 1098v9M1108 1107v10M1109 1071v14m0 6v7M1110 1076v6m0 1v3m0 9v3M1112 1085v1m0 7v5M1113 1105v8M1114 1055v1m0 6v2m0 5v2m0 5v10m0 12v9M1115 1058v1m0 2v1m0 16v1m0 3v4m0 5v6m0 1v7M1116 1096v2m0 15v9M1117 1047v1m0 13v1m0 2v1m0 6v5m0 3v9M1118 1060v1m0 3v3m0 2v2m0 8v3M1119 1071v1m0 10v4m0 3v14M1120 1090v1m0 1v6M1121 1109v13M1122 1106v8M1123 1081v1m0 4v5m0 7v1m0 8v1M1124 1103v4m0 8v7M1125 1096v10M1126 1102v5m0 3v12M1127 1042v1m0 10v1m0 6v1m0 3v1m0 6v2m0 3v2m0 4v4m0 5v5M1128 972v2m0 3v1m0 3v4m0 1v1m0 2v1m0 5v1m0 1v1m0 2v1m0 1v1m0 2v3m0 1v2m0 2v2m0 2v4m0 3v1m0 2v1m0 14v1m0 1v1M1129 972v1m0 4v1m0 4v4m0 1v1m0 1v1m0 2v1m0 4v1m0 1v1m0 1v1m0 1v4m0 2v2m0 9v1m0 4v1m0 1v1m0 2v1m0 1v1m0 20v1m0 3v1M1130 970v1m0 5v4m0 1v1m0 1v1m0 1v1m0 1v1m0 2v1m0 1v1m0 1v3m0 5v1m0 1v1m0 2v1m0 2v1m0 1v1m0 1v2m0 2v1m0 2v1m0 2v1m0 4v1m0 13v1M1131 1079v3m0 9v7M1132 974v3m0 2v1m0 1v1m0 2v1m0 1v1m0 2v2m0 1v4m0 3v5m0 4v3m0 1v5m0 1v1m0 2v1m0 14v1m0 9v1M1133 996v1m0 3v1m0 9v1m0 4v1m0 7v1m0 2v1m0 1v2m0 1v1m0 1v2m0 1v1m0 3v1m0 1v5m0 3v2m0 1v1m0 2v1m0 1v1m0 5v3m0 6v3M1134 1072v7m0 12v2m0 14v1M1135 992v1m0 4v1m0 2v1m0 6v1m0 3v1m0 1v2m0 2v1m0 1v2m0 2v1m0 2v1m0 1v2m0 3v3m0 2v1m0 1v2m0 1v1m0 5v1m0 2v1m0 2v1m0 1v1m0 6v1M1136 1019v1m0 13v1m0 2v1m0 4v1m0 2v3m0 1v2m0 2v1m0 2v1m0 3v2m0 3v1m0 11v3m0 3v4M1137 972v5m0 5v2m0 2v1m0 2v3m0 1v3m0 2v1m0 1v1m0 2v1m0 2v1m0 2v1m0 1v1m0 1v2m0 2v2m0 1v1m0 1v4m0 1v3m0 3v1m0 24v1m0 8v2M1138 970v1m0 3v1m0 2v2m0 1v2m0 3v1m0 5v2m0 1v2m0 1v2m0 2v2m0 4v1m0 1v1m0 1v4m0 2v1m0 6v1m0 2v3m0 3v2m0 11v1m0 1v1m0 13v3M1139 970v2m0 2v1m0 8v1m0 1v2m0 1v2m0 2v3m0 1v1m0 1v3m0 1v1m0 1v6m0 8v1m0 1v1m0 2v1m0 1v4m0 3v1m0 6v1m0 6v1m0 5v1m0 12v2m0 2v2M1140 1019v1m0 8v1m0 6v2m0 2v1m0 1v1m0 2v1m0 1v1m0 1v1m0 5v5m0 8v2m0 4v6m0 7v5M1141 1015v1m0 13v1m0 4v1m0 2v1m0 1v1m0 1v2m0 1v3m0 1v2m0 1v3m0 2v3m0 3v3m0 6v2m0 6v3M1142 1039v1m0 10v1m0 8v2m0 1v2m0 1v2m0 10v2M1143 973v1m0 2v1m0 10v1m0 1v1m0 1v1m0 4v1m0 1v3m0 1v1m0 2v4m0 2v1m0 1v2m0 1v1m0 4v1m0 1v4m0 2v3m0 3v1m0 2v1m0 4v3m0 4v1m0 3v1m0 36v7M1144 1029v1m0 7v1m0 2v1m0 1v3m0 3v2m0 6v2m0 1v6m0 2v2m0 2v2m0 3v6M1145 995v1m0 3v2m0 6v2m0 1v1m0 2v2m0 7v1m0 1v1m0 3v3m0 1v1m0 2v4m0 1v1m0 1v2m0 1v8m0 1v1m0 1v2m0 3v1m0 2v1m0 6v2m0 6v3M1146 973v5m0 1v7m0 1v4m0 2v1m0 3v8m0 12v2m0 10v1m0 10v1M1147 1026v1m0 11v1m0 2v1m0 1v2m0 2v3m0 3v1m0 3v1m0 3v3m0 1v2m0 2v4m0 18v7M1148 973v2m0 1v1m0 4v3m0 2v1m0 3v1m0 3v1m0 3v3m0 4v1m0 3v1m0 1v2m0 5v3m0 5v1m0 2v1m0 11v1m0 12v1m0 10v2M1149 972v3m0 2v1m0 5v1m0 4v1m0 2v2m0 4v3m0 2v6m0 1v1m0 4v1m0 2v1m0 1v1m0 3v4m0 4v2m0 1v1m0 1v1m0 8v1M1150 1043v1m0 11v1m0 11v2m0 7v3M1151 985v1m0 5v1m0 3v2m0 4v1m0 9v4m0 4v7m0 3v1m0 1v2m0 7v2m0 2v3m0 2v1m0 3v1m0 4v1M1152 970v2m0 8v1m0 9v1m0 2v4m0 2v1m0 2v2m0 5v1m0 1v1m0 5v2m0 1v1m0 3v2m0 1v1m0 3v1m0 6v1m0 2v1m0 13v1M1153 1025v1m0 6v1m0 2v1m0 2v2m0 3v1m0 3v1m0 1v1m0 1v1m0 3v2m0 1v4m0 2v1m0 4v1m0 1v5M1154 1035v1m0 15v1m0 10v2m0 1v2m0 31v4M1155 1061v3m0 15v12M1156 970v1m0 9v2m0 4v1m0 9v3m0 2v2m0 4v2m0 6v1m0 1v1m0 1v1m0 4v1m0 2v1m0 2v1m0 1v2m0 1v1m0 1v1m0 5v1m0 1v1m0 7v1m0 1v1m0 11v2M1157 978v1m0 3v1m0 1v1m0 6v4m0 2v1m0 1v1m0 2v1m0 1v2m0 1v2m0 1v1m0 1v1m0 2v2m0 4v3m0 3v1m0 1v3m0 3v1m0 2v1m0 1v2m0 4v1m0 4v1M1158 971v2m0 2v3m0 7v1m0 2v1m0 1v2m0 1v1m0 1v1m0 3v5m0 1v5m0 8v2m0 1v1m0 1v2m0 4v1m0 2v1m0 2v1m0 1v1m0 2v1m0 3v1m0 3v1m0 1v1m0 7v1M1159 972v3m0 1v2m0 1v2m0 1v1m0 2v2m0 1v2m0 2v1m0 6v2m0 3v5m0 1v1m0 2v1m0 6v1m0 3v2m0 1v1m0 1v1m0 11v2m0 9v1M1160 1038v4m0 4v1m0 3v2m0 1v2m0 3v1m0 6v4m0 2v5m0 6v1M1161 1044v1m0 6v5m0 5v3m0 3v2m0 4v3m0 10v5M1162 974v1m0 2v1m0 1v1m0 1v1m0 1v1m0 2v5m0 2v2m0 1v5m0 1v1m0 1v7m0 2v2m0 3v1m0 8v1m0 3v1m0 1v1m0 3v1m0 4v1m0 8v1M1163 981v2m0 1v1m0 2v1m0 5v1m0 1v2m0 17v1m0 3v4m0 3v1m0 1v7m0 1v1m0 1v1m0 4v1m0 4v1m0 2v3m0 2v1M1164 1047v1m0 3v3m0 2v1m0 2v2m0 4v8m0 3v10M1165 989v1m0 1v1m0 2v1m0 3v3m0 5v2m0 2v2m0 1v2m0 1v1m0 1v3m0 1v3m0 1v1m0 4v2m0 1v1m0 2v1m0 4v1m0 3v4m0 8v1m0 2v1M1166 975v1m0 5v1m0 5v1m0 7v1m0 6v1m0 1v1m0 3v2m0 1v4m0 1v1m0 2v1m0 3v2m0 2v1m0 2v2m0 1v2m0 6v1m0 1v2m0 9v1m0 3v1M1167 1035v1m0 1v1m0 2v1m0 4v1m0 9v1m0 1v1m0 1v3m0 5v2m0 4v2m0 1v3M1168 1034v1m0 1v2m0 1v1m0 4v1m0 7v1m0 12v2m0 6v6M1169 977v1m0 11v1m0 1v1m0 1v1m0 5v1m0 9v1m0 2v2m0 2v1m0 4v1m0 2v3m0 5v2m0 7v2m0 1v1m0 6v1m0 4v1m0 5v3m0 14v3M1170 1032v2m0 1v1m0 7v1m0 1v3m0 3v1m0 1v1m0 1v2m0 1v1m0 6v2M1171 970v1m0 3v1m0 1v1m0 3v1m0 1v1m0 1v2m0 1v1m0 4v2m0 1v1m0 2v1m0 1v1m0 3v8m0 7v1m0 2v2m0 4v1m0 2v1m0 6v1m0 2v2m0 7v1m0 13v1M1172 973v2m0 6v1m0 1v2m0 2v2m0 1v1m0 1v1m0 5v7m0 2v4m0 1v3m0 2v1m0 2v2m0 1v2m0 2v2m0 1v1m0 2v3m0 1v3M1173 970v1m0 4v1m0 1v1m0 2v2m0 9v1m0 3v1m0 1v1m0 2v2m0 3v2m0 3v3m0 2v3m0 1v3m0 1v2m0 2v1m0 3v1M1174 1045v1m0 2v1m0 2v3m0 5v6m0 6v2m0 6v3m0 4v5m0 7v1M1175 973v2m0 3v1m0 3v1m0 8v1m0 1v1m0 6v3m0 5v2m0 2v1m0 4v3m0 1v2m0 1v1m0 1v1m0 2v1m0 3v1m0 2v1m0 5v2m0 3v3m0 1v1M1176 995v1m0 2v1m0 15v1m0 4v1m0 2v1m0 1v1m0 1v8m0 1v2m0 1v3m0 3v1m0 1v4m0 2v2m0 1v1m0 2v3m0 3v1m0 2v2M1177 1031v1m0 5v2m0 2v1m0 1v1m0 2v6m0 1v3m0 13v2m0 2v1M1178 989v1m0 13v2m0 3v1m0 2v1m0 1v1m0 8v1m0 3v1m0 1v1m0 1v4m0 3v1m0 1v3m0 2v2m0 2v1m0 2v1m0 3v1m0 1v2m0 8v2m0 10v3M1179 1030v2m0 3v5m0 1v2m0 6v2m0 4v1m0 2v1m0 3v2m0 1v2m0 2v2m0 27v5M1180 970v1m0 5v1m0 1v3m0 1v1m0 3v1m0 13v1m0 5v2m0 14v1m0 1v1m0 10v1M1181 970v3m0 5v1m0 1v2m0 8v3m0 1v1m0 2v1m0 2v4m0 5v1m0 2v1m0 6v1m0 8v1m0 13v1m0 3v1M1182 1046v1m0 10v2m0 10v7m0 3v3m0 4v12M1183 970v1m0 3v1m0 4v2m0 2v1m0 1v2m0 2v1m0 4v1m0 2v2m0 4v2m0 9v1m0 5v1m0 2v1m0 8v1m0 8v2m0 2v1M1184 1058v1m0 6v2m0 9v3M1185 1055v4m0 2v4m0 4v2m0 2v3m0 3v3m0 9v6M1186 1031v1m0 1v1m0 1v1m0 2v1m0 2v1m0 3v1m0 1v1m0 1v1m0 1v1m0 2v2m0 2v1m0 3v5m0 2v2M1187 1015v1m0 51v2m0 2v5M1188 972v1m0 6v1m0 1v1m0 2v1m0 2v3m0 1v2m0 1v1m0 3v1m0 5v1m0 5v2m0 2v1m0 5v1m0 7v1m0 8v1m0 1v1m0 3v1M1189 991v1m0 1v1m0 19v2m0 2v1m0 3v1m0 4v1m0 1v5m0 2v4m0 1v1m0 6v1m0 1v2m0 1v2m0 1v1m0 9v2M1190 1035v1m0 2v1m0 3v1m0 2v5m0 1v3m0 1v2m0 1v1m0 2v1m0 2v3M1191 982v1m0 5v1m0 3v1m0 3v1m0 4v1m0 1v3m0 9v2m0 1v1m0 1v1m0 5v2m0 4v1m0 1v5m0 2v1m0 2v1m0 2v1m0 9v2m0 2v3m0 1v2m0 15v4M1192 1026v2m0 11v3m0 1v1m0 5v2m0 1v5m0 2v1m0 2v2m0 1v2m0 2v4m0 3v2m0 7v1M1193 1082v4m0 12v3m0 6v5M1194 970v1m0 1v4m0 4v2m0 1v3m0 1v1m0 6v2m0 2v1m0 3v2m0 4v1m0 5v1m0 4v2m0 4v1m0 5v1m0 6v1M1195 1010v1m0 3v1m0 2v2m0 12v1m0 3v2m0 3v1m0 8v3m0 3v2m0 4v1m0 2v1m0 4v2m0 5v3M1196 972v1m0 5v1m0 1v1m0 3v2m0 7v1m0 1v2m0 1v3m0 1v1m0 2v3m0 3v1m0 2v2m0 1v1m0 2v1m0 3v1M1197 1018v1m0 18v1m0 12v1m0 1v4m0 2v1m0 3v2m0 1v4M1198 971v2m0 5v5m0 1v1m0 2v2m0 2v2m0 1v4m0 1v2m0 2v4m0 3v1m0 1v1m0 4v3m0 7v1m0 4v1m0 4v1m0 24v2M1199 991v1m0 10v1m0 11v1m0 7v2m0 3v2m0 1v1m0 4v4m0 3v1m0 2v1m0 1v4m0 5v1m0 1v3m0 4v2m0 4v5m0 22v6M1200 1026v1m0 1v3m0 1v1m0 3v1m0 3v1m0 2v1m0 7v1m0 1v1m0 7v2m0 1v1m0 17v4M1201 1018v1m0 1v1m0 4v2m0 5v2m0 2v1m0 1v1m0 2v2m0 2v3m0 3v2m0 1v1m0 9v1m0 8v6m0 3v3M1202 970v1m0 1v2m0 3v1m0 4v1m0 5v1m0 2v1m0 2v2m0 2v2m0 2v1m0 2v1m0 1v1m0 1v2m0 2v1m0 1v1m0 3v1m0 4v1m0 2v1m0 4v1m0 1v2m0 3v1m0 2v1m0 1v1m0 9v1m0 18v3M1203 978v1m0 6v2m0 5v1m0 1v1m0 4v1m0 1v3m0 1v1m0 1v1m0 1v1m0 3v2m0 2v1m0 6v2m0 3v1m0 5v1m0 19v1M1204 1019v1m0 14v1m0 4v1m0 3v1m0 7v1m0 1v1m0 2v1m0 2v3m0 3v2m0 2v2m0 3v2M1205 1056v1m0 7v1m0 1v1m0 4v5m0 3v10M1206 1025v1m0 2v1m0 2v1m0 2v1m0 3v2m0 2v1m0 2v3m0 1v1m0 1v1m0 3v6m0 6v4m0 15v5M1207 1071v2m0 7v4m0 3v4M1208 1082v4m0 3v2m0 13v5M1209 1040v1m0 7v1m0 18v2m0 4v3m0 3v2m0 1v9M1210 1024v2m0 12v1m0 6v1m0 4v1m0 1v2m0 1v2m0 4v1m0 1v1m0 1v2m0 12v3m0 4v12M1211 1005v1m0 14v1m0 2v1m0 6v1m0 2v1m0 1v1m0 4v1m0 1v1m0 1v1m0 1v2m0 1v1m0 1v1m0 4v1m0 4v1m0 4v1m0 2v2M1212 1026v1m0 6v2m0 7v1m0 2v1m0 3v1m0 3v1m0 1v1m0 1v1m0 3v7m0 3v8M1213 993v1m0 24v1m0 9v3m0 1v4m0 2v1m0 5v1m0 2v2m0 1v2m0 2v1m0 1v1m0 12v1m0 6v3M1214 1096v2m0 9v9M1215 1072v1m0 13v5m0 7v14M1216 1112v10M1217 1098v9M1218 1026v1m0 6v2m0 4v1m0 11v1m0 3v1m0 5v3m0 2v3m0 2v1m0 4v1m0 2v3M1219 1078v1m0 12v7M1220 1091v7m0 1v8M1221 1025v1m0 3v1m0 1v1m0 6v4m0 4v1m0 2v2m0 3v1m0 2v2m0 8v2M1222 1041v2m0 11v3m0 2v2m0 1v2m0 1v2m0 2v1m0 1v2m0 3v6M1223 1073v3m0 3v3m0 5v11M1224 1005v1m0 18v2m0 10v1m0 3v1m0 4v1m0 4v5m0 1v2m0 6v5m0 4v2M1225 1058v1m0 2v1m0 5v2m0 4v6m0 3v4m0 12v4m0 5v4M1226 1046v1m0 3v1m0 8v3m0 2v3m0 3v6m0 3v7m0 5v6M1227 1076v3m0 10v6m0 3v19M1228 1059v2m0 1v3m0 5v1m0 1v1m0 2v1m0 3v7m0 5v7M1229 1024v1m0 10v1m0 1v1m0 3v1m0 3v1m0 3v2m0 2v3m0 1v4m0 4v2m0 2v2m0 2v10m0 15v6M1230 1020v1m0 18v1m0 7v2m0 1v2m0 1v1m0 1v1m0 1v4m0 1v2m0 1v2m0 6v9m0 16v7M1231 1039v1m0 2v1m0 4v1m0 3v2m0 1v1m0 4v3m0 2v12m0 4v2M1232 1056v1m0 12v3m0 10v4M1233 1027v1m0 7v2m0 5v1m0 2v2m0 1v2m0 1v1m0 3v2m0 1v3m0 1v1m0 1v7M1234 1016v1m0 6v1m0 1v1m0 3v1m0 6v1m0 2v3m0 1v2m0 1v1m0 1v2m0 1v2m0 2v1m0 3v2m0 3v2m0 20v5M1235 1041v1m0 11v1m0 1v1m0 10v3m0 6v4m0 3v9M1236 1079v12m0 2v5m0 1v13M1237 1096v2M1238 1034v1m0 11v1m0 1v1m0 1v1m0 1v2m0 1v1m0 9v4m0 2v2m0 5v1m0 28v1M1239 1091v7m0 9v11M1240 1069v2m0 2v3m0 10v14M1242 1018v1m0 6v1m0 14v1m0 8v2m0 1v3m0 1v1m0 1v1m0 6v2m0 6v6M1243 1023v1m0 25v1m0 1v1m0 1v3m0 3v3m0 2v3m0 4v2m0 9v1m0 3v3M1244 1079v3m0 9v2m0 5v9M1245 1050v1m0 13v1m0 4v4m0 2v2m0 4v2m0 3v19M1246 1046v1m0 2v2m0 4v1m0 1v2m0 5v1m0 2v2m0 2v2m0 3v3m0 7v1M1247 1035v2m0 15v2m0 2v1m0 1v1m0 2v1m0 2v1m0 4v2m0 2v3m0 6v16M1248 1008v1m0 3v1m0 8v1m0 2v1m0 1v1m0 1v2m0 1v2m0 2v1m0 4v1m0 5v3m0 3v1m0 2v2m0 2v2m0 1v3m0 4v2M1249 1020v1m0 2v1m0 3v1m0 10v1m0 1v1m0 3v1m0 1v1m0 2v1m0 3v1m0 4v1m0 6v2m0 2v2m0 5v3m0 7v5m0 7v1M1250 973v1m0 19v1m0 2v1m0 1v1m0 4v1m0 6v1m0 1v2m0 1v3m0 2v4m0 1v1m0 1v1m0 1v1m0 2v1m0 2v1m0 1v1m0 1v1m0 5v2m0 7v1m0 3v1m0 5v1m0 8v2M1251 1033v1m0 13v2m0 1v1m0 5v1m0 2v5m0 1v4m0 2v2m0 18v2M1252 975v1m0 5v1m0 9v1m0 4v1m0 2v1m0 6v1m0 1v1m0 6v2m0 1v1m0 3v1m0 1v2m0 1v3m0 1v2m0 1v1m0 3v1m0 1v1m0 1v1m0 1v1m0 1v3m0 1v4m0 2v1m0 16v3M1253 1069v2m0 8v3m0 1v3m0 2v7M1254 1023v2m0 1v1m0 5v2m0 2v2m0 1v1m0 1v1m0 1v5m0 5v1m0 3v1m0 1v3m0 5v2M1255 1073v3m0 6v9m0 7v9M1256 982v1m0 11v1m0 1v1m0 12v2m0 1v1m0 3v2m0 1v5m0 1v1m0 2v1m0 2v3m0 2v1m0 1v3m0 6v3m0 1v1m0 3v1m0 2v1m0 12v5M1257 1061v1m0 3v2m0 2v7m0 6v4m0 4v1M1258 1086v5M1259 1025v1m0 22v1m0 1v1m0 2v1m0 1v2m0 2v3m0 5v2m0 2v2m0 6v7M1260 980v1m0 5v1m0 5v1m0 11v1m0 2v3m0 1v1m0 8v3m0 1v1m0 3v2m0 1v1m0 2v4m0 2v2m0 5v1m0 3v2m0 1v1m0 1v1m0 1v1m0 2v1M1261 1037v1m0 1v1m0 8v1m0 2v1m0 5v4m0 4v11m0 2v1m0 7v5M1262 1058v1m0 6v24M1263 974v1m0 9v1m0 2v3m0 1v2m0 1v3m0 1v1m0 2v1m0 1v1m0 3v1m0 2v6m0 3v1m0 1v2m0 1v3m0 1v2m0 2v4m0 2v3m0 1v1m0 2v1m0 4v1m0 8v2M1264 1025v1m0 8v1m0 4v1m0 9v1m0 4v1m0 4v5m0 1v4m0 7v3m0 7v5M1265 1024v1m0 10v2m0 10v1m0 1v1m0 1v8m0 2v3m0 1v2m0 12v7m0 12v9M1266 974v1m0 4v1m0 2v2m0 1v3m0 1v2m0 1v2m0 2v3m0 3v1m0 1v1m0 1v1m0 3v1m0 1v3m0 1v3m0 3v2m0 1v1m0 5v1m0 5v1m0 2v1m0 2v1m0 2v1m0 5v1m0 11v3M1267 1058v1m0 2v1m0 9v5m0 6v4m0 3v7m0 11v3M1268 1098v3M1269 1039v1m0 1v3m0 2v1m0 4v1m0 1v3m0 5v1m0 11v6m0 3v9M1270 1021v1m0 29v1m0 4v1m0 5v3m0 5v1m0 2v3M1271 1073v3m0 9v2M1272 1023v1m0 4v2m0 1v6m0 5v1m0 2v1m0 1v1m0 5v3m0 9v2m0 2v2m0 5v6M1273 1032v1m0 6v1m0 5v2m0 1v2m0 2v4m0 1v4m0 3v12M1274 1052v1m0 2v1m0 11v2m0 2v2m0 6v3m0 4v3m0 2v7M1275 1031v1m0 8v1m0 2v1m0 2v1m0 6v2m0 4v2m0 1v3m0 4v2m0 15v3m0 2v3M1276 1076v10m0 9v3M1277 1073v3m0 3v3m0 4v5m0 7v9M1278 1062v2m0 1v2m0 4v5m0 15v7M1279 1067v2m0 24v5M1280 1004v1m0 11v1m0 9v1m0 3v2m0 1v1m0 2v2m0 3v1m0 1v1m0 1v1m0 1v2m0 5v1m0 1v1m0 19v3m0 19v9M1281 1064v1m0 4v2m0 8v3m0 4v5m0 15v1M1282 1043v1m0 3v1m0 2v1m0 5v1m0 2v3m0 3v4m0 10v3m0 4v4M1283 1079v3m0 4v11m0 1v14M1284 1050v1m0 8v2m0 3v1m0 2v2m0 7v3m0 7v11M1285 1047v1m0 8v1m0 7v7m0 2v3m0 6v4m0 5v2M1286 970v1m0 19v1m0 5v1m0 9v1m0 6v1m0 1v1m0 11v2m0 3v1m0 1v4m0 3v1m0 2v1m0 1v1m0 1v1m0 3v1m0 4v1m0 1v3m0 7v2M1287 1076v3m0 28v3M1288 970v2m0 8v1m0 1v1m0 4v2m0 3v1m0 2v1m0 5v1m0 1v1m0 2v1m0 1v2m0 6v1m0 1v2m0 4v1m0 2v2m0 1v2m0 2v2m0 5v2m0 3v1m0 1v1m0 3v1M1289 1021v1m0 4v1m0 8v1m0 3v1m0 4v2m0 2v6m0 4v1m0 2v3M1290 1031v1m0 24v3m0 2v1m0 5v15m0 4v5m0 7v4M1291 1061v3m0 5v4m0 25v9M1292 1024v1m0 2v1m0 11v2m0 2v4m0 3v1m0 2v1m0 1v1m0 2v1m0 2v1m0 9v1M1293 978v1m0 1v1m0 16v1m0 1v1m0 2v1m0 5v1m0 4v5m0 7v8m0 1v1m0 1v2m0 2v1m0 3v1m0 3v1m0 5v2m0 2v1m0 2v3M1294 1022v1m0 12v1m0 11v1m0 5v1m0 2v1m0 4v1m0 2v1m0 2v2m0 4v6m0 6v1M1295 1059v2m0 8v2m0 2v3m0 4v2m0 8v4m0 4v22M1296 1043v1m0 2v3m0 7v3m0 6v2m0 19v5M1297 1076v3m0 12v7m0 2v7M1298 1091v11m0 5v5M1299 1094v4m0 9v10M1301 1050v1m0 5v1m0 2v12m0 2v3m0 3v3m0 4v5m0 7v1M1302 1107v9M1303 1045v1m0 9v1m0 1v1m0 3v1m0 2v3m0 12v3m0 4v5m0 7v9M1304 1096v2M1305 1096v2m0 9v12M1306 1079v3m0 5v7M1307 1079v3m0 25v9M1308 1046v1m0 9v1m0 2v3m0 9v5m0 3v3M1309 1049v1m0 26v3m0 15v4M1310 1098v9m0 3v12M1311 1079v3m0 9v4m0 3v8m0 1v1M1312 1096v2M1313 1098v18M1314 1076v3m0 9v10m0 9v6M1315 1098v20M1316 1067v2m0 29v6M1317 1051v1m0 2v1m0 2v1m0 18v6m0 9v7M1318 1061v1m0 14v3m0 12v7M1319 1025v1m0 17v1m0 1v2m0 5v1m0 2v1m0 9v11m0 3v9M1320 1084v2m0 22v13M1321 1089v2m0 15v11M1322 1069v2m0 2v3m0 3v8m0 4v16M1323 1094v4m0 9v4M1324 1066v1m0 2v13m0 9v7M1325 1107v5M1326 1039v1m0 2v1m0 1v1m0 7v3m0 12v2m0 2v8m0 3v5m0 5v6M1327 1080v2m0 1v3m0 5v7M1328 1041v1m0 6v1m0 2v1m0 1v1m0 4v1m0 10v2m0 2v3m0 6v2m0 14v1M1329 1090v1m0 7v7M1330 1051v1m0 3v1m0 1v1m0 18v3m0 1v2m0 7v2m0 11v5M1331 1092v6m0 2v7M1332 1050v1m0 13v1m0 2v3m0 1v2m0 13v5m0 7v9M1333 1100v7M1334 1054v1m0 14v2m0 2v3m0 6v4m0 12v9M1335 1069v2m0 8v3m0 9v3m0 4v9M1336 1098v6m0 3v1M1337 1043v1m0 10v1m0 5v1m0 8v13M1338 1079v3m0 4v12M1339 1045v1m0 40v21M1340 1073v3m0 6v9M1341 981v2m0 4v1m0 1v1m0 5v1m0 5v1m0 2v2m0 4v1m0 1v3m0 1v1m0 3v1m0 2v2m0 2v2m0 1v1m0 7v1m0 6v1M1342 1052v1m0 12v4m0 7v1m0 14v2M1343 1082v9m0 2v14M1344 992v1m0 10v1m0 17v1m0 1v1m0 2v1m0 1v2m0 1v1m0 1v1m0 2v1m0 1v1m0 1v1m0 5v1m0 2v2m0 1v2m0 3v1m0 4v7m0 2v1m0 4v3M1345 1052v1m0 6v2m0 3v1m0 17v9M1346 1056v1m0 1v4m0 5v2m0 2v11M1347 972v1m0 3v1m0 1v2m0 3v2m0 1v1m0 3v1m0 3v1m0 2v1m0 3v3m0 2v2m0 2v1m0 1v1m0 1v1m0 2v1m0 1v1m0 2v2m0 1v1m0 2v1m0 1v2m0 1v1m0 1v2m0 1v2m0 4v3m0 10v1m0 11v2M1348 1014v1m0 1v1m0 3v1m0 3v1m0 9v1m0 1v2m0 5v2m0 4v3m0 2v1m0 3v3m0 8v2m0 1v3m0 1v2m0 4v3M1349 972v1m0 2v1m0 2v1m0 1v1m0 5v1m0 3v1m0 4v1m0 3v1m0 1v1m0 1v5m0 1v1m0 5v1m0 2v1m0 1v2m0 2v1m0 2v2m0 1v2m0 1v1m0 6v1m0 14v1M1350 1065v2m0 9v6m0 9v1m0 6v8M1351 980v1m0 5v1m0 2v1m0 7v1m0 3v2m0 8v3m0 1v2m0 4v3m0 1v3m0 1v1m0 1v3m0 3v3m0 2v1m0 3v1m0 5v1m0 1v1m0 3v1m0 12v2M1352 1012v1m0 11v1m0 1v1m0 7v1m0 1v2m0 4v3m0 1v4m0 3v2m0 4v2m0 4v2M1353 983v1m0 1v1m0 3v3m0 3v3m0 2v2m0 1v1m0 1v1m0 3v1m0 5v1m0 1v5m0 2v1m0 1v1m0 10v1m0 4v1m0 9v2M1354 1082v1m0 3v1m0 4v5m0 2v7M1355 1084v2m0 5v7m0 9v2M1356 1000v1m0 24v1m0 2v1m0 6v1m0 1v3m0 2v4m0 2v1m0 2v2m0 2v1m0 5v1m0 5v2m0 2v2m0 6v2M1357 1015v1m0 3v1m0 14v1m0 5v1m0 2v1m0 2v5m0 3v2m0 2v3m0 1v5m0 4v2M1358 1098v8M1359 1021v1m0 8v2m0 6v1m0 1v3m0 3v2m0 2v3m0 1v2m0 2v1m0 1v1m0 4v2m0 11v1m0 7v3M1360 1051v2m0 14v2m0 4v6m0 3v2m0 7v7m0 9v9M1361 1015v1m0 4v1m0 3v1m0 3v1m0 3v1m0 9v1m0 3v1m0 2v2m0 1v3m0 2v1m0 3v2m0 1v1m0 2v2m0 2v2M1362 1091v6M1363 1071v2m0 12v1m0 5v16M1364 1079v7m0 2v3m0 16v9M1365 1093v5m0 13v11M1366 1071v2m0 13v8M1367 1028v1m0 8v1m0 2v1m0 5v4m0 6v1m0 2v2m0 1v2m0 5v1m0 3v3m0 3v7M1368 1052v1m0 3v1m0 5v2m0 1v2m0 4v2m0 6v3m0 4v11M1369 1054v1m0 14v2m0 2v4m0 9v5M1370 1017v1m0 19v1m0 2v1m0 3v1m0 1v1m0 3v5m0 4v3m0 1v1m0 3v2m0 1v3m0 6v3m0 4v5M1371 1080v2m0 9v3m0 4v9m0 7v8M1372 1029v1m0 3v2m0 1v1m0 1v1m0 5v5m0 6v1m0 5v1m0 5v2m0 6v1m0 2v1M1373 1062v2m0 10v17M1374 1021v1m0 12v1m0 4v1m0 3v1m0 5v4m0 1v1m0 2v7m0 3v5m0 7v2M1375 1041v1m0 2v1m0 1v2m0 2v1m0 3v1m0 1v2m0 3v3m0 1v2m0 2v2m0 2v3m0 10v5M1376 988v1m0 28v1m0 21v1m0 2v1m0 1v2m0 3v1m0 1v1m0 1v2m0 2v2m0 3v2m0 1v2m0 2v2m0 5v1M1377 1034v1m0 2v1m0 13v2m0 1v1m0 3v3m0 1v2m0 5v4M1378 1005v1m0 21v2m0 4v2m0 5v6m0 3v1m0 4v4m0 1v2m0 3v1M1379 1083v3m0 5v6m0 2v10M1380 1028v1m0 4v1m0 7v1m0 2v1m0 3v1m0 2v1m0 3v1m0 1v1m0 1v6m0 2v4m0 2v1m0 9v3m0 12v9M1381 1042v1m0 24v2m0 10v7m0 6v7m0 8v3M1382 993v1m0 31v1m0 81v5M1383 1040v1m0 1v1m0 4v2m0 3v2m0 1v1m0 1v1m0 3v8m0 2v6m0 2v3m0 4v5m0 7v5M1384 1074v2m0 9v1m0 11v1M1385 1015v1m0 4v1m0 1v1m0 6v1m0 4v1m0 1v1m0 3v1m0 3v2m0 1v2m0 4v2m0 3v1m0 4v1m0 12v6m0 4v5M1386 993v1m0 97v7m0 9v14M1387 1019v1m0 1v1m0 1v1m0 1v1m0 6v1m0 7v2m0 3v1m0 1v3m0 3v1m0 1v9m0 7v2m0 3v3M1388 993v1m0 91v2m0 19v1M1389 993v1m0 104v2M1390 1047v1m0 18v3m0 13v4M1391 1098v11M1392 1033v1m0 2v1m0 3v1m0 1v1m0 2v2m0 3v1m0 2v1m0 1v1m0 2v6m0 4v3M1393 1039v1m0 59v11M1394 1098v18M1395 1025v1m0 47v3m0 3v3m0 2v2m0 12v2m0 16v6M1396 1016v1m0 23v1m0 5v1m0 1v5m0 4v1m0 3v1m0 6v1m0 10v3M1397 1014v5m0 6v1m0 2v1m0 1v1m0 1v1m0 1v1m0 6v1m0 2v1m0 3v2m0 2v2m0 5v2m0 1v5m0 12v12M1398 1024v1m0 2v1m0 5v1m0 3v1m0 1v2m0 2v1m0 2v1m0 1v3m0 2v1m0 1v2m0 7v3m0 6v5m0 1v3M1399 993v1m0 45v1m0 17v1m0 3v3m0 15v3m0 2v2m0 12v3M1400 1030v1m0 13v2m0 1v1m0 2v2m0 1v1m0 1v5m0 1v3m0 1v2m0 9v3m0 3v1M1401 1038v1m0 3v1m0 7v1m0 2v1m0 2v1m0 2v2m0 1v2m0 3v2m0 4v3M1402 1079v3m0 3v1M1403 1086v4m0 8v9M1404 1033v1m0 14v1m0 3v2m0 2v2m0 1v2m0 1v2m0 7v5m0 10v5M1405 1082v9m0 7v9M1406 1035v1m0 5v2m0 4v2m0 6v1m0 2v9m0 2v2m0 11v2m0 2v1M1407 1052v2m0 7v1m0 7v7m0 2v1m0 6v1m0 21v4M1408 1099v8m0 11v4M1409 1025v1m0 43v2m0 5v3m0 7v5M1410 1043v1m0 3v2m0 2v1m0 1v2m0 1v3m0 2v4m0 6v5m0 3v2m0 5v5M1411 993v1m0 45v1m0 61v12M1413 1102v5m0 13v2M1414 1052v1m0 12v2m0 15v4m0 6v6m0 9v1M1415 1096v2m0 12v12M1416 1057v1m0 3v1m0 7v2m0 2v6m0 1v8m0 3v7M1417 1071v2m0 1v2m0 5v1m0 9v12m0 4v4M1418 993v1m0 81v1m0 6v2m0 13v10m0 3v12M1419 1098v6M1420 1089v2m0 10v6M1421 993v1m0 82v3M1422 1075v1m0 15v5m0 9v2M1423 1067v2m0 4v9m0 7v9M1424 1039v1m0 31v1m0 1v3m0 3v3m0 10v10M1425 1025v1m0 73v8M1426 1025v1m0 81v11M1427 993v1m0 65v2m0 18v1m0 5v1m0 5v3m0 4v9M1428 1056v2m0 4v2m0 7v2m0 3v3m0 3v9M1429 1022v1m0 1v1m0 1v2m0 3v1m0 3v3m0 1v2m0 2v2m0 1v2m0 4v1m0 1v2m0 1v2m0 6v1m0 5v2m0 6v3M1430 1065v2m0 4v2m0 13v5m0 4v3m0 9v3M1431 1059v3m0 12v5m0 12v7M1432 993v1m0 6v1m0 4v1m0 5v1m0 8v1m0 7v1m0 2v1m0 5v2m0 2v2m0 3v4m0 1v1m0 2v1m0 4v5m0 1v3m0 1v2m0 8v3M1433 983v1m0 9v1m0 27v1m0 9v2m0 1v1m0 1v1m0 3v1m0 3v1m0 3v1m0 1v1m0 3v1m0 1v1m0 1v3m0 1v5M1434 1032v1m0 10v1m0 8v1m0 6v2m0 4v4m0 2v5m0 3v3M1435 993v1m0 14v1m0 5v1m0 1v1m0 6v1m0 1v1m0 2v1m0 1v2m0 1v1m0 1v2m0 1v1m0 1v5m0 1v1m0 2v1m0 3v1m0 2v1m0 5v1m0 2v2m0 24v7M1436 983v1m0 57v1m0 9v1m0 7v3m0 2v1m0 6v2m0 3v6m0 4v5M1437 1039v1m0 47v4m0 3v8M1438 996v2m0 1v2m0 5v1m0 10v1m0 5v1m0 5v6m0 2v1m0 9v2m0 1v1m0 3v1m0 9v1m0 11v3M1439 1093v5m0 2v7m0 7v8M1440 983v1m0 49v1m0 3v1m0 3v2m0 1v1m0 3v1m0 1v2m0 1v1m0 4v3m0 3v1m0 2v2m0 4v6M1441 983v1m0 55v2m0 1v1m0 13v6m0 2v1m0 8v3m0 10v1M1442 990v2m0 17v1m0 2v1m0 2v1m0 1v2m0 2v2m0 3v6m0 2v5m0 1v2m0 1v1m0 3v2m0 2v1m0 3v1m0 2v3m0 1v2m0 12v3M1443 983v1m0 9v1m0 31v1m0 6v1m0 4v1m0 2v1m0 2v3m0 3v2m0 1v2m0 1v2m0 1v1m0 2v4m0 14v2m0 11v6M1444 983v1m0 63v1m0 8v1m0 16v3m0 6v4M1445 1000v1m0 11v1m0 2v1m0 3v1m0 1v1m0 9v1m0 2v2m0 1v1m0 2v3m0 4v1m0 5v2m0 2v4m0 2v2m0 2v4m0 8v3M1446 998v1m0 2v1m0 1v1m0 6v1m0 1v1m0 5v1m0 9v1m0 1v1m0 6v1m0 2v1m0 1v2m0 1v2m0 3v2m0 2v2m0 1v1m0 4v2m0 12v3M1447 981v1m0 1v1m0 6v1m0 2v1m0 12v3m0 1v3m0 1v1m0 2v1m0 1v1m0 1v1m0 1v2m0 2v1m0 3v1m0 3v1m0 1v2m0 1v1m0 3v4m0 2v1m0 3v1m0 2v2M1448 993v1m0 92v5m0 5v2m0 9v10M1449 993v1m0 47v1m0 3v1m0 2v2m0 2v1m0 8v1m0 2v5m0 13v4M1450 1011v1m0 10v1m0 1v1m0 3v2m0 2v2m0 3v1m0 3v1m0 1v4m0 1v1m0 3v2m0 1v2m0 2v8m0 4v5M1451 993v1m0 64v4m0 9v11m0 10v6M1452 1027v1m0 5v1m0 3v1m0 1v2m0 2v2m0 1v2m0 1v1m0 4v1m0 1v1m0 7v1m0 6v2m0 13v4M1453 979v1m0 15v2m0 6v1m0 4v1m0 1v1m0 9v3m0 1v2m0 2v1m0 1v1m0 2v1m0 2v1m0 3v1m0 1v3m0 1v2m0 1v1m0 5v1m0 2v1m0 8v2M1454 991v1m0 1v1m0 4v1m0 1v1m0 11v1m0 5v1m0 2v1m0 2v1m0 1v3m0 5v1m0 3v1m0 4v1m0 1v7m0 1v1m0 1v3m0 3v1M1455 1025v1m0 17v1m0 1v2m0 3v2m0 3v6m0 8v2m0 2v6m0 19v4M1456 1038v1m0 34v2m0 3v4m0 4v5M1457 980v1m0 2v1m0 9v1m0 8v1m0 2v1m0 3v1m0 3v1m0 4v3m0 1v1m0 4v1m0 1v3m0 2v3m0 1v1m0 2v1m0 1v1m0 2v3m0 4v2m0 1v2m0 4v2m0 1v2m0 6v3M1458 1000v1m0 12v1m0 9v1m0 5v1m0 2v1m0 1v2m0 1v3m0 1v1m0 2v1m0 1v1m0 2v1m0 3v5m0 1v2m0 1v7M1459 1061v1m0 3v2m0 15v4m0 5v1M1460 1023v1m0 20v2m0 2v1m0 1v1m0 1v1m0 3v1m0 1v3m0 1v3m0 6v2M1461 1047v1m0 8v1m0 2v2m0 8v2m0 2v3m0 1v2m0 7v1m0 11v9M1462 993v1m0 46v1m0 5v1m0 3v4m0 8v5m0 2v2m0 2v6m0 19v9M1463 993v1m0 96v1m0 16v11M1464 993v1m0 73v2m0 8v16M1465 1025v1m0 81v11M1466 1038v1m0 13v1m0 9v3m0 1v1m0 2v4m0 2v1M1467 997v1m0 20v1m0 6v2m0 6v1m0 4v1m0 2v1m0 1v2m0 1v1m0 2v1m0 4v1m0 14v2m0 2v3M1468 1039v1m0 55v3m0 9v12M1469 1049v1m0 1v2m0 3v1m0 1v1m0 3v2m0 3v2m0 22v7M1470 983v1m0 49v1m0 8v1m0 4v2m0 1v1m0 6v1m0 4v2m0 1v1m0 1v6m0 6v4M1471 1083v3m0 8v4m0 6v13M1472 1032v4m0 2v1m0 2v1m0 1v1m0 5v1m0 2v2m0 2v1m0 8v3m0 1v2m0 15v5M1473 1050v1m0 2v2m0 16v5m0 3v1m0 2v16M1474 983v1m0 45v1m0 4v1m0 9v1m0 3v2m0 7v7m0 5v2M1475 1025v1m0 13v1m0 64v13M1476 1009v1m0 17v1m0 6v2m0 6v1m0 3v1m0 2v2m0 1v1m0 1v1m0 1v2m0 3v1m0 2v1m0 4v2M1477 1043v1m0 1v1m0 10v1m0 2v3m0 7v4m0 9v10M1478 1096v2M1479 1039v1m0 40v6m0 5v2m0 5v17M1480 1113v9M1481 1025v1m0 12v1m0 4v2m0 12v1m0 4v7m0 7v6M1482 1022v1m0 14v1m0 2v1m0 7v1m0 2v4m0 2v4m0 1v2m0 1v4M1483 1090v5M1484 1039v1m0 33v3m0 22v6m0 4v14M1485 1018v1m0 3v1m0 8v1m0 2v1m0 1v1m0 3v1m0 6v1m0 2v1m0 3v3m0 1v1m0 27v5M1486 1025v1m0 32v1m0 3v2m0 3v4m0 8v7m0 5v7M1487 1047v1m0 3v1m0 1v1m0 1v1m0 2v3m0 1v3m0 2v12m0 12v1M1488 1090v1m0 12v4M1489 1012v1m0 17v1m0 2v1m0 5v1m0 1v1m0 1v3m0 11v1m0 3v1m0 24v4m0 1v7M1490 1038v1m0 3v1m0 1v1m0 2v2m0 1v7m0 10v2m0 4v3m0 3v2M1491 1022v1m0 4v1m0 15v1m0 4v4m0 2v2m0 1v5m0 5v4m0 2v3m0 6v3M1492 1064v1m0 14v3m0 6v15m0 4v11"/>
<path stroke="#003fff" d="M733 1107v5M734 1082v13m0 12v7M735 1092v10m0 5v2M736 1051v1M737 1109v7M738 1098v2m0 7v6M739 1098v8m0 4v8M740 1112v6M741 1098v6M742 1107v6M743 1057v1m0 7v2m0 4v2m0 9v3m0 1v5m0 7v7M745 1108v6M747 1049v1m0 47v1M748 1114v7M750 1121v1M751 1107v6M752 1106v1M753 1108v6M754 1076v2m0 8v4M756 1107v1M757 1050v2m0 7v2m0 4v4m0 13v4M758 1052v1m0 16v2m0 20v7M759 1082v4m0 5v3M760 1105v2m0 11v4M761 1082v4m0 5v4m0 10v2m0 2v8M762 1101v6M763 1091v1m0 19v6M764 1048v1m0 8v1m0 9v2m0 3v1m0 25v1M765 1026v1m0 25v1m0 2v1m0 9v2m0 18v1M767 1100v6m0 15v1M768 1070v1m0 31v5M769 1029v1m0 27v1m0 3v1m0 5v2m0 2v2m0 3v3M770 1064v1m0 22v4M773 1088v7m0 14v7M774 1090v1M775 1103v4M777 1118v4M778 1061v1m0 9v2m0 12v6m0 23v8M780 1114v7M782 1104v3m0 2v6M783 1120v2M784 1115v6M785 1090v1M787 1119v3M788 1110v6M790 1115v6M794 1102v5m0 3v7M795 1107v7M796 1043v1m0 4v1m0 44v5M797 1069v2m0 15v5M798 1059v2m0 3v1m0 42v2M799 1038v1m0 14v1m0 5v2m0 8v2m0 5v3m0 3v4M800 1073v3m0 8v2M801 1086v2m0 33v1M802 1087v4m0 17v7M803 1079v3m0 4v5M804 1114v8M805 1076v6m0 16v2M806 1067v2m0 17v2m0 5v5m0 1v8M807 1030v1m0 42v2m0 4v1M808 1090v1M809 1026v1m0 28v1m0 11v2m0 3v1M810 1090v1M811 1098v1m0 9v6M812 1040v1m0 4v1m0 5v1m0 7v2m0 8v2M814 1100v5m0 7v6M817 1092v6M818 1106v1M819 1082v4M820 1107v1M821 1097v1m0 13v7M823 1098v2m0 13v7M824 1118v4M826 1098v4M828 1097v1m0 21v3M831 1091v6m0 2v8M834 1105v2M836 1086v2m0 3v3m0 12v1M837 1098v7m0 4v8M838 1079v1m0 6v5M839 1071v5M841 1089v2m0 3v4m0 1v8m0 6v8M842 1110v6M843 1109v6M844 1082v1m0 15v5m0 12v7M845 1064v1m0 6v2m0 9v4m0 10v2m0 14v9M846 1098v5m0 8v6M847 1098v8M848 1076v6m0 1v3m0 12v5m0 4v4M849 1059v2m0 30v14M850 1071v2m0 13v5m0 7v2m0 21v1M851 1065v2m0 6v3m0 6v4m0 5v1m0 6v4M852 1092v6m0 5v4m0 4v7M853 1069v2m0 6v2m0 10v3M854 1117v5M855 1065v2m0 24v7m0 9v1M856 1080v2m0 4v5m0 16v8M857 1076v3m0 26v2M858 1113v7M860 1090v1m0 7v8M861 1091v7M862 1065v2m0 31v2M863 1107v1M864 1091v2m0 21v8M865 1098v3m0 6v7M866 1021v1m0 11v1m0 21v1m0 8v1m0 41v1M867 1120v2M868 1091v2m0 5v5m0 11v6M869 1054v1m0 7v2m0 12v3m0 8v4M870 1065v2m0 9v3M871 1038v1m0 11v1m0 14v2m0 2v2m0 2v3m0 3v3M872 1073v3M873 1061v1M881 1107v3M882 1071v1M884 1076v3m0 7v1M886 1086v5M887 1115v6M888 1098v2m0 8v6M889 1119v3M890 1106v2M892 1080v2m0 24v2M894 1097v1M1014 1115v7M1015 1119v3M1016 1117v5M1017 1121v1M1018 1095v3m0 9v4M1019 1114v7M1022 1076v1m0 30v4M1024 1105v5M1025 1058v1m0 12v2M1026 1064v1M1027 1073v3m0 15v2m0 9v5M1029 1088v3m0 8v8M1030 1107v1M1032 1110v6M1033 1098v3m0 19v2M1034 1111v7M1035 1089v2M1036 1098v7M1037 1107v8M1039 1112v7M1040 1064v1m0 26v6M1041 1119v3M1042 1076v3M1043 1082v1m0 19v5m0 12v3M1044 1112v7M1045 1044v1m0 16v1m0 3v4m0 2v2M1050 1115v6M1052 1112v7M1055 1101v12M1057 1098v5M1058 1090v1m0 13v4M1059 1110v7M1062 1045v1m0 8v1m0 42v1M1064 1101v11M1065 1043v1m0 35v3M1067 1086v5m0 7v7m0 2v8M1068 1105v9M1069 1079v3m0 10v6m0 9v2M1072 1103v4m0 11v4M1074 1089v2m0 16v5M1075 1086v5m0 5v2M1076 1016v1m0 18v1m0 12v1m0 22v2m0 21v4M1077 1064v1m0 11v3M1078 1062v2m0 2v1m0 6v3m0 9v1m0 4v1m0 4v3M1080 1100v6M1083 1114v6M1085 1103v4m0 10v5M1086 1082v4m0 34v2M1087 1100v7M1093 1112v6M1095 1111v7M1096 1112v6M1098 1109v5M1100 1119v3M1104 1105v2M1105 1110v6M1106 1112v5M1107 1121v1M1109 1120v2M1111 1109v6M1112 1112v6M1114 1087v4m0 30v1M1115 1107v6M1117 1098v5M1118 1108v7M1119 1114v6M1125 1112v6M1127 1089v2M1128 991v1m0 9v1m0 10v1m0 16v1m0 1v2m0 5v1m0 4v1m0 2v1m0 7v1m0 22v2m0 3v2M1129 1007v1m0 7v1m0 21v1m0 2v1m0 3v1m0 11v1m0 12v2m0 6v2M1130 1000v1m0 18v1m0 11v1m0 10v1m0 5v1m0 2v2m0 2v3m0 11v2m0 8v3m0 9v4M1131 1114v6M1132 997v1m0 9v1m0 22v1m0 7v1m0 1v1m0 11v2m0 4v1m0 3v2m0 18v8M1133 1048v2m0 12v2m0 5v1m0 14v5m0 2v2m0 8v6M1134 1104v3M1135 1082v4m0 12v8m0 1v1M1136 1107v6M1137 1034v1m0 1v1m0 3v1m0 12v2m0 38v5M1138 1018v1m0 21v1m0 2v1m0 1v1m0 9v1m0 5v1m0 28v1M1139 1037v1m0 3v1m0 7v1m0 1v1m0 19v5m0 6v4M1140 1047v1m0 46v4M1141 1076v1m0 14v3M1143 1020v1m0 15v1m0 9v2m0 3v1m0 10v2m0 7v2M1144 1088v10m0 7v2M1145 1044v1m0 17v2m0 1v2m0 15v7M1146 986v1m0 19v1m0 3v1m0 2v1m0 11v1m0 10v1m0 1v2m0 9v1m0 2v1m0 8v1m0 5v2m0 7v6M1147 1079v3m0 16v3M1148 991v1m0 9v1m0 23v1m0 7v2m0 2v1m0 5v2m0 1v1m0 4v1m0 5v1m0 1v2m0 3v1m0 8v3m0 22v9M1149 1040v1m0 1v1m0 3v1m0 7v1m0 4v1m0 11v2M1150 1095v3M1151 1055v1m0 1v1m0 11v2m0 2v3m0 10v11M1152 1004v1m0 23v1m0 3v1m0 19v2m0 3v1m0 1v2m0 3v1m0 4v2M1153 1082v4M1154 1091v4M1156 1036v1m0 10v1m0 2v2m0 2v1m0 1v1m0 2v6M1157 1044v1m0 4v1m0 3v2m0 12v2m0 10v5M1158 1013v1m0 16v1m0 7v1m0 12v1m0 1v1m0 7v1m0 14v3M1159 1028v1m0 16v1m0 4v1m0 6v1m0 3v1m0 2v1m0 6v1m0 7v3m0 9v4M1160 1059v2m0 20v1m0 16v5M1161 1095v3m0 5v4M1162 1030v1m0 3v1m0 1v1m0 3v1m0 4v1m0 8v2m0 2v1m0 1v1m0 4v2m0 2v2m0 11v4M1163 1061v3m0 3v2m0 4v3m0 7v3M1164 1097v8M1165 1044v1m0 7v2m0 10v3M1166 1037v1m0 2v1m0 7v1m0 1v1m0 8v2m0 1v2m0 3v4m0 11v4M1167 1082v9m0 4v3m0 6v3m0 6v8M1169 1045v2m0 24v2m0 13v5m0 3v4M1170 1062v2m0 24v10m0 3v6M1171 1017v1m0 27v1m0 5v2m0 2v1m0 2v1m0 8v2m0 38v9M1172 1025v1m0 17v1m0 11v1m0 8v1M1173 1030v1m0 9v1m0 4v1m0 3v1m0 1v1m0 12v1m0 14v3m0 4v1M1174 1107v5M1175 1045v1m0 8v3m0 4v1m0 5v4m0 23v4M1176 1073v3m0 3v6m0 7v6M1177 1100v7M1178 1059v2m0 5v1m0 6v3m0 10v2m0 11v8M1179 1048v1m0 5v1m0 4v2m0 27v3M1180 987v1m0 1v1m0 2v1m0 6v1m0 15v1m0 1v1m0 1v1m0 11v1m0 1v1m0 2v1m0 1v1m0 4v1m0 20v1M1181 975v1m0 30v1m0 6v1m0 11v1m0 3v2m0 2v1m0 3v1m0 1v1m0 5v1m0 3v1m0 1v1m0 6v1m0 2v1m0 2v3M1182 1098v7M1183 1002v1m0 4v1m0 10v1m0 15v2m0 3v1m0 3v1m0 2v2m0 3v1m0 6v1m0 8v2m0 10v3M1184 1088v6m0 6v6m0 5v6M1185 1067v2m0 7v1m0 21v5m0 8v6M1186 1082v2m0 4v9m0 7v3M1187 1091v2m0 6v6m0 2v4M1188 997v1m0 4v1m0 18v1m0 5v1m0 6v1m0 7v1m0 9v1m0 16v2M1189 1074v2m0 7v3m0 5v7m0 9v1M1190 1076v3m0 7v2m0 16v3m0 3v7M1191 1045v1m0 3v2m0 18v2M1192 1067v2m0 4v3m0 10v4m0 1v7m0 4v5m0 6v7M1194 991v1m0 23v1m0 8v1m0 3v1m0 1v1m0 1v1m0 7v1m0 5v1m0 18v2M1195 1067v2m0 17v5m0 7v5M1196 989v1m0 36v1m0 3v1m0 5v1m0 4v1m0 3v1m0 5v1m0 5v1m0 4v2m0 4v1m0 7v3m0 3v3M1197 1089v2m0 7v7m0 10v7M1198 977v1m0 7v1m0 53v2m0 6v1m0 13v1m0 5v2m0 7v3M1199 1096v2M1200 1067v2m0 29v4M1202 1020v1m0 5v1m0 18v1m0 1v1m0 7v1m0 11v2m0 2v2m0 9v4M1203 1015v1m0 2v1m0 12v1m0 6v1m0 3v2m0 2v1m0 1v2m0 6v1m0 1v1m0 8v2m0 5v2M1204 1079v2m0 5v5m0 3v4M1206 1041v1m0 22v1m0 26v2M1209 1107v4M1210 1069v2M1212 1086v1m0 4v5m0 2v4M1213 1079v3m0 2v2m0 25v9M1217 1111v6M1218 1106v4M1219 1121v1M1220 1107v4M1221 1076v3m0 3v4m0 5v7M1223 1118v4M1224 1079v3m0 25v4M1225 1091v3M1226 1106v1m0 5v7M1230 1069v2m0 21v6M1231 1049v1m0 36v4m0 1v5m0 7v4M1234 1031v1m0 29v1m0 11v3m0 18v4m0 3v6M1235 1096v2m0 9v2M1241 1121v1M1242 1082v2m0 2v5m0 5v2m0 1v8m0 12v3M1243 1111v8M1244 1108v6M1245 1117v5M1246 1091v1m0 10v5m0 12v3M1247 1098v5M1248 1053v1m0 17v2m0 4v2M1249 1054v1m0 18v3M1250 1040v1m0 6v1m0 4v1m0 6v2m0 6v2m0 10v6M1251 1069v2M1252 1062v2m0 18v4m0 12v4m0 5v2M1253 1112v6M1254 1091v5m0 7v4m0 4v8M1255 1107v3M1256 1024v1m0 12v1m0 5v1m0 6v1m0 3v1m0 14v2M1257 1092v6M1258 1117v5M1260 1072v1m0 13v5m0 11v5M1261 1105v2M1262 1098v1M1263 970v1m0 75v1m0 4v1m0 4v1m0 4v1m0 2v1m0 6v2m0 6v3m0 4v6M1264 1092v6M1265 1087v11m0 9v2M1266 1019v1m0 35v1M1269 1104v3M1270 1107v5M1271 1100v6M1272 1075v1m0 6v4m0 1v4m0 16v3M1273 1091v6M1274 1107v3M1275 1067v2m0 4v3m0 31v9M1277 1107v1M1278 1114v7M1280 1068v1m0 17v1M1281 1113v7M1282 1098v3m0 8v7M1284 1098v1m0 14v6M1286 1064v1m0 17v2m0 4v3m0 27v4M1288 1029v1m0 9v1m0 13v1m0 4v1m0 2v3m0 5v2m0 2v3m0 6v3m0 13v6M1289 1080v2m0 29v9M1290 1082v4m0 21v6M1291 1107v7M1292 1057v1m0 28v4m0 15v2M1293 1051v1m0 13v1m0 5v2m0 9v2m0 2v5M1294 1089v7m0 11v1M1296 1069v2m0 20v7M1297 1107v4M1300 1116v5M1301 1111v8M1303 1107v1M1304 1120v2M1306 1106v1m0 2v7M1308 1090v1m0 16v6M1309 1114v7M1316 1091v5M1317 1103v4M1318 1109v7M1319 1098v4m0 5v7M1322 1118v4M1324 1106v8M1326 1111v8M1327 1098v7m0 2v2M1328 1118v4M1329 1107v5M1330 1107v5M1331 1120v2M1333 1107v3M1335 1116v6M1337 1116v6M1338 1120v2M1341 1042v1m0 12v1m0 3v2m0 15v3m0 11v1M1342 1105v2m0 5v7M1344 1082v4m0 11v1M1345 1091v4m0 17v6M1346 1082v3m0 28v6M1347 1040v1m0 9v1m0 25v3m0 11v1M1348 1091v2M1349 1014v1m0 4v1m0 18v1m0 13v1m0 15v1m0 7v10M1350 1116v6M1351 1048v1m0 18v2m0 7v3m0 7v12M1352 1055v1m0 2v1m0 2v4m0 8v2m0 4v3m0 2v2m0 20v1M1353 999v1m0 14v1m0 36v1m0 4v1m0 2v1m0 47v11M1354 1115v6M1356 1069v2M1357 1110v8M1359 1107v2M1363 1111v6M1366 1106v1M1367 1107v5M1368 1076v3M1369 1085v1m0 31v5M1370 1082v1m0 15v1M1372 1087v4m0 2v13m0 1v6M1374 1056v1m0 8v2m0 29v2M1375 1082v4m0 16v5m0 3v7M1376 1095v6M1377 1098v7M1378 1069v2m0 34v2M1380 1107v4M1383 1069v2m0 40v8M1384 1105v2m0 1v6M1385 1065v4m0 24v5m0 21v3M1387 1039v1m0 27v2m0 18v11M1388 1115v5M1389 1121v1M1390 1096v4m0 18v4M1392 1075v1M1396 1042v1m0 28v2m0 1v2m0 7v3m0 19v2m0 13v2M1397 1039v1m0 72v9M1398 1069v2m0 17v6M1399 1118v4M1400 1073v3m0 15v7M1401 1091v9m0 13v8M1402 1116v6M1403 1110v6M1405 1107v6M1406 1091v7M1409 1095v3m0 3v6m0 2v6M1410 1067v2M1416 1103v9M1419 1117v5M1421 1107v2M1422 1115v6M1423 1107v3M1424 1117v5M1425 1120v2M1427 1115v7M1431 1102v5M1432 1056v2m0 6v1m0 25v1M1433 1069v2m0 2v3m0 5v1m0 4v2m0 10v3m0 6v9M1434 1107v1M1435 1039v1m0 10v1m0 1v1m0 18v2m0 27v7M1436 1091v6m0 24v1M1437 1110v5M1438 1061v1m0 20v4m0 12v3M1440 1062v2m0 27v5M1441 1076v3m0 18v1M1442 1079v1m0 11v3M1443 1071v2m0 3v3m0 10v2m0 7v3M1444 1101v6M1445 1091v3M1446 1039v1m0 29v4m0 6v3m0 20v5M1447 1036v1m0 12v1m0 14v3m0 2v2m0 8v1M1449 1073v3m0 15v6m0 1v6M1450 1025v1m0 56v3m0 1v9M1451 1107v5M1452 1052v2M1453 1064v1m0 11v3m0 1v2M1454 1039v1m0 14v1m0 7v3m0 4v2m0 2v6m0 7v5m0 13v3M1455 1039v1m0 21v1M1456 1091v2m0 16v7M1457 1044v2m0 18v1m0 17v4M1458 1079v3m0 23v2M1459 1112v7M1460 1091v3M1461 1091v5m0 25v1M1462 1082v4m0 10v2M1464 1106v1m0 12v3M1467 1039v1M1469 1098v3M1472 1073v3m0 6v3m0 22v5M1473 1101v6M1474 1079v3m0 31v8M1476 1074v2m0 10v12m0 11v9M1478 1115v6M1481 1082v2m0 2v3m0 27v6M1482 1071v2m0 6v2m0 9v1m0 14v2M1483 1082v4m0 20v1m0 12v3M1485 1069v2m0 20v7m0 8v1m0 6v9M1486 1098v2m0 16v6M1487 1102v5M1488 1121v1M1489 1059v2m0 15v3M1490 1091v7M1491 1086v12m0 2v7"/>
<path stroke="#005fff" d="M733 1112v5M734 1095v3m0 16v7M735 1071v1m0 30v5m0 2v6M737 1116v5M738 1100v6m0 7v6M739 1106v1m0 11v4M740 1118v4M741 1104v9M742 1098v2m0 13v7M743 1085v1m0 5v7m0 7v2M745 1114v6M748 1121v1M751 1113v6M753 1114v5M754 1078v1m0 11v1M756 1108v5M757 1071v2m0 3v3m0 28v1M758 1073v3m0 6v4m0 12v2M759 1094v4M761 1095v3m0 19v5M763 1092v5m0 20v5M764 1062v2m0 27v4m0 4v7M765 1058v1m0 10v4m0 3v3m0 28v2M766 1107v2M767 1106v1M769 1038v1m0 10v1m0 32v2m0 23v3M770 1091v5m0 11v2M771 1107v4M772 1098v5M773 1095v4m0 17v6M778 1076v3M780 1098v6m0 17v1M782 1115v5M784 1121v1M785 1098v4m0 5v5M788 1116v5M790 1121v1M794 1117v5M795 1114v5M796 1082v4M797 1061v1m0 17v3M798 1040v1m0 28v1m0 21v7m0 11v8M799 1040v1m0 14v1M800 1064v1m0 26v11M801 1088v3M802 1091v1m0 23v6M803 1062v2m0 9v3m0 31v3M805 1044v1m0 55v7M806 1088v3M807 1062v2m0 11v1m0 4v2m0 4v5M808 1107v1M809 1082v4m0 12v7M810 1082v2M811 1099v5m0 10v5M812 1062v2m0 22v2m0 3v6m0 10v2M813 1098v3M814 1105v2m0 11v4M817 1107v3M819 1059v2m0 30v3M820 1108v5M821 1086v5m0 27v4M823 1100v6m0 14v2M824 1098v7M826 1102v5M830 1091v1M831 1079v3m0 15v1M832 1098v5M834 1107v2M836 1088v3m0 3v4m0 9v4M837 1105v2m0 10v5M838 1071v2m0 7v2M839 1091v1m0 6v1M841 1121v1M842 1116v6M843 1115v5M844 1083v3m0 17v4M845 1121v1M846 1103v4m0 10v4M847 1073v3m0 15v3m0 12v7M848 1103v4m0 4v6M849 1105v2M850 1040v1m0 59v7M851 1092v6m0 4v5M852 1079v3m0 36v4M853 1092v6M855 1108v7M856 1091v10m0 14v7M857 1082v4M858 1120v2M860 1069v2m0 35v1M862 1082v4m0 14v13M863 1108v6M864 1093v5M865 1076v3m0 3v4m0 15v6m0 7v7M866 1067v2m0 17v1M868 1093v5m0 5v4m0 13v2M869 1061v1m0 20v1m0 8v7M870 1047v1m0 14v1m0 10v3M871 1082v3m0 1v1M873 1098v5M881 1110v7M882 1069v2m0 1v1m0 6v3M883 1107v3M884 1067v2m0 13v4m0 1v12M886 1107v3M887 1121v1M888 1100v5m0 9v5M890 1108v5M892 1108v6M893 1107v3M1018 1111v6M1019 1121v1M1022 1077v2m0 32v7M1024 1110v5M1026 1065v2M1027 1044v1m0 37v4m0 7v5M1030 1098v2m0 8v7M1032 1116v4M1033 1101v6M1034 1118v4M1036 1105v2M1037 1115v5M1039 1119v3M1040 1097v1M1041 1091v3M1042 1051v2m0 12v2M1043 1083v3M1044 1119v3M1046 1067v1m0 30v6m0 3v4M1050 1121v1M1052 1119v3M1055 1113v6M1057 1086v5m0 12v4M1058 1108v6M1059 1117v5M1062 1059v2m0 6v2m0 2v2m0 13v1M1064 1112v7M1065 1086v5M1067 1105v2m0 8v6M1068 1114v6M1069 1109v5M1074 1082v1m0 29v7M1075 1069v2m0 27v2M1076 1047v1m0 7v1m0 5v1m0 3v4m0 4v3M1077 1098v6M1078 1098v7m0 2v6M1080 1106v2M1083 1120v2M1093 1118v4M1095 1118v4M1096 1118v4M1098 1114v5M1105 1116v6M1106 1117v5M1109 1098v1M1111 1115v5M1112 1118v4M1115 1113v6M1117 1103v4M1118 1115v6M1119 1120v2M1125 1118v4M1128 1048v1m0 13v1m0 2v2m0 6v3m0 8v4M1129 1029v1m0 12v1m0 9v1m0 2v1m0 3v2m0 3v1M1130 1027v1m0 17v1m0 15v1m0 2v1m0 30v3M1131 1120v2M1132 1022v1m0 8v1m0 23v1m0 9v4m0 2v2m0 17v1M1133 1070v1m0 8v2m0 8v2m0 2v5M1135 1071v5m0 3v3m0 4v5m0 15v1m0 1v7M1136 1058v1m0 54v7M1137 1030v1m0 15v1m0 24v2m0 3v3M1138 1026v1m0 3v1m0 22v1m0 2v1m0 10v1m0 11v3M1139 1021v1m0 26v1m0 7v1m0 7v1m0 2v2M1140 1069v2m0 8v3m0 25v3M1141 1077v2m0 15v4M1142 1073v3M1143 1053v1m0 7v1m0 11v3M1144 1073v1m0 33v3M1145 1089v2M1146 1023v1m0 4v1m0 6v1m0 1v1m0 7v1m0 2v1m0 8v1M1147 1101v6M1148 1048v1m0 18v1M1149 1015v1m0 44v2m0 5v4m0 8v3m0 9v5M1151 1067v2m0 28v5M1152 1042v1m0 55v7M1153 1091v5M1154 1095v3m0 9v6M1156 1038v1m0 5v1m0 13v1m0 17v3m0 19v7M1157 1065v2m0 2v2m0 2v3m0 8v2m0 5v5M1158 1011v1m0 37v1m0 6v1m0 8v1M1159 1021v1m0 45v2m0 3v1m0 9v2m0 11v3M1160 1103v4M1161 1107v1M1162 1015v1m0 19v1m0 21v1M1163 1069v2m0 8v1m0 11v7M1164 1105v2M1165 1015v1m0 25v1M1166 1015v1m0 6v1m0 19v1m0 6v1m0 6v1m0 4v1m0 9v1m0 14v5m0 16v2M1167 1121v1M1169 1076v3m0 19v4M1171 1035v1m0 35v2m0 3v10m0 12v2m0 16v6M1172 1032v1m0 8v1m0 25v2M1173 1042v1m0 7v1m0 7v3m0 6v2m0 18v7M1174 1112v6M1175 1028v1m0 8v1m0 12v1m0 35v3M1176 1085v1M1177 1086v5M1178 1088v3M1179 1073v3M1180 984v1m0 17v1m0 5v1m0 9v1m0 10v1m0 15v1m0 2v1m0 18v4m0 2v3M1181 1027v1m0 4v1m0 1v1m0 19v1m0 12v2m0 2v1m0 4v3m0 12v7M1182 1105v2M1183 1021v1m0 2v1m0 2v1m0 5v1m0 3v2m0 1v1m0 21v2m0 1v1M1184 1094v4m0 8v1m0 10v5M1185 1077v2m0 24v4m0 10v5M1186 1084v2m0 11v1M1187 1093v5m0 7v2m0 4v5M1188 996v1m0 9v1m0 8v1m0 22v1m0 6v1m0 3v1m0 6v1M1189 1061v1m0 17v3m0 26v7M1190 1088v3m0 26v5M1191 1067v2m0 7v3m0 7v5M1192 1090v1m0 29v2M1194 1016v1m0 20v1m0 7v1m0 4v1m0 2v1m0 3v1m0 1v3m0 5v4M1195 1091v6m0 6v4M1196 1031v1m0 29v1m0 3v2m0 18v3M1197 1105v2M1198 1014v1m0 18v1m0 4v1m0 6v1m0 2v1m0 7v1m0 12v2m0 27v8M1200 1102v10M1201 1058v1m0 32v1M1202 1064v1M1203 1012v1m0 26v1m0 25v2m0 4v2m0 3v1m0 9v5M1204 1064v1m0 2v2m0 12v1M1206 1093v5M1207 1107v5M1209 1111v6M1210 1098v7m0 2v4M1212 1087v4m0 5v2m0 4v5M1213 1057v1m0 4v2m0 56v2M1217 1117v4M1218 1110v7M1220 1111v4M1221 1086v5M1224 1111v7M1225 1094v4M1226 1119v3M1228 1098v5m0 4v5M1229 1107v1M1230 1107v4M1231 1090v1m0 5v2M1232 1098v3M1233 1107v6M1234 1067v2m0 7v1M1235 1109v6M1242 1084v2M1243 1119v3M1244 1114v5M1246 1092v6M1247 1103v4M1248 1049v1m0 32v15M1249 1057v1m0 33v5m0 11v5M1250 1048v1m0 8v1m0 27v3m0 3v1m0 6v5M1251 1082v4M1252 1011v1m0 33v1m0 25v2m0 13v5m0 11v5m0 2v8M1253 1118v4M1254 1073v3m0 20v2m0 21v3M1255 1110v6M1256 1057v1M1257 1107v5M1260 1082v4m0 5v5M1262 1099v6M1263 1018v1m0 39v1m0 33v6m0 9v3M1265 1073v3m0 33v7M1266 1056v1m0 1v1m0 14v3m0 3v3M1270 1091v4m0 17v6M1271 1106v1M1272 1110v7M1273 1082v4m0 11v1m0 9v1M1274 1110v6M1275 1116v6M1277 1108v5M1278 1121v1M1280 1087v8m0 12v7M1281 1120v2M1282 1101v6m0 9v6M1284 1099v5m0 15v3M1286 1073v1m0 10v2M1288 1036v1m0 42v1m0 5v1m0 18v6M1289 1064v1m0 21v2m0 32v2M1290 1091v6m0 16v6M1291 1114v5M1292 1090v4M1293 1066v1m0 17v2m0 12v2M1294 1079v3m0 14v7m0 5v6M1295 1067v2M1297 1111v5M1300 1121v1M1301 1119v3M1303 1108v6M1306 1116v5M1308 1113v6M1309 1121v1M1316 1096v2m0 9v4M1318 1116v5M1319 1102v5m0 7v6M1324 1114v5M1326 1119v3M1327 1105v2m0 2v6M1329 1112v5M1330 1112v5M1333 1110v5M1334 1091v1M1341 1050v1m0 47v8m0 1v1M1342 1119v3M1344 1061v1m0 7v2m0 8v3m0 16v1M1345 1095v3m0 20v4M1346 1085v1m0 33v3M1347 1047v1m0 11v3m0 3v2M1348 1093v5M1349 1042v1m0 3v1m0 24v5M1351 1057v1m0 15v3M1352 1069v2m0 4v1m0 15v2M1353 994v1m0 39v1m0 6v1m0 18v1m0 1v1m0 1v1m0 2v2m0 29v5m0 15v4M1354 1121v1M1356 1086v5M1357 1098v3m0 17v4M1359 1071v2m0 36v7M1361 1107v2M1363 1117v4M1367 1112v7M1370 1083v3m0 5v4m0 4v7m0 1v6M1372 1106v1m0 6v7M1374 1098v6M1375 1117v5M1376 1101v6M1377 1091v4m0 10v2M1380 1111v8M1383 1119v3M1384 1114v4M1388 1120v2M1390 1100v6M1392 1107v2M1396 1069v2M1397 1073v3m0 22v2m0 21v1M1398 1094v4M1399 1091v3M1401 1100v6m0 15v1M1403 1116v5M1404 1091v6M1405 1113v5M1409 1115v6M1410 1098v6m0 3v1M1416 1112v6M1421 1109v5M1422 1121v1M1423 1110v6M1429 1082v3M1431 1107v6M1432 1082v2m0 7v6M1433 1088v3m0 10v6m0 9v6M1434 1098v6m0 4v6M1436 1097v1M1437 1115v5M1438 1101v6M1440 1082v3m0 11v2M1441 1098v6m0 3v6M1442 1053v1m0 17v1m0 8v2m0 12v4M1443 1057v1m0 43v6M1445 1082v4m0 8v4M1446 1064v1m0 2v1m0 23v2M1447 1076v3m0 1v2m0 16v1m0 8v1M1449 1097v1m0 6v5M1450 1085v1m0 9v9M1451 1112v6M1452 1076v3M1453 1039v1M1454 1025v1m0 65v4M1455 1086v4m0 17v6M1456 1093v5m0 18v6M1457 1025v1m0 65v2M1458 1086v8M1459 1119v3M1460 1067v2m0 25v4M1461 1096v2M1462 1079v3M1467 1091v5M1469 1101v13M1470 1091v1M1472 1085v1m0 26v7M1474 1082v4m0 35v1M1476 1118v4M1477 1098v2M1478 1121v1M1481 1084v2m0 3v2M1482 1081v1M1486 1100v6M1487 1107v6M1489 1056v1m0 25v3m0 13v5M1490 1082v3m0 22v4M1491 1107v6"/>
<path stroke="#007fff" d="M733 1117v4M734 1121v1M735 1072v1m0 42v6M737 1121v1M738 1106v1m0 12v3M741 1113v5M742 1100v6m0 14v2M745 1120v2M751 1119v3M753 1119v3M755 1107v4M756 1113v4M757 1108v6M758 1100v6M763 1097v1M764 1095v3m0 8v1M765 1047v1m0 3v1m0 7v2m0 3v1m0 44v8M766 1109v4M768 1107v3M769 1033v1m0 35v2m0 8v1m0 4v2m0 12v3m0 9v7M770 1096v2m0 11v6M771 1111v4M772 1103v4M773 1099v6M774 1098v1M779 1107v3M780 1104v3M781 1107v6M782 1120v2M785 1102v5m0 5v5M788 1121v1M795 1098v5m0 16v3M796 1057v1m0 40v3M798 1070v1m0 46v5M799 1071v2m0 13v4M800 1034v1m0 23v1m0 20v3m0 20v5M802 1092v6m0 23v1M803 1098v5m0 7v6M805 1086v4m0 17v5M806 1073v3m0 3v3M807 1091v6M808 1098v1m0 9v5M809 1105v3M810 1084v2M811 1104v3m0 12v3M812 1088v3m0 6v1m0 11v7M813 1101v5M817 1110v4M819 1094v4M820 1113v4M821 1098v5M822 1107v1M823 1106v1M824 1105v2M830 1092v6m0 9v3M832 1103v4M833 1086v3M834 1109v6M836 1111v6M838 1107v3M839 1092v6m0 1v6M842 1098v2M843 1120v2M846 1121v1M847 1071v2m0 21v4m0 15v6M848 1117v5M849 1107v2M851 1071v1M853 1107v4M855 1115v6M856 1101v6M858 1086v2M859 1107v1M860 1107v1M861 1107v2M862 1091v6m0 16v6M863 1114v6M865 1086v2m0 33v1M866 1087v4M869 1083v3M870 1063v1m0 34v3M871 1076v3m0 6v1m0 1v7m0 13v5M872 1065v2m0 24v4m0 3v7M873 1103v5M881 1054v1m0 36v3m0 23v5M882 1082v9M883 1110v4M884 1099v7M886 1110v5M888 1105v2m0 12v3M890 1113v5M891 1079v1M892 1114v5M893 1110v5M1018 1117v5M1022 1073v3m0 42v4M1024 1115v5M1025 1062v2m0 18v2m0 2v3m0 18v3M1027 1064v1m0 11v1M1029 1107v6M1030 1100v6m0 9v6M1032 1120v2M1037 1120v2M1041 1094v4M1042 1064v1m0 26v1m0 6v3M1045 1076v3m0 3v4M1046 1068v1m0 35v3m0 4v6M1055 1119v3M1058 1114v6M1062 1056v1m0 16v3m0 6v4m0 1v4M1064 1119v3M1067 1121v1M1068 1120v2M1069 1114v5M1074 1083v3m0 33v3M1075 1058v1m0 41v7M1076 1043v1m0 38v4M1077 1082v7m0 15v3M1078 1105v2m0 6v6M1080 1108v4M1098 1119v3M1109 1099v5M1111 1120v2M1115 1119v3M1118 1121v1M1128 1063v1m0 7v2m0 6v3m0 6v3m0 16v4M1129 1024v1m0 16v1m0 6v1m0 5v1m0 27v1m0 8v2M1130 1046v1m0 35v4M1132 1045v1m0 3v1m0 1v1m0 17v2M1133 1067v2m0 12v1M1135 1050v1m0 3v1m0 60v7M1136 1120v2M1137 1047v2M1138 1049v1m0 1v1m0 13v2m0 1v1M1139 1053v2m0 6v1M1140 1110v5M1143 1098v2M1144 1074v2m0 34v6M1145 1073v3M1146 1041v1m0 5v1m0 6v3m0 7v1m0 8v3M1147 1107v1M1148 1042v1m0 9v1m0 3v1m0 11v1m0 7v3m0 7v4m0 17v5M1149 1050v1m0 35v5m0 5v6M1151 1064v1m0 37v5M1152 1051v1m0 53v2M1153 1096v3M1154 1113v5M1156 1091v6m0 8v8M1157 1056v2m0 38v2M1158 1066v1m0 4v2m0 6v3m0 4v5m0 16v3M1159 1015v1m0 24v1m0 43v2M1160 1091v3M1161 1108v6M1162 1047v1m0 8v1m0 4v4m0 2v2m0 2v2M1163 1064v1m0 6v2m0 7v2M1164 1107v4M1165 1073v3M1166 1052v1m0 19v3m0 16v6m0 1v3m0 8v7M1168 1067v2m0 13v1m0 8v5M1169 1102v5M1170 1071v2M1171 1086v5m0 9v7M1172 1044v1m0 1v1m0 2v1m0 3v1m0 5v2m0 10v5m0 6v4M1173 1034v1m0 41v1m0 17v4M1174 1118v4M1175 1089v2M1180 998v1m0 45v1m0 7v3m0 3v3m0 10v2M1181 1011v1m0 8v1m0 5v1m0 17v1m0 8v1m0 2v1m0 5v2m0 8v4m0 10v3M1183 995v1m0 29v2m0 17v1m0 14v2m0 5v1M1187 1116v4M1188 1050v1m0 4v1m0 26v9M1189 1056v1m0 5v3m0 50v6M1190 1079v2M1194 1043v1m0 5v1m0 5v1m0 2v1m0 23v9M1195 1097v1m0 9v4M1196 1010v1m0 45v1m0 1v3m0 18v3m0 6v3m0 7v8m0 1v1M1198 1051v1m0 13v2m0 12v3m0 24v1M1199 1079v3M1200 1112v6M1201 1086v5m0 1v6M1202 1091v1m0 6v2m0 7v6M1203 1041v1m0 9v1m0 12v1m0 4v2m0 6v2m0 12v7M1207 1098v4m0 10v4M1209 1117v5M1210 1105v2m0 4v6M1212 1107v4M1213 1091v1M1217 1121v1M1218 1117v5M1220 1115v4M1222 1107v4M1224 1118v4M1228 1103v4m0 5v5M1229 1108v6M1230 1111v6M1232 1101v5M1233 1113v6M1234 1077v2M1235 1115v5M1240 1107v3M1242 1061v1m0 17v3M1244 1119v3M1247 1107v3M1248 1067v2m0 28v1M1249 1096v2m0 14v6M1250 1088v3m0 1v6m0 5v4M1251 1107v1M1252 1035v1m0 19v1m0 13v2m0 46v5M1254 1076v3m0 3v2M1255 1116v4M1256 1098v6M1257 1112v5M1260 1079v3m0 14v2M1262 1105v4M1263 1067v2m0 7v1m0 33v8M1264 1107v1M1265 1116v5M1266 1048v1m0 10v2m0 1v2m0 3v2m0 7v1m0 9v5M1270 1095v3m0 20v4M1272 1098v1m0 18v5M1273 1098v1m0 9v6M1274 1116v5M1275 1098v3M1277 1113v4M1280 1095v3m0 16v6M1284 1104v3M1285 1107v3M1286 1074v2M1288 1059v2m0 6v2m0 11v2m0 28v7M1289 1088v3M1290 1097v1m0 21v3M1291 1119v3M1292 1094v4m0 9v4M1293 1038v1m0 37v1m0 23v7M1294 1103v4m0 7v5M1297 1116v4M1303 1114v5M1306 1121v1M1308 1119v3M1316 1111v4M1318 1121v1M1319 1120v2M1324 1119v3M1327 1115v5M1329 1117v4M1330 1117v5M1333 1115v4M1334 1092v5M1341 1029v1m0 18v1m0 15v1m0 6v2m0 33v1m0 1v8M1344 1099v7m0 1v4M1347 1032v1m0 19v1m0 3v1m0 10v2m0 22v5M1348 1098v6M1349 1051v1m0 9v1M1351 1053v1m0 7v1M1352 1093v5M1353 1057v1m0 5v1m0 1v1m0 5v2m0 9v2m0 7v2m0 10v4M1356 1098v4m0 5v5M1357 1082v4m0 15v6M1359 1116v5M1361 1091v5m0 13v6M1363 1121v1M1367 1119v3M1368 1107v2M1370 1095v3m0 8v1m0 6v5M1372 1120v2M1373 1098v5M1374 1086v3m0 15v3M1376 1107v4M1377 1095v3M1378 1076v2m0 13v5M1380 1119v3M1384 1118v4M1385 1098v1M1390 1106v1M1392 1109v6M1396 1086v5M1397 1100v7M1399 1094v4M1401 1106v1M1403 1121v1M1404 1097v1M1405 1118v4M1409 1121v1M1410 1104v3m0 1v6M1416 1118v4M1420 1107v4M1421 1114v4M1423 1116v5M1428 1091v5m0 2v4M1429 1085v1m0 12v2M1431 1113v5M1432 1076v3m0 5v2m0 11v1M1434 1104v3m0 7v5M1435 1047v1M1437 1120v2M1440 1085v1M1441 1104v3m0 6v5M1442 1072v1M1445 1086v3M1446 1068v1m0 24v5M1447 1034v1m0 64v8m0 1v7M1449 1109v6M1450 1104v3M1451 1118v4M1452 1079v7m0 5v4M1453 1071v2M1454 1095v3M1455 1079v2m0 9v1m0 22v6M1457 1079v3m0 11v8M1458 1082v4m0 8v4M1460 1082v3m0 22v3M1462 1107v1M1466 1091v5M1467 1096v2m0 9v6M1469 1114v5M1470 1092v6M1472 1119v3M1477 1100v6M1486 1106v1M1487 1113v5M1489 1085v1m0 17v9M1490 1085v1m0 25v6M1491 1113v6"/>
<path stroke="#009fff" d="M733 1121v1M734 1098v4M735 1121v1M741 1118v4M742 1106v1M743 1107v4M754 1071v2M755 1091v4m0 16v4M756 1117v4M757 1062v2m0 22v4m0 24v6M758 1106v5M764 1073v3M765 1031v1m0 41v3m0 41v5M766 1113v4M768 1110v5M769 1080v2m0 19v6m0 10v5M770 1115v5M771 1115v3M773 1105v2M774 1099v5M779 1110v4M781 1113v4M785 1117v5M792 1107v4M795 1103v4M796 1079v3m0 4v5m0 10v6M798 1053v1M799 1052v1m0 37v1m0 16v4M802 1098v2M803 1103v4m0 9v6M805 1090v1m0 21v5M807 1054v1m0 42v1M808 1099v4m0 10v4M809 1108v6M812 1055v1m0 42v5m0 13v6M813 1106v1M817 1114v5M820 1117v4M821 1103v4M822 1108v4M830 1110v5M833 1089v2m0 16v5M834 1115v5M836 1117v4M838 1110v5M839 1105v2M842 1100v4M847 1119v3M849 1109v5M851 1072v1M853 1111v5M855 1121v1M858 1088v7M859 1108v4M860 1108v5M861 1109v5M862 1097v1m0 21v3M863 1098v5m0 17v2M865 1088v3M866 1082v3M869 1107v3M870 1101v12M871 1052v1m0 41v4m0 14v6M872 1095v3m0 7v5M873 1108v6M881 1094v4M882 1098v2M883 1114v4M884 1106v1M886 1115v5M890 1118v4M891 1080v2M892 1119v3M893 1115v4M1024 1120v2M1025 1084v2m0 3v2m0 19v5M1026 1091v4M1027 1077v2M1029 1113v5M1030 1106v1m0 14v1M1042 1092v6m0 3v6M1045 1056v1M1046 1117v5M1057 1107v2M1058 1120v2M1062 1107v1M1065 1067v2M1069 1119v3M1075 1076v3M1076 1050v1M1077 1089v2M1078 1119v3M1080 1112v4M1109 1104v3M1127 1107v5M1128 1030v1m0 67v7m0 6v7M1129 1058v1m0 8v2m0 14v3m0 7v5m0 9v7M1130 1047v1m0 17v4m0 38v2M1132 1057v1m0 15v3m0 22v7M1136 1065v2M1137 1056v1m0 7v3m0 15v4M1138 1076v3M1139 1086v5M1140 1098v5m0 12v5M1141 1073v3m0 31v4M1143 1056v1m0 7v1m0 14v3m0 18v7M1144 1116v4M1145 1091v1M1146 1051v1M1147 1108v4M1148 1090v1m0 21v7M1149 1102v5M1152 1073v3M1153 1099v5m0 3v3M1154 1118v4M1155 1107v3M1156 1069v2m0 15v5m0 6v1m0 15v7M1157 1098v4M1158 1082v4m0 5v1m0 18v7M1159 1065v2m0 19v1M1160 1094v4m0 9v1M1161 1114v4M1162 1052v1m0 33v2m0 3v4M1163 1024v1M1164 1111v4M1165 1057v1m0 33v7M1166 1075v1m0 21v1m0 3v6m0 9v6M1168 1083v3m0 10v2M1169 1107v2M1171 1040v1m0 8v1m0 12v2m0 9v3M1172 1086v3m0 2v1m0 15v6M1173 1048v1m0 28v2m0 3v3M1175 1082v2M1178 1076v3M1180 1051v1m0 10v2m0 27v7M1181 1005v1m0 32v1m0 18v1m0 21v3m0 7v2m0 7v4M1183 1017v1m0 30v1m0 3v1m0 3v1m0 7v1m0 21v5M1186 1107v5M1187 1120v2M1188 1025v1m0 32v1m0 8v2m0 2v5M1189 1067v2m0 17v4m0 31v1M1190 1081v1M1192 1079v2M1194 1047v1m0 31v3M1195 1111v5M1196 1009v1m0 30v1m0 65v1m0 1v7M1198 1043v1m0 47v3M1200 1118v4M1201 1067v2m0 2v2M1202 1069v2m0 8v3m0 10v6m0 2v6m0 7v6M1203 1050v1m0 3v1m0 24v3m0 16v6M1205 1098v3M1206 1107v4M1207 1102v4m0 10v4M1210 1117v4M1212 1111v6M1213 1092v6M1220 1119v3M1222 1111v5M1228 1117v5M1229 1114v5M1230 1117v5M1232 1106v3M1233 1119v3M1234 1107v5M1235 1120v2M1240 1110v4M1247 1110v4M1249 1118v4M1251 1108v5M1254 1084v2M1255 1120v2M1256 1104v5M1257 1117v5M1259 1098v5M1260 1076v3M1262 1109v4M1263 1065v2m0 10v2m0 39v4M1264 1108v4M1265 1121v1M1266 1047v1m0 23v2m0 4v2m0 19v4M1269 1107v1M1272 1091v6m0 2v6M1273 1099v6m0 9v5M1274 1121v1M1275 1101v5M1276 1107v1M1277 1117v3M1280 1120v2M1285 1110v4M1288 1117v5M1292 1111v6M1293 1077v2m0 28v6M1294 1119v3M1297 1120v2M1303 1119v3M1316 1115v4M1327 1120v2M1329 1121v1M1333 1119v3M1334 1097v1M1341 1067v2m0 10v4m0 33v6M1344 1106v1m0 4v6M1347 1082v3m0 11v2M1348 1104v6M1349 1098v1M1352 1107v2M1353 1066v1m0 17v7m0 2v5M1356 1102v5m0 5v6M1359 1121v1M1361 1096v2m0 17v5M1368 1109v5M1370 1118v4M1373 1103v4M1374 1089v2M1376 1111v6M1378 1078v1m0 17v2m0 9v4M1385 1099v5M1387 1107v5M1392 1115v5M1410 1114v5M1420 1111v4M1421 1118v4M1423 1121v1M1428 1096v2m0 4v4m0 1v3M1429 1100v6M1431 1118v4M1432 1073v3m0 22v6M1434 1119v3M1441 1118v4M1442 1098v5M1445 1089v2m0 7v4m0 5v5M1446 1053v1m0 53v3M1447 1086v5m0 24v6M1449 1115v5M1450 1107v6M1452 1095v8M1455 1081v1m0 37v3M1457 1101v6M1460 1085v1m0 12v3m0 9v6M1462 1108v5M1466 1096v2m0 9v5M1467 1113v6M1469 1119v3M1470 1107v5M1477 1106v3M1487 1118v4M1489 1112v5M1490 1076v2m0 39v5M1491 1119v3"/>
<path stroke="#0000ff" d="M734 1045v1m0 9v1m0 5v4m0 6v2M735 1034v1m0 20v1m0 8v3m0 2v2m0 4v7M736 1053v1m0 25v3m0 18v7M737 1086v9m0 3v5M738 1073v9m0 9v7M739 1071v2m0 3v3m0 3v4M740 1086v11m0 6v4M741 1048v1m0 16v2m0 4v2m0 3v3m0 7v12M742 1053v1m0 1v1m0 5v3m0 3v2m0 7v3m0 7v2M743 1043v1m0 7v1m0 2v1m0 3v1m0 3v3m0 2v4m0 2v6M744 1091v6m0 7v3m0 6v9M745 1098v6M746 1108v9M747 1024v1m0 12v2m0 14v1m0 3v2m0 2v1m0 2v1m0 8v3m0 22v9M749 1114v8M750 998v1m0 108v6M751 1059v3m0 4v1m0 6v3m0 3v3m0 4v5M752 998v1m0 77v3m0 33v10M753 1082v4M754 998v1m0 15v1m0 7v1m0 4v1m0 14v1m0 12v1m0 3v2m0 3v1m0 14v7M755 1065v2m0 2v2m0 29v7M756 1084v2m0 5v16M757 1028v1m0 3v1m0 3v3m0 1v1m0 1v2m0 4v1m0 5v1m0 1v3m0 14v3m0 3v3M758 998v1m0 15v1m0 21v1m0 4v1m0 2v1m0 8v1m0 1v1m0 23v3M759 1067v2m0 5v2m0 10v5M760 998v1m0 108v4M761 1059v2m0 2v1m0 5v2m0 4v1m0 5v1m0 4v5M762 1037v1m0 13v1m0 3v1m0 2v1m0 4v1m0 9v6m0 3v4m0 5v7M763 1098v3M764 1017v1m0 12v1m0 8v1m0 6v2m0 2v2m0 1v2m0 3v1m0 5v3m0 12v3M765 976v1m0 8v1m0 3v2m0 2v1m0 8v1m0 2v1m0 4v1m0 3v1m0 3v2m0 1v1m0 2v2m0 1v2m0 1v1m0 1v1m0 10v3m0 4v1m0 2v1m0 3v1M766 998v1m0 93v15M767 998v1m0 90v2m0 5v2m0 9v7M768 998v1m0 66v2m0 1v1m0 3v7m0 2v5m0 5v7M769 993v1m0 11v1m0 5v1m0 12v1m0 3v1m0 1v1m0 4v2m0 4v1m0 9v3m0 5v2m0 1v1M770 1050v1m0 4v2m0 1v1m0 3v2m0 3v6m0 6v3M771 1074v2m0 19v3M772 1073v6m0 3v4m0 8v4m0 9v11M773 1070v1m0 2v3M774 1082v4m0 21v12M775 1086v3m0 6v3M776 1091v5m0 2v4m0 6v10M777 1084v2m0 5v4m0 12v2M778 1015v1m0 18v1m0 8v1m0 6v1m0 1v2m0 2v1m0 10v4m0 3v2m0 22v1M779 1073v3m0 6v4m0 5v5M780 998v1m0 62v1m0 5v2m0 15v2M781 1065v2m0 9v3m0 6v1m0 5v6m0 1v8M783 1049v1m0 39v2m0 16v4M784 1098v8m0 1v1M785 1057v1m0 9v2m0 13v4m0 5v4M786 1061v1m0 29v12M787 998v1m0 87v6m0 13v6M788 1086v5m0 7v2M789 998v1m0 110v8M790 998v1m0 80v3M791 1079v3m0 9v5m0 9v12M792 1067v2m0 13v4M793 1108v8M794 1076v1m0 2v3m0 1v4m0 4v4M795 1040v1m0 28v2m0 11v9M796 998v1m0 27v2m0 8v1m0 3v1m0 3v1m0 4v1m0 2v1m0 3v1m0 2v3m0 2v2m0 1v2m0 2v5M797 1001v1m0 15v1m0 9v2m0 3v4m0 1v1m0 1v1m0 3v1m0 1v1m0 2v1m0 5v1m0 3v1m0 3v3m0 2v2m0 4v2m0 32v4M798 1019v1m0 6v1m0 2v2m0 7v1m0 3v1m0 4v1m0 2v1m0 3v2m0 1v1m0 5v1m0 7v1m0 1v3m0 3v3M799 1023v1m0 5v2m0 11v1m0 1v2m0 2v2m0 1v1m0 4v3m0 3v3m0 8v3M800 1000v1m0 11v1m0 7v1m0 6v1m0 4v1m0 3v1m0 1v1m0 1v1m0 1v1m0 1v1m0 1v1m0 3v1m0 2v1m0 1v2m0 5v2m0 5v2m0 5v2M801 1096v4m0 7v5M802 1049v1m0 8v1m0 14v3m0 6v4M803 1021v1m0 11v1m0 6v1m0 4v1m0 1v1m0 11v2m0 8v2m0 20v7M804 1048v1m0 3v1m0 8v3m0 1v2m0 2v2m0 5v3m0 19v8M805 1038v1m0 9v2m0 1v1m0 3v1m0 1v4m0 1v2m0 7v2m0 18v1M806 1040v1m0 2v1m0 10v1m0 23v1m0 3v1m0 24v8M807 1023v1m0 15v2m0 2v2m0 2v3m0 6v1m0 2v3m0 5v2m0 7v3m0 3v4M808 998v1m0 83v4m0 11v1M809 998v1m0 7v1m0 10v1m0 2v1m0 7v1m0 1v1m0 1v1m0 5v1m0 2v2m0 7v3m0 1v1m0 1v1m0 1v3m0 4v2m0 2v2m0 8v3m0 10v6M810 1040v1m0 18v2m0 8v2m0 5v3m0 12v16M811 998v1M812 998v1m0 21v1m0 3v1m0 18v1m0 3v1m0 8v1m0 4v1m0 2v1m0 2v2m0 10v3M813 998v1m0 55v1m0 16v2m0 8v1m0 4v9M814 1079v3M815 998v1m0 94v5m0 13v9M816 1086v4m0 12v5m0 8v7M817 1040v1m0 58v8M818 1098v2m0 21v1M819 1036v1m0 17v1m0 12v2m0 38v8M820 1040v1m0 50v6m0 1v9M821 1073v3M822 1098v9M823 1040v1m0 38v3m0 1v7m0 1v1M824 1047v1m0 23v2m0 3v3m0 4v3m0 5v4m0 12v1M825 1040v1M826 1071v2m0 6v3m0 3v1m0 11v1m0 9v11M827 1076v3m0 16v3m0 3v14M828 998v1m0 87v5m0 7v6m0 3v4M830 1057v1m0 12v1m0 11v4M831 1061v1m0 5v2m0 4v6m0 3v9m0 16v10M832 1120v2M833 1038v1m0 13v1m0 11v1m0 11v3m0 3v1M834 1057v1m0 3v1m0 2v1m0 2v2m0 13v4m0 5v7M835 1086v3m0 9v5m0 5v10M836 1062v2m0 5v2M837 1040v1m0 6v1m0 4v1m0 3v1m0 9v1m0 9v3m0 3v5m0 4v3M838 1049v1m0 2v1m0 7v1m0 3v4m0 1v1m0 3v3m0 1v2m0 3v4M839 1043v1m0 1v1m0 4v2m0 2v2m0 2v7m0 17v6M840 1040v1m0 45v5m0 6v1m0 2v7m0 5v10M841 1065v2m0 2v4m0 6v1M842 1073v3m0 21v1M843 1040v1m0 40v1m0 13v3m0 5v4M844 1076v3m0 8v4m0 4v3M845 1035v1m0 1v1m0 14v1m0 12v2m0 6v3m0 10v1M846 1040v1M847 1029v1m0 11v1m0 2v1m0 10v1m0 9v2m0 2v1m0 6v6m0 4v2M848 1050v1m0 11v2m0 5v7M849 1045v1m0 1v1m0 2v1m0 1v1m0 9v3m0 2v2m0 7v1M850 1045v1m0 15v4m0 2v2m0 4v2m0 4v7m0 21v3M851 1048v1m0 12v1m0 7v2m0 5v3m0 7v5M852 1040v1M853 1042v1m0 8v1m0 2v1m0 6v1m0 5v2m0 10v2m0 1v4M854 1040v1m0 66v2M855 1046v1m0 4v1m0 9v1m0 5v2m0 4v3m0 3v7m0 4v1m0 7v9M856 1042v1m0 5v2m0 6v1m0 7v1m0 8v3m0 6v4M857 1053v1m0 5v1m0 1v1m0 26v8M858 1098v8M859 1086v12M860 1035v1m0 8v1m0 6v1m0 10v2m0 9v6M861 1055v1m0 2v1m0 5v3m0 1v1m0 2v15m0 12v4M862 1045v1m0 9v1m0 3v3m0 2v1m0 2v2m0 2v2m0 3v6M863 1051v1m0 3v1m0 9v2m0 15v16M864 1050v1m0 9v1m0 8v2m0 8v3M865 1057v1m0 21v3M866 1003v1m0 16v1m0 1v1m0 1v1m0 6v2m0 2v1m0 6v1m0 3v1m0 1v1m0 5v1m0 7v2m0 5v2M867 1098v2m0 7v5M868 1071v2m0 6v2m0 5v5M869 1026v1m0 3v1m0 1v2m0 2v1m0 1v1m0 3v1m0 1v1m0 5v1m0 2v1m0 5v2m0 6v2m0 2v2m0 6v3M870 1019v1m0 1v1m0 4v1m0 7v2m0 3v1m0 1v2m0 1v1m0 4v1m0 2v3m0 9v1m0 14v2M871 1004v1m0 17v1m0 3v4m0 2v3m0 2v1m0 3v2m0 2v1m0 1v1m0 6v1m0 1v1m0 2v2m0 1v2m0 7v2M872 1028v1m0 5v2m0 11v1m0 3v1m0 5v1m0 3v1m0 2v1m0 2v2m0 7v3m0 3v4M873 1029v1m0 26v1m0 5v1m0 1v1m0 6v2m0 1v2m0 1v9M881 1003v1m0 9v1m0 17v1m0 6v1m0 20v2m0 3v1m0 2v2m0 13v4m0 18v3M882 1029v1m0 14v1m0 8v1m0 2v1m0 10v2m0 4v1m0 2v3M883 1086v1m0 4v6m0 1v6M884 1028v1m0 22v1m0 1v1m0 3v1m0 4v2m0 1v2m0 2v2m0 2v3M885 1103v4m0 3v9M886 1040v1m0 13v1m0 13v1m0 7v3m0 12v5M887 1067v2m0 29v8M888 1081v1M889 1105v7M890 1082v4m0 4v7M891 1094v4m0 2v7M892 1093v5M893 1100v7M894 1071v5m0 12v3m0 10v14M1014 1076v3m0 14v5M1015 1086v5m0 16v5M1016 1098v8m0 1v4M1017 1098v5m0 4v5M1018 1084v2M1019 1092v6m0 6v3M1020 1088v3m0 23v8M1021 1093v5m0 7v2m0 1v10M1022 1025v1m0 6v1m0 10v3m0 6v1m0 2v1m0 11v2m0 2v2m0 7v2m0 16v9M1023 1105v2M1024 1082v4M1025 1028v1m0 14v1m0 5v1m0 3v1m0 3v1m0 7v6m0 2v6m0 12v7M1026 1061v1m0 5v2m0 2v2m0 1v2m0 31v7M1027 1011v1m0 12v1m0 2v1m0 11v1m0 3v1m0 6v1m0 4v1m0 3v5m0 1v2m0 4v2m0 13v2M1028 1065v2m0 35v5m0 6v9M1029 1019v2m0 27v3m0 7v1m0 5v3m0 2v4m0 9v3M1030 1041v1m0 1v1m0 23v7m0 4v1m0 4v4M1031 1113v9M1032 1106v1M1033 1091v6m0 10v5M1034 1073v2m0 11v5m0 14v2M1035 1073v3m0 21v5m0 5v6M1036 1116v6M1037 1082v4m0 5v16M1038 1089v2m0 13v3m0 10v5M1039 1061v1m0 9v5m0 6v4m0 1v11M1040 1034v1m0 16v2m0 4v2m0 2v1m0 5v2m0 4v3m0 3v7m0 12v9M1041 1058v1m0 8v2m0 4v3m0 3v7m0 12v1m0 8v2M1042 1022v1m0 17v1m0 4v1m0 10v6m0 20v2m0 2v5M1043 1107v4M1044 1080v2m0 4v21M1045 996v1m0 30v2m0 4v1m0 6v3m0 2v2m0 4v1m0 3v1m0 1v1m0 6v1m0 42v12M1046 1039v1m0 9v1m0 3v2m0 1v1m0 4v1m0 2v1m0 4v6m0 1v2m0 1v4m0 3v1m0 4v3M1047 1105v11M1049 1121v1M1050 1103v5M1051 1082v4m0 6v6m0 6v3M1052 1079v7m0 5v7M1053 1110v11M1054 1105v2M1055 1091v2M1056 1082v4m0 20v1m0 1v11M1057 1059v2m0 12v3m0 15v1M1058 1070v1m0 5v7M1059 1091v5m0 4v7M1060 1086v5m0 1v6m0 2v16M1061 1098v1m0 8v9M1062 1021v1m0 21v1m0 3v1m0 5v1m0 7v4m0 4v2m0 8v3M1063 1107v8M1064 1071v2m0 2v3m0 13v7M1065 1032v1m0 9v1m0 1v1m0 2v1m0 1v1m0 2v2m0 2v1m0 1v2m0 5v2M1066 1091v3m0 10v3M1067 1064v1m0 11v6m0 9v7M1068 1069v2m0 8v9m0 3v3M1069 1098v8M1072 1093v5m0 9v2M1073 1118v4M1074 1064v1m0 6v2m0 18v6m0 1v5M1075 1031v1m0 3v1m0 17v2m0 1v1m0 2v2m0 1v2m0 1v2m0 4v2m0 1v2M1076 989v1m0 31v1m0 2v1m0 1v2m0 1v1m0 2v1m0 4v2m0 7v1m0 4v1m0 1v1m0 2v2m0 1v2M1077 1026v1m0 5v1m0 6v1m0 4v1m0 1v1m0 9v2m0 7v2m0 4v2m0 6v1M1078 1044v1m0 2v1m0 2v2m0 15v2m0 2v2M1079 1118v4M1081 1108v8M1082 1120v2M1083 1076v2M1084 1086v5m0 23v8M1085 1107v2M1086 1079v3m0 5v4m0 7v4m0 5v4M1087 1069v2m0 8v3m0 4v5M1090 1108v11M1091 1102v5m0 13v2M1092 1086v3m0 20v11M1093 1091v14M1094 1115v7M1095 1091v6m0 4v6M1096 1087v4m0 7v9M1099 1082v4m0 10v8m0 12v6M1100 1107v5M1101 1067v2m0 13v16m0 9v11M1102 1086v5m0 16v10M1104 1089v2m0 21v10M1105 1098v9M1107 1107v7M1108 1117v5M1109 1085v1m0 21v4M1110 1098v5m0 4v7M1111 1091v5m0 2v6M1112 1086v5m0 7v1M1113 1113v9M1114 1061v1m0 11v3m0 15v5m0 11v5M1115 1097v1m0 7v2M1117 1088v3m0 16v10M1118 1067v1m0 14v4m0 5v14M1119 1072v1m0 30v4M1120 1107v9M1122 1114v8M1123 1064v1m0 26v7m0 1v8m0 1v11M1125 1106v1M1127 1061v1m0 7v2m0 2v2m0 3v4m0 14v3M1128 985v1m0 8v1m0 1v1m0 6v2m0 3v1m0 2v1m0 3v1m0 6v1m0 5v1m0 7v2m0 1v1m0 1v1m0 5v1m0 2v2m0 3v1m0 2v4m0 2v1m0 2v2M1129 981v1m0 4v1m0 13v1m0 12v2m0 1v1m0 5v1m0 3v1m0 1v1m0 2v1m0 1v1m0 1v1m0 3v1m0 3v1m0 2v2m0 3v1m0 9v1M1130 980v1m0 10v1m0 1v1m0 3v2m0 2v1m0 3v2m0 2v1m0 1v1m0 4v2m0 2v1m0 2v1m0 1v2m0 7v1m0 2v1m0 2v2m0 11v1M1131 1086v2m0 10v3M1132 977v1m0 2v1m0 7v1m0 22v1m0 11v1m0 2v4m0 2v2m0 1v1m0 1v1m0 3v1m0 1v1m0 17v1M1133 1025v1m0 4v1m0 7v2m0 1v1m0 5v1m0 4v1m0 2v1m0 3v3m0 9v2m0 3v3M1134 1093v5m0 10v10M1135 1004v1m0 20v1m0 4v1m0 5v1m0 2v1m0 4v1m0 6v1m0 1v1m0 2v1m0 1v1m0 2v1m0 3v2M1136 1043v1m0 10v1m0 6v1m0 5v2m0 2v4m0 4v3m0 4v21M1137 970v1m0 7v1m0 1v1m0 3v2m0 6v1m0 3v1m0 5v1m0 1v2m0 4v1m0 1v1m0 6v1m0 1v1m0 13v1m0 16v1M1138 975v1m0 7v1m0 15v1m0 4v1m0 1v1m0 1v1m0 1v1m0 4v2m0 2v1m0 1v1m0 1v1m0 7v2m0 2v1m0 1v1m0 1v1m0 1v2m0 1v1m0 7v1m0 6v2m0 10v2m0 9v4M1139 977v1m0 6v1m0 10v1m0 7v1m0 9v3m0 1v1m0 6v1m0 4v3m0 1v4m0 1v1m0 3v1m0 4v1m0 7v1m0 3v2M1140 1031v1m0 29v1m0 9v2M1141 1038v1m0 22v1m0 3v4m0 13v9m0 7v1M1142 1067v2m0 2v2m0 13v4m0 1v4m0 3v3M1143 972v1m0 15v1m0 20v2m0 1v1m0 2v1m0 1v2m0 9v1m0 3v2m0 3v1m0 2v3m0 6v1m0 2v1m0 2v1m0 1v2m0 8v2M1144 1041v1m0 3v1m0 9v1m0 2v1m0 10v2m0 11v2M1145 1025v1m0 13v1m0 1v1m0 11v1m0 13v2M1146 978v1m0 12v2m0 1v3m0 8v1m0 1v1m0 3v1m0 2v3m0 2v2m0 3v1m0 2v1m0 2v3m0 9v1m0 19v2M1147 1056v1m0 16v3m0 6v4M1148 972v1m0 11v2m0 2v2m0 7v1m0 4v1m0 1v1m0 2v2m0 1v1m0 3v1m0 1v1m0 5v3m0 2v1m0 2v1m0 1v1m0 14v1m0 1v1m0 3v1m0 7v1m0 9v2m0 6v3M1149 996v1m0 11v1m0 1v3m0 3v1m0 4v2m0 6v1m0 3v1m0 1v1m0 7v1m0 4v2m0 1v1m0 13v2M1150 1015v1m0 63v7m0 12v9M1151 1016v1m0 10v1m0 7v1m0 2v2m0 2v1m0 4v2m0 2v2m0 3v1m0 2v5m0 12v3M1152 991v2m0 15v1m0 1v1m0 4v2m0 2v1m0 1v1m0 4v1m0 2v2m0 2v2m0 1v1m0 2v2m0 2v4m0 11v1m0 6v2m0 12v3M1153 1015v1m0 36v1m0 17v1m0 5v3m0 7v1M1154 1015v1m0 57v3m0 3v3m0 20v5M1155 1091v16M1156 982v1m0 5v2m0 9v1m0 3v1m0 1v1m0 3v2m0 1v1m0 10v1m0 1v1m0 2v1m0 10v2m0 1v1m0 3v1m0 2v1m0 7v1m0 7v2M1157 1009v1m0 1v1m0 6v1m0 5v1m0 3v1m0 3v3m0 4v1m0 2v2m0 3v2m0 3v1m0 2v1m0 3v2m0 3v1m0 6v2M1158 978v1m0 2v1m0 4v2m0 6v1m0 1v1m0 1v1m0 15v1m0 1v2m0 7v2m0 4v1m0 4v1m0 8v1m0 6v1m0 6v1m0 4v1m0 2v4M1159 993v3m0 1v1m0 3v1m0 1v1m0 5v1m0 2v1m0 1v1m0 3v2m0 10v1m0 1v1m0 3v1m0 1v2m0 7v1m0 8v1M1160 1048v1m0 6v1m0 5v1m0 2v1m0 4v2m0 5v3m0 4v3M1161 1058v1m0 6v2m0 2v2m0 5v3m0 3v4M1162 985v1m0 6v1m0 8v1m0 9v2m0 3v2m0 2v1m0 1v5m0 1v2m0 2v1m0 8v1m0 6v1m0 1v1m0 2v1M1163 1004v1m0 12v1m0 5v1m0 2v1m0 7v1m0 1v1m0 1v2m0 6v1m0 6v1m0 2v5M1164 1064v1m0 8v3m0 10v5M1165 995v1m0 7v2m0 4v1m0 7v1m0 10v3m0 2v1m0 1v2m0 1v3m0 4v1m0 4v1m0 4v2m0 10v2m0 2v2m0 9v4M1166 991v1m0 9v1m0 8v1m0 6v2m0 2v1m0 13v2m0 9v1m0 6v1m0 10v1M1167 1051v1m0 12v1m0 10v1m0 3v3M1168 1047v1m0 2v1m0 5v1m0 12v4m0 25v2M1169 1014v1m0 15v2m0 4v2m0 9v1m0 1v1m0 4v2m0 1v4m0 4v2m0 15v4M1170 1037v1m0 10v1m0 3v1m0 1v1m0 4v2m0 6v4m0 5v1M1171 989v2m0 21v2m0 1v1m0 8v2m0 1v1m0 2v1m0 1v2m0 9v1m0 3v1m0 6v1m0 6v1M1172 986v1m0 6v1m0 2v1m0 8v2m0 4v1m0 3v2m0 1v2m0 2v1m0 3v1m0 2v1m0 6v1m0 5v1m0 9v1m0 1v1m0 1v2m0 11v2M1173 972v1m0 10v1m0 2v1m0 5v3m0 3v1m0 3v3m0 3v1m0 9v1m0 3v1m0 2v1m0 2v1m0 3v2m0 3v1m0 3v1m0 2v1m0 7v3m0 6v1m0 3v2M1174 1015v1m0 53v2m0 5v3m0 3v4m0 5v4m0 4v8M1175 997v1m0 12v2m0 13v1m0 4v3m0 2v1m0 2v4m0 4v1m0 5v1m0 5v1m0 5v3m0 4v2m0 6v2M1176 1034v1m0 7v2m0 1v1m0 4v2m0 4v1m0 4v1m0 3v2m0 2v2m0 5v3M1177 1058v3m0 1v2m0 3v2m0 5v2m0 3v7M1178 1021v1m0 3v1m0 8v3m0 1v1m0 3v2m0 3v1m0 1v1m0 2v1m0 3v1m0 5v3M1179 1026v1m0 18v1m0 5v2m0 4v1m0 6v1m0 6v2m0 6v6m0 18v4M1180 973v3m0 5v1m0 1v1m0 4v1m0 1v2m0 2v3m0 4v1m0 1v2m0 4v1m0 2v3m0 5v2m0 4v1m0 3v1m0 3v1m0 4v2m0 6v1m0 2v1m0 5v1M1181 979v1m0 4v2m0 1v3m0 5v1m0 2v2m0 4v1m0 2v2m0 1v1m0 4v1m0 1v2m0 2v1m0 9v1m0 4v1m0 4v1m0 1v1m0 3v1m0 7v1m0 13v2M1182 1015v1m0 51v2m0 13v4M1183 973v1m0 1v2m0 7v1m0 2v1m0 4v2m0 2v1m0 2v1m0 1v1m0 7v1m0 1v3m0 1v2m0 14v1m0 17v2M1184 1082v4M1185 1015v1m0 49v2m0 4v2m0 9v1m0 3v5m0 6v1M1186 1048v1m0 7v2m0 13v2m0 3v3M1187 1086v3M1188 970v1m0 5v1m0 5v2m0 2v1m0 13v2m0 1v1m0 1v1m0 1v1m0 1v1m0 2v2m0 3v1m0 4v1m0 3v1m0 4v1m0 1v1m0 1v1m0 4v2m0 4v1m0 1v1m0 2v1M1189 1015v1m0 7v1m0 1v1m0 8v1m0 6v1m0 1v1m0 1v1m0 2v1m0 2v1m0 2v1m0 2v4m0 15v3M1190 1040v1m0 9v1m0 3v1m0 2v1m0 4v2m0 5v2m0 2v3m0 15v2M1191 1022v2m0 9v1m0 6v1m0 1v2m0 2v1m0 4v1m0 3v2m0 7v1m0 8v3m0 3v3m0 9v1M1192 1015v1m0 35v1m0 5v2m0 1v1m0 17v1M1193 1101v6m0 5v10M1194 978v2m0 10v1m0 1v1m0 4v1m0 2v2m0 2v1m0 1v2m0 1v2m0 1v2m0 3v1m0 4v1m0 16v1m0 2v1m0 1v1m0 3v1m0 5v1m0 21v3M1195 1038v1m0 6v1m0 6v3m0 2v4m0 10v2m0 9v1M1196 982v1m0 5v1m0 8v1m0 14v2m0 2v1m0 1v2m0 1v3m0 3v1m0 5v2m0 2v1m0 1v1m0 2v3m0 2v2m0 3v2m0 1v1m0 15v1m0 1v3M1197 1059v3m0 9v2m0 3v6M1198 973v1m0 1v1m0 13v1m0 3v1m0 8v1m0 4v1m0 3v1m0 8v1m0 1v1m0 1v1m0 3v4m0 3v2m0 4v1m0 4v1m0 3v1m0 2v1M1199 1025v1m0 29v1m0 1v1m0 4v3m0 2v4m0 5v3m0 7v5m0 13v3M1200 1042v1m0 9v1m0 1v1m0 1v1m0 1v1m0 4v1m0 1v2m0 2v4m0 3v3m0 7v9M1201 1015v1m0 18v1m0 13v1m0 13v2m0 1v2m0 18v1M1202 976v1m0 10v1m0 16v1m0 1v1m0 4v2m0 4v2m0 2v1m0 7v1m0 1v1m0 4v2m0 2v1m0 2v1m0 2v1m0 2v1m0 1v3m0 2v1m0 1v6m0 1v2M1203 970v1m0 6v1m0 2v1m0 2v2m0 4v1m0 1v1m0 4v2m0 12v2m0 4v1m0 3v1m0 9v1m0 2v2m0 1v1m0 3v1m0 3v2m0 1v1m0 5v1M1204 1054v1m0 3v1m0 12v2m0 9v4m0 12v9M1205 1089v9m0 9v6M1206 1052v3m0 10v2m0 6v1m0 5v7m0 12v8M1207 1084v2m0 5v5M1208 1109v8M1209 1081v1m0 9v8M1210 1067v2m0 2v5M1211 1025v1m0 13v1m0 5v1m0 4v1m0 2v2m0 2v4m0 3v1m0 6v8m0 7v7m0 5v3M1212 1046v1m0 4v1m0 4v1m0 1v1m0 9v1m0 10v4M1213 1027v1m0 8v1m0 9v1m0 8v1m0 8v1m0 5v3M1214 1116v6M1215 1112v9M1218 1047v3m0 6v1m0 2v2m0 3v1m0 7v4m0 1v2m0 7v9M1219 1098v4m0 5v7M1221 1034v1m0 13v1m0 7v1m0 2v8m0 2v7m0 31v7M1222 1067v2m0 1v1m0 2v3m0 6v4m0 5v9M1223 1098v13M1224 1055v1m0 15v2m0 2v4m0 7v1m0 4v5m0 2v4M1225 1079v3m0 4v5m0 11v5m0 4v11M1226 1097v1M1227 1095v3m0 19v5M1228 1086v5M1229 1046v1m0 14v1m0 21v14m0 7v3M1230 1045v1m0 6v1m0 1v1m0 9v1m0 6v2m0 13v3m0 16v2M1231 1057v1m0 24v4m0 21v13M1232 1072v1m0 18v7M1233 1057v1m0 3v1m0 1v1m0 7v2m0 9v14M1234 1033v1m0 4v1m0 8v1m0 2v1m0 2v2m0 2v1m0 8v1m0 12v1m0 2v4M1235 1079v3m0 16v9M1236 1112v10M1237 1107v8M1238 1062v2m0 22v5m0 17v13M1239 1118v4M1240 1082v4m0 14v7M1241 1107v8M1242 1028v1m0 5v1m0 10v1m0 11v1m0 9v2m0 2v2m0 34v1M1243 1067v2m0 4v9m0 1v3m0 3v2m0 7v7M1244 1093v5M1245 1077v2m0 4v3m0 19v4M1246 1051v1m0 9v1m0 3v2m0 6v3m0 3v3m0 5v4m0 16v2M1248 1037v1m0 5v1m0 1v1m0 4v1m0 7v1m0 6v2m0 6v3M1249 1056v1m0 4v4m0 2v2m0 2v2m0 6v3m0 17v8M1250 1018v2m0 4v1m0 3v1m0 4v1m0 2v1m0 1v1m0 5v1m0 4v3m0 9v3m0 1v2m0 8v4M1251 1046v1m0 8v1m0 17v4m0 9v5m0 2v14M1252 1002v1m0 20v1m0 2v1m0 6v1m0 3v1m0 1v1m0 1v1m0 19v1m0 2v5m0 7v3m0 12v7M1253 1095v5M1254 1062v2m0 1v2m0 4v2m0 13v5M1255 1091v6M1256 997v1m0 8v1m0 7v1m0 11v2m0 13v1m0 10v2m0 2v1m0 4v1m0 5v1m0 8v3M1257 1098v9M1258 1091v11m0 5v3M1259 1035v1m0 26v2m0 12v3m0 7v6M1260 1012v1m0 13v2m0 4v1m0 5v2m0 3v1m0 1v1m0 2v3m0 4v1m0 3v2m0 1v1m0 1v3m0 6v3M1261 1062v3m0 14v7m0 5v7m0 9v6M1262 1089v9M1263 997v1m0 7v1m0 10v1m0 3v1m0 9v2m0 5v1m0 9v1m0 1v1m0 3v2m0 18v1M1264 1079v7M1265 1033v1m0 30v1m0 2v1m0 1v4m0 3v3M1266 995v1m0 3v1m0 1v1m0 1v1m0 5v1m0 5v1m0 4v1m0 3v1m0 1v5m0 1v3m0 1v1m0 4v2m0 1v2m0 8v1M1267 1056v1m0 22v3m0 14v11m0 3v12M1268 1101v15M1269 1058v1m0 20v3m0 9v7M1270 1053v1m0 3v1m0 13v2m0 13v3m0 9v4M1271 1087v9m0 11v7M1272 1040v1m0 8v1m0 6v2m0 1v6m0 6v2M1273 1050v1m0 25v6M1274 1065v2m0 6v6m0 10v2M1275 1056v1m0 4v1m0 17v7m0 3v2m0 3v4M1276 1098v1M1278 1076v3M1279 1107v10M1280 1039v1m0 9v1m0 9v2m0 3v3m0 4v2m0 6v7M1282 1073v6m0 3v4m0 4v8M1283 1097v1m0 14v10M1284 1097v1M1285 1071v2m0 3v5m0 5v5m0 2v10M1286 1011v1m0 8v1m0 17v1m0 1v1m0 4v1m0 1v1m0 1v1m0 4v1m0 1v1m0 1v1m0 3v2m0 1v2M1287 1091v2m0 5v5m0 7v9M1288 981v1m0 16v1m0 3v1m0 8v2m0 9v2m0 1v2m0 6v1m0 3v1m0 2v1m0 3v2m0 1v1m0 1v3m0 2v4m0 6v1m0 11v3M1289 1054v3m0 12v4m0 3v3m0 3v4m0 5v14M1290 1062v2m0 38v5M1291 1082v2m0 2v4M1292 1029v1m0 22v1m0 11v3m0 2v1m0 2v2m0 8v3M1293 1019v1m0 1v2m0 12v1m0 6v2m0 2v1m0 2v2m0 5v2m0 1v2m0 3v1m0 2v4M1294 1052v1m0 16v1M1295 1061v1m0 32v4m0 22v2M1296 1073v3m0 6v4m0 12v15M1298 1102v5m0 5v9M1299 1117v5M1300 1107v2M1301 1082v4m0 5v7m0 1v8M1302 1116v6M1303 1069v1m0 12v4M1304 1107v6M1305 1098v2m0 19v3M1306 1094v4M1307 1098v3m0 15v6M1308 1058v1m0 3v2m0 27v9M1309 1098v5M1311 1086v5m0 4v3m0 8v1m0 1v10M1312 1098v8m0 1v9M1313 1116v6M1314 1098v9m0 6v9M1315 1118v4M1316 1104v3M1317 1073v3m0 6v9m0 16v9M1318 1098v9M1319 1049v1m0 6v1m0 31v10M1320 1121v1M1321 1117v5M1322 1087v4m0 16v3M1323 1111v10M1324 1082v9M1325 1112v8M1326 1057v1m0 6v3m0 12v3m0 5v4m0 7v7M1327 1067v2M1328 1067v2m0 15v10m0 5v9M1329 1105v2M1331 1107v5M1332 1070v1m0 11v2M1334 1079v2m0 5v5m0 16v6M1335 1094v4m0 9v1M1336 1104v3m0 1v9M1337 1067v2m0 22v3m0 4v3M1338 1098v1m0 8v5M1339 1107v10M1340 1069v2m0 20v13m0 3v7M1341 999v1m0 9v1m0 8v1m0 6v1m0 5v4m0 1v2m0 8v2m0 1v1m0 1v4m0 2v2m0 3v2M1342 1077v13m0 3v5M1343 1067v2m0 38v7M1344 1000v1m0 23v1m0 10v1m0 5v1m0 3v1m0 2v1m0 5v2m0 3v2m0 11v1M1345 1079v3m0 16v3M1346 1091v2m0 5v3M1347 977v1m0 4v1m0 10v1m0 6v1m0 3v1m0 3v1m0 2v1m0 3v1m0 2v1m0 1v2m0 7v1m0 4v1m0 2v1m0 3v1m0 1v1m0 4v2m0 3v1m0 1v1m0 2v1m0 3v3m0 8v3M1348 1048v1m0 4v1m0 1v1m0 5v1m0 2v5m0 6v1m0 2v4m0 3v6M1349 984v1m0 17v1m0 5v1m0 3v2m0 2v1m0 12v1m0 2v1m0 3v1m0 7v1m0 8v1m0 3v1m0 1v2m0 1v2M1350 1086v5m0 1v6m0 8v2M1351 1018v1m0 9v1m0 1v1m0 4v1m0 4v2m0 1v3m0 1v1m0 1v2m0 5v1m0 2v2m0 1v5m0 2v2m0 11v4M1352 1025v1m0 4v1m0 7v1m0 11v1m0 1v1m0 3v1m0 10v2m0 2v2m0 3v3M1353 981v1m0 22v1m0 1v2m0 4v2m0 8v2m0 3v1m0 2v1m0 2v1m0 2v1m0 1v1m0 8v2m0 1v1m0 4v1m0 2v1m0 2v1m0 17v3M1354 1083v3m0 1v4m0 5v2m0 7v3M1355 1098v9m0 2v9M1356 1021v1m0 28v1m0 7v1m0 3v5m0 9v3m0 2v5m0 5v7M1357 1073v5m0 1v1M1358 1106v9M1359 1053v1m0 10v1m0 2v2m0 4v3m0 6v4m0 3v7m0 2v5M1360 1084v7m0 7v4m0 14v6M1361 1055v1m0 2v1m0 4v1m0 9v6M1362 1097v1m0 9v9M1364 1098v9m0 9v6M1366 1094v5m0 8v9M1367 1033v1m0 20v2m0 1v1m0 3v1m0 2v5m0 1v3m0 18v8M1368 1061v1m0 20v4m0 11v1M1369 1077v2m0 12v1m0 15v2M1370 1058v1m0 5v1m0 8v6M1371 1094v4M1372 1042v2m0 12v1m0 1v1m0 10v2m0 8v7M1373 1091v6m0 10v10M1374 1047v1m0 5v1m0 10v1m0 7v7m0 2v4M1375 1034v1m0 32v2m0 7v6m0 9v4M1376 1034v1m0 5v1m0 5v1m0 5v1m0 2v2m0 7v1m0 2v2m0 8v9M1377 1055v2m0 4v1m0 2v1m0 8v18M1378 1047v1m0 2v1m0 1v2m0 7v1m0 3v4m0 2v5m0 3v1m0 2v2M1379 1097v1m0 11v9M1380 993v1m0 49v1m0 5v1m0 6v1m0 1v1m0 6v2m0 4v2m0 1v8m0 4v5M1381 1086v5m0 8v8m0 3v11M1382 1098v7m0 7v8M1383 1077v2m0 3v2m0 19v4M1384 1025v1M1385 1046v1m0 3v1m0 8v2m0 8v4m0 9v4m0 21v1M1386 1025v1m0 60v4m0 31v1M1387 1046v1m0 7v1m0 10v2m0 15v1M1388 1087v4m0 16v1M1389 1039v1m0 60v15M1390 1086v5m0 16v3M1391 1109v8M1392 1025v1m0 13v1m0 7v2m0 15v1m0 6v2m0 3v9m0 1v12M1393 993v1m0 116v8M1394 1116v6M1395 1091v5m0 4v7M1396 1054v1m0 3v3m0 3v1m0 11v3m0 28v2M1397 1045v1m0 1v1m0 7v3m0 13v2m0 3v3m0 12v7M1398 1052v1m0 4v1m0 13v2m0 5v1m0 3v4m0 12v6M1399 1025v1m0 75v9M1400 1060v1m0 18v1m0 3v3m0 12v8m0 1v9M1401 1082v9M1402 1098v3m0 6v2M1403 1082v4m0 4v1M1404 993v1m0 57v1m0 9v1m0 2v7m0 5v6m0 16v5M1405 1025v1m0 65v3M1406 1067v2m0 15v2m0 1v4m0 7v9M1407 1086v15m0 10v11M1408 993v1m0 31v1M1410 993v1m0 31v1m0 13v1m0 25v2m0 2v2m0 5v1m0 4v1m0 9v7M1411 1113v9M1412 993v1m0 113v9M1414 1076v3m0 7v5m0 7v9m0 1v12M1416 993v1m0 31v1m0 13v1m0 48v3M1417 1025v1m0 77v4m0 4v11M1418 1084v7M1419 993v1m0 110v5M1420 993v1m0 88v2M1421 1039v1M1422 993v1m0 31v1m0 70v2M1424 1025v1m0 28v1m0 17v1m0 9v3m0 17v6M1425 1107v6M1426 1118v4M1427 1039v1m0 40v2m0 12v4M1428 993v1m0 45v1m0 21v1m0 11v3m0 3v3M1429 993v1m0 35v1m0 3v2m0 3v1m0 3v1m0 5v4m0 1v1m0 5v6m0 1v1m0 2v2m0 5v3M1430 1098v5m0 7v10M1431 1025v1M1432 1018v1m0 6v1m0 14v1m0 2v3m0 4v1m0 2v1m0 1v1m0 2v1m0 9v1m0 2v2M1433 1018v1m0 6v1m0 13v1m0 5v2m0 2v1m0 7v1m0 3v1m0 9v2m0 3v3M1434 1025v1m0 32v1m0 17v3m0 3v12M1435 983v1m0 28v1m0 5v1m0 29v1m0 2v1m0 3v1m0 2v3m0 2v2m0 11v6m0 4v5M1436 1025v1m0 81v5M1437 1102v5M1438 983v1m0 11v1m0 28v1m0 11v1m0 4v2m0 3v1m0 5v1m0 3v5m0 1v2m0 7v1m0 1v3m0 10v5M1439 1025v1M1440 1039v1m0 14v1m0 1v1m0 12v2m0 15v4M1441 1067v6m0 14v4M1442 1024v1m0 7v1m0 11v3m0 3v1m0 5v2m0 3v1m0 2v1m0 4v2m0 2v3M1443 1051v1m0 13v6m0 10v1m0 25v9M1444 1076v3m0 7v8m0 13v8M1445 1048v1m0 1v2m0 4v1m0 8v2m0 6v5M1446 1022v1m0 6v1m0 3v1m0 10v1m0 3v2m0 6v1m0 1v1m0 6v2m0 6v3m0 6v2M1447 1001v1m0 23v1m0 6v2m0 7v1m0 1v1m0 4v1m0 3v2m0 1v2m0 4v1m0 11v1m0 8v4M1448 1025v1m0 72v3m0 16v5M1449 983v1m0 41v1m0 17v1m0 6v1m0 2v1m0 5v2m0 10v2m0 3v6m0 4v5M1450 1042v1m0 8v1m0 2v1m0 3v1m0 10v2m0 5v6M1451 983v1m0 80v1m0 4v2m0 11v9M1452 1022v1m0 1v1m0 5v1m0 7v1m0 16v1m0 5v3m0 1v2m0 6v1m0 16v1M1453 983v1m0 13v1m0 20v1m0 10v1m0 4v2m0 2v1m0 2v1m0 9v1m0 5v1m0 1v3m0 7v2m0 2v3m0 6v4M1454 1015v1m0 6v1m0 6v1m0 1v2m0 2v2m0 4v2m0 9v1m0 5v1m0 6v1m0 1v2m0 2v2m0 6v3M1455 993v1m0 53v1m0 5v2m0 7v2m0 1v2m0 35v5M1456 983v1m0 9v1m0 77v2m0 2v1m0 22v9M1457 996v2m0 5v1m0 3v1m0 2v1m0 6v1m0 5v1m0 2v1m0 5v2m0 15v4m0 2v1m0 2v4m0 14v3M1458 993v1m0 15v1m0 21v1m0 15v1m0 2v1m0 7v1m0 2v1m0 14v3M1459 1025v1m0 47v3m0 3v2m0 5v5m0 1v6M1460 1025v1m0 6v1m0 16v1m0 3v1m0 1v1m0 1v1m0 3v1m0 3v2m0 2v2m0 2v6M1461 1025v1m0 61v4m0 16v5M1462 983v1m0 60v1m0 9v2m0 5v1m0 9v2m0 13v3M1463 1098v7m0 13v4M1464 1093v5m0 9v4M1465 1118v4M1466 983v1m0 41v1m0 13v1m0 36v10m0 12v9M1467 1013v1m0 14v1m0 13v1m0 4v2m0 3v1m0 2v1m0 1v5m0 9v2m0 13v1m0 11v9M1468 993v1m0 104v4m0 17v3M1469 1025v1m0 21v1m0 25v2m0 1v5m0 1v1m0 3v5M1470 1039v1m0 13v2m0 1v1m0 1v1m0 2v1m0 4v1m0 16v8m0 7v9M1471 983v1m0 55v1m0 77v5M1472 1025v1m0 13v1m0 10v1m0 3v1m0 2v1m0 1v3m0 2v1m0 3v1m0 7v6m0 9v9M1473 983v1m0 92v3m0 1v2M1474 1046v1m0 17v1m0 2v2m0 2v2m0 3v3M1475 1117v5M1476 1048v1m0 10v2m0 1v2m0 3v2m0 7v5M1477 1025v1m0 31v1m0 4v2m0 1v2m0 9v6m0 10v6M1478 1039v1m0 67v1M1479 1093v5m0 17v7M1480 1025v1m0 13v1M1481 1048v1m0 1v1m0 3v1m0 6v1m0 7v2m0 2v3m0 15v16M1482 1046v1m0 22v1m0 3v3M1483 1039v1m0 55v3m0 9v4M1484 1104v3M1485 1045v1m0 6v1m0 4v1m0 3v1m0 3v4m0 2v5m0 6v4M1486 1086v3M1487 1079v2m0 1v6m0 4v6M1488 1039v1m0 67v8M1489 1017v1m0 16v1m0 1v1m0 9v2m0 14v2m0 1v2m0 4v2m0 6v3m0 8v1M1490 1040v1m0 24v2m0 2v2m0 10v1m0 16v9M1491 1040v1m0 12v1m0 2v1m0 5v2m0 7v2m0 6v3m0 3v1M1492 1103v4m0 11v4"/>
<path stroke="#001fff" d="M734 1079v3M735 1057v1m0 33v1M736 1047v1m0 13v1M737 1095v3m0 5v6M739 1086v5m0 16v3M740 1097v1m0 9v5M742 1057v1m0 6v1m0 17v4m0 2v10M743 1025v1m0 53v3M744 1097v1M745 1104v4M746 1117v5M747 1046v1m0 20v4m0 8v3m0 9v6M748 1107v7M750 1113v8M751 998v1m0 83v4m0 5v7M752 1098v8M753 1107v1M754 1062v2m0 1v2m0 2v2m0 2v3M755 1071v2m0 13v5M757 1064v1M758 1034v1m0 32v2m0 2v2m0 3v3M759 1048v1m0 8v1m0 18v3m0 19v9M760 1098v7m0 6v7M761 998v1m0 65v1m0 33v7m0 2v2M762 1061v1m0 7v2m0 27v3M763 1101v10M764 1052v1m0 18v1m0 4v3m0 3v4M765 992v1m0 22v1m0 17v2m0 3v2m0 2v1m0 5v2m0 6v1m0 4v3m0 3v2m0 10v6M767 1098v2m0 14v7M768 1047v1m0 21v1m0 28v4M769 998v1m0 11v1m0 5v1m0 5v1m0 14v1m0 5v2m0 5v1m0 3v3m0 1v1m0 4v1m0 1v2M770 998v1m0 21v1m0 25v1m0 1v1m0 8v1m0 24v5M772 1118v4M773 1086v2m0 19v2M774 1086v4m0 29v3M775 1082v4m0 3v2m0 7v5M776 1096v2m0 4v5m0 11v4M777 998v1m0 80v3m0 4v5m0 4v12m0 2v9M778 998v1m0 48v1m0 1v1m0 1v1m0 3v1m0 6v2m0 15v6m0 6v7m0 1v15M779 998v1m0 97v11M780 1086v5m0 16v7M781 1073v3m0 10v5m0 6v1m0 8v1M782 1098v6m0 3v2M783 998v1m0 83v4m0 25v9M784 1106v1m0 1v7M785 1051v1m0 34v4m0 5v3M786 1086v5m0 12v4M787 1092v6m0 13v8M788 1100v10M789 1117v5M790 1107v8M791 1096v2m0 19v5M792 1065v2M793 1116v6M794 1044v1m0 32v2m0 8v4m0 4v7m0 5v3M796 1041v2m0 2v1m0 1v1m0 5v2m0 11v1m0 2v2m0 20v2M797 1022v1m0 19v1m0 4v1m0 1v2m0 1v1m0 3v1m0 2v2m0 4v2m0 4v2m0 2v1m0 6v4m0 25v11M798 998v1m0 16v1m0 1v1m0 2v1m0 6v1m0 5v1m0 14v1m0 9v1m0 2v1m0 5v2m0 3v1m0 13v5M799 998v1m0 34v1m0 27v1m0 5v2m0 10v3M800 1006v1m0 3v1m0 17v1m0 8v1m0 7v1m0 3v1m0 9v3m0 3v2m0 4v2m0 5v1m0 3v2M801 1100v7m0 5v9M802 1086v1m0 20v1M803 998v1m0 24v1m0 29v1m0 7v1m0 5v2m0 7v3m0 3v4M804 1050v1m0 22v3m0 6v16m0 8v8M805 1067v4m0 21v6M806 1058v1m0 2v1m0 21v3m0 5v2m0 5v1m0 16v7M807 1052v1m0 5v1m0 6v2m0 4v2M808 1086v4M809 1033v1m0 1v1m0 4v1m0 4v1m0 7v1m0 3v1m0 3v1m0 2v1m0 6v1M810 1065v2m0 19v4M811 1107v1M812 1034v1m0 3v1m0 7v1m0 10v2m0 6v2m0 6v6M813 1062v2m0 18v4m0 9v3M814 1098v2m0 7v5M815 1040v1m0 79v2M816 1090v1M817 1079v3m0 9v1M818 1100v6M819 998v1m0 63v2m0 12v3m0 36v7M820 1097v1M821 1091v6m0 10v4M823 1090v1m0 1v6m0 9v6M824 1079v3m0 4v5m0 4v3m0 10v10M826 1040v1m0 17v1m0 14v3m0 42v4M827 1115v7M828 1091v6m0 7v3m0 4v8M830 1052v1m0 45v9M831 1059v2m0 1v2m0 7v2m0 25v1m0 18v5M833 1057v1m0 9v2m0 14v3m0 5v7M834 1040v1m0 11v1m0 23v6m0 4v5m0 7v7M835 1040v1m0 48v2m0 12v4m0 11v4M836 1076v10m0 12v8M837 1073v3m0 3v3m0 5v4m0 3v4m0 9v2M838 1062v2m0 4v1m0 1v1m0 20v7M839 1065v6m0 17v3M841 1040v1m0 39v2m0 4v3m0 2v3m0 4v1m0 8v6M842 1107v3M843 1071v2m0 34v2M844 1079v3m0 25v8M845 1057v1m0 21v3m0 5v9m0 2v14M846 1107v4M847 1070v1m0 17v3M848 1082v1m0 3v12M849 1061v1m0 3v2m0 10v2m0 3v9M850 1075v1m0 15v7m0 12v11M851 1040v1m0 14v1m0 1v1m0 1v2m0 1v2m0 15v3M852 1091v1m0 6v5m0 4v4M853 1058v1m0 3v2m0 12v1m0 4v1m0 4v3m0 9v9M854 1109v8M855 1076v3M856 1045v1m0 7v1m0 11v2m0 12v1M857 1060v1m0 6v4m0 25v9M858 1040v1m0 41v4m0 20v7M860 1053v2m0 10v2m0 4v2m0 13v4m0 1v7M861 1059v2m0 41v5M862 1058v1m0 3v2m0 9v3M863 1069v2M864 1067v2m0 7v3m0 3v9m0 7v16M865 1061v1M866 1010v1m0 16v1m0 15v1m0 7v1m0 6v1m0 6v2m0 4v8m0 19v8M867 1100v7m0 5v8M868 1081v1m0 25v7M869 1037v1m0 13v1m0 12v3m0 2v2m0 15v1M870 1032v1m0 13v1m0 4v1m0 6v3m0 10v2m0 8v5M871 1043v1m0 9v1m0 7v1m0 2v1M872 1059v2m0 1v2m0 7v2M873 1063v1m0 1v2M881 1042v1m0 9v1m0 16v2m0 8v3m0 4v5M882 1059v2m0 3v1m0 9v2m0 15v7M883 1087v4m0 6v1m0 6v3M884 1043v1m0 5v1m0 14v1m0 14v3M885 1119v3M886 1048v1m0 24v3m0 6v4m0 10v2M887 1106v9M888 1107v1M889 1112v7M890 1097v9M891 1076v3m0 3v4M892 1061v1m0 17v1m0 18v8M894 1091v6m0 18v7M1014 1107v8M1015 1112v7M1016 1106v1m0 4v6M1017 1103v4m0 5v9M1018 1091v4M1019 1082v4m0 21v7M1021 1118v4M1022 1038v1m0 3v1m0 10v1m0 8v2m0 1v2m0 15v4M1024 1098v7M1025 1040v1m0 18v3m0 2v1m0 14v3M1026 1027v1m0 7v1m0 46v9m0 7v9m0 7v8M1027 1058v1m0 10v2m0 8v3m0 6v3m0 7v4M1028 1086v12M1029 1079v3m0 3v3m0 10v1M1030 1062v3m0 9v2m0 11v11M1032 1107v3M1033 1097v1m0 14v8M1034 1075v1m0 31v4M1035 1086v3m0 13v5m0 6v9M1036 1082v4M1037 1062v2M1039 1107v5M1040 1069v2m0 15v5M1041 1071v2m0 3v3m0 20v8m0 2v10M1042 1038v1m0 10v1m0 3v1m0 17v5m0 8v2M1043 1098v4m0 9v8M1044 1107v5M1045 1043v1m0 4v3m0 1v1m0 6v2m0 1v2m0 5v2m0 8v3m0 9v7m0 21v3M1046 1057v1m0 7v2m0 8v1m0 2v1m0 4v3m0 1v4m0 3v4M1047 1116v6M1050 1108v7M1051 1086v5M1052 1107v5M1053 1121v1M1055 1093v8M1056 1119v3M1057 1076v3m0 13v6M1058 1083v7m0 8v6M1059 1096v2m0 9v3M1060 1116v6M1061 1079v3m0 17v8m0 9v6M1062 1038v1m0 5v1m0 10v1m0 1v2m0 32v6M1063 1115v7M1064 1078v1m0 7v5m0 7v3M1065 1054v1m0 5v2m0 2v1m0 4v4m0 3v3m0 3v4m0 5v7M1066 1094v4M1067 1055v1m0 15v2m0 9v4M1068 1088v3m0 3v11M1069 1091v1m0 14v1M1072 1098v5m0 6v9M1074 1069v2m0 8v3m0 4v3m0 8v1m0 5v4M1075 1055v1m0 5v1m0 5v2m0 22v5M1076 998v1m0 20v1m0 3v1m0 16v2m0 7v1m0 4v1m0 9v1m0 14v3m0 9v3M1077 1038v1m0 22v1m0 5v4m0 2v3m0 4v2m0 9v7M1078 1058v1m0 6v1m0 3v2m0 11v3m0 1v4m0 1v4M1080 1098v2M1081 1116v6M1083 1078v1m0 28v7M1085 1098v5m0 6v8M1086 1102v5m0 4v9M1087 1098v2M1090 1119v3M1092 1089v2m0 29v2M1093 1105v7M1095 1097v1m0 9v4M1096 1107v5M1098 1107v2M1099 1104v3M1100 1112v7M1101 1118v4M1102 1098v9m0 10v5M1104 1098v7M1105 1107v3M1106 1107v5M1107 1114v7M1109 1111v9M1110 1086v5m0 12v4m0 7v8M1111 1096v2m0 6v5M1112 1099v13M1114 1086v1m0 9v2m0 14v9M1117 1076v3m0 38v5M1118 1068v1m0 36v3M1119 1107v7M1120 1116v6M1123 1119v3M1125 1107v5M1127 1075v1m0 10v3m0 10v8M1128 1016v1m0 8v2m0 6v1m0 1v1m0 4v1m0 4v1m0 3v1m0 2v2m0 2v2m0 18v1M1129 995v1m0 15v2m0 4v1m0 1v1m0 1v1m0 1v1m0 12v1m0 8v1m0 3v2m0 20v6m0 2v3M1130 1013v1m0 8v1m0 5v1m0 1v1m0 1v2m0 1v2m0 2v1m0 4v1m0 5v1m0 3v1m0 3v3m0 15v3M1131 1088v3m0 10v13M1132 970v1m0 12v1m0 20v1m0 12v1m0 1v2m0 3v2m0 8v1m0 4v1m0 2v1m0 1v1m0 2v2m0 1v1m0 5v1m0 2v2M1133 1054v1m0 2v1m0 24v2m0 14v3M1134 1098v6m0 14v4M1135 1021v1m0 2v1m0 7v1m0 12v1m0 16v2m0 3v4m0 5v3m0 12v7M1136 1075v1M1137 997v1m0 3v1m0 5v2m0 6v2m0 9v1m0 4v1m0 5v3m0 1v5m0 3v1m0 1v1m0 3v1m0 3v2m0 1v2m0 27v2M1138 989v1m0 35v1m0 10v1m0 1v1m0 8v1m0 6v1m0 2v2m0 10v2m0 15v4M1139 1001v1m0 8v1m0 1v1m0 3v1m0 2v1m0 20v1m0 2v3m0 4v1m0 6v2m0 3v2M1140 1064v1m0 17v4m0 5v3M1141 1069v2m0 28v8M1142 1061v1m0 7v2m0 11v4m0 4v1m0 4v3m0 3v6M1143 1022v1m0 4v1m0 11v1m0 8v1m0 10v2m0 4v2m0 2v2M1144 1084v4m0 10v7M1145 1011v1m0 7v1m0 13v1m0 21v1m0 2v3m0 8v2M1146 972v1m0 35v2m0 2v1m0 8v2m0 3v1m0 6v2m0 8v2m0 8v1m0 4v1M1147 1067v2m0 7v3m0 7v5M1148 1003v1m0 2v1m0 8v1m0 1v1m0 3v1m0 6v1m0 2v1m0 3v2m0 1v3m0 4v1m0 4v1m0 4v1M1149 1027v2m0 1v1m0 6v3m0 1v1m0 2v1m0 2v1m0 4v2m0 1v4m0 3v3m0 17v4M1150 1086v9M1151 992v1m0 40v2m0 8v1m0 6v1m0 3v1m0 10v2m0 12v7M1152 1022v2m0 11v1m0 1v1m0 9v4m0 5v1m0 4v3m0 3v2m0 2v2m0 3v3m0 3v9M1153 1062v2m0 1v4m0 10v3m0 5v4M1154 1082v9M1156 1013v1m0 2v1m0 1v1m0 10v1m0 1v1m0 2v1m0 6v1m0 6v1m0 3v1M1157 1036v2m0 7v1m0 4v1m0 11v2m0 22v5M1158 992v1m0 19v1m0 2v1m0 11v2m0 4v1m0 5v1m0 1v3m0 2v2m0 6v1m0 2v1m0 2v1m0 12v3M1159 970v1m0 40v1m0 10v2m0 2v1m0 4v1m0 1v3m0 1v1m0 5v2m0 1v1m0 1v2m0 1v1m0 1v3m0 17v6M1160 1015v1m0 63v2m0 5v5M1161 1091v4m0 3v5M1162 1019v1m0 1v1m0 16v2m0 4v1m0 1v1m0 2v1m0 9v1m0 16v6M1163 1041v1m0 1v3m0 2v2m0 4v1m0 10v2m0 9v3m0 3v1m0 15v9M1164 1091v6M1165 1025v1m0 17v1m0 7v1m0 7v2m0 1v2m0 5v2m0 5v6M1166 1028v1m0 3v1m0 5v2m0 11v1m0 3v1m0 1v1m0 7v2m0 9v6M1167 1065v2m0 4v2m0 18v4m0 3v6m0 3v6M1168 1046v1m0 11v3m0 3v1m0 14v3m0 4v5m0 9v7M1169 1004v1m0 43v1m0 1v1m0 1v2m0 7v1m0 7v2m0 20v3M1170 1015v1m0 57v3m0 1v11m0 10v3M1171 1018v1m0 2v1m0 4v1m0 2v1m0 4v1m0 1v2m0 1v1m0 4v1m0 1v1m0 6v1m0 2v2m0 1v2m0 4v2m0 24v7M1172 1031v1m0 8v1m0 4v1m0 1v2m0 1v2m0 6v1m0 2v3m0 1v2m0 9v3M1173 999v1m0 14v1m0 11v1m0 2v1m0 5v2m0 1v2m0 3v1m0 2v1m0 8v3m0 4v2m0 5v2m0 2v3M1174 1095v3M1175 1014v3m0 6v1m0 3v1m0 16v1m0 8v1m0 3v1m0 1v2m0 1v2m0 9v3m0 5v1m0 9v3M1176 1023v1m0 30v1m0 2v1m0 13v2m0 13v6M1177 1056v1m0 4v1m0 9v2m0 3v3m0 12v9M1178 1053v1m0 7v1m0 3v1m0 5v2m0 9v4m0 5v8M1179 1053v1m0 13v2m0 7v3m0 6v3M1180 977v1m0 7v1m0 7v1m0 11v1m0 4v2m0 4v1m0 6v1m0 1v1m0 1v2m0 8v1m0 3v1m0 4v1m0 2v1m0 5v1m0 9v2m0 12v3M1181 976v1m0 6v1m0 2v1m0 6v1m0 2v1m0 17v1m0 1v1m0 5v3m0 10v1m0 4v1m0 9v1m0 1v1M1183 981v1m0 6v1m0 1v1m0 9v1m0 4v2m0 3v1m0 8v1m0 2v1m0 5v3m0 42v3M1184 1086v2m0 10v2m0 7v4M1185 1083v3m0 21v4M1186 1015v1m0 34v1m0 16v2m0 10v3m0 4v2m0 10v6M1187 1089v2m0 7v1M1188 975v1m0 2v1m0 16v1m0 20v1m0 1v2m0 3v2m0 4v2m0 1v1m0 3v1m0 7v1m0 2v1m0 5v2m0 2v1m0 3v3m0 12v3M1189 1044v1m0 24v5m0 8v1M1190 1067v2m0 24v11m0 3v3M1191 1039v1m0 8v1m0 3v1m0 1v1m0 4v2m0 10v2m0 19v6M1192 1061v1m0 36v4m0 5v6M1194 982v1m0 6v1m0 9v1m0 18v1m0 4v1m0 2v2m0 1v1m0 3v2m0 1v1m0 4v1m0 9v2m0 3v1m0 7v1m0 6v2M1195 1062v2m0 9v3m0 3v3m0 1v3M1196 1025v1m0 2v2m0 2v1m0 2v1m0 2v1m0 7v1m0 2v2m0 3v1m0 9v1m0 2v1m0 4v1M1197 1056v1m0 25v7m0 2v7m0 9v8M1198 1009v1m0 3v1m0 2v1m0 4v1m0 1v1m0 1v2m0 7v1m0 7v1m0 1v1m0 4v1m0 4v1m0 2v2m0 14v3M1199 1061v1m0 20v4m0 5v5M1200 1047v3m0 9v2m0 12v3m0 3v3m0 13v3M1201 1053v1m0 1v1m0 5v1m0 7v2m0 8v3m0 16v9M1202 1014v1m0 8v1m0 6v1m0 2v1m0 4v1m0 2v1m0 6v1m0 1v1m0 6v1M1203 974v1m0 25v1m0 5v1m0 12v1m0 3v1m0 3v2m0 8v1m0 14v1m0 9v2m0 9v1M1204 1062v2m0 27v3M1205 1113v9M1206 1074v5m0 27v1M1207 1096v2M1208 1117v5M1209 1099v8M1210 1082v4M1211 1062v2m0 3v2m0 10v3m0 11v5m0 3v6M1212 1050v1m0 32v3M1213 1059v3m0 3v4m0 4v3m0 6v2m0 2v5m0 16v4M1215 1121v1M1217 1107v4M1218 1082v4m0 9v11M1219 1102v5m0 7v7M1221 1079v3m0 32v8M1222 1086v5m0 9v7M1223 1111v7M1224 1061v1m0 7v2m0 11v4m0 1v4m0 5v2m0 4v5M1226 1098v8m0 1v5M1228 1076v3M1229 1052v1m0 44v1M1230 1067v2m0 13v4m0 3v3M1231 1076v3m0 19v5m0 17v2M1233 1096v2M1234 1056v1m0 5v2m0 5v4m0 7v2m0 9v3m0 4v3M1235 1091v5M1237 1115v7M1238 1079v3m0 9v16m0 14v1M1241 1115v6M1242 1069v2m0 20v5m0 2v1m0 9v11M1243 1091v7m0 7v6M1244 1107v1M1245 1109v8M1246 1082v4m0 12v4m0 7v10M1247 1076v6M1248 1051v1m0 2v1m0 6v1m0 14v1M1249 1051v1m0 30v4M1250 1041v3m0 9v1m0 1v2m0 12v4M1251 1058v1m0 18v2M1252 1020v1m0 9v1m0 5v1m0 12v1m0 4v1m0 2v1m0 1v2M1253 1100v12M1254 1058v1m0 5v1m0 4v2m0 8v3m0 16v5m0 4v4M1255 1097v1M1256 1042v1m0 2v2m0 12v2m0 1v5m0 1v1m0 17v5M1257 1079v3m0 9v1M1258 1102v5m0 3v7M1259 1092v6M1260 1042v1m0 1v1m0 8v1m0 9v1m0 3v5m0 26v4M1261 1098v7m0 8v9M1263 1002v1m0 3v1m0 20v1m0 13v1m0 1v1m0 8v1m0 2v1m0 1v1m0 11v2m0 3v2m0 6v4M1264 1073v3m0 15v1m0 6v9M1265 1059v2m0 7v1m0 17v1M1266 970v1m0 29v1m0 20v1m0 13v1m0 3v1m0 9v2m0 2v1m0 3v1m0 11v2M1268 1116v6M1269 1065v2m0 31v6M1270 1065v2m0 9v10m0 3v2m0 11v5M1271 1096v4m0 14v8M1272 1073v2m0 11v1M1273 1086v5M1274 1082v4m0 12v9M1275 1044v1M1276 1099v8M1278 1107v7M1279 1117v5M1280 1067v1m0 1v2m0 2v3M1281 1107v6M1282 1107v2M1284 1082v4m0 21v6M1285 1081v1m0 21v4M1286 1031v1m0 21v1m0 1v1m0 15v2m0 6v3m0 4v2m0 10v20M1287 1093v5m0 5v4m0 12v3M1288 986v1m0 23v1m0 3v1m0 5v1m0 17v1m0 26v2m0 4v2M1289 1057v1m0 9v2m0 4v3m0 3v1m0 25v6M1290 1065v2M1291 1084v2m0 4v8M1292 1042v1m0 24v2m0 1v1m0 3v8m0 3v1m0 12v7M1293 1011v1m0 8v1m0 20v1m0 3v1m0 1v1m0 4v2m0 19v3m0 3v3M1294 1070v3m0 13v3M1296 1113v9M1298 1121v1M1300 1109v7M1301 1107v4M1303 1070v1m0 20v7M1304 1113v7M1305 1100v7M1306 1098v8m0 1v2M1307 1101v6M1308 1086v4m0 10v7M1309 1103v11M1311 1118v4M1312 1106v1m0 9v6M1316 1082v4M1317 1098v5m0 13v6M1318 1107v2M1319 1076v3M1322 1110v8M1323 1121v1M1324 1098v8M1325 1120v2M1326 1105v6M1327 1086v5M1328 1094v4m0 10v10M1331 1112v8M1332 1084v2m0 5v7M1334 1081v1m0 31v9M1335 1108v8M1336 1117v5M1337 1094v4m0 3v15M1338 1099v8m0 5v8M1339 1117v5M1340 1104v3m0 7v8M1341 1015v1m0 19v1m0 3v3m0 1v2m0 16v1m0 3v2m0 6v3m0 10v4M1342 1090v1m0 7v7m0 2v5M1343 1114v8M1344 1051v1m0 4v1m0 16v3m0 15v6M1345 1101v11M1346 1093v5m0 3v12M1347 1009v1m0 17v1m0 14v1m0 8v1m0 2v1m0 16v2m0 13v4M1349 1025v2m0 7v2m0 1v1m0 1v1m0 1v1m0 1v1m0 1v1m0 1v3m0 4v1m0 1v1m0 1v1m0 5v4m0 1v2m0 15v5M1350 1108v8M1351 1036v1m0 14v1m0 3v1m0 23v3M1352 1045v1m0 36v2m0 2v5m0 7v8M1353 1028v1m0 2v1m0 3v1m0 3v2m0 2v4m0 7v1m0 18v3M1354 1108v7M1355 1118v4M1356 1053v1m0 3v1m0 15v3M1357 1067v4m0 7v1m0 1v2m0 9v7m0 9v3M1358 1115v7M1359 1069v2m0 8v3m0 14v2m0 5v4M1360 1102v5M1361 1079v12M1362 1116v6M1363 1107v4M1366 1099v7m0 10v6M1367 1076v3m0 20v8M1368 1098v9M1369 1082v3m0 7v15m0 2v8M1372 1064v1m0 6v2m0 13v1m0 4v2M1373 1097v1m0 19v5M1374 1085v1m0 5v5M1375 1095v7m0 5v3M1376 1036v1m0 34v5m0 15v4M1377 1053v1M1378 1062v2m0 16v2m0 2v7m0 7v7M1379 1118v4M1380 1039v1m0 14v1m0 36v7M1381 1039v1m0 33v3m0 45v1M1382 1105v2m0 13v2M1383 1025v1m0 11v1m0 1v1m0 44v2m0 5v7m0 9v4M1384 1098v7m0 2v1M1385 1049v1m0 1v1m0 3v1m0 17v3m0 15v2m0 15v11M1386 1090v1M1387 1043v1m0 20v1m0 4v2m0 2v3m0 3v3m0 1v4m0 11v9M1388 1025v1m0 82v7M1389 1115v6M1390 1091v5m0 14v8M1391 1117v5M1392 1073v2m0 10v1m0 12v9M1393 1118v4M1395 1096v2M1396 1025v1m0 36v2m0 9v1m0 8v1m0 8v14m0 4v11M1397 993v1m0 73v4m0 36v5M1398 993v1m0 31v1m0 36v2m0 3v2m0 17v2m0 16v3M1399 1110v8M1400 1067v2m0 2v2m0 7v2m0 4v5m0 15v1m0 9v6M1401 1071v2m0 34v6M1402 1101v6m0 2v7M1403 1107v3M1404 1039v1m0 63v4M1405 1039v1m0 54v4M1406 1025v1m0 47v9M1407 1025v1m0 13v1m0 61v6M1409 1091v4m0 3v3m0 6v2M1410 1059v2m0 16v2m0 3v4M1412 1116v6M1414 1120v2M1416 1098v5M1419 1039v1m0 69v8M1420 1084v2M1422 1039v1m0 67v8M1423 1039v1m0 58v9M1424 1085v1m0 22v9M1425 1113v7M1427 1107v8M1429 1025v1m0 41v2m0 4v3m0 10v5M1430 1025v1m0 77v4m0 13v2M1431 1086v5m0 7v4M1432 1036v1m0 2v1m0 46v4M1433 1067v2m0 10v2m0 1v4m0 5v7M1434 983v1m0 55v1m0 14v1m0 39v4M1435 1027v1m0 6v1m0 10v1m0 8v1m0 2v1m0 3v1m0 5v4m0 2v3m0 22v2M1436 1112v9M1437 1107v3M1438 1025v1m0 19v1m0 3v1m0 3v1m0 1v1m0 11v4m0 1v1m0 6v3M1440 1025v1m0 26v1m0 8v1m0 3v2m0 12v3m0 8v1M1441 993v1m0 97v6M1442 1025v1m0 13v1m0 9v1m0 2v1m0 1v1m0 10v2m0 15v4M1443 1039v1m0 33v3m0 6v7m0 27v6M1444 1094v7m0 14v7M1445 993v1m0 45v1m0 4v1m0 10v1m0 22v1M1446 1025v1m0 35v1m0 22v7m0 7v4M1447 1022v1m0 16v1m0 2v1m0 16v2m0 1v2m0 3v2m0 5v2m0 15v7M1448 1101v6M1449 1039v1m0 22v2M1450 1047v1m0 19v2M1451 1053v1m0 44v9M1452 983v1m0 64v1m0 8v1m0 1v2m0 6v4m0 3v2M1453 1045v1m0 4v1m0 1v3m0 7v2m0 1v2m0 12v1M1454 1033v1m0 25v2m0 5v1m0 15v4m0 12v6M1455 1071v2m0 9v4m0 5v7M1456 1082v4m0 21v2M1457 1028v1m0 8v1m0 4v1m0 24v6m0 13v5M1458 1025v1m0 16v1m0 2v1m0 5v1m0 17v7m0 22v7M1459 1081v1m0 25v5M1460 993v1m0 85v3m0 4v5M1461 1039v1m0 42v4m0 26v9M1462 1039v1m0 49v7M1463 1105v2M1464 1098v8m0 5v8M1466 1058v1M1467 1062v2m0 1v4m0 7v10m0 1v4M1468 1102v5M1469 1075v1m0 5v1m0 1v3M1470 1025v1m0 47v6M1472 1062v2m0 7v2m0 27v7M1473 1098v3M1474 1039v1m0 12v1m0 33v27M1476 1065v2m0 4v3m0 7v5m0 12v11M1477 1039v1M1478 1108v7M1479 1025v1M1481 1039v1m0 19v2m0 46v9M1482 1055v1m0 8v1m0 5v1m0 11v8m0 8v7M1483 1025v1m0 72v8m0 5v8M1485 1025v1m0 13v1m0 24v1m0 14v3m0 16v8m0 1v6M1486 1089v2m0 16v9M1487 1081v1m0 6v3m0 7v4M1488 1115v6M1489 1058v1m0 5v1m0 4v2M1490 1057v1m0 6v1m0 6v2m0 13v5M1491 1065v2m0 9v3m0 19v2"/>
<path stroke="#00bfff" d="M734 1102v4M736 1107v1M743 1111v5M754 1091v1M755 1095v3m0 17v4M756 1121v1M757 1090v1m0 7v4m0 18v2M758 1111v4M764 1086v3M765 1086v9M766 1117v3M768 1115v4M769 1091v3M770 1098v4m0 18v2M771 1118v3M774 1104v3M775 1107v3M779 1114v4M781 1117v4M792 1111v4M797 1091v1m0 6v1M798 1076v3m0 3v1m0 15v1M799 1111v5M802 1100v4M805 1117v4M808 1103v4m0 10v3M809 1062v2m0 22v1m0 27v5M812 1082v4m0 17v4M817 1119v3M820 1121v1M822 1112v3M830 1115v4M833 1112v5M834 1120v2M836 1121v1M838 1115v5M839 1079v3M842 1104v3M849 1114v5M851 1107v5M853 1116v5M857 1107v1M858 1095v3M859 1112v4M860 1079v3m0 31v5M861 1114v4M863 1103v4M866 1085v1m0 5v2M869 1110v5M870 1086v1m0 4v3m0 19v5M871 1058v1m0 59v4M872 1079v3m0 28v5M873 1114v4M882 1100v5m0 2v3M883 1118v4M886 1098v3m0 19v2M891 1107v1M893 1119v3M1022 1086v5M1025 1098v3m0 14v6M1026 1095v3M1029 1118v4M1042 1107v2M1057 1109v5M1058 1091v3M1062 1108v5M1065 1098v4m0 5v1M1076 1069v2m0 15v1m0 20v5M1080 1116v4M1127 1112v3M1128 1105v2m0 11v4M1129 1098v6m0 10v6M1130 1098v4m0 7v6M1132 996v1m0 79v3m0 26v4M1137 1050v1m0 22v2m0 4v3M1138 1050v1m0 47v2M1140 1103v4m0 13v2M1141 1111v4M1142 1107v2M1144 1120v2M1145 1092v6m0 9v5M1146 1065v2m0 15v11M1147 1112v4M1148 1058v1m0 3v2m0 55v3M1149 1107v3M1150 1107v4M1152 1107v4M1153 1104v3m0 3v4M1155 1110v3M1156 1073v3m0 6v4m0 34v2M1157 1058v1m0 43v5M1158 1055v1m0 36v6m0 19v5M1159 1058v1m0 3v2m0 5v2m0 16v4m0 16v6M1160 1108v4M1161 1118v4M1162 1043v1m0 44v3m0 4v3M1164 1115v4M1165 1086v2m0 10v3m0 6v6M1168 1107v4M1169 1067v2m0 4v3m0 33v5M1172 1089v2m0 1v8m0 13v5M1173 1047v1m0 23v2m0 12v1M1175 1076v3m0 5v2M1176 1107v2M1177 1064v1M1180 1057v1m0 28v5M1181 1102v5M1183 1053v1m0 1v1m0 1v1m0 13v2m0 3v2M1186 1112v4M1188 1065v2m0 12v3M1189 1090v1M1191 1107v5M1192 1081v1M1194 1021v1m0 40v2m0 27v7M1195 1116v5M1196 1091v7m0 17v6M1198 1052v1m0 29v2m0 10v4M1202 1076v3m0 27v1m0 12v3M1203 1026v1m0 30v1m0 46v3M1205 1101v3M1206 1111v5M1207 1106v1m0 13v2M1210 1121v1M1211 1082v4m0 21v4M1212 1117v4M1221 1098v4M1222 1116v4M1229 1119v3M1232 1109v3M1233 1098v4M1234 1112v5M1240 1114v3M1247 1114v4M1251 1113v4M1256 1091v4m0 14v5M1259 1103v8M1260 1107v1M1262 1113v4M1264 1112v5M1266 1038v1m0 63v5M1269 1108v4M1272 1097v1m0 7v2M1273 1105v2m0 12v3M1275 1106v1M1276 1108v3M1277 1120v2M1285 1114v4M1286 1076v3M1292 1117v4M1293 1113v5M1316 1119v3M1341 1083v3M1344 1086v5m0 26v5M1347 1085v1m0 12v5M1348 1110v4M1349 1091v6m0 2v6m0 2v4M1352 1109v5M1353 1069v2M1356 1118v4M1357 1086v4M1361 1098v5m0 17v2M1368 1114v4M1374 1107v3M1376 1117v4M1378 1111v5M1385 1104v3M1387 1112v5M1392 1120v2M1410 1119v3M1420 1115v4M1428 1106v1m0 3v4M1429 1106v6M1432 1104v5M1438 1107v2M1442 1067v2m0 17v4m0 13v4M1445 1102v5m0 5v4M1446 1110v5M1447 1121v1M1449 1120v2M1450 1113v4M1452 1103v4M1454 1107v5M1460 1101v4m0 11v4M1462 1113v4M1466 1112v4M1467 1119v3M1470 1112v5M1477 1109v4M1482 1091v4M1489 1117v5M1490 1078v1"/>
<path stroke="#00dfff" d="M734 1106v1M736 1108v4M743 1116v4M754 1092v5m0 1v5m0 4v4M755 1119v3M757 1102v5M758 1115v5M764 1089v2M765 1046v1m0 48v3M766 1120v2M768 1119v3M769 1046v1m0 47v4M770 1102v5M771 1121v1M775 1110v3M779 1118v3M781 1121v1M792 1115v3M796 1055v1m0 20v3M797 1092v5m0 2v5M798 1083v3m0 13v5M799 1116v5M800 1107v3M802 1104v3M805 1121v1M808 1120v2M809 1087v4m0 28v3M822 1115v4M830 1119v3M833 1098v2m0 17v4M838 1120v2M849 1119v3M851 1112v5M853 1121v1M857 1108v4M859 1116v3M860 1118v4M861 1118v4M866 1079v3m0 11v5M869 1098v4m0 13v4M870 1087v4m0 3v4m0 20v4M871 1098v5M872 1115v5M873 1118v4M882 1105v2m0 3v4M886 1101v4M891 1108v4M1022 1091v4M1025 1101v5m0 15v1M1027 1107v1M1042 1109v4M1045 1098v3M1057 1114v4M1058 1094v3M1062 1098v3m0 12v5M1065 1102v4m0 2v5M1076 1087v4m0 7v4m0 10v5M1080 1120v2M1127 1115v4M1128 1069v2M1129 1062v2m0 1v1m0 38v3m0 13v2M1130 1038v1m0 23v2m0 7v5m0 26v5m0 8v6M1132 1109v6M1133 1107v3M1137 1032v1m0 42v1M1138 1100v5M1139 1076v3M1141 1115v4M1142 1109v3M1143 1082v4M1145 1098v5m0 9v4M1146 1093v5M1147 1116v4M1149 1076v3m0 31v5M1150 1111v3M1152 1111v5M1153 1114v4M1155 1113v3M1156 1079v3M1157 1076v1M1159 1059v2m0 52v6M1160 1112v4M1162 1073v3M1163 1086v4m0 17v4M1164 1119v3M1165 1088v3m0 10v5m0 7v5M1168 1111v4M1169 1114v5M1170 1107v4M1171 1048v1m0 20v2M1172 1100v5m0 13v4M1173 1107v1M1176 1098v2m0 9v5M1181 1048v1m0 10v2M1183 1036v1m0 41v1M1186 1116v4M1188 1064v1m0 26v1M1189 1098v1M1191 1098v4m0 10v4M1195 1121v1M1196 1069v2m0 50v1M1198 1064v1m0 19v3M1203 1061v1M1204 1107v1M1205 1104v3M1206 1116v4M1211 1111v4M1212 1121v1M1213 1098v3M1221 1102v4M1222 1120v2M1232 1112v3M1233 1102v4M1234 1117v5M1240 1117v3M1247 1118v4M1251 1117v4M1256 1079v7m0 9v3m0 16v5M1259 1111v4M1260 1108v4M1262 1117v3M1264 1117v3M1269 1112v4M1276 1111v3M1285 1118v4M1288 1086v1M1292 1121v1M1293 1118v4M1332 1107v3M1341 1056v1m0 12v2m0 20v4M1347 1103v4M1348 1114v4M1349 1097v1m0 7v2m0 4v6M1352 1114v4M1353 1076v3M1357 1090v1M1361 1103v4M1368 1118v3M1374 1110v4M1376 1121v1M1378 1116v5M1387 1117v4M1406 1107v2M1420 1119v3M1428 1114v3M1429 1091v3m0 18v5M1432 1109v5M1435 1082v2M1436 1098v2M1438 1109v5M1440 1098v3M1442 1090v1m0 16v1M1445 1116v5M1446 1115v5M1447 1071v2M1450 1117v5M1454 1112v5M1458 1107v1M1460 1105v2m0 13v2M1462 1117v3M1466 1116v4M1470 1117v4M1477 1113v4M1482 1095v3"/>
<path stroke="#00ffff" d="M736 1112v3M739 1091v4M743 1120v2M754 1097v1m0 5v4m0 4v4M758 1120v2M762 1107v3M775 1113v3M779 1121v1M792 1118v3M797 1097v1m0 6v3M798 1065v2m0 37v3M799 1098v2m0 21v1M800 1110v4M807 1098v3M810 1107v2M822 1119v3M833 1100v4m0 17v1M838 1098v3M839 1107v2M851 1117v4M857 1112v4M859 1119v3M869 1102v4m0 13v3M871 1103v4M872 1120v2M882 1114v4M886 1105v2M891 1112v3M1022 1095v3M1025 1106v1M1027 1108v5M1040 1107v3M1042 1113v5M1045 1086v1m0 14v5M1057 1118v3M1058 1097v1M1062 1101v5m0 12v4M1065 1106v1m0 6v4M1066 1107v3M1076 1076v3m0 23v4m0 11v5M1077 1107v2M1127 1119v3M1128 1091v3M1129 1066v1m0 19v3M1130 1086v3m0 32v1M1132 1079v3m0 9v2m0 22v5M1133 1110v4M1137 1069v2M1138 1105v2M1139 1091v6M1141 1119v3M1142 1112v4M1145 1076v3m0 24v4m0 9v5M1146 1069v2m0 36v3M1147 1120v2M1148 1069v2M1149 1115v5M1150 1114v4M1152 1091v5m0 20v5M1153 1118v4M1155 1116v3M1156 1071v1M1157 1077v2M1158 1062v2m0 34v5M1159 1098v1m0 20v3M1160 1116v3M1162 1098v4m0 5v4M1163 1090v1m0 20v4M1165 1106v1m0 11v4M1168 1115v3M1169 1119v3M1170 1111v4M1172 1105v2M1173 1108v5M1175 1098v5M1176 1062v2m0 36v4m0 10v4M1183 1061v1m0 7v2m0 11v3m0 22v2M1186 1120v2M1188 1092v5M1189 1099v5M1191 1102v5m0 9v4M1194 1098v3M1198 1055v1m0 3v2m0 10v2m0 14v4M1199 1107v1M1202 1086v1M1203 1059v2m0 21v2M1204 1108v4M1206 1120v2M1211 1115v4M1213 1101v4M1221 1106v1M1232 1115v3M1233 1106v1M1240 1120v2M1248 1098v4m0 5v2M1251 1121v1M1256 1119v3M1259 1115v3M1260 1112v5M1262 1120v2M1263 1044v1M1264 1120v2M1266 1091v2m0 14v3M1269 1116v4M1276 1114v3M1286 1091v4M1288 1087v4M1293 1091v2M1332 1110v4M1341 1095v3M1347 1107v3M1348 1118v4M1349 1117v4M1351 1098v3M1352 1118v4M1368 1121v1M1374 1114v4M1378 1121v1M1387 1121v1M1398 1107v1M1404 1082v4m0 21v2M1406 1109v4M1428 1117v3M1429 1094v4m0 19v4M1432 1114v4M1435 1084v2M1436 1100v3M1438 1091v4m0 19v4M1440 1101v4m0 2v3M1442 1108v4M1445 1121v1M1446 1120v2M1453 1107v1M1454 1117v4M1458 1108v5M1462 1120v2M1466 1120v2M1470 1121v1M1473 1107v3M1477 1117v4"/>
<path stroke="#1fffdf" d="M736 1115v4M739 1095v3M747 1107v1M754 1115v4M757 1091v1M762 1110v4M769 1073v3M775 1116v3M792 1121v1M799 1091v3m0 6v4M800 1086v1m0 27v4M807 1101v4m0 2v1M810 1109v3M833 1104v3M838 1101v3M839 1109v4M851 1121v1M857 1116v3M866 1107v4M869 1106v1M882 1118v3M891 1115v3M1027 1113v3M1029 1091v2M1040 1110v3M1042 1118v3M1045 1087v4m0 15v1M1057 1121v1M1062 1106v1M1065 1117v4M1066 1110v3M1076 1106v1M1077 1109v4M1128 1034v1m0 59v4M1129 1089v2M1130 1089v2M1132 1064v1m0 28v5m0 22v2M1133 1114v3M1137 1086v5M1138 1073v3m0 31v1M1139 1079v3m0 15v1M1142 1116v3M1143 1086v4M1145 1121v1M1146 1110v5M1148 1091v4M1149 1120v2M1150 1118v2M1151 1107v3M1152 1096v2m0 23v1M1155 1119v2M1156 1072v1M1157 1107v2M1158 1103v4M1159 1099v5M1160 1119v3M1162 1102v5m0 4v4M1163 1115v4M1168 1118v3M1170 1115v3M1172 1079v3M1173 1113v4M1175 1103v4M1176 1104v3m0 11v4M1180 1061v1M1182 1107v2M1183 1085v1m0 12v1m0 10v5M1188 1097v1M1189 1104v3M1191 1120v2M1194 1101v5M1199 1108v4M1202 1087v4M1203 1084v2M1204 1112v3M1211 1119v3M1213 1105v2M1232 1118v3M1248 1102v4m0 3v4M1259 1118v3M1260 1117v3M1266 1093v5m0 12v5M1269 1120v2M1276 1117v3M1286 1095v3M1293 1093v5M1332 1114v3M1347 1079v3m0 28v4M1349 1121v1M1351 1101v4m0 2v5M1374 1118v4M1398 1108v4M1404 1109v3M1406 1113v3M1428 1120v2M1429 1121v1M1432 1118v4M1436 1103v3M1438 1095v3m0 20v4M1440 1105v2m0 3v4M1442 1112v4M1453 1108v4M1454 1121v1M1458 1113v3M1473 1110v3M1477 1121v1"/>
<path stroke="#3fffbf" d="M736 1119v3M747 1108v14M754 1119v3M757 1092v6M759 1107v15M762 1114v8M764 1107v15M765 1098v9M769 1086v5M775 1119v3M796 1107v15M799 1094v4m0 6v3M800 1087v4m0 27v4M807 1105v2m0 1v14M810 1112v10M813 1107v15M838 1104v3M839 1113v9M857 1119v3M866 1111v11M882 1121v1M884 1107v15M891 1118v4M1027 1116v4M1029 1093v4M1040 1113v3M1042 1121v1M1065 1121v1M1066 1113v2M1077 1113v4M1133 1117v4M1137 1057v1M1138 1108v4M1142 1119v2M1143 1090v1M1146 1050v1m0 64v4M1148 1095v3M1149 1073v3M1150 1120v2M1151 1110v3M1155 1121v1M1157 1109v4M1159 1104v3M1162 1115v4M1163 1119v3M1168 1121v1M1170 1118v3M1173 1117v4M1180 1076v2M1182 1109v2M1183 1099v5m0 10v4M1188 1098v4M1194 1106v1M1199 1112v3M1201 1107v2M1204 1115v3M1232 1121v1M1248 1106v1m0 6v4M1250 1107v4M1259 1121v1M1260 1120v2M1266 1061v1m0 20v4m0 29v4M1276 1120v2M1288 1091v2M1332 1117v2M1347 1114v4M1351 1105v2m0 5v3M1398 1112v3M1404 1112v3M1406 1116v3M1436 1106v1M1440 1114v3M1442 1116v4M1453 1086v3m0 2v2m0 19v4M1458 1116v4M1473 1113v3M1482 1107v2"/>
<path stroke="#5fff9f" d="M1027 1120v2M1029 1097v1M1040 1116v3M1066 1115v3M1077 1117v3M1133 1121v1M1138 1112v4M1142 1121v1M1143 1107v1M1146 1098v2m0 19v3M1151 1071v2m0 40v4M1157 1113v3M1162 1119v3M1170 1121v1M1173 1121v1M1177 1107v3M1179 1091v2m0 14v1M1180 1078v1M1181 1082v4M1182 1111v2M1183 1054v1m0 49v3m0 11v4M1188 1102v4M1194 1073v3M1198 1015v1M1199 1115v3M1201 1109v3M1203 1107v2M1204 1118v2M1248 1117v3M1250 1111v3M1252 1079v3M1266 1119v3M1288 1093v4M1332 1119v3M1347 1118v4M1351 1115v4M1377 1107v3M1398 1115v3M1404 1115v3M1406 1119v3M1440 1117v3M1442 1120v2M1453 1089v2m0 2v3m0 2v3m0 15v3M1457 1107v1M1458 1120v2M1473 1116v3M1482 1109v3"/>
<path stroke="#7fff7f" d="M1040 1119v3M1066 1118v2M1075 1107v2M1077 1120v2M1137 1061v1M1138 1116v4M1139 1098v3m0 6v3M1143 1108v3M1146 1100v4M1151 1117v3M1157 1116v4M1175 1107v2M1177 1110v2M1179 1093v3m0 12v3M1180 1042v1m0 39v1M1182 1113v3M1188 1106v1M1199 1118v3M1201 1112v2M1203 1109v3M1204 1120v2M1248 1120v2M1250 1114v4M1263 1098v1M1288 1097v1M1351 1119v3M1377 1110v3M1398 1118v3M1404 1118v3M1440 1120v2M1453 1096v2m0 3v3m0 15v3M1457 1108v4M1473 1119v2M1482 1112v3"/>
<path stroke="#9fff5f" d="M1066 1120v2M1075 1109v3M1137 1098v1m0 8v2M1138 1091v2m0 27v2M1139 1101v4m0 5v4M1143 1076v3m0 32v4M1146 1059v2m0 10v2m0 31v3M1151 1120v2M1157 1120v2M1175 1109v3M1177 1112v3M1179 1096v2m0 13v3M1180 1083v3m0 12v1M1182 1116v2M1188 1059v2m0 46v4M1199 1121v1M1201 1114v3M1203 1112v4M1250 1118v3M1263 1099v3M1377 1113v3M1398 1121v1M1404 1121v1M1453 1104v3M1457 1112v3M1473 1121v1M1482 1115v2"/>
<path stroke="#bfff3f" d="M1075 1112v3M1137 1099v3m0 7v3M1138 1093v3M1139 1105v2m0 7v3M1143 1115v3M1175 1112v3M1177 1115v2M1179 1114v2M1180 1099v4M1182 1118v2M1183 1091v1M1188 1111v3M1194 1107v2M1201 1117v3M1203 1116v3M1250 1121v1M1263 1102v3M1377 1116v2M1457 1115v3M1482 1117v3"/>
<path stroke="#dfff1f" d="M1075 1115v7M1132 1054v1M1137 1102v5m0 5v10M1138 1096v2M1139 1117v5M1143 1118v4M1146 1046v1M1148 1082v4M1173 1098v9M1175 1115v7M1177 1117v5M1178 1107v15M1179 1116v6M1180 1032v1m0 70v19M1181 1107v15M1182 1120v2M1183 1092v6M1188 1114v8M1194 1109v13M1198 1107v15M1201 1120v2M1203 1119v3M1263 1105v2M1377 1118v4M1435 1107v15M1452 1107v15M1457 1118v4M1482 1120v2"/>
<path stroke="#0cb4fc" stroke-width="7" d="M877 970v1"/>
<path stroke="#0cccfc" stroke-width="7" d="M877 971v15"/>
<path stroke="#24ccfc" stroke-width="7" d="M877 986v6"/>
<path stroke="#3ccce4" stroke-width="7" d="M877 992v1"/>
<path stroke="#3ce4e4" stroke-width="7" d="M877 993v2"/>
<path stroke="#3ce4cc" stroke-width="7" d="M877 995v2"/>
<path stroke="#54e4b4" stroke-width="7" d="M877 997v1"/>
<path stroke="#54fcb4" stroke-width="7" d="M877 998v2"/>
<path stroke="#54fc9c" stroke-width="7" d="M877 1000v2"/>
<path stroke="#6cfc9c" stroke-width="7" d="M877 1002v2"/>
<path stroke="#6cfc84" stroke-width="7" d="M877 1004v3"/>
<path stroke="#84fc84" stroke-width="7" d="M877 1007v2"/>
<path stroke="#84fc6c" stroke-width="7" d="M877 1009v3"/>
<path stroke="#9cfc6c" stroke-width="7" d="M877 1012v3"/>
<path stroke="#9cfc54" stroke-width="7" d="M877 1015v3"/>
<path stroke="#b4fc54" stroke-width="7" d="M877 1018v2"/>
<path stroke="#b4fc3c" stroke-width="7" d="M877 1020v4"/>
<path stroke="#ccfc3c" stroke-width="7" d="M877 1024v3"/>
<path stroke="#ccfc24" stroke-width="7" d="M877 1027v3"/>
<path stroke="#e4fc24" stroke-width="7" d="M877 1030v4"/>
<path stroke="#e4fc0c" stroke-width="7" d="M877 1034v2"/>
<path stroke="#fcfc0c" stroke-width="7" d="M877 1036v6"/>
<path stroke="#fce40c" stroke-width="7" d="M877 1042v3m0 10v2"/>
<path stroke="#fccc0c" stroke-width="7" d="M877 1045v2m0 6v2m0 2v1"/>
<path stroke="#fcb40c" stroke-width="7" d="M877 1047v3m0 1v2m0 5v1"/>
<path stroke="#fc9c0c" stroke-width="7" d="M877 1050v1m0 8v1"/>
<path stroke="#fc6c0c" stroke-width="7" d="M877 1060v1"/>
<path stroke="#fc540c" stroke-width="7" d="M877 1061v1"/>
<path stroke="#fc3c0c" stroke-width="7" d="M877 1062v3"/>
<path stroke="#fc240c" stroke-width="7" d="M877 1065v4"/>
<path stroke="#e40c0c" stroke-width="7" d="M877 1069v5"/>
<path stroke="#cc0c0c" stroke-width="7" d="M877 1074v3m0 28v1"/>
<path stroke="#b40c0c" stroke-width="7" d="M877 1077v3"/>
<path stroke="#9c0c0c" stroke-width="7" d="M877 1080v16"/>
<path stroke="#840c0c" stroke-width="7" d="M877 1096v9"/>
<path stroke="#fc0c0c" stroke-width="7" d="M877 1106v16"/>
</g>
</g>
<rect x="260.5" y="969.5" width="1550" height="152.5" stroke="#000" stroke-width="1.6" fill="none"/>
<svg x="260" y="1133" width="1551" height="223" viewBox="260 1133 1551 223" overflow="hidden">
<path d="M261 1179.5H1810M261 1244.5H1810M261 1309.5H1810" stroke="#000" stroke-width="1" stroke-dasharray="1 4" fill="none"/>
<path d="M441.5 1136V1355M622.5 1136V1355M803.5 1136V1355M1087.5 1136V1355M1267.5 1136V1355M1448.5 1136V1355M1628.5 1136V1355" stroke="#000" stroke-width="1" stroke-dasharray="1 4" fill="none"/>
<path d="M261.1 1172.8 265.6 1170.5 267.9 1173.6 269.5 1179.7 272.5 1189.6 273.3 1196.5 270.2 1206.5 273.3 1212.6 278.6 1219.4 280.9 1228.6 283.2 1234.7 297 1237.8 294.7 1234.7 291.6 1229.4 292.4 1222.5 290.1 1219.4 280.9 1212.6 277.9 1206.5 272.5 1203.4 273.3 1200.3 275.6 1195 277.1 1188.1 280.2 1185.8 284.8 1188.1 288.6 1191.2 293.2 1197.3 297 1198.8 299.3 1201.9 297.8 1205.7 300.8 1205.7 305.4 1203.4 306.9 1198.8 311.5 1195.7 317.6 1192.7 317.6 1182 316.9 1177.4 311.5 1172.8 305.4 1166.7 301.6 1160.6 303.9 1156.8 314.6 1147.6 319.2 1147.6 322.2 1150.6 326.8 1149.1 332.9 1146.8 337.5 1144.1 342.1 1143.8 348.2 1142.2 353.6 1139.2 355.9 1136.1 359.7 1133.8M314.6 1159.1 319.2 1156 324.5 1156.8 325.3 1159.1 320.7 1164.4 316.1 1163.6zM364.3 1139.9 368.1 1134.6 371.9 1134.6 370.4 1143 367.3 1146.8 363.5 1141.5zM366.6 1163.6 374.2 1162.9 375 1169.8 371.9 1175.9 369.6 1178.9 375 1183.5 381.9 1186.6 387.2 1190.4 388.7 1196.5 386.4 1203.4 391 1205.7 392.6 1214.1 388 1219.4 381.9 1216.4 380.3 1213.3 377.3 1207.2 373.4 1198.8 369.6 1191.2 366.6 1185 363.5 1178.9 362.7 1173.6 365.8 1171.3zM352.8 1207.2 362.7 1196.5M261.1 1220.2 267.2 1221 273.3 1227.1 280.2 1232.4 288.6 1237.8 292.4 1240.9 294.7 1247 300.8 1252.3 306.9 1256.9 308.5 1260M300.8 1251.4 305.4 1255.2 303.9 1259.1 303.1 1268.2 296.2 1268.2 291.6 1263.6 284 1256 279.4 1249.1 273.3 1239.9 265.6 1230M261.1 1226.3 265.6 1229.4 271.8 1235.5 274.8 1241.6 279.4 1249.3 284 1260M360.4 1221.7 352 1214.1 344.4 1221.7 337.5 1226.3 326.8 1231.7 325.3 1236.3 316.9 1236.3 316.1 1242.4 319.2 1249.3 321.5 1256.9 324.5 1260M360.4 1221.7 353.6 1230.2 355.1 1235.5 359.7 1240.1 355.1 1243.9 352.8 1249.3 348.2 1253.9 346.7 1260M326.8 1230 325.3 1235.4 316.9 1236.1 316.1 1243 319.2 1249.1 321.5 1256.8 326.8 1258.3 334.5 1258.3 340.6 1261.3 345.9 1259.1 349 1253.7 349.7 1250.6 352.8 1245.3 355.9 1239.9 358.9 1239.9 353.6 1230M302.3 1269 311.5 1271.3 316.1 1273.6 323.7 1272 331.4 1273.6 337.5 1275.9 342.1 1278.9 353.6 1279.7 365 1279.7 378.8 1280.5 368.1 1288.1 363.5 1285 349.7 1283.5 334.5 1281.2 323 1279.7 311.5 1277.4 302.3 1272.8zM378.8 1280.5 388 1277.4 394.9 1280.5 384.1 1285 378.8 1288.9zM360.4 1245.3 363.5 1241.5 368.9 1238.4 377.3 1238.4 387.2 1237.6 384.1 1241.5 377.3 1242.2 368.9 1243.8 371.1 1246.8 378.8 1247.6 372.7 1251.4 375 1259.1 376.5 1268.2 372.7 1267.5 370.4 1260.6 366.6 1257.5 364.3 1268.2 360.4 1266.7 361.2 1259.8 358.9 1258.3 360.4 1251.4 360.4 1245.3M395.6 1236.9 398.7 1234.6 401 1238.4 400.2 1245.3 401 1251.4 396.4 1249.9 397.9 1243.8zM335.2 1355.4 336.7 1344.7 340.6 1340.1 348.2 1334.7 357.4 1331.7 368.1 1329.4 372.7 1321.7 373.4 1319.4 377.3 1316.4 383.4 1311 388 1305.7 394.1 1304.9 399.4 1309.5 404.8 1307.2 407.8 1301.9M408.2 1301.2 411.6 1294.4 418.4 1295.1 425.1 1298.5 435.3 1298.5 432.6 1304.6 433.9 1312.7 441.4 1317.4 450.2 1322.2 456.2 1312.7 458.3 1292.4 461 1291 464.4 1297.1 468 1299.1M398.7 1257.9 404.1 1256.5 410.2 1259.9 404.1 1260.6zM408.2 1245 416.3 1243.7 421.7 1247.7 425.1 1253.1 429.9 1256.5 438 1251.1 447.4 1251.8 461 1256.5 468 1258.6M468 1277.5 462.3 1284.3 455.6 1282.9 442 1279.5 443.4 1273.4 435.3 1264.6 424.4 1260.6 417 1255.2 412.3 1249.8 408.2 1245M409.6 1245 415 1245 420.4 1247.7 423.1 1251.8 416.3 1251.8 410.9 1249.1zM310.8 1255.2 313.8 1255.2 313.8 1258.3 310.8 1258.3zM391 1257.5 394.1 1257.5 394.1 1260.6 391 1260.6zM458 1255.8 466.1 1257.9 472.9 1262.6 478.3 1268 483.7 1269.4 482.4 1274.8 485.1 1278.8 491.8 1287 496.6 1289.7 493.2 1291.7 486.4 1288.3 479.7 1281.6 468.8 1276.1 462.1 1283.6 458 1284.9M485.1 1269.4 491.8 1271.4 501.3 1266 504.7 1261.3 497.9 1255.8 504.7 1262.6 498.6 1268.7 487.1 1268M512.8 1267.3 517.5 1272.1 524.3 1274.8M529.7 1276.8 535.1 1279.5M533.8 1285.6 539.2 1287 546 1291.7M539.2 1279.5 542.6 1285.6M564.9 1308.6 570.3 1317.4M554.8 1333.7 560.8 1337 566.9 1342.4 562.2 1341.8 555.4 1336.4zM652.9 1301.9 660.3 1304.6M458 1291.7 460.7 1293.1 464.1 1301.2 466.1 1305.9 473.6 1309.3 475.6 1319.4 478.3 1327.6 485.7 1333 490.5 1341.1 496.6 1344.5 498.6 1350.6 503.3 1354.6M610.2 1322.2 613.6 1319.4 615 1322.2 612.3 1324.2zM615 1317.4 622.4 1315.4M716.9 1149.5 725.1 1152.6 731.2 1158.7 727.1 1161.8 725.1 1156.7zM1333 1134.1 1324.8 1147.4 1328.9 1160.8 1324.8 1177.2 1321.7 1182.3 1331 1195.6 1339.2 1207.9 1349.4 1218.2 1365.8 1226.4 1384.3 1222.3 1394.5 1220.2 1404.8 1216.1 1415 1215.1M913.5 1133.7 924.7 1144.2 927 1140.5 921 1134.5M931.5 1134.5 937.5 1140.5 943.5 1148 942 1155.5 949.5 1161.5 960 1167.5 972 1172 984 1175 990 1173.5 997.5 1179.5 1005 1184 1020 1187 1027.5 1194.5 1030.5 1202 1042.5 1208 1050 1214 1056 1205 1060.5 1206.5 1063.5 1214 1065 1223 1059 1235 1050 1244 1048.5 1253 1051.5 1260.5M976.5 1133.7 975.7 1143.5 981 1155.5 987 1162.2 996 1163.7 1005 1160 1008 1151 1023 1148.7 1024.5 1149.5 1020 1163 1017 1173.5 1015.5 1175 1035 1175 1039.5 1178 1036.5 1194.5 1039.5 1202 1050 1206.5 1056 1203.5 1059 1203.5 1066.5 1209.5 1072.5 1199 1084.5 1193 1089 1190 1096.5 1191.5 1102.5 1196 1114.5 1198.2 1131 1197.5 1134 1203.5 1137 1209.5 1152 1218.5 1168.5 1220 1177.5 1227.5 1182 1238 1179 1245.5 1185 1245.5 1198.5 1248.5M1087.5 1190 1089.7 1197.5 1089 1205M1032 1147.2 1039.5 1143.5 1047 1141.2 1056 1143.5 1065 1148 1074 1152.5 1078.5 1156.2 1069.5 1157 1062 1154.7 1056 1151 1048.5 1146.5 1041 1146.5zM1081.5 1156.2 1090.5 1155.5 1099.5 1160 1104 1163.7 1095 1165.2 1086 1166 1080 1163.7zM1060.5 1163.7 1066.5 1162.2 1069.5 1165.2 1063.5 1166.7zM1108.5 1163 1114.5 1163 1115.2 1166 1109.2 1166zM1074 1140.5 1080 1145M1197.7 1249.9 1208 1253 1222.3 1257.1 1242.8 1265.3 1246.9 1273.5 1246.9 1281.7 1240.8 1292 1232.6 1302.2 1228.5 1314.5 1226.4 1330.9 1216.2 1343.2 1201.8 1349.4 1193.6 1355.5M1048.1 1263.3 1050.1 1273.5 1058.3 1282.7 1066.5 1294 1070.6 1306.3 1082.9 1314.5 1093.2 1322.7 1095.2 1335 1093.2 1355.5M1410 1216.1 1418.1 1217.1 1422.2 1225.2 1434.3 1226.2 1438.4 1231.3 1436.3 1247.5 1446.5 1259.6 1452.5 1271.8 1454.6 1281.9 1456.6 1292 1452.5 1300.1 1448.5 1312.3 1448.5 1324.4 1454.6 1334.5 1458.6 1344.7 1460.6 1354.8M1547.7 1134.1 1551.8 1139.1 1555.8 1144.2 1556.8 1154.3 1560.9 1160.4 1565.9 1168.5 1570 1176.6 1578.1 1182.7 1583.1 1186.7 1585.2 1194.8 1589.2 1198.9 1600.4 1195.8 1612.5 1192.8 1617.6 1193.8 1616.6 1202.9 1611.5 1214 1604.4 1223.2 1594.3 1233.3 1584.2 1242.4 1576.1 1251.5 1570 1256.6 1565.9 1269.7 1568 1279.9 1571 1290 1573 1308.2 1565.9 1318.3 1559.9 1320.4 1551.8 1329.5 1547.7 1334.5 1549.7 1344.7 1549.7 1354.8M1558.8 1135.1 1564.9 1142.2 1565.9 1152.3 1570 1158.4 1578.1 1170.5 1582.1 1180.6 1585.2 1189.7 1598.3 1185.7 1610.5 1179.6 1624.7 1173.5 1634.8 1167.5 1642.9 1159.4 1649 1152.3 1655 1145.2 1649 1138.1 1642.9 1135.1M1618.6 1136.1 1624.7 1135.1 1630.7 1134.1M1685.4 1134.1 1695.5 1142.2 1699.6 1146.2 1707.7 1148.2 1709.7 1156.3 1713.8 1174.6 1719.8 1184.7 1723.9 1194.8 1729 1209 1732 1205.9 1740.1 1194.8 1742.1 1176.6 1754.3 1168.5 1766.4 1160.4 1772.5 1150.3 1790.7 1144.2 1798.8 1156.3 1802.9 1166.5 1804.9 1176.6 1810 1176.6M1742.1 1200.9 1748.2 1209 1750.2 1216.1 1745.2 1219.1 1740.1 1215.1 1741.1 1207zM1586.2 1355.8 1584.2 1342.6 1588.2 1332.5 1586.2 1322.4 1588.2 1314.3 1600.4 1306.2 1608.5 1296.1 1612.5 1302.1 1614.5 1310.2 1610.5 1322.4 1606.4 1336.6 1602.4 1355.8M1533.5 1245.4 1542.6 1243.4 1544.7 1250.5 1535.6 1255.6zM1453.5 1182.7 1458.6 1183.7 1463.1 1187.7 1458.6 1189.7zM1625.7 1189.7 1631.7 1189.7M1796.8 1186.7 1795.8 1192.8" stroke="#000" stroke-width="2.1" fill="none" stroke-linejoin="round" stroke-linecap="round"/>
<path d="M425.1 1269.4 426.5 1272.8M412.9 1274.8 413.6 1277.5M430.5 1247.1 432.6 1249.1M372.7 1213.7 373.4 1214.5M262.6 1234 263.4 1234.7M266.4 1237.6 269.5 1240.7M272.5 1248.3 274.8 1251.4M383.4 1252.2 386.4 1252.2M524.3 1278.2 527.7 1280.9M478.3 1253.1 481.7 1253.1M706.6 1147.4 710.7 1146.4M1060.5 1134.5 1063.5 1138.2M1071 1136 1075.5 1139M1083 1145 1086 1148M1131 1172.7 1132.5 1174.2M1133.2 1179.5 1134.7 1181M1004.2 1245.5 1005.7 1247M1522.4 1258.6 1531.5 1281.9M1543.7 1285.9 1549.7 1307.2M1635.8 1336.6 1637.8 1337.6M1643.9 1332.5 1645.9 1333.5M1807.9 1221.1 1810 1225.2" stroke="#000" stroke-width="3.6" fill="none" stroke-linecap="round"/>
<polyline points="260.7,1263.3 267.5,1264.8 277.2,1267 288.5,1269.5 300,1272 311.7,1274.7 324.3,1277.5 337.2,1280.4 350,1283 362.3,1285.2 374.5,1287.3 386.9,1289.2 400,1291 413.8,1292.9 428.2,1294.7 442.9,1296.4 458,1297.8 473.9,1299 490.5,1299.9 506.7,1300.7 521.6,1301.2 534.5,1301.5 546.1,1301.6 557.2,1301.5 569,1301.2 581.7,1300.8 594.7,1300.2 607.7,1299.4 620.4,1298.5 632.9,1297.3 645.4,1296 657.3,1294.5 668,1293.1 676.9,1291.7 684.5,1290.3 691.8,1288.9 700,1287.5 710.4,1285.9 722,1284.2 732.6,1282.7 740,1281.7" stroke="#d42020" stroke-width="1.2" fill="none"/>
<polyline points="1014,1243 1013.5,1243.1 1012.5,1243.4 1013.5,1243.2 1019.4,1241.7 1032.1,1238.4 1049.7,1233.8 1069.1,1228.8 1087,1224.3 1102.8,1220.5 1118.1,1216.8 1133.3,1213.4 1148.5,1210 1163.9,1206.7 1179.2,1203.4 1194.6,1200.4 1210,1197.7 1225.1,1195.4 1240.1,1193.5 1255.4,1191.9 1271.5,1190.5 1288.7,1189.3 1306.6,1188.4 1324.9,1187.8 1343,1187.4 1362.1,1187.4 1382,1187.6 1400.4,1188 1415,1188.4 1422.6,1188.4 1425.4,1188.3 1428.8,1188.5 1438.4,1189.7 1457.1,1192.2 1481.4,1195.6 1507.4,1199.4 1531.5,1202.9 1551.7,1205.6 1570.2,1208.1 1589.7,1210.9 1612.5,1215.1 1641.1,1221.3 1673.6,1228.8 1705.9,1236.6 1734,1243.4 1758,1249.3 1779.6,1254.8 1797.4,1259.4 1810,1262.6" stroke="#d42020" stroke-width="1.2" fill="none"/>
<polyline points="260,1209 270.2,1209 284.9,1208.9 301.5,1208.9 317.4,1208.9 330,1209 337.7,1209.2 342.4,1209.6 346.2,1210 351.3,1210.3 360,1210.5 373.7,1210.4 391,1210.2 409.6,1209.8 427.3,1209.6 442,1209.5 452.7,1209.6 460.8,1209.7 467.8,1209.9 475,1210.3 484,1211 494.6,1211.9 506,1213 518.2,1214.4 531.2,1216 545,1218 560.7,1220.6 578.3,1223.7 596.1,1227 612.9,1230 627,1232.5 637.6,1234.2 645.7,1235.4 652.6,1236.3 659.6,1237.2 668,1238.3 677.3,1239.4 686.7,1240.5 696.9,1241.7 708.7,1243.1 723,1244.8 740.8,1247 761.6,1249.6 783.7,1252.4 805.6,1255.3 825.5,1258.1 843,1260.7 859,1263.3 874.6,1265.9 890.4,1268.6 907.5,1271.5 927.6,1274.9 950.1,1278.6 972.3,1282.4 991.5,1285.6 1005,1287.9 1035.8,1292 1068,1297.5 1138.3,1281.7 1199.8,1248.9 1269.5,1214 1328.9,1199.7 1335.6,1199.2 1344.9,1198.5 1356,1197.7 1368,1197 1380,1196.5 1392.3,1196.2 1405.6,1196.1 1419.3,1196.1 1432.9,1196.1 1446,1196.2 1458.4,1196.3 1470.3,1196.4 1482.1,1196.6 1494,1196.9 1506,1197.5 1518.3,1198.3 1530.7,1199.2 1543.1,1200.3 1555.6,1201.6 1568,1203 1580.4,1204.7 1592.9,1206.7 1605.3,1208.8 1617.7,1210.7 1630,1212 1642,1212.8 1653.7,1213.1 1665.4,1213.2 1677.4,1213.2 1690,1213 1703.7,1212.7 1718.2,1212.2 1733,1211.6 1747.1,1211 1760,1210.5 1772.1,1210.2 1783.8,1209.9 1794.6,1209.8 1803.5,1209.6 1810,1209.5" stroke="#1ee61e" stroke-width="5.2" fill="none" stroke-linejoin="round"/>
<path d="M734 1276.9 744.3 1274.7 746.8 1286.5 736.5 1288.7zM748.4 1273.8 758.7 1271.7 761.2 1283.4 750.9 1285.5zM761.9 1271 772.2 1269.1 774.3 1281 764 1282.9zM776.2 1268.6 786.5 1266.6 788.8 1278.4 778.5 1280.4zM790.3 1265.8 800.5 1263.3 803.3 1275 793.1 1277.5zM803.6 1262.3 813.8 1259.8 816.6 1271.5 806.4 1274zM818.1 1259 828.3 1256.7 830.9 1268.4 820.7 1270.7zM832.3 1256 842.5 1253.5 845.3 1265.2 835.1 1267.7zM845.7 1252.5 855.9 1250 858.7 1261.7 848.5 1264.2zM859 1249.4 869.2 1246.9 872 1258.6 861.8 1261.1zM871.3 1246.3 881.5 1243.8 884.3 1255.5 874.1 1258zM883.6 1243.3 893.8 1240.8 896.6 1252.5 886.4 1255zM896.9 1240.1 907.2 1237.8 909.9 1249.5 899.6 1251.8z" fill="#f01010"/>
<path d="M1012.8 1237.2 1023 1234.6 1026 1246.2 1015.8 1248.8zM1026.6 1233.6 1036.8 1231 1039.8 1242.6 1029.6 1245.2zM1040.4 1230 1050.6 1227.4 1053.6 1239 1043.4 1241.6zM1054.2 1226.4 1064.4 1223.8 1067.4 1235.5 1057.2 1238.1zM1068 1222.9 1078.2 1220.3 1081.1 1232 1071 1234.5zM1081.9 1219.4 1092.1 1216.9 1094.9 1228.5 1084.7 1231zM1095.7 1216 1106 1213.5 1108.8 1225.2 1098.5 1227.7zM1109.6 1212.7 1119.9 1210.3 1122.6 1222 1112.4 1224.3zM1123.6 1209.4 1133.8 1207.1 1136.5 1218.8 1126.2 1221.1zM1137.5 1206.3 1147.7 1204 1150.3 1215.7 1140.1 1218zM1151.4 1203.2 1161.7 1201 1164.2 1212.7 1154 1214.9zM1165.4 1200.2 1175.7 1198 1178.1 1209.8 1167.9 1211.9zM1179.4 1197.3 1189.7 1195.2 1192 1207 1181.7 1209zM1193.5 1194.5 1203.8 1192.7 1206 1204.5 1195.6 1206.3zM1207.7 1192 1218 1190.4 1219.9 1202.3 1209.5 1203.9zM1221.9 1189.8 1232.3 1188.4 1233.9 1200.3 1223.5 1201.7zM1236.1 1188 1246.6 1186.8 1247.9 1198.7 1237.5 1199.9zM1250.4 1186.4 1260.8 1185.4 1262 1197.3 1251.5 1198.3zM1264.7 1185 1275.2 1184.2 1276.1 1196.2 1265.6 1197zM1279 1184 1289.5 1183.4 1290.2 1195.4 1279.7 1196zM1293.3 1183.3 1303.8 1182.8 1304.4 1194.8 1293.9 1195.2zM1307.6 1182.6 1318.1 1182.2 1318.6 1194.2 1308.1 1194.6zM1321.9 1182.1 1332.4 1181.8 1332.8 1193.8 1322.3 1194.1zM1336.1 1181.6 1346.6 1181.3 1347 1193.3 1336.5 1193.6z" fill="#f01010"/>
<polygon points="470.9,1176.8 472.9,1182.1 478.5,1182.3 474.1,1185.8 475.6,1191.3 470.9,1188.2 466.2,1191.3 467.7,1185.8 463.3,1182.3 468.9,1182.1" stroke="#cc33cc" stroke-width="1.2" fill="none"/>
<polygon points="567.9,1195.1 569.9,1200.4 575.5,1200.6 571.1,1204.1 572.6,1209.6 567.9,1206.5 563.2,1209.6 564.7,1204.1 560.3,1200.6 565.9,1200.4" stroke="#cc33cc" stroke-width="1.2" fill="none"/>
<polygon points="718.9,1226.6 720.9,1231.9 726.5,1232.1 722.1,1235.6 723.6,1241.1 718.9,1238 714.2,1241.1 715.7,1235.6 711.3,1232.1 716.9,1231.9" stroke="#cc33cc" stroke-width="1.2" fill="none"/>
<polygon points="1066.5,1287 1068.5,1292.3 1074.1,1292.5 1069.7,1296 1071.2,1301.5 1066.5,1298.4 1061.8,1301.5 1063.3,1296 1058.9,1292.5 1064.5,1292.3" stroke="#cc33cc" stroke-width="1.2" fill="none"/>
<polygon points="1206.9,1247 1208.9,1252.3 1214.5,1252.5 1210.1,1256 1211.6,1261.5 1206.9,1258.4 1202.2,1261.5 1203.7,1256 1199.3,1252.5 1204.9,1252.3" stroke="#cc33cc" stroke-width="1.2" fill="none"/>
</svg>
<path d="M261 1179.5h16M1810 1179.5h-16M261 1244.5h16M1810 1244.5h-16M261 1309.5h16M1810 1309.5h-16M441.5 1134v16M441.5 1355v-16M622.5 1134v16M622.5 1355v-16M803.5 1134v16M803.5 1355v-16M1087.5 1134v16M1087.5 1355v-16M1267.5 1134v16M1267.5 1355v-16M1448.5 1134v16M1448.5 1355v-16M1628.5 1134v16M1628.5 1355v-16" stroke="#000" stroke-width="1.2" fill="none"/>
<rect x="260.5" y="1133.5" width="1550" height="222" stroke="#000" stroke-width="1.6" fill="none"/>
<g font-family="Liberation Sans, sans-serif" xml:space="preserve"><text x="751.1" y="114" font-size="28" fill="#000" font-weight="bold" textLength="564.5" lengthAdjust="spacing">Day 284  11-Oct-2009 04:29:08   orbit 8054</text>
<text x="209.6" y="145.5" font-size="28" fill="#000">10</text>
<text x="241.8" y="128.2" font-size="18" fill="#000">6</text>
<text x="209.6" y="309.1" font-size="28" fill="#000">10</text>
<text x="241.9" y="291.8" font-size="18" fill="#000">5</text>
<text x="209.6" y="472.1" font-size="28" fill="#000">10</text>
<text x="242" y="454.8" font-size="18" fill="#000">4</text>
<text x="209.6" y="634.9" font-size="28" fill="#000">10</text>
<text x="241.9" y="617.6" font-size="18" fill="#000">3</text>
<text x="209.6" y="797.9" font-size="28" fill="#000">10</text>
<text x="241.9" y="780.6" font-size="18" fill="#000">2</text>
<text x="1818.3" y="920.6" font-size="28" fill="#1a1ad0">400</text>
<text x="1818.3" y="839" font-size="28" fill="#1a1ad0">450</text>
<text x="1818" y="757.3" font-size="28" fill="#1a1ad0">500</text>
<text x="1818" y="675.7" font-size="28" fill="#1a1ad0">550</text>
<text x="1817.9" y="594" font-size="28" fill="#1a1ad0">600</text>
<text x="1817.9" y="512.4" font-size="28" fill="#1a1ad0">650</text>
<text x="1817.9" y="430.8" font-size="28" fill="#1a1ad0">700</text>
<text x="1817.9" y="349.1" font-size="28" fill="#1a1ad0">750</text>
<text x="1818" y="267.5" font-size="28" fill="#1a1ad0">800</text>
<text x="1818" y="185.8" font-size="28" fill="#1a1ad0">850</text>
<text x="203.7" y="1004.5" font-size="28" fill="#000">10</text>
<text x="235.4" y="988.2" font-size="18" fill="#000">-1</text>
<text x="203.7" y="1055.5" font-size="28" fill="#000">10</text>
<text x="236" y="1039" font-size="18" fill="#000">0</text>
<text x="203.7" y="1106.5" font-size="28" fill="#000">10</text>
<text x="235.7" y="1089.7" font-size="18" fill="#000">1</text>
<text x="186.9" y="1192.8" font-size="28" fill="#000">15</text>
<text x="219.4" y="1179.6" font-size="22" fill="#000">o</text>
<text x="231.8" y="1192.8" font-size="28" fill="#000">N</text>
<text x="214.7" y="1257.7" font-size="28" fill="#000">0</text>
<text x="231.5" y="1244.8" font-size="22" fill="#000">o</text>
<text x="187.9" y="1322.9" font-size="28" fill="#000">15</text>
<text x="220.4" y="1309.9" font-size="22" fill="#000">o</text>
<text x="232.7" y="1322.9" font-size="28" fill="#000">S</text>
<text x="1499.7" y="843.7" font-size="28" fill="#1a1ad8">Eclipse</text>
<text x="1499.5" y="884.5" font-size="28" fill="#000" textLength="255.8" lengthAdjust="spacing">One Minute Average</text>
<text x="1499.1" y="926.5" font-size="28" fill="#22dd22">One Second Average</text>
<text x="256" y="1402" font-size="28" fill="#000" text-anchor="middle">GLON</text>
<text x="440.5" y="1402" font-size="28" fill="#000" text-anchor="middle">137.9</text>
<text x="621.5" y="1402" font-size="28" fill="#000" text-anchor="middle">180.1</text>
<text x="802.5" y="1402" font-size="28" fill="#000" text-anchor="middle">222.0</text>
<text x="1086.5" y="1402" font-size="28" fill="#000" text-anchor="middle">288.1</text>
<text x="1266.5" y="1402" font-size="28" fill="#000" text-anchor="middle">329.8</text>
<text x="1447.5" y="1402" font-size="28" fill="#000" text-anchor="middle">011.8</text>
<text x="1627.5" y="1402" font-size="28" fill="#000" text-anchor="middle">053.8</text>
<text x="1808.5" y="1402" font-size="28" fill="#000" text-anchor="middle">095.8</text>
<text x="256" y="1442.7" font-size="28" fill="#000" text-anchor="middle">GLAT</text>
<text x="440.5" y="1442.7" font-size="28" fill="#000" text-anchor="middle">-11.8</text>
<text x="621.5" y="1442.7" font-size="28" fill="#000" text-anchor="middle">-12.4</text>
<text x="802.5" y="1442.7" font-size="28" fill="#000" text-anchor="middle">-05.8</text>
<text x="1086.5" y="1442.7" font-size="28" fill="#000" text-anchor="middle">+04.3</text>
<text x="1266.5" y="1442.7" font-size="28" fill="#000" text-anchor="middle">+11.8</text>
<text x="1447.5" y="1442.7" font-size="28" fill="#000" text-anchor="middle">+12.4</text>
<text x="1627.5" y="1442.7" font-size="28" fill="#000" text-anchor="middle">+05.8</text>
<text x="1808.5" y="1442.7" font-size="28" fill="#000" text-anchor="middle">-04.3</text>
<text x="256" y="1483.4" font-size="28" fill="#000" text-anchor="middle"> GALT</text>
<text x="440.5" y="1483.4" font-size="28" fill="#000" text-anchor="middle"> 434</text>
<text x="621.5" y="1483.4" font-size="28" fill="#000" text-anchor="middle"> 561</text>
<text x="802.5" y="1483.4" font-size="28" fill="#000" text-anchor="middle"> 726</text>
<text x="1086.5" y="1483.4" font-size="28" fill="#000" text-anchor="middle"> 833</text>
<text x="1266.5" y="1483.4" font-size="28" fill="#000" text-anchor="middle"> 806</text>
<text x="1447.5" y="1483.4" font-size="28" fill="#000" text-anchor="middle"> 670</text>
<text x="1627.5" y="1483.4" font-size="28" fill="#000" text-anchor="middle"> 506</text>
<text x="1808.5" y="1483.4" font-size="28" fill="#000" text-anchor="middle"> 409</text>
<text x="256" y="1524.1" font-size="28" fill="#000" text-anchor="middle">MLON</text>
<text x="440.5" y="1524.1" font-size="28" fill="#000" text-anchor="middle">209.5</text>
<text x="621.5" y="1524.1" font-size="28" fill="#000" text-anchor="middle">253.7</text>
<text x="802.5" y="1524.1" font-size="28" fill="#000" text-anchor="middle">293.4</text>
<text x="1086.5" y="1524.1" font-size="28" fill="#000" text-anchor="middle">359.4</text>
<text x="1266.5" y="1524.1" font-size="28" fill="#000" text-anchor="middle">046.8</text>
<text x="1447.5" y="1524.1" font-size="28" fill="#000" text-anchor="middle">083.4</text>
<text x="1627.5" y="1524.1" font-size="28" fill="#000" text-anchor="middle">125.2</text>
<text x="1808.5" y="1524.1" font-size="28" fill="#000" text-anchor="middle">166.4</text>
<text x="256" y="1564.8" font-size="28" fill="#000" text-anchor="middle">MLAT</text>
<text x="440.5" y="1564.8" font-size="28" fill="#000" text-anchor="middle">-21.0</text>
<text x="621.5" y="1564.8" font-size="28" fill="#000" text-anchor="middle">-15.2</text>
<text x="802.5" y="1564.8" font-size="28" fill="#000" text-anchor="middle">-02.5</text>
<text x="1086.5" y="1564.8" font-size="28" fill="#000" text-anchor="middle">+17.3</text>
<text x="1266.5" y="1564.8" font-size="28" fill="#000" text-anchor="middle">+07.6</text>
<text x="1447.5" y="1564.8" font-size="28" fill="#000" text-anchor="middle">-00.8</text>
<text x="1627.5" y="1564.8" font-size="28" fill="#000" text-anchor="middle">-02.8</text>
<text x="1808.5" y="1564.8" font-size="28" fill="#000" text-anchor="middle">-14.7</text>
<text x="256" y="1605.5" font-size="28" fill="#000" text-anchor="middle">UT</text>
<text x="440.5" y="1605.5" font-size="28" fill="#000" text-anchor="middle">05:34</text>
<text x="621.5" y="1605.5" font-size="28" fill="#000" text-anchor="middle">05:46</text>
<text x="802.5" y="1605.5" font-size="28" fill="#000" text-anchor="middle">05:58</text>
<text x="1086.5" y="1605.5" font-size="28" fill="#000" text-anchor="middle">04:34</text>
<text x="1266.5" y="1605.5" font-size="28" fill="#000" text-anchor="middle">04:47</text>
<text x="1447.5" y="1605.5" font-size="28" fill="#000" text-anchor="middle">04:59</text>
<text x="1627.5" y="1605.5" font-size="28" fill="#000" text-anchor="middle">05:11</text>
<text x="1808.5" y="1605.5" font-size="28" fill="#000" text-anchor="middle">05:23</text>
<text x="256" y="1646.2" font-size="28" fill="#000" text-anchor="middle">SLT </text>
<text x="440.5" y="1646.2" font-size="28" fill="#000" text-anchor="middle">15:00</text>
<text x="621.5" y="1646.2" font-size="28" fill="#000" text-anchor="middle">18:00</text>
<text x="802.5" y="1646.2" font-size="28" fill="#000" text-anchor="middle">21:00</text>
<text x="1086.5" y="1646.2" font-size="28" fill="#000" text-anchor="middle">00:00</text>
<text x="1266.5" y="1646.2" font-size="28" fill="#000" text-anchor="middle">03:00</text>
<text x="1447.5" y="1646.2" font-size="28" fill="#000" text-anchor="middle">06:00</text>
<text x="1627.5" y="1646.2" font-size="28" fill="#000" text-anchor="middle">09:00</text>
<text x="1808.5" y="1646.2" font-size="28" fill="#000" text-anchor="middle">12:00</text>
<text x="185.2" y="1152" font-size="28" fill="#000" transform="rotate(-90 185.2 1152)">Wavelength (km)</text>
<text x="1901.6" y="592" font-size="28" fill="#1a1ad0" transform="rotate(-90 1901.6 592)">alt (km)</text>
<text x="1898" y="1664.4" font-size="21.6" fill="#000" transform="rotate(-90 1898 1664.4)">Preliminary corrected calibration, 2/11/09</text>
<text x="1924.5" y="1664.4" font-size="21.6" fill="#000" transform="rotate(-90 1924.5 1664.4)">Produced 16-Nov-2009 11:22:05</text>
<text transform="translate(179 599.3) rotate(-90)" font-size="28" fill="#000">N<tspan font-size="22" dy="13.8">i</tspan><tspan dy="-13.8"> (cm</tspan><tspan font-size="21" dy="-12.6">-3</tspan><tspan dy="12.6">)</tspan></text></g>
</svg></body></html>
